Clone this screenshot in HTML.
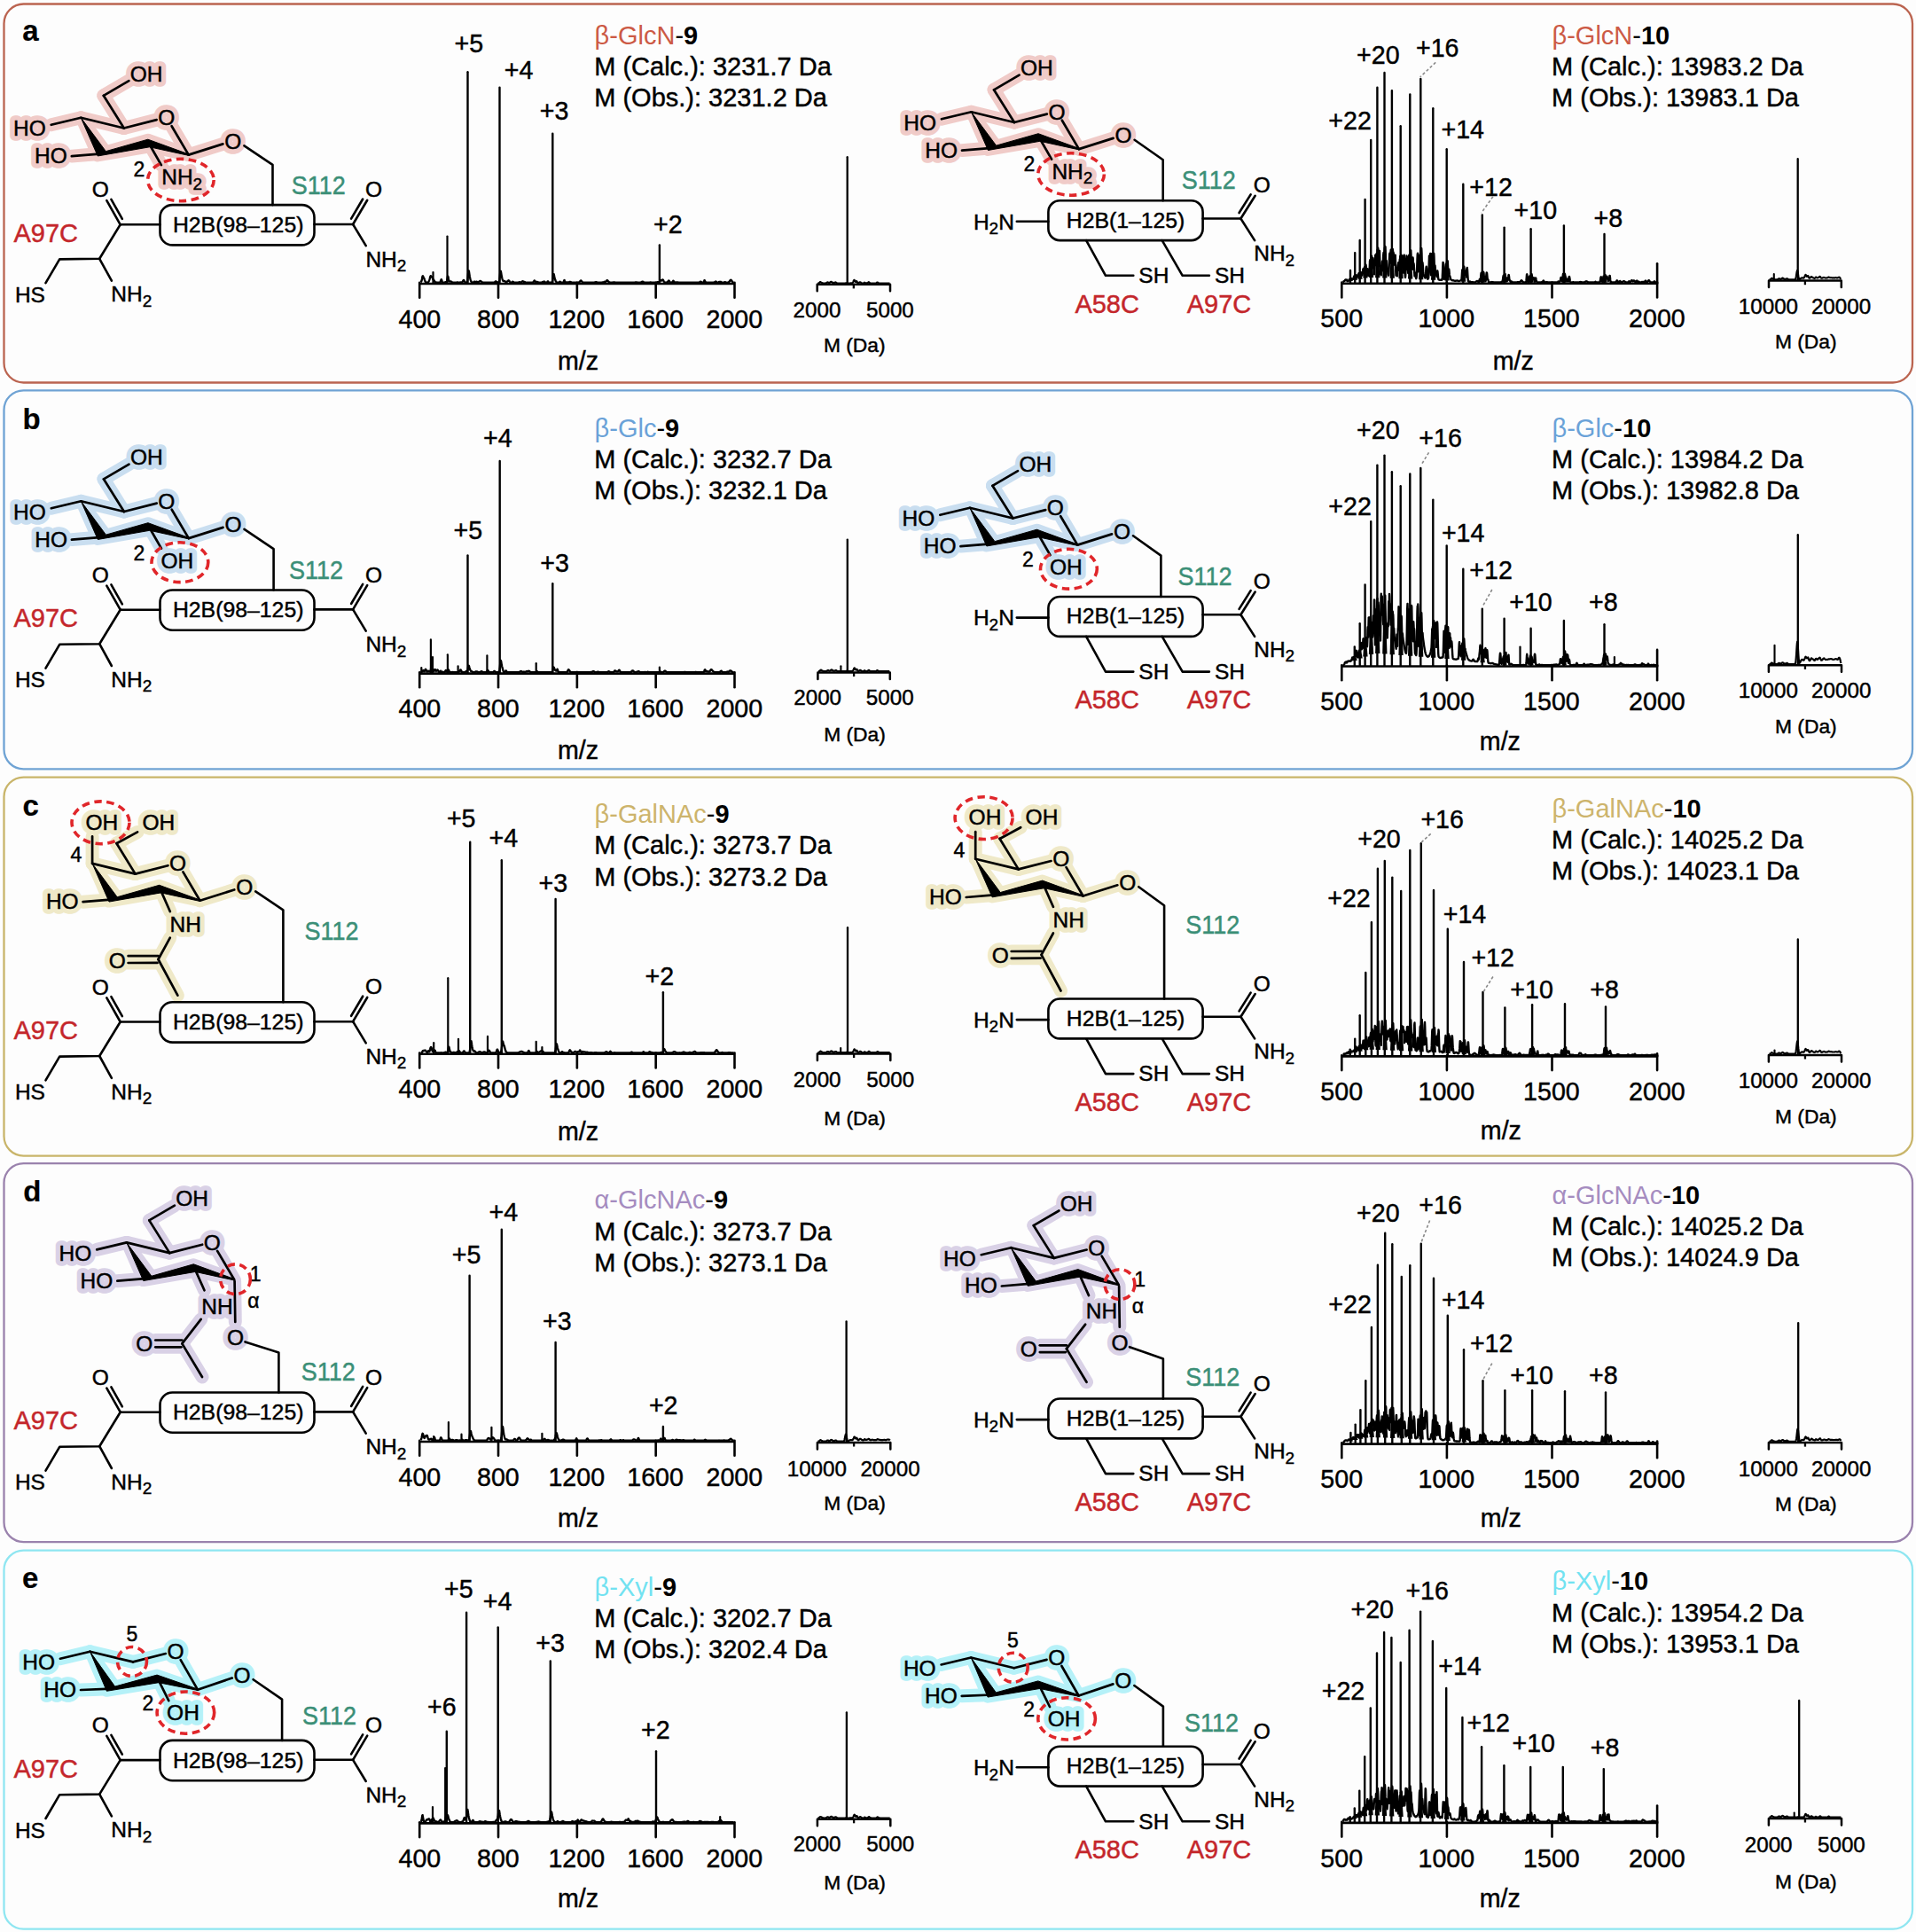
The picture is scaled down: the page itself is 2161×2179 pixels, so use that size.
<!DOCTYPE html>
<html><head><meta charset="utf-8"><title>Figure</title><style>html,body{margin:0;padding:0;background:#fdfdfd;}svg{display:block;}</style></head><body>
<svg xmlns="http://www.w3.org/2000/svg" width="2161" height="2179" viewBox="0 0 2161 2179" font-family="Liberation Sans, Arial, sans-serif">
<rect width="2161" height="2179" fill="#fdfdfd"/>
<rect x="4.5" y="4.5" width="2152.5" height="427" rx="22" ry="22" fill="none" stroke="#bb6450" stroke-width="2.3"/>
<rect x="4.5" y="440.3" width="2152.5" height="427" rx="22" ry="22" fill="none" stroke="#6fa3d4" stroke-width="2.3"/>
<rect x="4.5" y="876.6" width="2152.5" height="427" rx="22" ry="22" fill="none" stroke="#c9b56a" stroke-width="2.3"/>
<rect x="4.5" y="1312.1" width="2152.5" height="427" rx="22" ry="22" fill="none" stroke="#9a82ad" stroke-width="2.3"/>
<rect x="4.5" y="1748.7" width="2152.5" height="427" rx="22" ry="22" fill="none" stroke="#8fe6f1" stroke-width="2.3"/>
<text x="25.3" y="45.5" font-size="33" font-weight="bold" stroke="#000" stroke-width="0.2">a</text>
<g stroke="#f0cbc8" fill="#f0cbc8" stroke-linecap="round" stroke-linejoin="round">
<line x1="91.3" y1="132.8" x2="139.8" y2="144.5" stroke-width="15"/>
<line x1="139.8" y1="144.5" x2="176.65" y2="135.13" stroke-width="15"/>
<line x1="193.63" y1="142.21" x2="212.7" y2="174.6" stroke-width="15"/>
<path d="M91.3 132.8 L110.22 175.96 L168.76 165.79 L212.87 175.38 L212.53 173.82 L166.84 157.21 L119.38 170.64Z" stroke-width="13"/>
<line x1="139.8" y1="144.5" x2="116.8" y2="107.8" stroke-width="15"/>
<line x1="57.7" y1="140.8" x2="91.3" y2="132.8" stroke-width="15"/>
<text x="15" y="153.3" font-size="24.5" stroke-width="11.5">HO</text>
<line x1="116.8" y1="107.8" x2="145.4" y2="91.1" stroke-width="15"/>
<text x="146.8" y="91.8" font-size="24.5" stroke-width="11.5">OH</text>
<line x1="80.8" y1="176.1" x2="114.8" y2="173.3" stroke-width="15"/>
<text x="39.1" y="184" font-size="24.5" stroke-width="11.5">HO</text>
<text x="187.8" y="141.1" font-size="24.5" text-anchor="middle" stroke-width="11.5">O</text>
<line x1="212.7" y1="174.6" x2="251.45" y2="162.4" stroke-width="15"/>
<text x="262.9" y="167.6" font-size="24.5" text-anchor="middle" stroke-width="11.5">O</text>
<line x1="167.8" y1="161.5" x2="181.9" y2="186.1" stroke-width="15"/>
<text x="182.2" y="208" font-size="24.5" stroke-width="11.5">NH<tspan font-size="19" dy="5.5">2</tspan></text>
</g>
<line x1="91.3" y1="132.8" x2="139.8" y2="144.5" stroke="#000" stroke-width="2.7" stroke-linecap="round"/>
<line x1="139.8" y1="144.5" x2="176.65" y2="135.13" stroke="#000" stroke-width="2.7" stroke-linecap="round"/>
<line x1="193.63" y1="142.21" x2="212.7" y2="174.6" stroke="#000" stroke-width="2.7" stroke-linecap="round"/>
<path d="M91.3 132.8 L110.22 175.96 L168.76 165.79 L212.87 175.38 L212.53 173.82 L166.84 157.21 L119.38 170.64Z" fill="#000" stroke="#000" stroke-width="1" stroke-linejoin="round"/>
<line x1="139.8" y1="144.5" x2="116.8" y2="107.8" stroke="#000" stroke-width="2.7" stroke-linecap="round"/>
<line x1="57.7" y1="140.8" x2="91.3" y2="132.8" stroke="#000" stroke-width="2.7" stroke-linecap="round"/>
<text x="15" y="153.3" font-size="24.5" stroke="#000" stroke-width="0.45">HO</text>
<line x1="116.8" y1="107.8" x2="145.4" y2="91.1" stroke="#000" stroke-width="2.7" stroke-linecap="round"/>
<text x="146.8" y="91.8" font-size="24.5" stroke="#000" stroke-width="0.45">OH</text>
<line x1="80.8" y1="176.1" x2="114.8" y2="173.3" stroke="#000" stroke-width="2.7" stroke-linecap="round"/>
<text x="39.1" y="184" font-size="24.5" stroke="#000" stroke-width="0.45">HO</text>
<text x="187.8" y="141.1" font-size="24.5" text-anchor="middle" stroke="#000" stroke-width="0.45">O</text>
<line x1="212.7" y1="174.6" x2="251.45" y2="162.4" stroke="#000" stroke-width="2.7" stroke-linecap="round"/>
<text x="262.9" y="167.6" font-size="24.5" text-anchor="middle" stroke="#000" stroke-width="0.45">O</text>
<line x1="167.8" y1="161.5" x2="181.9" y2="186.1" stroke="#000" stroke-width="2.7" stroke-linecap="round"/>
<text x="182.2" y="208" font-size="24.5" stroke="#000" stroke-width="0.45">NH<tspan font-size="19" dy="5.5">2</tspan></text>
<text x="150.4" y="199.3" font-size="23" stroke="#000" stroke-width="0.45">2</text>
<ellipse cx="203.9" cy="203" rx="37.3" ry="23.7" fill="none" stroke="#e0262a" stroke-width="3.6" stroke-dasharray="8.5 5.5"/>
<rect x="180.5" y="231.1" width="174" height="45.3" rx="14" ry="14" fill="none" stroke="#000" stroke-width="2.6"/>
<text x="268.7" y="261.9" font-size="24.7" text-anchor="middle" textLength="147.6" lengthAdjust="spacingAndGlyphs" stroke="#000" stroke-width="0.45">H2B(98–125)</text>
<line x1="135.7" y1="253.3" x2="180.5" y2="253.3" stroke="#000" stroke-width="2.6" stroke-linecap="round"/>
<line x1="135.7" y1="253.3" x2="120.34" y2="226.12" stroke="#000" stroke-width="2.6" stroke-linecap="round"/>
<line x1="137.84" y1="246.92" x2="125.43" y2="224.97" stroke="#000" stroke-width="2.6" stroke-linecap="round"/>
<text x="113.2" y="222.3" font-size="24.5" text-anchor="middle" stroke="#000" stroke-width="0.45">O</text>
<path d="M135.7 253.3 L112.2 291.8 L67.2 292.4 L51.5 319.2" stroke="#000" stroke-width="2.6" fill="none" stroke-linejoin="round" stroke-linecap="round"/>
<line x1="112.2" y1="291.8" x2="125.9" y2="316.6" stroke="#000" stroke-width="2.6" stroke-linecap="round"/>
<text x="16.9" y="340.7" font-size="24.5" stroke="#000" stroke-width="0.45">HS</text>
<text x="125.3" y="340.4" font-size="24.5" stroke="#000" stroke-width="0.45">NH<tspan font-size="19" dy="5.5">2</tspan></text>
<text x="15.5" y="272.9" font-size="28.6" textLength="72.5" lengthAdjust="spacingAndGlyphs" fill="#c4262b" stroke="#c4262b" stroke-width="0.45">A97C</text>
<line x1="354.5" y1="253" x2="398.1" y2="253" stroke="#000" stroke-width="2.6" stroke-linecap="round"/>
<line x1="398.1" y1="253" x2="414.21" y2="225.78" stroke="#000" stroke-width="2.6" stroke-linecap="round"/>
<line x1="396.09" y1="246.58" x2="409.15" y2="224.52" stroke="#000" stroke-width="2.6" stroke-linecap="round"/>
<text x="421.6" y="222.1" font-size="24.5" text-anchor="middle" stroke="#000" stroke-width="0.45">O</text>
<line x1="398.1" y1="253" x2="412.7" y2="277.2" stroke="#000" stroke-width="2.6" stroke-linecap="round"/>
<text x="412.4" y="300.7" font-size="24.5" stroke="#000" stroke-width="0.45">NH<tspan font-size="19" dy="5.5">2</tspan></text>
<path d="M275.4 164.3 L307.5 185.8 L307.5 231.1" stroke="#000" stroke-width="2.6" fill="none" stroke-linejoin="round" stroke-linecap="round"/>
<text x="328.7" y="219.4" font-size="28.6" textLength="61" lengthAdjust="spacingAndGlyphs" fill="#3b8f77" stroke="#3b8f77" stroke-width="0.45">S112</text>
<g stroke="#f0cbc8" fill="#f0cbc8" stroke-linecap="round" stroke-linejoin="round">
<line x1="1095.5" y1="126.3" x2="1144" y2="138" stroke-width="15"/>
<line x1="1144" y1="138" x2="1180.85" y2="128.63" stroke-width="15"/>
<line x1="1197.83" y1="135.71" x2="1216.9" y2="168.1" stroke-width="15"/>
<path d="M1095.5 126.3 L1114.42 169.46 L1172.96 159.29 L1217.07 168.88 L1216.73 167.32 L1171.04 150.71 L1123.58 164.14Z" stroke-width="13"/>
<line x1="1144" y1="138" x2="1121" y2="101.3" stroke-width="15"/>
<line x1="1061.9" y1="134.3" x2="1095.5" y2="126.3" stroke-width="15"/>
<text x="1019.2" y="146.8" font-size="24.5" stroke-width="11.5">HO</text>
<line x1="1121" y1="101.3" x2="1149.6" y2="84.6" stroke-width="15"/>
<text x="1151" y="85.3" font-size="24.5" stroke-width="11.5">OH</text>
<line x1="1085" y1="169.6" x2="1119" y2="166.8" stroke-width="15"/>
<text x="1043.3" y="177.5" font-size="24.5" stroke-width="11.5">HO</text>
<text x="1192" y="134.6" font-size="24.5" text-anchor="middle" stroke-width="11.5">O</text>
<line x1="1216.9" y1="168.1" x2="1255.65" y2="155.9" stroke-width="15"/>
<text x="1267.1" y="161.1" font-size="24.5" text-anchor="middle" stroke-width="11.5">O</text>
<line x1="1172" y1="155" x2="1186.1" y2="179.6" stroke-width="15"/>
<text x="1186.4" y="201.5" font-size="24.5" stroke-width="11.5">NH<tspan font-size="19" dy="5.5">2</tspan></text>
</g>
<line x1="1095.5" y1="126.3" x2="1144" y2="138" stroke="#000" stroke-width="2.7" stroke-linecap="round"/>
<line x1="1144" y1="138" x2="1180.85" y2="128.63" stroke="#000" stroke-width="2.7" stroke-linecap="round"/>
<line x1="1197.83" y1="135.71" x2="1216.9" y2="168.1" stroke="#000" stroke-width="2.7" stroke-linecap="round"/>
<path d="M1095.5 126.3 L1114.42 169.46 L1172.96 159.29 L1217.07 168.88 L1216.73 167.32 L1171.04 150.71 L1123.58 164.14Z" fill="#000" stroke="#000" stroke-width="1" stroke-linejoin="round"/>
<line x1="1144" y1="138" x2="1121" y2="101.3" stroke="#000" stroke-width="2.7" stroke-linecap="round"/>
<line x1="1061.9" y1="134.3" x2="1095.5" y2="126.3" stroke="#000" stroke-width="2.7" stroke-linecap="round"/>
<text x="1019.2" y="146.8" font-size="24.5" stroke="#000" stroke-width="0.45">HO</text>
<line x1="1121" y1="101.3" x2="1149.6" y2="84.6" stroke="#000" stroke-width="2.7" stroke-linecap="round"/>
<text x="1151" y="85.3" font-size="24.5" stroke="#000" stroke-width="0.45">OH</text>
<line x1="1085" y1="169.6" x2="1119" y2="166.8" stroke="#000" stroke-width="2.7" stroke-linecap="round"/>
<text x="1043.3" y="177.5" font-size="24.5" stroke="#000" stroke-width="0.45">HO</text>
<text x="1192" y="134.6" font-size="24.5" text-anchor="middle" stroke="#000" stroke-width="0.45">O</text>
<line x1="1216.9" y1="168.1" x2="1255.65" y2="155.9" stroke="#000" stroke-width="2.7" stroke-linecap="round"/>
<text x="1267.1" y="161.1" font-size="24.5" text-anchor="middle" stroke="#000" stroke-width="0.45">O</text>
<line x1="1172" y1="155" x2="1186.1" y2="179.6" stroke="#000" stroke-width="2.7" stroke-linecap="round"/>
<text x="1186.4" y="201.5" font-size="24.5" stroke="#000" stroke-width="0.45">NH<tspan font-size="19" dy="5.5">2</tspan></text>
<text x="1154.6" y="192.8" font-size="23" stroke="#000" stroke-width="0.45">2</text>
<ellipse cx="1208.1" cy="196.5" rx="37.3" ry="23.7" fill="none" stroke="#e0262a" stroke-width="3.6" stroke-dasharray="8.5 5.5"/>
<rect x="1182.4" y="226.2" width="174.2" height="44.9" rx="13" ry="13" fill="none" stroke="#000" stroke-width="2.6"/>
<text x="1269.5" y="256.5" font-size="24.7" text-anchor="middle" textLength="133.5" lengthAdjust="spacingAndGlyphs" stroke="#000" stroke-width="0.45">H2B(1–125)</text>
<line x1="1146.8" y1="249.8" x2="1182.4" y2="249.8" stroke="#000" stroke-width="2.6" stroke-linecap="round"/>
<text x="1097.9" y="258.6" font-size="24.5" stroke="#000" stroke-width="0.45">H<tspan font-size="19" dy="5.5">2</tspan><tspan dy="-5.5">N</tspan></text>
<line x1="1356.6" y1="246.5" x2="1399.4" y2="246.5" stroke="#000" stroke-width="2.6" stroke-linecap="round"/>
<line x1="1399.4" y1="246.5" x2="1415.66" y2="220.76" stroke="#000" stroke-width="2.6" stroke-linecap="round"/>
<line x1="1397.58" y1="240.03" x2="1410.63" y2="219.36" stroke="#000" stroke-width="2.6" stroke-linecap="round"/>
<text x="1423.4" y="217.3" font-size="24.5" text-anchor="middle" stroke="#000" stroke-width="0.45">O</text>
<line x1="1399.4" y1="246.5" x2="1415.1" y2="271.1" stroke="#000" stroke-width="2.6" stroke-linecap="round"/>
<text x="1414.2" y="294" font-size="24.5" stroke="#000" stroke-width="0.45">NH<tspan font-size="19" dy="5.5">2</tspan></text>
<path d="M1225.1 271.1 L1247 310.8 L1278.3 310.8" stroke="#000" stroke-width="2.6" fill="none" stroke-linejoin="round" stroke-linecap="round"/>
<path d="M1310.7 271.1 L1333.7 310.8 L1363.9 310.8" stroke="#000" stroke-width="2.6" fill="none" stroke-linejoin="round" stroke-linecap="round"/>
<text x="1284.3" y="319.1" font-size="24.5" stroke="#000" stroke-width="0.45">SH</text>
<text x="1369.9" y="319.1" font-size="24.5" stroke="#000" stroke-width="0.45">SH</text>
<text x="1212.4" y="352.5" font-size="28.6" textLength="72.5" lengthAdjust="spacingAndGlyphs" fill="#c4262b" stroke="#c4262b" stroke-width="0.45">A58C</text>
<text x="1338.7" y="352.5" font-size="28.6" textLength="72.5" lengthAdjust="spacingAndGlyphs" fill="#c4262b" stroke="#c4262b" stroke-width="0.45">A97C</text>
<path d="M1279.6 157.8 L1311.7 180.3 L1311.7 226.2" stroke="#000" stroke-width="2.6" fill="none" stroke-linejoin="round" stroke-linecap="round"/>
<text x="1332.7" y="212.6" font-size="28.6" textLength="61" lengthAdjust="spacingAndGlyphs" fill="#3b8f77" stroke="#3b8f77" stroke-width="0.45">S112</text>
<path d="M474.5 318.28 474.85 317.96 475.2 317.43 475.55 316.54 475.9 315.03 476.25 313.03 476.6 311.5 476.95 311.29 477.3 312.01 477.65 312.78 478 313.32 478.35 313.96 478.7 314.92 479.05 316.05 479.4 317.03 479.75 317.74 480.1 318.19 480.45 318.45 480.8 318.59 481.15 318.65 481.5 318.68 481.85 318.68 482.2 318.64 482.55 318.55 482.9 318.33 483.25 317.92 483.6 317.3 483.95 316.49 484.3 315.58 484.65 314.55 485 313.27 485.35 311.91 485.7 311.14 486.05 311.3 486.4 311.82 486.75 312.2 487.1 312.45 487.45 312.77 487.8 313.35 488.15 314.18 488.5 315 488.85 315.56 489.2 315.89 489.55 316.31 489.9 316.93 490.25 317.55 490.6 317.97 490.95 318.19 491.3 318.31 491.65 318.41 492 318.49 492.35 318.57 492.7 318.62 493.05 318.66 493.4 318.68 493.75 318.69 494.1 318.7 494.45 318.7 494.8 318.7 495.15 318.69 495.5 318.68 495.85 318.63 496.2 318.49 496.55 318.13 496.9 317.37 497.25 316.24 497.6 315.31 497.95 315.31 498.3 316.25 498.65 317.39 499 318.15 499.35 318.49 499.7 318.63 500.05 318.67 500.4 318.68 500.75 318.68 501.1 318.65 501.45 318.56 501.8 318.41 502.15 318.24 502.5 318.14 502.85 318.18 503.2 318.32 503.55 318.37 503.9 317.9 504.25 316.27 504.6 313.67 504.95 311.77 505.3 311.69 505.65 313.1 506 315.07 506.35 316.66 506.7 317.43 507.05 317.64 507.4 317.62 507.75 317.52 508.1 317.43 508.45 317.43 508.8 317.54 509.15 317.74 509.5 317.98 509.85 318.2 510.2 318.39 510.55 318.52 510.9 318.6 511.25 318.65 511.6 318.68 511.95 318.69 512.3 318.7 512.65 318.7 513 318.7 513.35 318.7 513.7 318.7 514.05 318.7 514.4 318.69 514.75 318.67 515.1 318.61 515.45 318.51 515.8 318.43 516.15 318.46 516.5 318.55 516.85 318.62 517.2 318.66 517.55 318.68 517.9 318.67 518.25 318.64 518.6 318.6 518.95 318.53 519.3 318.46 519.65 318.39 520 318.36 520.35 318.36 520.7 318.37 521.05 318.34 521.4 318.18 521.75 317.79 522.1 317.17 522.45 316.44 522.8 315.92 523.15 315.88 523.5 316.38 523.85 317.17 524.2 317.89 524.55 318.36 524.9 318.59 525.25 318.67 525.6 318.69 525.95 318.67 526.3 318.57 526.65 318.21 527 317.28 527.35 315.36 527.7 312.24 528.05 308.56 528.4 305.85 528.75 305.39 529.1 307.05 529.45 309.56 529.8 311.8 530.15 313.51 530.5 314.89 530.85 316.08 531.2 317.07 531.55 317.8 531.9 318.26 532.25 318.51 532.6 318.62 532.95 318.66 533.3 318.65 533.65 318.57 534 318.38 534.35 318.08 534.7 317.76 535.05 317.59 535.4 317.63 535.75 317.8 536.1 317.94 536.45 317.96 536.8 317.89 537.15 317.8 537.5 317.76 537.85 317.79 538.2 317.89 538.55 318.02 538.9 318.15 539.25 318.22 539.6 318.19 539.95 318.06 540.3 317.82 540.65 317.53 541 317.24 541.35 317.04 541.7 316.99 542.05 317.1 542.4 317.31 542.75 317.58 543.1 317.84 543.45 318.07 543.8 318.26 544.15 318.41 544.5 318.52 544.85 318.6 545.2 318.65 545.55 318.68 545.9 318.69 546.25 318.7 546.6 318.7 546.95 318.7 547.3 318.7 547.65 318.69 548 318.68 548.35 318.67 548.7 318.64 549.05 318.62 549.4 318.61 549.75 318.61 550.1 318.63 550.45 318.66 550.8 318.68 551.15 318.69 551.5 318.7 551.85 318.7 552.2 318.7 552.55 318.7 552.9 318.7 553.25 318.7 553.6 318.7 553.95 318.7 554.3 318.7 554.65 318.7 555 318.7 555.35 318.7 555.7 318.7 556.05 318.7 556.4 318.7 556.75 318.68 557.1 318.65 557.45 318.55 557.8 318.37 558.15 318.09 558.5 317.75 558.85 317.48 559.2 317.39 559.55 317.51 559.9 317.77 560.25 318.05 560.6 318.26 560.95 318.39 561.3 318.46 561.65 318.51 562 318.54 562.35 318.49 562.7 318.21 563.05 317.33 563.4 315.38 563.75 312.22 564.1 308.65 564.45 306.16 564.8 305.85 565.15 307.4 565.5 309.62 565.85 311.61 566.2 313.2 566.55 314.54 566.9 315.66 567.25 316.48 567.6 316.94 567.95 317.09 568.3 317.07 568.65 317.03 569 317.06 569.35 317.21 569.7 317.46 570.05 317.73 570.4 317.96 570.75 318.09 571.1 318.1 571.45 317.99 571.8 317.8 572.15 317.55 572.5 317.24 572.85 316.89 573.2 316.55 573.55 316.32 573.9 316.34 574.25 316.63 574.6 317.12 574.95 317.65 575.3 318.1 575.65 318.41 576 318.58 576.35 318.65 576.7 318.65 577.05 318.58 577.4 318.38 577.75 318.08 578.1 317.81 578.45 317.76 578.8 317.97 579.15 318.28 579.5 318.52 579.85 318.64 580.2 318.68 580.55 318.7 580.9 318.7 581.25 318.7 581.6 318.7 581.95 318.7 582.3 318.7 582.65 318.7 583 318.7 583.35 318.7 583.7 318.7 584.05 318.7 584.4 318.68 584.75 318.62 585.1 318.47 585.45 318.3 585.8 318.24 586.15 318.35 586.5 318.51 586.85 318.58 587.2 318.55 587.55 318.44 587.9 318.24 588.25 317.98 588.6 317.71 588.95 317.47 589.3 317.27 589.65 317.24 590 317.42 590.35 317.68 590.7 317.85 591.05 317.87 591.4 317.86 591.75 318.01 592.1 318.32 592.45 318.56 592.8 318.67 593.15 318.69 593.5 318.7 593.85 318.7 594.2 318.7 594.55 318.7 594.9 318.7 595.25 318.68 595.6 318.65 595.95 318.63 596.3 318.65 596.65 318.68 597 318.69 597.35 318.69 597.7 318.68 598.05 318.67 598.4 318.65 598.75 318.63 599.1 318.61 599.45 318.59 599.8 318.58 600.15 318.58 600.5 318.59 600.85 318.58 601.2 318.52 601.55 318.29 601.9 317.79 602.25 317.08 602.6 316.52 602.95 316.47 603.3 316.91 603.65 317.47 604 317.86 604.35 318.03 604.7 318.06 605.05 318.02 605.4 317.98 605.75 317.97 606.1 318.04 606.45 318.16 606.8 318.3 607.15 318.44 607.5 318.54 607.85 318.59 608.2 318.62 608.55 318.63 608.9 318.63 609.25 318.64 609.6 318.65 609.95 318.67 610.3 318.68 610.65 318.69 611 318.66 611.35 318.54 611.7 318.27 612.05 318.01 612.4 318.01 612.75 318.16 613.1 318.06 613.45 317.7 613.8 317.5 614.15 317.74 614.5 318.19 614.85 318.5 615.2 318.64 615.55 318.68 615.9 318.69 616.25 318.66 616.6 318.58 616.95 318.37 617.3 317.93 617.65 317.38 618 317.29 618.35 317.82 618.7 318.36 619.05 318.61 619.4 318.68 619.75 318.7 620.1 318.7 620.45 318.7 620.8 318.7 621.15 318.7 621.5 318.7 621.85 318.68 622.2 318.6 622.55 318.31 622.9 317.53 623.25 315.91 623.6 313.42 623.95 310.79 624.3 309.18 624.65 309.27 625 310.68 625.35 312.43 625.7 313.91 626.05 315.07 626.4 316.06 626.75 316.93 627.1 317.63 627.45 318.13 627.8 318.43 628.15 318.59 628.5 318.66 628.85 318.69 629.2 318.7 629.55 318.7 629.9 318.7 630.25 318.67 630.6 318.55 630.95 318.24 631.3 317.83 631.65 317.68 632 317.95 632.35 318.35 632.7 318.6 633.05 318.68 633.4 318.7 633.75 318.7 634.1 318.7 634.45 318.7 634.8 318.7 635.15 318.68 635.5 318.49 635.85 317.7 636.2 316.35 636.55 315.94 636.9 317.06 637.25 318.13 637.6 318.48 637.95 318.51 638.3 318.49 638.65 318.48 639 318.45 639.35 318.39 639.7 318.33 640.05 318.34 640.4 318.41 640.75 318.47 641.1 318.45 641.45 318.36 641.8 318.25 642.15 318.13 642.5 318.01 642.85 317.91 643.2 317.9 643.55 318.02 643.9 318.25 644.25 318.48 644.6 318.61 644.95 318.67 645.3 318.69 645.65 318.69 646 318.69 646.35 318.69 646.7 318.69 647.05 318.69 647.4 318.7 647.75 318.7 648.1 318.7 648.45 318.7 648.8 318.7 649.15 318.7 649.5 318.7 649.85 318.7 650.2 318.7 650.55 318.7 650.9 318.7 651.25 318.7 651.6 318.7 651.95 318.69 652.3 318.67 652.65 318.61 653 318.51 653.35 318.32 653.7 318.01 654.05 317.58 654.4 317.09 654.75 316.65 655.1 316.44 655.45 316.52 655.8 316.88 656.15 317.37 656.5 317.84 656.85 318.2 657.2 318.42 657.55 318.54 657.9 318.6 658.25 318.63 658.6 318.66 658.95 318.68 659.3 318.69 659.65 318.7 660 318.7 660.35 318.7 660.7 318.7 661.05 318.7 661.4 318.7 661.75 318.7 662.1 318.7 662.45 318.7 662.8 318.7 663.15 318.7 663.5 318.7 663.85 318.7 664.2 318.7 664.55 318.7 664.9 318.7 665.25 318.7 665.6 318.69 665.95 318.67 666.3 318.66 666.65 318.66 667 318.66 667.35 318.67 667.7 318.67 668.05 318.67 668.4 318.66 668.75 318.66 669.1 318.65 669.45 318.65 669.8 318.63 670.15 318.6 670.5 318.54 670.85 318.46 671.2 318.38 671.55 318.3 671.9 318.25 672.25 318.23 672.6 318.26 672.95 318.32 673.3 318.41 673.65 318.49 674 318.57 674.35 318.62 674.7 318.66 675.05 318.68 675.4 318.69 675.75 318.7 676.1 318.7 676.45 318.7 676.8 318.7 677.15 318.7 677.5 318.69 677.85 318.68 678.2 318.65 678.55 318.61 678.9 318.57 679.25 318.54 679.6 318.53 679.95 318.51 680.3 318.46 680.65 318.35 681 318.17 681.35 317.98 681.7 317.81 682.05 317.72 682.4 317.72 682.75 317.77 683.1 317.79 683.45 317.66 683.8 317.32 684.15 316.81 684.5 316.33 684.85 316.11 685.2 316.26 685.55 316.7 685.9 317.23 686.25 317.68 686.6 317.99 686.95 318.2 687.3 318.34 687.65 318.46 688 318.55 688.35 318.62 688.7 318.66 689.05 318.68 689.4 318.69 689.75 318.68 690.1 318.67 690.45 318.64 690.8 318.61 691.15 318.56 691.5 318.5 691.85 318.46 692.2 318.43 692.55 318.42 692.9 318.45 693.25 318.49 693.6 318.54 693.95 318.59 694.3 318.63 694.65 318.66 695 318.68 695.35 318.69 695.7 318.7 696.05 318.7 696.4 318.7 696.75 318.7 697.1 318.7 697.45 318.7 697.8 318.7 698.15 318.69 698.5 318.68 698.85 318.67 699.2 318.66 699.55 318.64 699.9 318.64 700.25 318.64 700.6 318.65 700.95 318.67 701.3 318.68 701.65 318.69 702 318.7 702.35 318.7 702.7 318.7 703.05 318.7 703.4 318.7 703.75 318.7 704.1 318.7 704.45 318.7 704.8 318.7 705.15 318.7 705.5 318.7 705.85 318.7 706.2 318.7 706.55 318.7 706.9 318.7 707.25 318.7 707.6 318.7 707.95 318.7 708.3 318.7 708.65 318.7 709 318.7 709.35 318.7 709.7 318.7 710.05 318.7 710.4 318.7 710.75 318.7 711.1 318.7 711.45 318.7 711.8 318.7 712.15 318.7 712.5 318.7 712.85 318.7 713.2 318.7 713.55 318.7 713.9 318.7 714.25 318.7 714.6 318.7 714.95 318.69 715.3 318.67 715.65 318.64 716 318.59 716.35 318.51 716.7 318.43 717.05 318.37 717.4 318.35 717.75 318.38 718.1 318.45 718.45 318.53 718.8 318.61 719.15 318.65 719.5 318.68 719.85 318.69 720.2 318.69 720.55 318.7 720.9 318.7 721.25 318.69 721.6 318.68 721.95 318.65 722.3 318.59 722.65 318.5 723 318.39 723.35 318.24 723.7 318.06 724.05 317.88 724.4 317.76 724.75 317.72 725.1 317.79 725.45 317.95 725.8 318.15 726.15 318.33 726.5 318.49 726.85 318.59 727.2 318.65 727.55 318.68 727.9 318.69 728.25 318.7 728.6 318.7 728.95 318.7 729.3 318.7 729.65 318.7 730 318.7 730.35 318.69 730.7 318.67 731.05 318.63 731.4 318.6 731.75 318.61 732.1 318.65 732.45 318.67 732.8 318.65 733.15 318.53 733.5 318.35 733.85 318.35 734.2 318.53 734.55 318.66 734.9 318.7 735.25 318.7 735.6 318.7 735.95 318.7 736.3 318.7 736.65 318.7 737 318.7 737.35 318.7 737.7 318.7 738.05 318.7 738.4 318.7 738.75 318.69 739.1 318.68 739.45 318.65 739.8 318.62 740.15 318.56 740.5 318.48 740.85 318.38 741.2 318.29 741.55 318.22 741.9 318.18 742.25 318.19 742.6 318.24 742.95 318.28 743.3 318.26 743.65 318.06 744 317.6 744.35 316.94 744.7 316.34 745.05 316.08 745.4 316.18 745.75 316.39 746.1 316.45 746.45 316.23 746.8 315.86 747.15 315.53 747.5 315.45 747.85 315.71 748.2 316.27 748.55 316.97 748.9 317.62 749.25 318.12 749.6 318.42 749.95 318.59 750.3 318.66 750.65 318.69 751 318.69 751.35 318.67 751.7 318.62 752.05 318.52 752.4 318.44 752.75 318.31 753.1 318 753.45 317.45 753.8 316.83 754.15 316.45 754.5 316.54 754.85 317.05 755.2 317.7 755.55 318.22 755.9 318.51 756.25 318.64 756.6 318.69 756.95 318.7 757.3 318.7 757.65 318.68 758 318.58 758.35 318.31 758.7 317.75 759.05 317.06 759.4 316.69 759.75 316.95 760.1 317.6 760.45 318.17 760.8 318.44 761.15 318.5 761.5 318.49 761.85 318.49 762.2 318.5 762.55 318.5 762.9 318.46 763.25 318.4 763.6 318.35 763.95 318.33 764.3 318.35 764.65 318.42 765 318.5 765.35 318.57 765.7 318.63 766.05 318.67 766.4 318.69 766.75 318.7 767.1 318.7 767.45 318.7 767.8 318.7 768.15 318.7 768.5 318.7 768.85 318.7 769.2 318.7 769.55 318.7 769.9 318.7 770.25 318.7 770.6 318.7 770.95 318.7 771.3 318.7 771.65 318.7 772 318.7 772.35 318.7 772.7 318.7 773.05 318.7 773.4 318.7 773.75 318.7 774.1 318.7 774.45 318.7 774.8 318.7 775.15 318.7 775.5 318.7 775.85 318.7 776.2 318.7 776.55 318.7 776.9 318.7 777.25 318.7 777.6 318.7 777.95 318.7 778.3 318.7 778.65 318.7 779 318.7 779.35 318.7 779.7 318.7 780.05 318.7 780.4 318.7 780.75 318.7 781.1 318.7 781.45 318.7 781.8 318.7 782.15 318.7 782.5 318.7 782.85 318.7 783.2 318.7 783.55 318.7 783.9 318.7 784.25 318.7 784.6 318.7 784.95 318.7 785.3 318.7 785.65 318.7 786 318.7 786.35 318.7 786.7 318.7 787.05 318.7 787.4 318.7 787.75 318.69 788.1 318.66 788.45 318.58 788.8 318.45 789.15 318.23 789.5 317.98 789.85 317.78 790.2 317.71 790.55 317.81 790.9 318.03 791.25 318.28 791.6 318.48 791.95 318.6 792.3 318.66 792.65 318.68 793 318.67 793.35 318.62 793.7 318.36 794.05 317.48 794.4 316.3 794.75 316.25 795.1 317.19 795.45 317.83 795.8 318.07 796.15 318.25 796.5 318.41 796.85 318.55 797.2 318.63 797.55 318.67 797.9 318.69 798.25 318.7 798.6 318.7 798.95 318.7 799.3 318.7 799.65 318.7 800 318.7 800.35 318.7 800.7 318.7 801.05 318.7 801.4 318.7 801.75 318.7 802.1 318.7 802.45 318.7 802.8 318.7 803.15 318.7 803.5 318.7 803.85 318.69 804.2 318.68 804.55 318.65 804.9 318.61 805.25 318.54 805.6 318.47 805.95 318.39 806.3 318.26 806.65 318.01 807 317.68 807.35 317.55 807.7 317.79 808.05 318.21 808.4 318.52 808.75 318.64 809.1 318.66 809.45 318.64 809.8 318.6 810.15 318.51 810.5 318.3 810.85 318.02 811.2 317.9 811.55 317.95 811.9 317.96 812.25 317.88 812.6 317.82 812.95 317.9 813.3 318.1 813.65 318.33 814 318.52 814.35 318.63 814.7 318.67 815.05 318.69 815.4 318.7 815.75 318.69 816.1 318.67 816.45 318.6 816.8 318.48 817.15 318.33 817.5 318.2 817.85 318.18 818.2 318.29 818.55 318.45 818.9 318.58 819.25 318.66 819.6 318.69 819.95 318.7 820.3 318.7 820.65 318.69 821 318.67 821.35 318.61 821.7 318.5 822.05 318.3 822.4 317.97 822.75 317.51 823.1 316.94 823.45 316.37 823.8 315.93 824.15 315.73 824.5 315.82 824.85 316.12 825.2 316.53 825.55 317.05 825.9 317.67 826.25 318.17 826.6 318.45 826.95 318.59 827.3 318.65 827.65 318.68" fill="none" stroke="#000" stroke-width="2.4" stroke-linejoin="round"/>
<line x1="527.5" y1="319" x2="527.5" y2="81.3" stroke="#000" stroke-width="2.4" stroke-linecap="round"/>
<line x1="563.5" y1="319" x2="563.5" y2="98.8" stroke="#000" stroke-width="2.4" stroke-linecap="round"/>
<line x1="623.3" y1="319" x2="623.3" y2="150.8" stroke="#000" stroke-width="2.4" stroke-linecap="round"/>
<line x1="743.9" y1="319" x2="743.9" y2="276.4" stroke="#000" stroke-width="2.4" stroke-linecap="round"/>
<line x1="488.5" y1="319" x2="488.5" y2="307" stroke="#000" stroke-width="2.2" stroke-linecap="round"/>
<line x1="504.5" y1="319" x2="504.5" y2="266.5" stroke="#000" stroke-width="2.2" stroke-linecap="round"/>
<line x1="473.2" y1="320" x2="828.5" y2="320" stroke="#000" stroke-width="2.6" stroke-linecap="butt"/>
<line x1="473.2" y1="318.8" x2="473.2" y2="335.7" stroke="#000" stroke-width="2.6" stroke-linecap="round"/>
<text x="449.51" y="369.6" font-size="28.6" stroke="#000" stroke-width="0.45">400</text>
<line x1="562.02" y1="318.8" x2="562.02" y2="335.7" stroke="#000" stroke-width="2.6" stroke-linecap="round"/>
<text x="538.02" y="369.6" font-size="28.6" stroke="#000" stroke-width="0.45">800</text>
<line x1="650.85" y1="318.8" x2="650.85" y2="335.7" stroke="#000" stroke-width="2.6" stroke-linecap="round"/>
<text x="618.48" y="369.6" font-size="28.6" stroke="#000" stroke-width="0.45">1200</text>
<line x1="739.67" y1="318.8" x2="739.67" y2="335.7" stroke="#000" stroke-width="2.6" stroke-linecap="round"/>
<text x="707.3" y="369.6" font-size="28.6" stroke="#000" stroke-width="0.45">1600</text>
<line x1="828.5" y1="318.8" x2="828.5" y2="335.7" stroke="#000" stroke-width="2.6" stroke-linecap="round"/>
<text x="796.5" y="369.6" font-size="28.6" stroke="#000" stroke-width="0.45">2000</text>
<text x="629.05" y="416.8" font-size="28.6" stroke="#000" stroke-width="0.45">m/z</text>
<text x="512.52" y="58.9" font-size="28.6" stroke="#000" stroke-width="0.45">+5</text>
<text x="568.73" y="88.5" font-size="28.6" stroke="#000" stroke-width="0.45">+4</text>
<text x="608.83" y="135" font-size="28.6" stroke="#000" stroke-width="0.45">+3</text>
<text x="737.02" y="263.3" font-size="28.6" stroke="#000" stroke-width="0.45">+2</text>
<text x="670.6" y="49.6" font-size="29"><tspan fill="#cc5a45">β-GlcN</tspan>-<tspan font-weight="bold">9</tspan></text>
<text x="670.23" y="84.8" font-size="29" stroke="#000" stroke-width="0.45">M (Calc.): 3231.7 Da</text>
<text x="670.23" y="120" font-size="29" stroke="#000" stroke-width="0.45">M (Obs.): 3231.2 Da</text>
<path d="M922.2 319.6 922.5 319.59 922.8 319.57 923.1 319.53 923.4 319.44 923.7 319.28 924 319.02 924.3 318.7 924.6 318.38 924.9 318.15 925.2 318.08 925.5 318.15 925.8 318.33 926.1 318.52 926.4 318.7 926.7 318.85 927 318.98 927.3 319.11 927.6 319.23 927.9 319.34 928.2 319.42 928.5 319.49 928.8 319.53 929.1 319.56 929.4 319.58 929.7 319.59 930 319.58 930.3 319.57 930.6 319.55 930.9 319.51 931.2 319.44 931.5 319.34 931.8 319.2 932.1 319.02 932.4 318.83 932.7 318.65 933 318.5 933.3 318.43 933.6 318.45 933.9 318.54 934.2 318.7 934.5 318.86 934.8 319 935.1 319.06 935.4 319.03 935.7 318.9 936 318.69 936.3 318.44 936.6 318.19 936.9 317.99 937.2 317.86 937.5 317.84 937.8 317.93 938.1 318.12 938.4 318.36 938.7 318.63 939 318.85 939.3 319 939.6 319.02 939.9 318.97 940.2 318.95 940.5 319.01 940.8 319.04 941.1 318.97 941.4 318.81 941.7 318.62 942 318.47 942.3 318.42 942.6 318.49 942.9 318.65 943.2 318.86 943.5 319.07 943.8 319.25 944.1 319.39 944.4 319.49 944.7 319.55 945 319.58 945.3 319.59 945.6 319.6 945.9 319.6 946.2 319.6 946.5 319.6 946.8 319.6 947.1 319.6 947.4 319.6 947.7 319.6 948 319.6 948.3 319.6 948.6 319.6 948.9 319.6 949.2 319.6 949.5 319.6 949.8 319.6 950.1 319.6 950.4 319.6 950.7 319.6 951 319.6 951.3 319.6 951.6 319.6 951.9 319.6 952.2 319.6 952.5 319.6 952.8 319.6 953.1 319.59 953.4 319.56 953.7 319.46 954 319.31 954.3 319.24 954.6 319.33 954.9 319.48 955.2 319.57 955.5 319.59 955.8 319.6 956.1 319.6 956.4 319.6 956.7 319.6 957 319.6 957.3 319.6 957.6 319.59 957.9 319.58 958.2 319.57 958.5 319.55 958.8 319.51 959.1 319.45 959.4 319.38 959.7 319.36 960 319.41 960.3 319.45 960.6 319.46 960.9 319.4 961.2 319.27 961.5 319.06 961.8 318.74 962.1 318.3 962.4 317.72 962.7 317 963 316.26 963.3 315.79 963.6 315.82 963.9 316.23 964.2 316.82 964.5 317.41 964.8 317.85 965.1 317.98 965.4 317.76 965.7 317.35 966 317.1 966.3 317.25 966.6 317.78 966.9 318.42 967.2 318.93 967.5 319.22 967.8 319.32 968.1 319.27 968.4 319.14 968.7 318.96 969 318.75 969.3 318.55 969.6 318.38 969.9 318.26 970.2 318.26 970.5 318.39 970.8 318.63 971.1 318.9 971.4 319.13 971.7 319.31 972 319.43 972.3 319.51 972.6 319.55 972.9 319.58 973.2 319.59 973.5 319.59 973.8 319.56 974.1 319.46 974.4 319.2 974.7 318.86 975 318.66 975.3 318.79 975.6 319.1 975.9 319.34 976.2 319.41 976.5 319.4 976.8 319.39 977.1 319.4 977.4 319.43 977.7 319.46 978 319.46 978.3 319.39 978.6 319.23 978.9 318.95 979.2 318.63 979.5 318.35 979.8 318.22 980.1 318.31 980.4 318.57 980.7 318.89 981 319.17 981.3 319.36 981.6 319.48 981.9 319.53 982.2 319.56 982.5 319.58 982.8 319.59 983.1 319.59 983.4 319.6 983.7 319.6 984 319.6 984.3 319.6 984.6 319.6 984.9 319.6 985.2 319.6 985.5 319.6 985.8 319.6 986.1 319.6 986.4 319.6 986.7 319.6 987 319.6 987.3 319.59 987.6 319.57 987.9 319.51 988.2 319.39 988.5 319.19 988.8 318.93 989.1 318.68 989.4 318.54 989.7 318.57 990 318.73 990.3 318.94 990.6 319.13 990.9 319.29 991.2 319.4 991.5 319.49 991.8 319.54 992.1 319.57 992.4 319.59 992.7 319.59 993 319.6 993.3 319.6 993.6 319.6 993.9 319.6 994.2 319.6 994.5 319.6 994.8 319.6 995.1 319.6 995.4 319.6 995.7 319.6 996 319.6 996.3 319.6 996.6 319.6 996.9 319.6 997.2 319.6 997.5 319.6 997.8 319.6 998.1 319.6 998.4 319.6 998.7 319.6 999 319.6 999.3 319.6 999.6 319.6 999.9 319.6 1000.2 319.6 1000.5 319.6 1000.8 319.6 1001.1 319.6 1001.4 319.6 1001.7 319.6 1002 319.6 1002.3 319.6 1002.6 319.6 1002.9 319.6 1003.2 319.6 1003.5 319.6" fill="none" stroke="#000" stroke-width="2.2" stroke-linejoin="round"/>
<line x1="955.7" y1="319.8" x2="955.7" y2="177.2" stroke="#000" stroke-width="2.3" stroke-linecap="round"/>
<path d="M921.7 328.3 L921.7 320.8 L1004 320.8 L1004 328.3" stroke="#000" stroke-width="2.5" fill="none" stroke-linejoin="round" stroke-linecap="round"/>
<line x1="962.85" y1="320.8" x2="962.85" y2="325.4" stroke="#000" stroke-width="2.3" stroke-linecap="butt"/>
<text x="894.58" y="358" font-size="24.2" stroke="#000" stroke-width="0.45">2000</text>
<text x="977" y="358" font-size="24.2" stroke="#000" stroke-width="0.45">5000</text>
<text x="928.91" y="396.8" font-size="22.8" stroke="#000" stroke-width="0.45">M (Da)</text>
<path d="M1514.5 318.18 1514.75 318.05 1515 317.9 1515.25 317.68 1515.5 317.45 1515.75 317.24 1516 317.06 1516.25 316.92 1516.5 316.84 1516.75 316.5 1517 316.02 1517.25 315.65 1517.5 315.47 1517.75 315.51 1518 315.41 1518.25 315.68 1518.5 316.36 1518.75 315.56 1519 315.4 1519.25 315.98 1519.5 316.72 1519.75 317.15 1520 317.11 1520.25 317.01 1520.5 316.93 1520.75 316.75 1521 316.53 1521.25 316.28 1521.5 316.02 1521.75 315.43 1522 315 1522.25 314.99 1522.5 315.36 1522.75 315.25 1523 314.96 1523.25 314.87 1523.5 314.48 1523.75 314.2 1524 314.09 1524.25 314.5 1524.5 315.15 1524.75 315.15 1525 314.91 1525.25 314.88 1525.5 314.52 1525.75 314.39 1526 314.75 1526.25 314.24 1526.5 314.04 1526.75 313.49 1527 312.2 1527.25 311.46 1527.5 311.71 1527.75 312.76 1528 313.5 1528.25 312.17 1528.5 311.09 1528.75 310.78 1529 310.1 1529.25 310.18 1529.5 311.36 1529.75 312.9 1530 312.55 1530.25 312.16 1530.5 312.26 1530.75 312.68 1531 311.93 1531.25 311.35 1531.5 310.04 1531.75 309.82 1532 310.39 1532.25 308.85 1532.5 308.16 1532.75 308.63 1533 309.01 1533.25 310.5 1533.5 312.19 1533.75 312.23 1534 310.7 1534.25 308.44 1534.5 306.91 1534.75 307.04 1535 308.71 1535.25 310.89 1535.5 310.42 1535.75 309.9 1536 309.93 1536.25 309.99 1536.5 310.47 1536.75 309.14 1537 306.99 1537.25 304.32 1537.5 303.16 1537.75 304.15 1538 306.69 1538.25 305.86 1538.5 302.86 1538.75 301.99 1539 303.74 1539.25 301.08 1539.5 303.86 1539.75 304.71 1540 303.19 1540.25 300.47 1540.5 298.74 1540.75 300.38 1541 304.31 1541.25 307.02 1541.5 305.46 1541.75 305.02 1542 304.74 1542.25 303.21 1542.5 305.15 1542.75 308.67 1543 310.74 1543.25 310.91 1543.5 309.73 1543.75 306.62 1544 303.87 1544.25 303.64 1544.5 306.09 1544.75 301.87 1545 294.72 1545.25 293.12 1545.5 294.53 1545.75 299.55 1546 305.25 1546.25 306.84 1546.5 300.72 1546.75 293.5 1547 288.68 1547.25 289.28 1547.5 294.91 1547.75 302.16 1548 298.43 1548.25 292.82 1548.5 291.09 1548.75 294.38 1549 300.11 1549.25 301.36 1549.5 304.5 1549.75 307.95 1550 309.41 1550.25 305.25 1550.5 300.87 1550.75 299.49 1551 294.81 1551.25 287.59 1551.5 289.08 1551.75 297.83 1552 296.65 1552.25 289.3 1552.5 286.18 1552.75 289.32 1553 296.68 1553.25 301.77 1553.5 302.16 1553.75 294.68 1554 285.06 1554.25 279.75 1554.5 282.16 1554.75 290.7 1555 299.97 1555.25 296.13 1555.5 294.62 1555.75 284.8 1556 282.94 1556.25 291.55 1556.5 302.75 1556.75 308.37 1557 308.89 1557.25 309.39 1557.5 309.88 1557.75 310.33 1558 307.16 1558.25 302.48 1558.5 300.15 1558.75 301.24 1559 295.4 1559.25 294.41 1559.5 299.13 1559.75 305.19 1560 295.29 1560.25 287.25 1560.5 285.03 1560.75 285.74 1561 292.33 1561.25 297.84 1561.5 290.22 1561.75 284.96 1562 284.7 1562.25 278.94 1562.5 278.09 1562.75 285.17 1563 295.78 1563.25 296.61 1563.5 293.81 1563.75 294.15 1564 297.48 1564.25 302.31 1564.5 306.48 1564.75 303.29 1565 303.97 1565.25 307.78 1565.5 309.74 1565.75 310.24 1566 310.71 1566.25 310.2 1566.5 306.14 1566.75 299.78 1567 292.36 1567.25 286.71 1567.5 285.59 1567.75 289.62 1568 296.71 1568.25 293.05 1568.5 283.68 1568.75 281.77 1569 287.2 1569.25 290.3 1569.5 292.95 1569.75 286.27 1570 286.25 1570.25 292.9 1570.5 286.11 1570.75 280.87 1571 283.24 1571.25 291.58 1571.5 284.56 1571.75 285.48 1572 293.62 1572.25 297.03 1572.5 291.59 1572.75 287.83 1573 291.23 1573.25 299.21 1573.5 291.16 1573.75 287.79 1574 295.51 1574.25 305.89 1574.5 310.81 1574.75 307.63 1575 304.55 1575.25 303.86 1575.5 306.15 1575.75 309.58 1576 311.3 1576.25 308.04 1576.5 302.21 1576.75 299.02 1577 298.39 1577.25 296.12 1577.5 296.91 1577.75 300.36 1578 304.9 1578.25 302.11 1578.5 295.92 1578.75 292.51 1579 292.41 1579.25 288.97 1579.5 292.49 1579.75 300.29 1580 300.84 1580.25 292.93 1580.5 287.64 1580.75 288.3 1581 294.47 1581.25 301.83 1581.5 294.4 1581.75 288.98 1582 288.71 1582.25 293.76 1582.5 301.18 1582.75 307.58 1583 304.5 1583.25 296.96 1583.5 290.04 1583.75 287.62 1584 291.26 1584.25 298.66 1584.5 305.92 1584.75 310.7 1585 312.99 1585.25 310.57 1585.5 304.99 1585.75 298.32 1586 295.79 1586.25 298.07 1586.5 288.47 1586.75 289.36 1587 299.7 1587.25 303.87 1587.5 299.37 1587.75 298.87 1588 302.79 1588.25 308.1 1588.5 305.17 1588.75 298.8 1589 292.16 1589.25 287.74 1589.5 287.55 1589.75 291.68 1590 298.26 1590.25 296.69 1590.5 287.57 1590.75 283.32 1591 284.66 1591.25 282.36 1591.5 287.51 1591.75 296.82 1592 300.22 1592.25 297.25 1592.5 296.97 1592.75 299.5 1593 303.7 1593.25 297.38 1593.5 290.55 1593.75 292.15 1594 300.6 1594.25 298.58 1594.5 297.27 1594.75 299.23 1595 303.43 1595.25 307.93 1595.5 311.32 1595.75 309.32 1596 307.45 1596.25 307.44 1596.5 309.32 1596.75 311.73 1597 313.45 1597.25 314.22 1597.5 313.47 1597.75 311.39 1598 307.14 1598.25 300.43 1598.5 292.61 1598.75 286.69 1599 285.63 1599.25 290.01 1599.5 297.54 1599.75 304.95 1600 306.28 1600.25 300.04 1600.5 294.39 1600.75 292.31 1601 294.57 1601.25 288.19 1601.5 287.53 1601.75 293.03 1602 287.09 1602.25 280.08 1602.5 286.71 1602.75 291.66 1603 282.76 1603.25 280.27 1603.5 285.84 1603.75 295.91 1604 298.71 1604.25 296.38 1604.5 296.07 1604.75 298.81 1605 303.35 1605.25 307.95 1605.5 309.84 1605.75 310.38 1606 310.92 1606.25 311.44 1606.5 311.93 1606.75 312.39 1607 312.82 1607.25 313.19 1607.5 313.53 1607.75 312.32 1608 309.4 1608.25 305.53 1608.5 302.05 1608.75 300.64 1609 302.1 1609.25 305.61 1609.5 309.49 1609.75 312.43 1610 314.11 1610.25 314.7 1610.5 314.5 1610.75 314.28 1611 314.06 1611.25 312.24 1611.5 305.91 1611.75 295.85 1612 288.36 1612.25 290.37 1612.5 299.91 1612.75 300.78 1613 289.58 1613.25 285.93 1613.5 293.68 1613.75 305.07 1614 310.39 1614.25 306.04 1614.5 298.34 1614.75 290.47 1615 286.23 1615.25 288.06 1615.5 292.09 1615.75 296.81 1616 303.87 1616.25 309.21 1616.5 304.31 1616.75 295.64 1617 288.02 1617.25 285.9 1617.5 290.66 1617.75 299.29 1618 300.51 1618.25 299.42 1618.5 299.43 1618.75 301.78 1619 305.68 1619.25 309.58 1619.5 307.78 1619.75 307.29 1620 308.37 1620.25 310.48 1620.5 312.15 1620.75 309.35 1621 306.67 1621.25 305.52 1621.5 306.62 1621.75 309.29 1622 312.14 1622.25 314.16 1622.5 315.22 1622.75 315.38 1623 315.49 1623.25 315.58 1623.5 315.65 1623.75 315.71 1624 315.76 1624.25 315.8 1624.5 315.83 1624.75 315.82 1625 315.75 1625.25 315.66 1625.5 315.58 1625.75 315.57 1626 315.63 1626.25 315.75 1626.5 315.1 1626.75 312.9 1627 308.1 1627.25 301.29 1627.5 295.97 1627.75 296.07 1628 301.53 1628.25 308.35 1628.5 313.09 1628.75 314.89 1629 314.66 1629.25 314.4 1629.5 314.12 1629.75 313.82 1630 311.09 1630.25 306.2 1630.5 300.92 1630.75 298.01 1631 299.34 1631.25 300.62 1631.5 297.37 1631.75 297.52 1632 301 1632.25 298.4 1632.5 293.89 1632.75 294.46 1633 299.73 1633.25 304.48 1633.5 305.27 1633.75 303.85 1634 304.27 1634.25 303.59 1634.5 305.72 1634.75 309.38 1635 311.52 1635.25 311.38 1635.5 312.1 1635.75 313.35 1636 314.61 1636.25 314.91 1636.5 315.18 1636.75 315.42 1637 315.64 1637.25 315.83 1637.5 316 1637.75 316.14 1638 316.25 1638.25 316.33 1638.5 316.23 1638.75 316.16 1639 316.16 1639.25 316.23 1639.5 316.35 1639.75 316.49 1640 316.61 1640.25 316.67 1640.5 316.69 1640.75 316.72 1641 316.75 1641.25 316.78 1641.5 316.79 1641.75 316.77 1642 316.73 1642.25 316.68 1642.5 316.62 1642.75 316.56 1643 316.52 1643.25 316.49 1643.5 316.5 1643.75 316.53 1644 316.6 1644.25 316.69 1644.5 316.78 1644.75 316.87 1645 316.95 1645.25 316.96 1645.5 316.94 1645.75 316.91 1646 316.86 1646.25 316.8 1646.5 316.72 1646.75 316.63 1647 316.52 1647.25 316.38 1647.5 316.23 1647.75 316.06 1648 315.86 1648.25 315.65 1648.5 314.63 1648.75 311.51 1649 307.5 1649.25 304.4 1649.5 304.09 1649.75 306.79 1650 305.94 1650.25 307.55 1650.5 311.1 1650.75 306.18 1651 301.85 1651.25 300.65 1651.5 303.38 1651.75 305.36 1652 309.96 1652.25 308.56 1652.5 308.43 1652.75 309.78 1653 307.49 1653.25 306.24 1653.5 309.92 1653.75 312.46 1654 307.35 1654.25 303.2 1654.5 303.49 1654.75 302.02 1655 304.12 1655.25 308.5 1655.5 312.86 1655.75 315.79 1656 317.23 1656.25 317.57 1656.5 317.68 1656.75 317.77 1657 317.85 1657.25 317.92 1657.5 317.77 1657.75 317.55 1658 317.44 1658.25 317.57 1658.5 317.85 1658.75 318.1 1659 318.24 1659.25 318.29 1659.5 318.28 1659.75 318.24 1660 318.2 1660.25 318.1 1660.5 318.07 1660.75 318.12 1661 318.15 1661.25 318.22 1661.5 318.32 1661.75 318.4 1662 318.45 1662.25 318.48 1662.5 318.49 1662.75 318.48 1663 318.46 1663.25 318.42 1663.5 318.36 1663.75 318.27 1664 318.15 1664.25 317.99 1664.5 317.81 1664.75 317.61 1665 317.42 1665.25 317.26 1665.5 317.15 1665.75 317.09 1666 317 1666.25 317.03 1666.5 317.15 1666.75 317.36 1667 317.6 1667.25 317.85 1667.5 318.06 1667.75 318.22 1668 318.14 1668.25 317.47 1668.5 316.33 1668.75 315.18 1669 314.77 1669.25 315.44 1669.5 316.66 1669.75 316.77 1670 314.42 1670.25 311.12 1670.5 308.29 1670.75 307.71 1671 309.28 1671.25 311.14 1671.5 311.9 1671.75 312.11 1672 314.09 1672.25 310.66 1672.5 307.64 1672.75 306.8 1673 308.68 1673.25 307.04 1673.5 307.77 1673.75 311.45 1674 312.12 1674.25 313.04 1674.5 314.58 1674.75 316.13 1675 316.76 1675.25 316.94 1675.5 317.12 1675.75 316.29 1676 314.2 1676.25 311.48 1676.5 308.87 1676.75 307.39 1677 307.74 1677.25 309.75 1677.5 312.52 1677.75 315.06 1678 315.26 1678.25 315.23 1678.5 315.9 1678.75 316.86 1679 317.69 1679.25 318.18 1679.5 318.4 1679.75 318.44 1680 318.47 1680.25 318.48 1680.5 318.46 1680.75 318.44 1681 318.4 1681.25 318.34 1681.5 318.28 1681.75 318.21 1682 318.14 1682.25 318.09 1682.5 318.07 1682.75 318.08 1683 318.11 1683.25 318.16 1683.5 318.11 1683.75 318.12 1684 318.2 1684.25 318.29 1684.5 318.38 1684.75 318.44 1685 318.48 1685.25 318.49 1685.5 318.5 1685.75 318.5 1686 318.5 1686.25 318.5 1686.5 318.5 1686.75 318.5 1687 318.5 1687.25 318.5 1687.5 318.5 1687.75 318.5 1688 318.5 1688.25 318.5 1688.5 318.5 1688.75 318.5 1689 318.5 1689.25 318.5 1689.5 318.5 1689.75 318.49 1690 318.49 1690.25 318.48 1690.5 318.46 1690.75 318.43 1691 318.4 1691.25 318.38 1691.5 318.37 1691.75 318.38 1692 318.38 1692.25 318.35 1692.5 318.31 1692.75 318.26 1693 318.2 1693.25 318.12 1693.5 318.04 1693.75 317.77 1694 317.53 1694.25 317.57 1694.5 317.59 1694.75 316.73 1695 315.52 1695.25 313.36 1695.5 311.39 1695.75 310.83 1696 312.07 1696.25 311.24 1696.5 312.2 1696.75 314.31 1697 312.66 1697.25 310 1697.5 308.87 1697.75 310 1698 312.66 1698.25 314.5 1698.5 313.49 1698.75 313.22 1699 313.83 1699.25 315.02 1699.5 316.32 1699.75 317.05 1700 316.17 1700.25 314.81 1700.5 314.03 1700.75 314.35 1701 313.16 1701.25 312.03 1701.5 310.2 1701.75 310.05 1702 311.67 1702.25 314.13 1702.5 316.24 1702.75 315.92 1703 316.12 1703.25 316.75 1703.5 317.47 1703.75 317.95 1704 317.76 1704.25 317.6 1704.5 317.51 1704.75 317.52 1705 317.62 1705.25 317.78 1705.5 317.97 1705.75 318.15 1706 318.29 1706.25 318.39 1706.5 318.44 1706.75 318.48 1707 318.49 1707.25 318.49 1707.5 318.49 1707.75 318.49 1708 318.48 1708.25 318.48 1708.5 318.47 1708.75 318.47 1709 318.47 1709.25 318.47 1709.5 318.47 1709.75 318.48 1710 318.47 1710.25 318.45 1710.5 318.42 1710.75 318.39 1711 318.34 1711.25 318.29 1711.5 318.24 1711.75 318.19 1712 318.15 1712.25 318.12 1712.5 318.11 1712.75 318.12 1713 318.14 1713.25 318.18 1713.5 318.23 1713.75 318.28 1714 318.31 1714.25 318.17 1714.5 317.95 1714.75 317.66 1715 317.3 1715.25 316.93 1715.5 316.59 1715.75 316.34 1716 316.25 1716.25 316.32 1716.5 316.54 1716.75 316.88 1717 317.25 1717.25 317.61 1717.5 317.91 1717.75 318.14 1718 318.3 1718.25 318.39 1718.5 318.45 1718.75 318.45 1719 318.42 1719.25 318.4 1719.5 318.38 1719.75 318.38 1720 318.39 1720.25 318.42 1720.5 318.39 1720.75 318.32 1721 318.23 1721.25 317.81 1721.5 316.13 1721.75 313 1722 309.88 1722.25 309.37 1722.5 311.98 1722.75 315.36 1723 317.14 1723.25 317.86 1723.5 317.97 1723.75 317.96 1724 317.86 1724.25 316.83 1724.5 315.08 1724.75 313.02 1725 311.61 1725.25 311.71 1725.5 311.57 1725.75 311.03 1726 312.23 1726.25 314.4 1726.5 316.4 1726.75 315.45 1727 312.8 1727.25 310.21 1727.5 309.11 1727.75 310.21 1728 312.8 1728.25 314.6 1728.5 313.61 1728.75 313.35 1729 313.94 1729.25 313.92 1729.5 313.11 1729.75 313.18 1730 314.08 1730.25 315.42 1730.5 316.7 1730.75 317.62 1731 317.77 1731.25 317.45 1731.5 316.1 1731.75 314.43 1732 313.38 1732.25 313.74 1732.5 315.23 1732.75 316.48 1733 316.97 1733.25 317.56 1733.5 318.02 1733.75 318.3 1734 318.43 1734.25 318.47 1734.5 318.48 1734.75 318.48 1735 318.49 1735.25 318.49 1735.5 318.49 1735.75 318.5 1736 318.5 1736.25 318.5 1736.5 318.5 1736.75 318.5 1737 318.5 1737.25 318.49 1737.5 318.48 1737.75 318.45 1738 318.42 1738.25 318.36 1738.5 318.3 1738.75 318.22 1739 318.14 1739.25 318.08 1739.5 318.05 1739.75 318.05 1740 317.89 1740.25 317.34 1740.5 316.76 1740.75 316.44 1741 316.57 1741.25 317.07 1741.5 317.67 1741.75 318.12 1742 318.36 1742.25 318.46 1742.5 318.47 1742.75 318.45 1743 318.42 1743.25 318.37 1743.5 318.32 1743.75 318.26 1744 318.21 1744.25 318.17 1744.5 318.17 1744.75 318.18 1745 318.23 1745.25 318.28 1745.5 318.34 1745.75 318.39 1746 318.43 1746.25 318.46 1746.5 318.48 1746.75 318.49 1747 318.5 1747.25 318.5 1747.5 318.5 1747.75 318.5 1748 318.5 1748.25 318.5 1748.5 318.5 1748.75 318.5 1749 318.5 1749.25 318.5 1749.5 318.5 1749.75 318.5 1750 318.5 1750.25 318.5 1750.5 318.5 1750.75 318.5 1751 318.5 1751.25 318.5 1751.5 318.5 1751.75 318.5 1752 318.5 1752.25 318.5 1752.5 318.5 1752.75 318.5 1753 318.5 1753.25 318.5 1753.5 318.5 1753.75 318.5 1754 318.5 1754.25 318.5 1754.5 318.5 1754.75 318.5 1755 318.5 1755.25 318.5 1755.5 318.49 1755.75 318.48 1756 318.46 1756.25 318.41 1756.5 318.32 1756.75 318.17 1757 317.97 1757.25 317.75 1757.5 317.56 1757.75 317.47 1758 317.51 1758.25 317.66 1758.5 317.88 1758.75 317.86 1759 317.71 1759.25 317.58 1759.5 317.49 1759.75 317.04 1760 315.59 1760.25 314 1760.5 313.09 1760.75 313.45 1761 312.98 1761.25 313.7 1761.5 315.25 1761.75 316.79 1762 317.27 1762.25 315.92 1762.5 313.67 1762.75 311.11 1763 308.9 1763.25 309.56 1763.5 312.52 1763.75 315.63 1764 315.73 1764.25 313.07 1764.5 310.19 1764.75 308.6 1765 309.32 1765.25 310.72 1765.5 311.19 1765.75 313.49 1766 313.03 1766.25 313.49 1766.5 314.63 1766.75 316 1767 316.97 1767.25 317 1767.5 315.97 1767.75 315.17 1768 315.07 1768.25 315.74 1768.5 316.76 1768.75 317.57 1769 316.52 1769.25 314.99 1769.5 313.31 1769.75 312.12 1770 311.97 1770.25 312.93 1770.5 314.55 1770.75 316.17 1771 317.35 1771.25 318.03 1771.5 318.34 1771.75 318.45 1772 318.47 1772.25 318.46 1772.5 318.44 1772.75 318.42 1773 318.4 1773.25 318.39 1773.5 318.38 1773.75 318.36 1774 318.25 1774.25 318.18 1774.5 318.23 1774.75 318.33 1775 318.43 1775.25 318.48 1775.5 318.49 1775.75 318.49 1776 318.5 1776.25 318.5 1776.5 318.5 1776.75 318.5 1777 318.5 1777.25 318.5 1777.5 318.49 1777.75 318.49 1778 318.47 1778.25 318.45 1778.5 318.43 1778.75 318.41 1779 318.4 1779.25 318.41 1779.5 318.43 1779.75 318.45 1780 318.47 1780.25 318.45 1780.5 318.42 1780.75 318.39 1781 318.34 1781.25 318.29 1781.5 318.23 1781.75 318.18 1782 318.13 1782.25 318.09 1782.5 318.07 1782.75 318.07 1783 318.09 1783.25 318.12 1783.5 318.17 1783.75 318.23 1784 318.29 1784.25 318.34 1784.5 318.38 1784.75 318.42 1785 318.45 1785.25 318.47 1785.5 318.48 1785.75 318.48 1786 318.46 1786.25 318.44 1786.5 318.4 1786.75 318.34 1787 318.27 1787.25 318.16 1787.5 318.04 1787.75 317.9 1788 317.75 1788.25 317.6 1788.5 317.47 1788.75 317.37 1789 317.32 1789.25 317.32 1789.5 317.37 1789.75 317.47 1790 317.6 1790.25 317.75 1790.5 317.9 1790.75 318.04 1791 318.16 1791.25 318.27 1791.5 318.34 1791.75 318.4 1792 318.44 1792.25 318.45 1792.5 318.41 1792.75 318.37 1793 318.36 1793.25 318.38 1793.5 318.42 1793.75 318.46 1794 318.49 1794.25 318.5 1794.5 318.5 1794.75 318.5 1795 318.5 1795.25 318.5 1795.5 318.5 1795.75 318.5 1796 318.5 1796.25 318.5 1796.5 318.5 1796.75 318.5 1797 318.5 1797.25 318.5 1797.5 318.5 1797.75 318.5 1798 318.5 1798.25 318.48 1798.5 318.43 1798.75 318.29 1799 318.03 1799.25 317.8 1799.5 317.78 1799.75 317.98 1800 318.24 1800.25 318.41 1800.5 318.48 1800.75 318.48 1801 318.47 1801.25 318.44 1801.5 318.41 1801.75 318.38 1802 318.35 1802.25 318.34 1802.5 318.34 1802.75 318.37 1803 318.4 1803.25 318.43 1803.5 318.46 1803.75 318.47 1804 318.46 1804.25 318.34 1804.5 317.99 1804.75 317.2 1805 315.86 1805.25 314.17 1805.5 312.76 1805.75 312.37 1806 313.21 1806.25 314.81 1806.5 316.43 1806.75 317.56 1807 317.87 1807.25 317.77 1807.5 317.65 1807.75 316.89 1808 315.18 1808.25 313.16 1808.5 311.81 1808.75 311.97 1809 313.54 1809.25 315.57 1809.5 316.69 1809.75 314.83 1810 312.3 1810.25 310.34 1810.5 310.13 1810.75 311.82 1811 314.35 1811.25 314.54 1811.5 313.87 1811.75 313.95 1812 313.9 1812.25 312.35 1812.5 311.87 1812.75 312.73 1813 314.28 1813.25 314.55 1813.5 315.74 1813.75 317.05 1814 316.69 1814.25 315.58 1814.5 315.06 1814.75 315.53 1815 315.52 1815.25 312.86 1815.5 310.87 1815.75 311.1 1816 313.37 1816.25 315.96 1816.5 317.6 1816.75 318.22 1817 318.21 1817.25 318.22 1817.5 318.24 1817.75 318.27 1818 318.31 1818.25 318.35 1818.5 318.39 1818.75 318.42 1819 318.44 1819.25 318.46 1819.5 318.48 1819.75 318.49 1820 318.49 1820.25 318.5 1820.5 318.5 1820.75 318.5 1821 318.5 1821.25 318.5 1821.5 318.49 1821.75 318.48 1822 318.44 1822.25 318.35 1822.5 318.16 1822.75 317.86 1823 317.42 1823.25 316.93 1823.5 316.51 1823.75 316.29 1824 316.36 1824.25 316.7 1824.5 317.18 1824.75 317.65 1825 318.03 1825.25 318.27 1825.5 318.4 1825.75 318.41 1826 318.27 1826.25 318.02 1826.5 317.67 1826.75 317.29 1827 317.02 1827.25 316.99 1827.5 317.2 1827.75 317.57 1828 317.94 1828.25 318.21 1828.5 318.38 1828.75 318.42 1829 318.37 1829.25 318.3 1829.5 318.2 1829.75 318.07 1830 317.91 1830.25 317.74 1830.5 317.56 1830.75 317.39 1831 317.25 1831.25 317.16 1831.5 317.13 1831.75 317.17 1832 317.27 1832.25 317.41 1832.5 317.58 1832.75 317.77 1833 317.94 1833.25 318.09 1833.5 318.22 1833.75 318.31 1834 318.38 1834.25 318.43 1834.5 318.46 1834.75 318.48 1835 318.49 1835.25 318.49 1835.5 318.5 1835.75 318.49 1836 318.47 1836.25 318.41 1836.5 318.24 1836.75 317.95 1837 317.58 1837.25 317.29 1837.5 317.25 1837.75 317.49 1838 317.86 1838.25 318.18 1838.5 318.28 1838.75 318.11 1839 317.86 1839.25 317.53 1839.5 317.15 1839.75 316.76 1840 316.42 1840.25 316.21 1840.5 316.16 1840.75 316.3 1841 316.59 1841.25 316.86 1841.5 317.06 1841.75 317.37 1842 317.17 1842.25 316.82 1842.5 316.56 1842.75 316.42 1843 316.45 1843.25 316.64 1843.5 316.94 1843.75 317.3 1844 317.64 1844.25 317.94 1844.5 318.16 1844.75 318.31 1845 318.11 1845.25 317.77 1845.5 317.33 1845.75 316.87 1846 316.56 1846.25 316.52 1846.5 316.77 1846.75 317.2 1847 317.66 1847.25 318.04 1847.5 318.23 1847.75 318.02 1848 317.81 1848.25 317.7 1848.5 317.76 1848.75 317.96 1849 318.18 1849.25 318.35 1849.5 318.44 1849.75 318.48 1850 318.48 1850.25 318.45 1850.5 318.41 1850.75 318.35 1851 318.26 1851.25 318.17 1851.5 318.07 1851.75 318.01 1852 317.99 1852.25 318.01 1852.5 318.08 1852.75 318.18 1853 318.11 1853.25 318 1853.5 317.93 1853.75 317.93 1854 317.98 1854.25 318.08 1854.5 318.2 1854.75 318.21 1855 317.92 1855.25 317.51 1855.5 317.06 1855.75 316.71 1856 316.6 1856.25 316.77 1856.5 317.16 1856.75 317.61 1857 317.99 1857.25 318.19 1857.5 318.2 1857.75 318.22 1858 318.11 1858.25 317.87 1858.5 317.55 1858.75 317.17 1859 316.79 1859.25 316.46 1859.5 316.25 1859.75 316.2 1860 316.32 1860.25 316.59 1860.5 316.95 1860.75 317.33 1861 317.69 1861.25 317.98 1861.5 318.19 1861.75 318.33 1862 318.41 1862.25 318.46 1862.5 318.48 1862.75 318.49 1863 318.5 1863.25 318.5 1863.5 318.5 1863.75 318.5 1864 318.5 1864.25 318.5 1864.5 318.49 1864.75 318.47 1865 318.38 1865.25 318.15 1865.5 317.77 1865.75 317.39 1866 317.28 1866.25 317.53 1866.5 317.94 1866.75 318.27 1867 318.39 1867.25 318.45 1867.5 318.49 1867.75 318.5 1868 318.5 1868.25 318.5 1868.5 318.5" fill="none" stroke="#000" stroke-width="2.4" stroke-linejoin="round"/>
<path d="M1520.7 316.94 L1521.4 315.63 L1522.1 314.68 L1523.2 314.56 L1524.3 314.92 L1525.2 315.87 L1526 316.94 Z" fill="#000"/>
<path d="M1525.9 315.82 L1526.6 312.87 L1527.3 310.73 L1528.4 310.46 L1529.5 311.27 L1530.4 313.41 L1531.2 315.82 Z" fill="#000"/>
<path d="M1531.4 314.7 L1532.1 310.59 L1532.8 307.59 L1533.9 307.22 L1535 308.34 L1535.9 311.33 L1536.7 314.7 Z" fill="#000"/>
<path d="M1537.3 313.59 L1538 305.67 L1538.7 299.92 L1539.8 299.2 L1540.9 301.36 L1541.8 307.11 L1542.6 313.59 Z" fill="#000"/>
<path d="M1543.9 312.89 L1544.6 299.46 L1545.3 289.69 L1546.4 288.47 L1547.5 292.14 L1548.4 301.9 L1549.2 312.89 Z" fill="#000"/>
<path d="M1551.1 313.16 L1551.8 294.84 L1552.5 281.52 L1553.6 279.86 L1554.7 284.85 L1555.6 298.17 L1556.4 313.16 Z" fill="#000"/>
<path d="M1559.2 313.46 L1559.9 293.76 L1560.6 279.43 L1561.7 277.64 L1562.8 283.01 L1563.7 297.34 L1564.5 313.46 Z" fill="#000"/>
<path d="M1567.6 313.78 L1568.3 295.74 L1569 282.62 L1570.1 280.98 L1571.2 285.9 L1572.1 299.02 L1572.9 313.78 Z" fill="#000"/>
<path d="M1577.4 314.17 L1578.1 299.44 L1578.8 288.72 L1579.9 287.38 L1581 291.4 L1581.9 302.12 L1582.7 314.17 Z" fill="#000"/>
<path d="M1588 314.61 L1588.7 296.93 L1589.4 284.07 L1590.5 282.46 L1591.6 287.28 L1592.5 300.14 L1593.3 314.61 Z" fill="#000"/>
<path d="M1600 315.13 L1600.7 296 L1601.4 282.1 L1602.5 280.36 L1603.6 285.57 L1604.5 299.48 L1605.3 315.13 Z" fill="#000"/>
<path d="M1614 315.78 L1614.7 299.4 L1615.4 287.49 L1616.5 286 L1617.6 290.47 L1618.5 302.38 L1619.3 315.78 Z" fill="#000"/>
<path d="M1629.4 316.57 L1630.1 303.99 L1630.8 294.84 L1631.9 293.69 L1633 297.13 L1633.9 306.28 L1634.7 316.57 Z" fill="#000"/>
<path d="M1648 317.75 L1648.7 308.42 L1649.4 301.64 L1650.5 300.8 L1651.6 303.34 L1652.5 310.12 L1653.3 317.75 Z" fill="#000"/>
<path d="M1669.5 318.8 L1670.2 312.33 L1670.9 307.63 L1672 307.04 L1673.1 308.8 L1674 313.51 L1674.8 318.8 Z" fill="#000"/>
<path d="M1694.3 318.8 L1695 313.5 L1695.7 309.65 L1696.8 309.17 L1697.9 310.61 L1698.8 314.47 L1699.6 318.8 Z" fill="#000"/>
<path d="M1724.3 318.8 L1725 313.64 L1725.7 309.88 L1726.8 309.41 L1727.9 310.82 L1728.8 314.57 L1729.6 318.8 Z" fill="#000"/>
<path d="M1761.6 318.8 L1762.3 313.33 L1763 309.35 L1764.1 308.86 L1765.2 310.35 L1766.1 314.32 L1766.9 318.8 Z" fill="#000"/>
<path d="M1807.2 318.8 L1807.9 314.11 L1808.6 310.69 L1809.7 310.26 L1810.8 311.55 L1811.7 314.96 L1812.5 318.8 Z" fill="#000"/>
<line x1="1523" y1="318.8" x2="1523" y2="304.9" stroke="#000" stroke-width="2.4" stroke-linecap="round"/>
<line x1="1528.2" y1="318.8" x2="1528.2" y2="285.1" stroke="#000" stroke-width="2.4" stroke-linecap="round"/>
<line x1="1533.7" y1="318.8" x2="1533.7" y2="270.9" stroke="#000" stroke-width="2.4" stroke-linecap="round"/>
<line x1="1539.6" y1="318.8" x2="1539.6" y2="224.9" stroke="#000" stroke-width="2.4" stroke-linecap="round"/>
<line x1="1546.2" y1="318.8" x2="1546.2" y2="158" stroke="#000" stroke-width="2.4" stroke-linecap="round"/>
<line x1="1553.4" y1="318.8" x2="1553.4" y2="98.8" stroke="#000" stroke-width="2.4" stroke-linecap="round"/>
<line x1="1561.5" y1="318.8" x2="1561.5" y2="82" stroke="#000" stroke-width="2.4" stroke-linecap="round"/>
<line x1="1569.9" y1="318.8" x2="1569.9" y2="102.1" stroke="#000" stroke-width="2.4" stroke-linecap="round"/>
<line x1="1579.7" y1="318.8" x2="1579.7" y2="142.2" stroke="#000" stroke-width="2.4" stroke-linecap="round"/>
<line x1="1590.3" y1="318.8" x2="1590.3" y2="106.5" stroke="#000" stroke-width="2.4" stroke-linecap="round"/>
<line x1="1602.3" y1="318.8" x2="1602.3" y2="89" stroke="#000" stroke-width="2.4" stroke-linecap="round"/>
<line x1="1616.3" y1="318.8" x2="1616.3" y2="122.3" stroke="#000" stroke-width="2.4" stroke-linecap="round"/>
<line x1="1631.7" y1="318.8" x2="1631.7" y2="168.3" stroke="#000" stroke-width="2.4" stroke-linecap="round"/>
<line x1="1650.3" y1="318.8" x2="1650.3" y2="207.8" stroke="#000" stroke-width="2.4" stroke-linecap="round"/>
<line x1="1671.8" y1="318.8" x2="1671.8" y2="242.4" stroke="#000" stroke-width="2.4" stroke-linecap="round"/>
<line x1="1696.6" y1="318.8" x2="1696.6" y2="256.6" stroke="#000" stroke-width="2.4" stroke-linecap="round"/>
<line x1="1726.6" y1="318.8" x2="1726.6" y2="258.2" stroke="#000" stroke-width="2.4" stroke-linecap="round"/>
<line x1="1763.9" y1="318.8" x2="1763.9" y2="254.5" stroke="#000" stroke-width="2.4" stroke-linecap="round"/>
<line x1="1809.5" y1="318.8" x2="1809.5" y2="263.9" stroke="#000" stroke-width="2.4" stroke-linecap="round"/>
<line x1="1513.3" y1="319.8" x2="1869.1" y2="319.8" stroke="#000" stroke-width="2.6" stroke-linecap="butt"/>
<line x1="1513.3" y1="318.6" x2="1513.3" y2="335.5" stroke="#000" stroke-width="2.6" stroke-linecap="round"/>
<text x="1489.36" y="369.4" font-size="28.6" stroke="#000" stroke-width="0.45">500</text>
<line x1="1631.9" y1="318.6" x2="1631.9" y2="335.5" stroke="#000" stroke-width="2.6" stroke-linecap="round"/>
<text x="1599.52" y="369.4" font-size="28.6" stroke="#000" stroke-width="0.45">1000</text>
<line x1="1750.5" y1="318.6" x2="1750.5" y2="335.5" stroke="#000" stroke-width="2.6" stroke-linecap="round"/>
<text x="1718.12" y="369.4" font-size="28.6" stroke="#000" stroke-width="0.45">1500</text>
<line x1="1869.1" y1="318.6" x2="1869.1" y2="335.5" stroke="#000" stroke-width="2.6" stroke-linecap="round"/>
<text x="1837.1" y="369.4" font-size="28.6" stroke="#000" stroke-width="0.45">2000</text>
<line x1="1869.1" y1="297.3" x2="1869.1" y2="319.8" stroke="#000" stroke-width="2.6" stroke-linecap="round"/>
<text x="1683.65" y="416.6" font-size="28.6" stroke="#000" stroke-width="0.45">m/z</text>
<text x="1498.33" y="146" font-size="28.6" stroke="#000" stroke-width="0.45">+22</text>
<text x="1530.12" y="71.5" font-size="28.6" stroke="#000" stroke-width="0.45">+20</text>
<text x="1597.03" y="63.8" font-size="28.6" stroke="#000" stroke-width="0.45">+16</text>
<text x="1625.53" y="155.9" font-size="28.6" stroke="#000" stroke-width="0.45">+14</text>
<text x="1657.33" y="220.6" font-size="28.6" stroke="#000" stroke-width="0.45">+12</text>
<text x="1707.62" y="246.9" font-size="28.6" stroke="#000" stroke-width="0.45">+10</text>
<text x="1797.62" y="255.6" font-size="28.6" stroke="#000" stroke-width="0.45">+8</text>
<line x1="1619.2" y1="70.4" x2="1601.7" y2="86.9" stroke="#8a8a8a" stroke-width="1.6" stroke-dasharray="3.2 2.4"/>
<line x1="1683.9" y1="221.7" x2="1670.7" y2="240.3" stroke="#8a8a8a" stroke-width="1.6" stroke-dasharray="3.2 2.4"/>
<text x="1750.5" y="49.5" font-size="29"><tspan fill="#cc5a45">β-GlcN</tspan>-<tspan font-weight="bold">10</tspan></text>
<text x="1750.12" y="84.7" font-size="29" stroke="#000" stroke-width="0.45">M (Calc.): 13983.2 Da</text>
<text x="1750.12" y="119.9" font-size="29" stroke="#000" stroke-width="0.45">M (Obs.): 13983.1 Da</text>
<path d="M1995.5 315.4 1995.8 315.39 1996.1 315.37 1996.4 315.33 1996.7 315.23 1997 315.06 1997.3 314.8 1997.6 314.48 1997.9 314.16 1998.2 313.94 1998.5 313.87 1998.8 313.96 1999.1 314.14 1999.4 314.33 1999.7 314.51 2000 314.66 2000.3 314.79 2000.6 314.92 2000.9 315.04 2001.2 315.14 2001.5 315.23 2001.8 315.29 2002.1 315.34 2002.4 315.36 2002.7 315.38 2003 315.39 2003.3 315.38 2003.6 315.37 2003.9 315.34 2004.2 315.3 2004.5 315.22 2004.8 315.11 2005.1 314.96 2005.4 314.78 2005.7 314.59 2006 314.41 2006.3 314.28 2006.6 314.22 2006.9 314.26 2007.2 314.37 2007.5 314.53 2007.8 314.69 2008.1 314.81 2008.4 314.85 2008.7 314.79 2009 314.64 2009.3 314.42 2009.6 314.16 2009.9 313.92 2010.2 313.74 2010.5 313.64 2010.8 313.66 2011.1 313.78 2011.4 313.99 2011.7 314.24 2012 314.5 2012.3 314.71 2012.6 314.81 2012.9 314.8 2013.2 314.74 2013.5 314.76 2013.8 314.82 2014.1 314.82 2014.4 314.71 2014.7 314.53 2015 314.35 2015.3 314.23 2015.6 314.23 2015.9 314.35 2016.2 314.53 2016.5 314.75 2016.8 314.95 2017.1 315.11 2017.4 315.24 2017.7 315.32 2018 315.36 2018.3 315.39 2018.6 315.4 2018.9 315.4 2019.2 315.4 2019.5 315.4 2019.8 315.4 2020.1 315.4 2020.4 315.4 2020.7 315.4 2021 315.4 2021.3 315.4 2021.6 315.4 2021.9 315.4 2022.2 315.4 2022.5 315.4 2022.8 315.4 2023.1 315.4 2023.4 315.4 2023.7 315.39 2024 315.37 2024.3 315.32 2024.6 315.19 2024.9 314.9 2025.2 314.32 2025.5 313.34 2025.8 311.88 2026.1 310 2026.4 307.99 2026.7 306.24 2027 305.22 2027.3 305.29 2027.6 306.51 2027.9 308.49 2028.2 310.6 2028.5 312.4 2028.8 313.7 2029.1 314.49 2029.4 314.87 2029.7 314.93 2030 314.8 2030.3 314.57 2030.6 314.33 2030.9 314.1 2031.2 313.9 2031.5 313.72 2031.8 313.56 2032.1 313.44 2032.4 313.35 2032.7 313.32 2033 313.39 2033.3 313.5 2033.6 313.6 2033.9 313.64 2034.2 313.57 2034.5 313.4 2034.8 313.08 2035.1 312.62 2035.4 312.02 2035.7 311.29 2036 310.53 2036.3 309.98 2036.6 309.91 2036.9 310.26 2037.2 310.79 2037.5 311.34 2037.8 311.75 2038.1 311.89 2038.4 311.68 2038.7 311.26 2039 311 2039.3 311.18 2039.6 311.8 2039.9 312.57 2040.2 313.22 2040.5 313.61 2040.8 313.75 2041.1 313.71 2041.4 313.53 2041.7 313.25 2042 312.9 2042.3 312.55 2042.6 312.25 2042.9 312.09 2043.2 312.1 2043.5 312.28 2043.8 312.54 2044.1 312.81 2044.4 313.02 2044.7 313.15 2045 313.26 2045.3 313.4 2045.6 313.57 2045.9 313.73 2046.2 313.83 2046.5 313.85 2046.8 313.78 2047.1 313.57 2047.4 313.19 2047.7 312.75 2048 312.51 2048.3 312.6 2048.6 312.89 2048.9 313.14 2049.2 313.27 2049.5 313.33 2049.8 313.34 2050.1 313.3 2050.4 313.21 2050.7 313.09 2051 312.94 2051.3 312.77 2051.6 312.56 2051.9 312.29 2052.2 312.02 2052.5 311.89 2052.8 312 2053.1 312.32 2053.4 312.75 2053.7 313.18 2054 313.49 2054.3 313.67 2054.6 313.73 2054.9 313.7 2055.2 313.6 2055.5 313.47 2055.8 313.33 2056.1 313.21 2056.4 313.1 2056.7 313 2057 312.95 2057.3 312.98 2057.6 313.08 2057.9 313.21 2058.2 313.32 2058.5 313.41 2058.8 313.48 2059.1 313.52 2059.4 313.53 2059.7 313.52 2060 313.49 2060.3 313.44 2060.6 313.39 2060.9 313.35 2061.2 313.27 2061.5 313.12 2061.8 312.9 2062.1 312.7 2062.4 312.61 2062.7 312.64 2063 312.76 2063.3 312.91 2063.6 313.03 2063.9 313.09 2064.2 313.13 2064.5 313.15 2064.8 313.17 2065.1 313.18 2065.4 313.19 2065.7 313.23 2066 313.29 2066.3 313.35 2066.6 313.4 2066.9 313.43 2067.2 313.45 2067.5 313.45 2067.8 313.45 2068.1 313.44 2068.4 313.45 2068.7 313.43 2069 313.4 2069.3 313.36 2069.6 313.3 2069.9 313.24 2070.2 313.19 2070.5 313.18 2070.8 313.21 2071.1 313.25 2071.4 313.3 2071.7 313.37 2072 313.44 2072.3 313.47 2072.6 313.44 2072.9 313.33 2073.2 313.15 2073.5 312.94 2073.8 312.77 2074.1 312.7 2074.4 312.74 2074.7 312.87 2075 313.1 2075.3 313.46 2075.6 313.95 2075.9 314.46 2076.2 314.89" fill="none" stroke="#000" stroke-width="2.2" stroke-linejoin="round"/>
<line x1="2027.7" y1="315.6" x2="2027.7" y2="179.1" stroke="#000" stroke-width="2.3" stroke-linecap="round"/>
<line x1="2000.8" y1="315.6" x2="2000.8" y2="309.1" stroke="#000" stroke-width="2.1" stroke-linecap="round"/>
<path d="M1995 324.1 L1995 316.6 L2076.8 316.6 L2076.8 324.1" stroke="#000" stroke-width="2.5" fill="none" stroke-linejoin="round" stroke-linecap="round"/>
<line x1="2035.9" y1="316.6" x2="2035.9" y2="321.2" stroke="#000" stroke-width="2.3" stroke-linecap="butt"/>
<text x="1960.81" y="353.8" font-size="24.2" stroke="#000" stroke-width="0.45">10000</text>
<text x="2042.93" y="353.8" font-size="24.2" stroke="#000" stroke-width="0.45">20000</text>
<text x="2001.96" y="392.6" font-size="22.8" stroke="#000" stroke-width="0.45">M (Da)</text>
<text x="25.57" y="483.8" font-size="33" font-weight="bold" stroke="#000" stroke-width="0.2">b</text>
<g stroke="#c9def0" fill="#c9def0" stroke-linecap="round" stroke-linejoin="round">
<line x1="91.4" y1="565.3" x2="139.9" y2="577" stroke-width="15"/>
<line x1="139.9" y1="577" x2="176.75" y2="567.63" stroke-width="15"/>
<line x1="193.73" y1="574.71" x2="212.8" y2="607.1" stroke-width="15"/>
<path d="M91.4 565.3 L110.32 608.46 L168.86 598.29 L212.97 607.88 L212.63 606.32 L166.94 589.71 L119.48 603.14Z" stroke-width="13"/>
<line x1="139.9" y1="577" x2="116.9" y2="540.3" stroke-width="15"/>
<line x1="57.8" y1="573.3" x2="91.4" y2="565.3" stroke-width="15"/>
<text x="15.1" y="585.8" font-size="24.5" stroke-width="11.5">HO</text>
<line x1="116.9" y1="540.3" x2="145.5" y2="523.6" stroke-width="15"/>
<text x="146.9" y="524.3" font-size="24.5" stroke-width="11.5">OH</text>
<line x1="80.9" y1="608.6" x2="114.9" y2="605.8" stroke-width="15"/>
<text x="39.2" y="616.5" font-size="24.5" stroke-width="11.5">HO</text>
<text x="187.9" y="573.6" font-size="24.5" text-anchor="middle" stroke-width="11.5">O</text>
<line x1="212.8" y1="607.1" x2="251.55" y2="594.9" stroke-width="15"/>
<text x="263" y="600.1" font-size="24.5" text-anchor="middle" stroke-width="11.5">O</text>
<line x1="167.9" y1="594" x2="182" y2="618.6" stroke-width="15"/>
<text x="181.5" y="640.5" font-size="24.5" stroke-width="11.5">OH</text>
</g>
<line x1="91.4" y1="565.3" x2="139.9" y2="577" stroke="#000" stroke-width="2.7" stroke-linecap="round"/>
<line x1="139.9" y1="577" x2="176.75" y2="567.63" stroke="#000" stroke-width="2.7" stroke-linecap="round"/>
<line x1="193.73" y1="574.71" x2="212.8" y2="607.1" stroke="#000" stroke-width="2.7" stroke-linecap="round"/>
<path d="M91.4 565.3 L110.32 608.46 L168.86 598.29 L212.97 607.88 L212.63 606.32 L166.94 589.71 L119.48 603.14Z" fill="#000" stroke="#000" stroke-width="1" stroke-linejoin="round"/>
<line x1="139.9" y1="577" x2="116.9" y2="540.3" stroke="#000" stroke-width="2.7" stroke-linecap="round"/>
<line x1="57.8" y1="573.3" x2="91.4" y2="565.3" stroke="#000" stroke-width="2.7" stroke-linecap="round"/>
<text x="15.1" y="585.8" font-size="24.5" stroke="#000" stroke-width="0.45">HO</text>
<line x1="116.9" y1="540.3" x2="145.5" y2="523.6" stroke="#000" stroke-width="2.7" stroke-linecap="round"/>
<text x="146.9" y="524.3" font-size="24.5" stroke="#000" stroke-width="0.45">OH</text>
<line x1="80.9" y1="608.6" x2="114.9" y2="605.8" stroke="#000" stroke-width="2.7" stroke-linecap="round"/>
<text x="39.2" y="616.5" font-size="24.5" stroke="#000" stroke-width="0.45">HO</text>
<text x="187.9" y="573.6" font-size="24.5" text-anchor="middle" stroke="#000" stroke-width="0.45">O</text>
<line x1="212.8" y1="607.1" x2="251.55" y2="594.9" stroke="#000" stroke-width="2.7" stroke-linecap="round"/>
<text x="263" y="600.1" font-size="24.5" text-anchor="middle" stroke="#000" stroke-width="0.45">O</text>
<line x1="167.9" y1="594" x2="182" y2="618.6" stroke="#000" stroke-width="2.7" stroke-linecap="round"/>
<text x="181.5" y="640.5" font-size="24.5" stroke="#000" stroke-width="0.45">OH</text>
<text x="150.5" y="631.8" font-size="23" stroke="#000" stroke-width="0.45">2</text>
<ellipse cx="202.9" cy="634.2" rx="31.9" ry="22.4" fill="none" stroke="#e0262a" stroke-width="3.6" stroke-dasharray="8.5 5.5"/>
<rect x="180.5" y="665.5" width="174" height="45.3" rx="14" ry="14" fill="none" stroke="#000" stroke-width="2.6"/>
<text x="268.7" y="696.3" font-size="24.7" text-anchor="middle" textLength="147.6" lengthAdjust="spacingAndGlyphs" stroke="#000" stroke-width="0.45">H2B(98–125)</text>
<line x1="135.7" y1="687.7" x2="180.5" y2="687.7" stroke="#000" stroke-width="2.6" stroke-linecap="round"/>
<line x1="135.7" y1="687.7" x2="120.34" y2="660.52" stroke="#000" stroke-width="2.6" stroke-linecap="round"/>
<line x1="137.84" y1="681.32" x2="125.43" y2="659.37" stroke="#000" stroke-width="2.6" stroke-linecap="round"/>
<text x="113.2" y="656.7" font-size="24.5" text-anchor="middle" stroke="#000" stroke-width="0.45">O</text>
<path d="M135.7 687.7 L112.2 726.2 L67.2 726.8 L51.5 753.6" stroke="#000" stroke-width="2.6" fill="none" stroke-linejoin="round" stroke-linecap="round"/>
<line x1="112.2" y1="726.2" x2="125.9" y2="751" stroke="#000" stroke-width="2.6" stroke-linecap="round"/>
<text x="16.9" y="775.1" font-size="24.5" stroke="#000" stroke-width="0.45">HS</text>
<text x="125.3" y="774.8" font-size="24.5" stroke="#000" stroke-width="0.45">NH<tspan font-size="19" dy="5.5">2</tspan></text>
<text x="15.5" y="707.3" font-size="28.6" textLength="72.5" lengthAdjust="spacingAndGlyphs" fill="#c4262b" stroke="#c4262b" stroke-width="0.45">A97C</text>
<line x1="354.5" y1="687.4" x2="398.1" y2="687.4" stroke="#000" stroke-width="2.6" stroke-linecap="round"/>
<line x1="398.1" y1="687.4" x2="414.21" y2="660.18" stroke="#000" stroke-width="2.6" stroke-linecap="round"/>
<line x1="396.09" y1="680.98" x2="409.15" y2="658.92" stroke="#000" stroke-width="2.6" stroke-linecap="round"/>
<text x="421.6" y="656.5" font-size="24.5" text-anchor="middle" stroke="#000" stroke-width="0.45">O</text>
<line x1="398.1" y1="687.4" x2="412.7" y2="711.6" stroke="#000" stroke-width="2.6" stroke-linecap="round"/>
<text x="412.4" y="735.1" font-size="24.5" stroke="#000" stroke-width="0.45">NH<tspan font-size="19" dy="5.5">2</tspan></text>
<path d="M275.5 596.8 L308.6 619.1 L308.6 665.5" stroke="#000" stroke-width="2.6" fill="none" stroke-linejoin="round" stroke-linecap="round"/>
<text x="325.9" y="652.9" font-size="28.6" textLength="61" lengthAdjust="spacingAndGlyphs" fill="#3b8f77" stroke="#3b8f77" stroke-width="0.45">S112</text>
<g stroke="#c9def0" fill="#c9def0" stroke-linecap="round" stroke-linejoin="round">
<line x1="1093.9" y1="572.8" x2="1142.4" y2="584.5" stroke-width="15"/>
<line x1="1142.4" y1="584.5" x2="1179.25" y2="575.13" stroke-width="15"/>
<line x1="1196.23" y1="582.21" x2="1215.3" y2="614.6" stroke-width="15"/>
<path d="M1093.9 572.8 L1112.82 615.96 L1171.36 605.79 L1215.47 615.38 L1215.13 613.82 L1169.44 597.21 L1121.98 610.64Z" stroke-width="13"/>
<line x1="1142.4" y1="584.5" x2="1119.4" y2="547.8" stroke-width="15"/>
<line x1="1060.3" y1="580.8" x2="1093.9" y2="572.8" stroke-width="15"/>
<text x="1017.6" y="593.3" font-size="24.5" stroke-width="11.5">HO</text>
<line x1="1119.4" y1="547.8" x2="1148" y2="531.1" stroke-width="15"/>
<text x="1149.4" y="531.8" font-size="24.5" stroke-width="11.5">OH</text>
<line x1="1083.4" y1="616.1" x2="1117.4" y2="613.3" stroke-width="15"/>
<text x="1041.7" y="624" font-size="24.5" stroke-width="11.5">HO</text>
<text x="1190.4" y="581.1" font-size="24.5" text-anchor="middle" stroke-width="11.5">O</text>
<line x1="1215.3" y1="614.6" x2="1254.05" y2="602.4" stroke-width="15"/>
<text x="1265.5" y="607.6" font-size="24.5" text-anchor="middle" stroke-width="11.5">O</text>
<line x1="1170.4" y1="601.5" x2="1184.5" y2="626.1" stroke-width="15"/>
<text x="1184" y="648" font-size="24.5" stroke-width="11.5">OH</text>
</g>
<line x1="1093.9" y1="572.8" x2="1142.4" y2="584.5" stroke="#000" stroke-width="2.7" stroke-linecap="round"/>
<line x1="1142.4" y1="584.5" x2="1179.25" y2="575.13" stroke="#000" stroke-width="2.7" stroke-linecap="round"/>
<line x1="1196.23" y1="582.21" x2="1215.3" y2="614.6" stroke="#000" stroke-width="2.7" stroke-linecap="round"/>
<path d="M1093.9 572.8 L1112.82 615.96 L1171.36 605.79 L1215.47 615.38 L1215.13 613.82 L1169.44 597.21 L1121.98 610.64Z" fill="#000" stroke="#000" stroke-width="1" stroke-linejoin="round"/>
<line x1="1142.4" y1="584.5" x2="1119.4" y2="547.8" stroke="#000" stroke-width="2.7" stroke-linecap="round"/>
<line x1="1060.3" y1="580.8" x2="1093.9" y2="572.8" stroke="#000" stroke-width="2.7" stroke-linecap="round"/>
<text x="1017.6" y="593.3" font-size="24.5" stroke="#000" stroke-width="0.45">HO</text>
<line x1="1119.4" y1="547.8" x2="1148" y2="531.1" stroke="#000" stroke-width="2.7" stroke-linecap="round"/>
<text x="1149.4" y="531.8" font-size="24.5" stroke="#000" stroke-width="0.45">OH</text>
<line x1="1083.4" y1="616.1" x2="1117.4" y2="613.3" stroke="#000" stroke-width="2.7" stroke-linecap="round"/>
<text x="1041.7" y="624" font-size="24.5" stroke="#000" stroke-width="0.45">HO</text>
<text x="1190.4" y="581.1" font-size="24.5" text-anchor="middle" stroke="#000" stroke-width="0.45">O</text>
<line x1="1215.3" y1="614.6" x2="1254.05" y2="602.4" stroke="#000" stroke-width="2.7" stroke-linecap="round"/>
<text x="1265.5" y="607.6" font-size="24.5" text-anchor="middle" stroke="#000" stroke-width="0.45">O</text>
<line x1="1170.4" y1="601.5" x2="1184.5" y2="626.1" stroke="#000" stroke-width="2.7" stroke-linecap="round"/>
<text x="1184" y="648" font-size="24.5" stroke="#000" stroke-width="0.45">OH</text>
<text x="1153" y="639.3" font-size="23" stroke="#000" stroke-width="0.45">2</text>
<ellipse cx="1205.4" cy="641.7" rx="31.9" ry="22.4" fill="none" stroke="#e0262a" stroke-width="3.6" stroke-dasharray="8.5 5.5"/>
<rect x="1182.4" y="673" width="174.2" height="44.9" rx="13" ry="13" fill="none" stroke="#000" stroke-width="2.6"/>
<text x="1269.5" y="703.3" font-size="24.7" text-anchor="middle" textLength="133.5" lengthAdjust="spacingAndGlyphs" stroke="#000" stroke-width="0.45">H2B(1–125)</text>
<line x1="1146.8" y1="696.6" x2="1182.4" y2="696.6" stroke="#000" stroke-width="2.6" stroke-linecap="round"/>
<text x="1097.9" y="705.4" font-size="24.5" stroke="#000" stroke-width="0.45">H<tspan font-size="19" dy="5.5">2</tspan><tspan dy="-5.5">N</tspan></text>
<line x1="1356.6" y1="693.3" x2="1399.4" y2="693.3" stroke="#000" stroke-width="2.6" stroke-linecap="round"/>
<line x1="1399.4" y1="693.3" x2="1415.66" y2="667.56" stroke="#000" stroke-width="2.6" stroke-linecap="round"/>
<line x1="1397.58" y1="686.83" x2="1410.63" y2="666.16" stroke="#000" stroke-width="2.6" stroke-linecap="round"/>
<text x="1423.4" y="664.1" font-size="24.5" text-anchor="middle" stroke="#000" stroke-width="0.45">O</text>
<line x1="1399.4" y1="693.3" x2="1415.1" y2="717.9" stroke="#000" stroke-width="2.6" stroke-linecap="round"/>
<text x="1414.2" y="740.8" font-size="24.5" stroke="#000" stroke-width="0.45">NH<tspan font-size="19" dy="5.5">2</tspan></text>
<path d="M1225.1 717.9 L1247 757.6 L1278.3 757.6" stroke="#000" stroke-width="2.6" fill="none" stroke-linejoin="round" stroke-linecap="round"/>
<path d="M1310.7 717.9 L1333.7 757.6 L1363.9 757.6" stroke="#000" stroke-width="2.6" fill="none" stroke-linejoin="round" stroke-linecap="round"/>
<text x="1284.3" y="765.9" font-size="24.5" stroke="#000" stroke-width="0.45">SH</text>
<text x="1369.9" y="765.9" font-size="24.5" stroke="#000" stroke-width="0.45">SH</text>
<text x="1212.4" y="799.3" font-size="28.6" textLength="72.5" lengthAdjust="spacingAndGlyphs" fill="#c4262b" stroke="#c4262b" stroke-width="0.45">A58C</text>
<text x="1338.7" y="799.3" font-size="28.6" textLength="72.5" lengthAdjust="spacingAndGlyphs" fill="#c4262b" stroke="#c4262b" stroke-width="0.45">A97C</text>
<path d="M1278 604.3 L1309.4 626.6 L1309.4 673" stroke="#000" stroke-width="2.6" fill="none" stroke-linejoin="round" stroke-linecap="round"/>
<text x="1328.4" y="660.4" font-size="28.6" textLength="61" lengthAdjust="spacingAndGlyphs" fill="#3b8f77" stroke="#3b8f77" stroke-width="0.45">S112</text>
<path d="M474.5 758.27 474.85 758.21 475.2 758.06 475.55 757.78 475.9 757.43 476.25 757.08 476.6 756.67 476.95 756.21 477.3 756.01 477.65 756.37 478 756.96 478.35 757.27 478.7 757.1 479.05 756.53 479.4 755.75 479.75 755.08 480.1 754.86 480.45 755.22 480.8 755.98 481.15 756.77 481.5 757.28 481.85 757.43 482.2 757.29 482.55 757.02 482.9 756.8 483.25 756.75 483.6 756.88 483.95 757.13 484.3 757.34 484.65 757.41 485 757.27 485.35 756.8 485.7 755.84 486.05 754.22 486.4 752.18 486.75 750.73 487.1 750.99 487.45 752.6 487.8 754.12 488.15 754.84 488.5 755 488.85 755.18 489.2 755.75 489.55 756.49 489.9 756.81 490.25 756.37 490.6 755.53 490.95 755.12 491.3 755.51 491.65 756.3 492 756.8 492.35 756.71 492.7 756.21 493.05 755.67 493.4 755.44 493.75 755.67 494.1 756.25 494.45 756.93 494.8 757.48 495.15 757.85 495.5 758.05 495.85 758.14 496.2 758.04 496.55 757.48 496.9 756.66 497.25 756.67 497.6 757.51 497.95 758.11 498.3 758.22 498.65 758.11 499 757.91 499.35 757.78 499.7 757.84 500.05 758.03 500.4 758.2 500.75 758.27 501.1 758.26 501.45 758.15 501.8 757.83 502.15 757.2 502.5 756.4 502.85 755.88 503.2 756.02 503.55 756.7 503.9 757.46 504.25 757.89 504.6 757.84 504.95 757.24 505.3 756.25 505.65 755.45 506 755.49 506.35 756.34 506.7 757.34 507.05 757.97 507.4 758.22 507.75 758.29 508.1 758.3 508.45 758.3 508.8 758.3 509.15 758.29 509.5 758.25 509.85 758.17 510.2 758.08 510.55 758.04 510.9 758.09 511.25 758.18 511.6 758.26 511.95 758.29 512.3 758.3 512.65 758.3 513 758.29 513.35 758.29 513.7 758.28 514.05 758.27 514.4 758.25 514.75 758.24 515.1 758.23 515.45 758.23 515.8 758.22 516.15 758.17 516.5 758.02 516.85 757.74 517.2 757.42 517.55 757.25 517.9 757.27 518.25 757.2 518.6 756.76 518.95 756.02 519.3 755.43 519.65 755.4 520 756 520.35 756.87 520.7 757.6 521.05 758.03 521.4 758.22 521.75 758.28 522.1 758.3 522.45 758.3 522.8 758.3 523.15 758.29 523.5 758.28 523.85 758.23 524.2 758.14 524.55 757.96 524.9 757.72 525.25 757.45 525.6 757.24 525.95 757.15 526.3 757.19 526.65 757.22 527 756.98 527.35 756.13 527.7 754.52 528.05 752.5 528.4 750.98 528.75 750.7 529.1 751.59 529.45 752.97 529.8 754.21 530.15 755.15 530.5 755.89 530.85 756.47 531.2 756.87 531.55 757.09 531.9 757.22 532.25 757.35 532.6 757.55 532.95 757.79 533.3 758 533.65 758.15 534 758.23 534.35 758.25 534.7 758.23 535.05 758.17 535.4 758.05 535.75 757.88 536.1 757.69 536.45 757.53 536.8 757.45 537.15 757.43 537.5 757.44 537.85 757.48 538.2 757.55 538.55 757.67 538.9 757.81 539.25 757.95 539.6 758.08 539.95 758.17 540.3 758.22 540.65 758.22 541 758.18 541.35 758.08 541.7 757.9 542.05 757.67 542.4 757.43 542.75 757.26 543.1 757.24 543.45 757.37 543.8 757.58 544.15 757.8 544.5 757.97 544.85 758.07 545.2 758.12 545.55 758.14 545.9 758.15 546.25 758.17 546.6 758.2 546.95 758.23 547.3 758.25 547.65 758.27 548 758.27 548.35 758.23 548.7 758.08 549.05 757.76 549.4 757.2 549.75 756.5 550.1 756 550.45 756.09 550.8 756.72 551.15 757.48 551.5 757.97 551.85 758.18 552.2 758.25 552.55 758.27 552.9 758.28 553.25 758.28 553.6 758.29 553.95 758.29 554.3 758.3 554.65 758.3 555 758.3 555.35 758.29 555.7 758.27 556.05 758.2 556.4 758 556.75 757.65 557.1 757.23 557.45 756.96 557.8 756.97 558.15 757.29 558.5 757.73 558.85 758.07 559.2 758.24 559.55 758.29 559.9 758.3 560.25 758.3 560.6 758.3 560.95 758.3 561.3 758.3 561.65 758.3 562 758.29 562.35 758.25 562.7 758.09 563.05 757.54 563.4 756.15 563.75 753.49 564.1 749.81 564.45 746.39 564.8 744.84 565.15 745.68 565.5 747.91 565.85 750.13 566.2 751.73 566.55 752.91 566.9 754.1 567.25 755.4 567.6 756.59 567.95 757.45 568.3 757.94 568.65 758.15 569 758.18 569.35 758 569.7 757.53 570.05 756.86 570.4 756.39 570.75 756.48 571.1 757.02 571.45 757.59 571.8 757.95 572.15 758.14 572.5 758.23 572.85 758.27 573.2 758.29 573.55 758.3 573.9 758.3 574.25 758.3 574.6 758.3 574.95 758.3 575.3 758.3 575.65 758.3 576 758.3 576.35 758.3 576.7 758.3 577.05 758.3 577.4 758.3 577.75 758.3 578.1 758.3 578.45 758.3 578.8 758.3 579.15 758.3 579.5 758.3 579.85 758.3 580.2 758.3 580.55 758.3 580.9 758.3 581.25 758.3 581.6 758.3 581.95 758.29 582.3 758.26 582.65 758.22 583 758.16 583.35 758.11 583.7 758.09 584.05 758.1 584.4 758.14 584.75 758.17 585.1 758.15 585.45 758.07 585.8 757.93 586.15 757.72 586.5 757.48 586.85 757.25 587.2 757.1 587.55 757.06 587.9 757.14 588.25 757.32 588.6 757.54 588.95 757.73 589.3 757.84 589.65 757.86 590 757.8 590.35 757.71 590.7 757.64 591.05 757.65 591.4 757.75 591.75 757.89 592.1 757.97 592.45 757.94 592.8 757.79 593.15 757.58 593.5 757.38 593.85 757.26 594.2 757.22 594.55 757.23 594.9 757.22 595.25 757.13 595.6 756.99 595.95 756.86 596.3 756.8 596.65 756.85 597 757.02 597.35 757.27 597.7 757.54 598.05 757.78 598.4 757.98 598.75 758.11 599.1 758.19 599.45 758.22 599.8 758.2 600.15 758.15 600.5 758.09 600.85 758.08 601.2 758.11 601.55 758.17 601.9 758.23 602.25 758.27 602.6 758.29 602.95 758.3 603.3 758.3 603.65 758.29 604 758.26 604.35 758.16 604.7 757.9 605.05 757.49 605.4 757.13 605.75 757.1 606.1 757.42 606.45 757.85 606.8 758.13 607.15 758.26 607.5 758.29 607.85 758.3 608.2 758.3 608.55 758.3 608.9 758.3 609.25 758.3 609.6 758.3 609.95 758.3 610.3 758.3 610.65 758.3 611 758.3 611.35 758.3 611.7 758.3 612.05 758.3 612.4 758.3 612.75 758.29 613.1 758.29 613.45 758.28 613.8 758.26 614.15 758.25 614.5 758.25 614.85 758.25 615.2 758.26 615.55 758.27 615.9 758.28 616.25 758.28 616.6 758.29 616.95 758.29 617.3 758.29 617.65 758.29 618 758.3 618.35 758.3 618.7 758.3 619.05 758.3 619.4 758.3 619.75 758.3 620.1 758.3 620.45 758.3 620.8 758.3 621.15 758.3 621.5 758.3 621.85 758.29 622.2 758.24 622.55 758.07 622.9 757.6 623.25 756.62 623.6 755.13 623.95 753.54 624.3 752.56 624.65 752.6 625 753.41 625.35 754.39 625.7 755.16 626.05 755.68 626.4 756.04 626.75 756.31 627.1 756.49 627.45 756.6 627.8 756.48 628.15 755.76 628.5 754.72 628.85 754.92 629.2 756.42 629.55 757.6 629.9 758.05 630.25 758.19 630.6 758.25 630.95 758.28 631.3 758.29 631.65 758.3 632 758.3 632.35 758.3 632.7 758.3 633.05 758.3 633.4 758.3 633.75 758.3 634.1 758.3 634.45 758.3 634.8 758.3 635.15 758.3 635.5 758.3 635.85 758.3 636.2 758.3 636.55 758.3 636.9 758.3 637.25 758.3 637.6 758.3 637.95 758.29 638.3 758.28 638.65 758.25 639 758.17 639.35 758.03 639.7 757.76 640.05 757.31 640.4 756.56 640.75 755.64 641.1 755.12 641.45 755.29 641.8 755.76 642.15 756.26 642.5 756.78 642.85 757.29 643.2 757.7 643.55 757.98 643.9 758.15 644.25 758.24 644.6 758.28 644.95 758.29 645.3 758.29 645.65 758.28 646 758.26 646.35 758.23 646.7 758.2 647.05 758.16 647.4 758.13 647.75 758.12 648.1 758.13 648.45 758.15 648.8 758.17 649.15 758.17 649.5 758.14 649.85 758.08 650.2 758.02 650.55 757.97 650.9 757.97 651.25 758.02 651.6 758.1 651.95 758.18 652.3 758.23 652.65 758.27 653 758.29 653.35 758.3 653.7 758.3 654.05 758.3 654.4 758.29 654.75 758.28 655.1 758.26 655.45 758.23 655.8 758.2 656.15 758.17 656.5 758.14 656.85 758.11 657.2 758.1 657.55 758.11 657.9 758.14 658.25 758.18 658.6 758.22 658.95 758.26 659.3 758.28 659.65 758.29 660 758.29 660.35 758.29 660.7 758.29 661.05 758.29 661.4 758.29 661.75 758.29 662.1 758.29 662.45 758.29 662.8 758.3 663.15 758.3 663.5 758.3 663.85 758.29 664.2 758.28 664.55 758.26 664.9 758.23 665.25 758.18 665.6 758.13 665.95 758.08 666.3 758.05 666.65 758.04 667 758.01 667.35 757.95 667.7 757.82 668.05 757.62 668.4 757.4 668.75 757.21 669.1 757.13 669.45 757.18 669.8 757.36 670.15 757.6 670.5 757.83 670.85 758.03 671.2 758.16 671.55 758.23 671.9 758.26 672.25 758.26 672.6 758.23 672.95 758.15 673.3 758.04 673.65 757.9 674 757.78 674.35 757.72 674.7 757.74 675.05 757.84 675.4 757.98 675.75 758.11 676.1 758.2 676.45 758.26 676.8 758.28 677.15 758.29 677.5 758.3 677.85 758.3 678.2 758.29 678.55 758.28 678.9 758.26 679.25 758.23 679.6 758.21 679.95 758.2 680.3 758.2 680.65 758.21 681 758.24 681.35 758.26 681.7 758.28 682.05 758.29 682.4 758.3 682.75 758.3 683.1 758.3 683.45 758.3 683.8 758.29 684.15 758.26 684.5 758.21 684.85 758.11 685.2 757.95 685.55 757.73 685.9 757.51 686.25 757.33 686.6 757.26 686.95 757.32 687.3 757.5 687.65 757.73 688 757.95 688.35 758.11 688.7 758.21 689.05 758.26 689.4 758.29 689.75 758.3 690.1 758.3 690.45 758.3 690.8 758.3 691.15 758.28 691.5 758.24 691.85 758.12 692.2 757.87 692.55 757.48 692.9 756.98 693.25 756.56 693.6 756.36 693.95 756.43 694.3 756.66 694.65 756.9 695 757.1 695.35 757.24 695.7 757.34 696.05 757.37 696.4 757.31 696.75 757.16 697.1 756.92 697.45 756.57 697.8 756.11 698.15 755.73 698.5 755.69 698.85 756.1 699.2 756.8 699.55 757.48 699.9 757.93 700.25 758.17 700.6 758.25 700.95 758.28 701.3 758.27 701.65 758.26 702 758.24 702.35 758.21 702.7 758.19 703.05 758.17 703.4 758.15 703.75 758.14 704.1 758.14 704.45 758.15 704.8 758.17 705.15 758.2 705.5 758.23 705.85 758.25 706.2 758.27 706.55 758.28 706.9 758.29 707.25 758.29 707.6 758.29 707.95 758.28 708.3 758.28 708.65 758.27 709 758.27 709.35 758.27 709.7 758.27 710.05 758.27 710.4 758.25 710.75 758.22 711.1 758.14 711.45 758 711.8 757.77 712.15 757.47 712.5 757.11 712.85 756.76 713.2 756.5 713.55 756.4 713.9 756.48 714.25 756.73 714.6 757.07 714.95 757.43 715.3 757.74 715.65 757.97 716 758.13 716.35 758.21 716.7 758.24 717.05 758.23 717.4 758.16 717.75 758.03 718.1 757.87 718.45 757.72 718.8 757.6 719.15 757.5 719.5 757.39 719.85 757.29 720.2 757.24 720.55 757.3 720.9 757.45 721.25 757.66 721.6 757.86 721.95 758.04 722.3 758.16 722.65 758.23 723 758.27 723.35 758.29 723.7 758.29 724.05 758.3 724.4 758.3 724.75 758.3 725.1 758.3 725.45 758.3 725.8 758.3 726.15 758.28 726.5 758.23 726.85 758.15 727.2 758.07 727.55 758.04 727.9 758.1 728.25 758.18 728.6 758.25 728.95 758.27 729.3 758.23 729.65 758.14 730 758 730.35 757.86 730.7 757.8 731.05 757.87 731.4 758.02 731.75 758.16 732.1 758.24 732.45 758.28 732.8 758.3 733.15 758.3 733.5 758.3 733.85 758.3 734.2 758.3 734.55 758.3 734.9 758.3 735.25 758.3 735.6 758.3 735.95 758.3 736.3 758.3 736.65 758.3 737 758.28 737.35 758.25 737.7 758.22 738.05 758.23 738.4 758.27 738.75 758.29 739.1 758.3 739.45 758.3 739.8 758.3 740.15 758.3 740.5 758.3 740.85 758.3 741.2 758.3 741.55 758.3 741.9 758.3 742.25 758.3 742.6 758.3 742.95 758.29 743.3 758.26 743.65 758.17 744 757.97 744.35 757.69 744.7 757.5 745.05 757.56 745.4 757.81 745.75 758.07 746.1 758.22 746.45 758.28 746.8 758.28 747.15 758.26 747.5 758.19 747.85 758.07 748.2 757.87 748.55 757.6 748.9 757.28 749.25 756.98 749.6 756.77 749.95 756.7 750.3 756.78 750.65 757 751 757.29 751.35 757.61 751.7 757.88 752.05 758.08 752.4 758.2 752.75 758.26 753.1 758.29 753.45 758.3 753.8 758.3 754.15 758.3 754.5 758.3 754.85 758.3 755.2 758.3 755.55 758.3 755.9 758.3 756.25 758.3 756.6 758.3 756.95 758.3 757.3 758.3 757.65 758.3 758 758.3 758.35 758.3 758.7 758.3 759.05 758.3 759.4 758.3 759.75 758.3 760.1 758.3 760.45 758.3 760.8 758.3 761.15 758.3 761.5 758.3 761.85 758.3 762.2 758.3 762.55 758.3 762.9 758.3 763.25 758.3 763.6 758.3 763.95 758.3 764.3 758.3 764.65 758.3 765 758.3 765.35 758.3 765.7 758.3 766.05 758.3 766.4 758.3 766.75 758.3 767.1 758.3 767.45 758.3 767.8 758.3 768.15 758.3 768.5 758.3 768.85 758.3 769.2 758.3 769.55 758.3 769.9 758.29 770.25 758.28 770.6 758.25 770.95 758.2 771.3 758.13 771.65 758.04 772 757.97 772.35 757.94 772.7 757.96 773.05 758.03 773.4 758.12 773.75 758.19 774.1 758.25 774.45 758.28 774.8 758.29 775.15 758.3 775.5 758.3 775.85 758.3 776.2 758.3 776.55 758.3 776.9 758.3 777.25 758.3 777.6 758.3 777.95 758.3 778.3 758.29 778.65 758.27 779 758.26 779.35 758.26 779.7 758.27 780.05 758.28 780.4 758.29 780.75 758.3 781.1 758.3 781.45 758.3 781.8 758.3 782.15 758.3 782.5 758.3 782.85 758.29 783.2 758.25 783.55 758.17 783.9 758.04 784.25 757.92 784.6 757.88 784.95 757.96 785.3 758.09 785.65 758.2 786 758.27 786.35 758.29 786.7 758.3 787.05 758.3 787.4 758.3 787.75 758.3 788.1 758.3 788.45 758.3 788.8 758.3 789.15 758.3 789.5 758.3 789.85 758.3 790.2 758.3 790.55 758.3 790.9 758.3 791.25 758.29 791.6 758.28 791.95 758.27 792.3 758.24 792.65 758.19 793 758.12 793.35 758.03 793.7 757.87 794.05 757.48 794.4 756.65 794.75 755.58 795.1 755.15 795.45 755.72 795.8 756.55 796.15 756.97 796.5 757.01 796.85 756.96 797.2 756.97 797.55 757.08 797.9 757.25 798.25 757.44 798.6 757.54 798.95 757.46 799.3 757.34 799.65 757.44 800 757.57 800.35 757.41 800.7 756.94 801.05 756.34 801.4 755.77 801.75 755.37 802.1 755.2 802.45 755.26 802.8 755.52 803.15 755.91 803.5 756.34 803.85 756.74 804.2 757.07 804.55 757.33 804.9 757.54 805.25 757.73 805.6 757.89 805.95 758.02 806.3 758.13 806.65 758.2 807 758.25 807.35 758.27 807.7 758.29 808.05 758.3 808.4 758.3 808.75 758.3 809.1 758.3 809.45 758.3 809.8 758.3 810.15 758.3 810.5 758.3 810.85 758.28 811.2 758.25 811.55 758.18 811.9 758.02 812.25 757.73 812.6 757.31 812.95 756.88 813.3 756.64 813.65 756.71 814 757.06 814.35 757.5 814.7 757.88 815.05 758.12 815.4 758.24 815.75 758.28 816.1 758.3 816.45 758.3 816.8 758.3 817.15 758.3 817.5 758.3 817.85 758.3 818.2 758.29 818.55 758.26 818.9 758.2 819.25 758.09 819.6 757.91 819.95 757.72 820.3 757.58 820.65 757.55 821 757.63 821.35 757.73 821.7 757.74 822.05 757.58 822.4 757.27 822.75 756.9 823.1 756.59 823.45 756.4 823.8 756.37 824.15 756.46 824.5 756.66 824.85 756.93 825.2 757.24 825.55 757.55 825.9 757.82 826.25 758.03 826.6 758.17 826.95 758.24 827.3 758.27 827.65 758.29" fill="none" stroke="#000" stroke-width="2.4" stroke-linejoin="round"/>
<line x1="527.5" y1="758.6" x2="527.5" y2="626.5" stroke="#000" stroke-width="2.4" stroke-linecap="round"/>
<line x1="563.7" y1="758.6" x2="563.7" y2="520" stroke="#000" stroke-width="2.4" stroke-linecap="round"/>
<line x1="623.3" y1="758.6" x2="623.3" y2="658.3" stroke="#000" stroke-width="2.4" stroke-linecap="round"/>
<line x1="475.3" y1="758.6" x2="475.3" y2="753" stroke="#000" stroke-width="2.2" stroke-linecap="round"/>
<line x1="485.9" y1="758.6" x2="485.9" y2="721.4" stroke="#000" stroke-width="2.2" stroke-linecap="round"/>
<line x1="488" y1="758.6" x2="488" y2="741" stroke="#000" stroke-width="2.2" stroke-linecap="round"/>
<line x1="504.9" y1="758.6" x2="504.9" y2="738.3" stroke="#000" stroke-width="2.2" stroke-linecap="round"/>
<line x1="516.6" y1="758.6" x2="516.6" y2="751.4" stroke="#000" stroke-width="2.2" stroke-linecap="round"/>
<line x1="549.4" y1="758.6" x2="549.4" y2="739.4" stroke="#000" stroke-width="2.2" stroke-linecap="round"/>
<line x1="604.7" y1="758.6" x2="604.7" y2="748.2" stroke="#000" stroke-width="2.2" stroke-linecap="round"/>
<line x1="743.9" y1="758.6" x2="743.9" y2="752.5" stroke="#000" stroke-width="2.2" stroke-linecap="round"/>
<line x1="473.2" y1="759.6" x2="828.5" y2="759.6" stroke="#000" stroke-width="2.6" stroke-linecap="butt"/>
<line x1="473.2" y1="758.4" x2="473.2" y2="775.3" stroke="#000" stroke-width="2.6" stroke-linecap="round"/>
<text x="449.51" y="809.2" font-size="28.6" stroke="#000" stroke-width="0.45">400</text>
<line x1="562.02" y1="758.4" x2="562.02" y2="775.3" stroke="#000" stroke-width="2.6" stroke-linecap="round"/>
<text x="538.02" y="809.2" font-size="28.6" stroke="#000" stroke-width="0.45">800</text>
<line x1="650.85" y1="758.4" x2="650.85" y2="775.3" stroke="#000" stroke-width="2.6" stroke-linecap="round"/>
<text x="618.48" y="809.2" font-size="28.6" stroke="#000" stroke-width="0.45">1200</text>
<line x1="739.67" y1="758.4" x2="739.67" y2="775.3" stroke="#000" stroke-width="2.6" stroke-linecap="round"/>
<text x="707.3" y="809.2" font-size="28.6" stroke="#000" stroke-width="0.45">1600</text>
<line x1="828.5" y1="758.4" x2="828.5" y2="775.3" stroke="#000" stroke-width="2.6" stroke-linecap="round"/>
<text x="796.5" y="809.2" font-size="28.6" stroke="#000" stroke-width="0.45">2000</text>
<text x="629.05" y="856.4" font-size="28.6" stroke="#000" stroke-width="0.45">m/z</text>
<text x="511.62" y="608.3" font-size="28.6" stroke="#000" stroke-width="0.45">+5</text>
<text x="545.02" y="504.4" font-size="28.6" stroke="#000" stroke-width="0.45">+4</text>
<text x="609.23" y="645" font-size="28.6" stroke="#000" stroke-width="0.45">+3</text>
<text x="670.6" y="492.6" font-size="29"><tspan fill="#6aa2d8">β-Glc</tspan>-<tspan font-weight="bold">9</tspan></text>
<text x="670.23" y="527.8" font-size="29" stroke="#000" stroke-width="0.45">M (Calc.): 3232.7 Da</text>
<text x="670.23" y="563" font-size="29" stroke="#000" stroke-width="0.45">M (Obs.): 3232.1 Da</text>
<path d="M922.9 757.2 923.2 757.19 923.5 757.17 923.8 757.12 924.1 757.03 924.4 756.86 924.7 756.59 925 756.26 925.3 755.95 925.6 755.73 925.9 755.67 926.2 755.76 926.5 755.94 926.8 756.14 927.1 756.31 927.4 756.47 927.7 756.6 928 756.73 928.3 756.85 928.6 756.95 928.9 757.03 929.2 757.09 929.5 757.14 929.8 757.17 930.1 757.18 930.4 757.19 930.7 757.18 931 757.17 931.3 757.14 931.6 757.09 931.9 757 932.2 756.89 932.5 756.73 932.8 756.55 933.1 756.35 933.4 756.18 933.7 756.06 934 756.02 934.3 756.07 934.6 756.2 934.9 756.36 935.2 756.51 935.5 756.62 935.8 756.64 936.1 756.56 936.4 756.39 936.7 756.16 937 755.9 937.3 755.67 937.6 755.5 937.9 755.43 938.2 755.48 938.5 755.62 938.8 755.85 939.1 756.11 939.4 756.36 939.7 756.54 940 756.61 940.3 756.57 940.6 756.54 940.9 756.58 941.2 756.63 941.5 756.59 941.8 756.45 942.1 756.26 942.4 756.1 942.7 756.02 943 756.06 943.3 756.2 943.6 756.4 943.9 756.62 944.2 756.81 944.5 756.96 944.8 757.07 945.1 757.14 945.4 757.17 945.7 757.19 946 757.2 946.3 757.2 946.6 757.2 946.9 757.2 947.2 757.2 947.5 757.2 947.8 757.2 948.1 757.2 948.4 757.2 948.7 757.2 949 757.2 949.3 757.2 949.6 757.2 949.9 757.2 950.2 757.2 950.5 757.2 950.8 757.2 951.1 757.2 951.4 757.2 951.7 757.2 952 757.2 952.3 757.2 952.6 757.2 952.9 757.2 953.2 757.2 953.5 757.19 953.8 757.15 954.1 757.03 954.4 756.89 954.7 756.85 955 756.96 955.3 757.1 955.6 757.17 955.9 757.2 956.2 757.2 956.5 757.2 956.8 757.2 957.1 757.2 957.4 757.2 957.7 757.2 958 757.19 958.3 757.18 958.6 757.16 958.9 757.14 959.2 757.09 959.5 757.02 959.8 756.96 960.1 756.97 960.4 757.03 960.7 757.06 961 757.03 961.3 756.94 961.6 756.78 961.9 756.51 962.2 756.13 962.5 755.62 962.8 754.96 963.1 754.19 963.4 753.55 963.7 753.33 964 753.59 964.3 754.12 964.6 754.72 964.9 755.25 965.2 755.53 965.5 755.45 965.8 755.09 966.1 754.74 966.4 754.73 966.7 755.14 967 755.78 967.3 756.36 967.6 756.73 967.9 756.89 968.2 756.88 968.5 756.77 968.8 756.6 969.1 756.4 969.4 756.2 969.7 756.02 970 755.88 970.3 755.84 970.6 755.94 970.9 756.17 971.2 756.44 971.5 756.69 971.8 756.87 972.1 757.01 972.4 757.09 972.7 757.14 973 757.17 973.3 757.19 973.6 757.19 973.9 757.17 974.2 757.07 974.5 756.82 974.8 756.47 975.1 756.26 975.4 756.38 975.7 756.69 976 756.93 976.3 757.01 976.6 757 976.9 756.99 977.2 757 977.5 757.03 977.8 757.06 978.1 757.05 978.4 756.97 978.7 756.79 979 756.51 979.3 756.18 979.6 755.92 979.9 755.82 980.2 755.94 980.5 756.21 980.8 756.53 981.1 756.8 981.4 756.98 981.7 757.09 982 757.14 982.3 757.16 982.6 757.18 982.9 757.19 983.2 757.19 983.5 757.2 983.8 757.2 984.1 757.2 984.4 757.2 984.7 757.2 985 757.2 985.3 757.2 985.6 757.2 985.9 757.2 986.2 757.2 986.5 757.2 986.8 757.2 987.1 757.19 987.4 757.18 987.7 757.14 988 757.06 988.3 756.9 988.6 756.66 988.9 756.39 989.2 756.19 989.5 756.14 989.8 756.24 990.1 756.43 990.4 756.64 990.7 756.82 991 756.95 991.3 757.05 991.6 757.12 991.9 757.16 992.2 757.18 992.5 757.19 992.8 757.2 993.1 757.2 993.4 757.2 993.7 757.2 994 757.2 994.3 757.2 994.6 757.2 994.9 757.2 995.2 757.2 995.5 757.2 995.8 757.2 996.1 757.2 996.4 757.2 996.7 757.2 997 757.2 997.3 757.2 997.6 757.2 997.9 757.2 998.2 757.2 998.5 757.2 998.8 757.2 999.1 757.2 999.4 757.2 999.7 757.2 1000 757.2 1000.3 757.2 1000.6 757.2 1000.9 757.2 1001.2 757.2 1001.5 757.2 1001.8 757.2 1002.1 757.2 1002.4 757.2 1002.7 757.2 1003 757.2 1003.3 757.2" fill="none" stroke="#000" stroke-width="2.2" stroke-linejoin="round"/>
<line x1="955.8" y1="757.4" x2="955.8" y2="608.6" stroke="#000" stroke-width="2.3" stroke-linecap="round"/>
<line x1="948.4" y1="757.4" x2="948.4" y2="751.3" stroke="#000" stroke-width="2.1" stroke-linecap="round"/>
<path d="M922.4 765.9 L922.4 758.4 L1003.8 758.4 L1003.8 765.9" stroke="#000" stroke-width="2.5" fill="none" stroke-linejoin="round" stroke-linecap="round"/>
<line x1="963.1" y1="758.4" x2="963.1" y2="763" stroke="#000" stroke-width="2.3" stroke-linecap="butt"/>
<text x="895.27" y="794.7" font-size="24.2" stroke="#000" stroke-width="0.45">2000</text>
<text x="976.8" y="794.7" font-size="24.2" stroke="#000" stroke-width="0.45">5000</text>
<text x="929.16" y="835.8" font-size="22.8" stroke="#000" stroke-width="0.45">M (Da)</text>
<path d="M1514.5 750.11 1514.75 750.08 1515 750.04 1515.25 749.88 1515.5 749.73 1515.75 749.58 1516 749.41 1516.25 748.95 1516.5 748.33 1516.75 747.66 1517 747.13 1517.25 746.92 1517.5 747.08 1517.75 746.82 1518 746.52 1518.25 746.55 1518.5 747.1 1518.75 747.48 1519 747.59 1519.25 747.08 1519.5 746.54 1519.75 746.07 1520 745.74 1520.25 745.64 1520.5 745.74 1520.75 746 1521 745.84 1521.25 745.59 1521.5 745.43 1521.75 745.35 1522 745.36 1522.25 745.44 1522.5 745.57 1522.75 745.71 1523 745.85 1523.25 745.79 1523.5 745.52 1523.75 745.28 1524 745.09 1524.25 744.2 1524.5 743.69 1524.75 744.09 1525 742.46 1525.25 741.5 1525.5 742 1525.75 743.39 1526 744.08 1526.25 743.55 1526.5 742.25 1526.75 741.21 1527 741.01 1527.25 741.71 1527.5 742.42 1527.75 742.19 1528 741.97 1528.25 741.09 1528.5 739.69 1528.75 739.23 1529 738.9 1529.25 736.08 1529.5 734.01 1529.75 733.66 1530 735.17 1530.25 737.72 1530.5 739.81 1530.75 740.51 1531 741.37 1531.25 740.51 1531.5 738.65 1531.75 738.05 1532 739.18 1532.25 738.13 1532.5 735.52 1532.75 734.04 1533 734.56 1533.25 736.69 1533.5 737.22 1533.75 736.85 1534 736.54 1534.25 733.6 1534.5 731.36 1534.75 727.95 1535 725.24 1535.25 725.06 1535.5 726.9 1535.75 732.22 1536 730.37 1536.25 729.32 1536.5 730.37 1536.75 731.24 1537 730.17 1537.25 724.5 1537.5 720.33 1537.75 720.27 1538 724.31 1538.25 729.65 1538.5 725.36 1538.75 724.09 1539 726.62 1539.25 730.81 1539.5 728.66 1539.75 724.18 1540 722.43 1540.25 721.77 1540.5 719.28 1540.75 721.59 1541 727.16 1541.25 728.76 1541.5 728.74 1541.75 728.09 1542 729.28 1542.25 723.97 1542.5 710.91 1542.75 707.11 1543 716.86 1543.25 718.67 1543.5 705.7 1543.75 696.36 1544 696.31 1544.25 705.51 1544.5 703.09 1544.75 698.8 1545 708.37 1545.25 709.3 1545.5 711.3 1545.75 718.62 1546 720.62 1546.25 717.57 1546.5 710.07 1546.75 709.27 1547 702.05 1547.25 702.84 1547.5 711.07 1547.75 718.08 1548 718.6 1548.25 717.26 1548.5 710.68 1548.75 700.12 1549 694.39 1549.25 696.36 1549.5 704.95 1549.75 693.86 1550 676.52 1550.25 676.61 1550.5 693.97 1550.75 715.04 1551 727.41 1551.25 717.14 1551.5 703.63 1551.75 702.53 1552 703.27 1552.25 701.27 1552.5 692.72 1552.75 686.78 1553 690.53 1553.25 678.77 1553.5 675.04 1553.75 681.55 1554 694.91 1554.25 686.36 1554.5 679.34 1554.75 682.3 1555 693.79 1555.25 708.56 1555.5 709.32 1555.75 711.63 1556 715.46 1556.25 717.15 1556.5 718.94 1556.75 720.75 1557 722.56 1557.25 701.17 1557.5 673.75 1557.75 669.63 1558 693.7 1558.25 685.51 1558.5 673.28 1558.75 672.47 1559 683.5 1559.25 685.33 1559.5 681.45 1559.75 683.74 1560 699.88 1560.25 704.31 1560.5 696.03 1560.75 697.06 1561 706.74 1561.25 712.56 1561.5 708.83 1561.75 689.03 1562 673.49 1562.25 671.57 1562.5 684.54 1562.75 696.26 1563 709.42 1563.25 710.25 1563.5 708.94 1563.75 709.45 1564 714.31 1564.25 716.04 1564.5 717.88 1564.75 719.52 1565 710.59 1565.25 703.78 1565.5 702.15 1565.75 706.5 1566 693.8 1566.25 678.25 1566.5 681.16 1566.75 686.36 1567 669.86 1567.25 672.97 1567.5 680.01 1567.75 680.68 1568 691.06 1568.25 693.76 1568.5 704.66 1568.75 703.61 1569 699.07 1569.25 703.64 1569.5 694.75 1569.75 692.66 1570 699.62 1570.25 711.47 1570.5 697.47 1570.75 689.74 1571 693.25 1571.25 693.04 1571.5 698.76 1571.75 711.67 1572 710.22 1572.25 708.68 1572.5 714.55 1572.75 718.98 1573 720.7 1573.25 722.46 1573.5 724.21 1573.75 725.92 1574 727.54 1574.25 729.07 1574.5 730.47 1574.75 731.74 1575 726.67 1575.25 719.83 1575.5 715.45 1575.75 716.3 1576 721.83 1576.25 728.72 1576.5 718.68 1576.75 708.92 1577 707.84 1577.25 696.45 1577.5 684.26 1577.75 684.65 1578 684.69 1578.25 690.62 1578.5 688.52 1578.75 702.77 1579 705.37 1579.25 714.6 1579.5 717.21 1579.75 716.11 1580 715.23 1580.25 703.48 1580.5 694.62 1580.75 695.73 1581 706.08 1581.25 714.91 1581.5 715.67 1581.75 714.13 1582 715.4 1582.25 719.27 1582.5 720.78 1582.75 722.36 1583 723.99 1583.25 725.62 1583.5 727.21 1583.75 728.74 1584 730.18 1584.25 731.5 1584.5 732.71 1584.75 733.79 1585 734.74 1585.25 735.56 1585.5 736.27 1585.75 736.87 1586 736.78 1586.25 734.12 1586.5 726.81 1586.75 714.37 1587 698.65 1587.25 685.28 1587.5 680.88 1587.75 687.89 1588 702.5 1588.25 717.87 1588.5 726.8 1588.75 722.8 1589 711.44 1589.25 699.65 1589.5 687.41 1589.75 687.95 1590 700.9 1590.25 715.82 1590.5 714.79 1590.75 707.44 1591 695.17 1591.25 691.74 1591.5 699.42 1591.75 696.33 1592 682.99 1592.25 684.2 1592.5 699.08 1592.75 717.33 1593 719.7 1593.25 721.36 1593.5 723.09 1593.75 723.19 1594 709.47 1594.25 701.26 1594.5 705.78 1594.75 716.63 1595 708.84 1595.25 711.33 1595.5 721.78 1595.75 731.97 1596 736.6 1596.25 737.28 1596.5 737.85 1596.75 738.32 1597 738.71 1597.25 739.02 1597.5 737.64 1597.75 732.56 1598 721.78 1598.25 705.55 1598.5 689.78 1598.75 683.62 1599 689.1 1599.25 681.48 1599.5 686.25 1599.75 700.57 1600 716.93 1600.25 728.99 1600.5 727.35 1600.75 723.23 1601 711.53 1601.25 702.46 1601.5 701.53 1601.75 702.75 1602 698.64 1602.25 692.59 1602.5 704.66 1602.75 701.79 1603 694.78 1603.25 691.24 1603.5 699.16 1603.75 713.47 1604 714.74 1604.25 714.15 1604.5 713.71 1604.75 717.6 1605 720.04 1605.25 721.75 1605.5 723.53 1605.75 725.33 1606 727.1 1606.25 728.81 1606.5 730.43 1606.75 731.94 1607 733.32 1607.25 734.56 1607.5 735.66 1607.75 736.62 1608 737.45 1608.25 738.15 1608.5 738.74 1608.75 739.22 1609 739.62 1609.25 739.94 1609.5 740.2 1609.75 740.4 1610 740.56 1610.25 740.69 1610.5 740.7 1610.75 740.57 1611 740.32 1611.25 740.18 1611.5 740.13 1611.75 739.86 1612 739.52 1612.25 739.1 1612.5 738.58 1612.75 737.97 1613 737.25 1613.25 736.4 1613.5 735.44 1613.75 734.37 1614 733.18 1614.25 731.89 1614.5 730.51 1614.75 725.11 1615 717.22 1615.25 709.6 1615.5 708.81 1615.75 714.88 1616 706.56 1616.25 713.91 1616.5 713.7 1616.75 706.69 1617 703.16 1617.25 700.19 1617.5 706.85 1617.75 718.89 1618 719.97 1618.25 719.47 1618.5 719.11 1618.75 715.82 1619 707.33 1619.25 705.76 1619.5 702.35 1619.75 714.51 1620 729.88 1620.25 727.27 1620.5 716.96 1620.75 706.88 1621 701.44 1621.25 703.45 1621.5 711.86 1621.75 722.62 1622 731.74 1622.25 737.53 1622.5 740.23 1622.75 740.64 1623 740.98 1623.25 741.25 1623.5 741.47 1623.75 741.65 1624 741.79 1624.25 741.9 1624.5 741.99 1624.75 742.01 1625 741.95 1625.25 741.87 1625.5 741.78 1625.75 741.68 1626 741.58 1626.25 741.5 1626.5 741.44 1626.75 741.42 1627 741.45 1627.25 741.4 1627.5 741.11 1627.75 737.67 1628 730.05 1628.25 719.36 1628.5 711.67 1628.75 713.09 1629 722.44 1629.25 732.74 1629.5 735.9 1629.75 728.1 1630 717.65 1630.25 708.49 1630.5 705.59 1630.75 710.73 1631 720.47 1631.25 726.67 1631.5 728.42 1631.75 727.7 1632 727.12 1632.25 719.25 1632.5 713.32 1632.75 713.68 1633 706.84 1633.25 707.63 1633.5 715.58 1633.75 726.15 1634 727.31 1634.25 729.92 1634.5 730.94 1634.75 723.67 1635 714.2 1635.25 714.42 1635.5 724.13 1635.75 719.95 1636 719.19 1636.25 722.8 1636.5 728.95 1636.75 729.41 1637 724.99 1637.25 723.37 1637.5 725.42 1637.75 730.08 1638 734.49 1638.25 738.88 1638.5 741.71 1638.75 742.85 1639 743.06 1639.25 743.19 1639.5 743.29 1639.75 743.34 1640 743.37 1640.25 743.4 1640.5 743.44 1640.75 743.48 1641 743.53 1641.25 743.57 1641.5 743.62 1641.75 743.66 1642 743.7 1642.25 743.69 1642.5 743.66 1642.75 743.59 1643 743.48 1643.25 743.34 1643.5 743.19 1643.75 743.06 1644 742.99 1644.25 742.99 1644.5 743.08 1644.75 742.96 1645 740.99 1645.25 737.1 1645.5 731.52 1645.75 726.27 1646 724.21 1646.25 726.66 1646.5 727.69 1646.75 728.13 1647 731.08 1647.25 735.24 1647.5 739.09 1647.75 740.25 1648 737.67 1648.25 732.02 1648.5 728.72 1648.75 730.77 1649 730.26 1649.25 725.81 1649.5 725.36 1649.75 729.23 1650 733.18 1650.25 732.56 1650.5 730.18 1650.75 723.71 1651 720.53 1651.25 720.4 1651.5 724.31 1651.75 728.7 1652 732.02 1652.25 731.75 1652.5 731.55 1652.75 733.48 1653 734.7 1653.25 735.56 1653.5 736.45 1653.75 737.35 1654 738.24 1654.25 739.1 1654.5 739.92 1654.75 740.68 1655 741.37 1655.25 742 1655.5 742.56 1655.75 743.05 1656 743.47 1656.25 743.83 1656.5 744.14 1656.75 744.39 1657 744.61 1657.25 744.78 1657.5 744.92 1657.75 745.04 1658 745.14 1658.25 745.22 1658.5 745.28 1658.75 745.34 1659 745.39 1659.25 745.43 1659.5 745.47 1659.75 745.5 1660 745.51 1660.25 745.45 1660.5 745.29 1660.75 744.96 1661 744.48 1661.25 743.96 1661.5 743.62 1661.75 743.64 1662 744.02 1662.25 744.59 1662.5 745.13 1662.75 745.52 1663 745.7 1663.25 745.82 1663.5 745.9 1663.75 745.95 1664 745.98 1664.25 746.01 1664.5 746.03 1664.75 746.06 1665 746.08 1665.25 746.09 1665.5 746.11 1665.75 746.12 1666 746.12 1666.25 746.03 1666.5 745.67 1666.75 744.92 1667 743.82 1667.25 742.73 1667.5 742.22 1667.75 742.61 1668 743.68 1668.25 742.13 1668.5 738.92 1668.75 736.35 1669 734.32 1669.25 729.98 1669.5 727.76 1669.75 728.73 1670 732.43 1670.25 737.23 1670.5 736.02 1670.75 732.51 1671 730.95 1671.25 732.09 1671.5 735.39 1671.75 739.43 1672 739.52 1672.25 737.34 1672.5 733.66 1672.75 732.66 1673 735 1673.25 739.21 1673.5 739.61 1673.75 739.46 1674 739.36 1674.25 740.53 1674.5 741.27 1674.75 738.94 1675 734.76 1675.25 731.66 1675.5 731.1 1675.75 733.37 1676 737.39 1676.25 741.5 1676.5 741.66 1676.75 737.76 1677 734.36 1677.25 733.19 1677.5 734.93 1677.75 738.62 1678 742.5 1678.25 745.34 1678.5 746.9 1678.75 747.58 1679 747.69 1679.25 747.78 1679.5 747.85 1679.75 747.92 1680 747.98 1680.25 748.04 1680.5 748.09 1680.75 748.14 1681 748.18 1681.25 748.21 1681.5 748.21 1681.75 748.18 1682 748.14 1682.25 748.12 1682.5 748.08 1682.75 747.99 1683 747.92 1683.25 747.91 1683.5 747.96 1683.75 748.08 1684 748.24 1684.25 748.42 1684.5 748.58 1684.75 748.71 1685 748.81 1685.25 748.89 1685.5 748.96 1685.75 749.01 1686 749.06 1686.25 749.11 1686.5 749.17 1686.75 749.22 1687 749.27 1687.25 749.33 1687.5 749.38 1687.75 749.44 1688 749.5 1688.25 749.56 1688.5 749.63 1688.75 749.69 1689 749.76 1689.25 749.84 1689.5 749.91 1689.75 750 1690 750.14 1690.25 750.09 1690.5 749.94 1690.75 749.39 1691 748.11 1691.25 745.75 1691.5 742.39 1691.75 738.88 1692 736.65 1692.25 736.82 1692.5 739.29 1692.75 742.86 1693 746.12 1693.25 748.33 1693.5 748.67 1693.75 748.22 1694 746.59 1694.25 744.78 1694.5 743.49 1694.75 743.35 1695 744.44 1695.25 743.77 1695.5 741.3 1695.75 740.6 1696 742.14 1696.25 744.66 1696.5 744.33 1696.75 744.06 1697 741.99 1697.25 738.81 1697.5 738.14 1697.75 739.56 1698 742.67 1698.25 736.88 1698.5 735.85 1698.75 740.77 1699 744.35 1699.25 745.12 1699.5 745.53 1699.75 745.95 1700 746.38 1700.25 746.61 1700.5 745.27 1700.75 743.84 1701 740.74 1701.25 739.34 1701.5 738.61 1701.75 742.55 1702 747.08 1702.25 749.31 1702.5 749.52 1702.75 749.66 1703 749.62 1703.25 749.41 1703.5 749.19 1703.75 748.99 1704 748.84 1704.25 748.77 1704.5 748.78 1704.75 748.87 1705 749.04 1705.25 749.24 1705.5 749.46 1705.75 749.66 1706 749.83 1706.25 749.96 1706.5 750.06 1706.75 750.12 1707 750.16 1707.25 750.18 1707.5 750.19 1707.75 750.2 1708 750.2 1708.25 750.2 1708.5 750.2 1708.75 750.2 1709 750.2 1709.25 750.2 1709.5 750.2 1709.75 750.2 1710 750.2 1710.25 750.2 1710.5 750.2 1710.75 750.2 1711 750.2 1711.25 750.2 1711.5 750.2 1711.75 750.2 1712 750.2 1712.25 750.2 1712.5 750.2 1712.75 750.2 1713 750.2 1713.25 750.2 1713.5 750.2 1713.75 750.2 1714 750.2 1714.25 750.2 1714.5 750.2 1714.75 750.2 1715 750.2 1715.25 750.2 1715.5 750.2 1715.75 750.2 1716 750.2 1716.25 750.19 1716.5 750.18 1716.75 750.16 1717 750.13 1717.25 750.08 1717.5 750.03 1717.75 749.97 1718 749.93 1718.25 749.91 1718.5 749.93 1718.75 749.97 1719 750.03 1719.25 750.08 1719.5 750.13 1719.75 750.16 1720 750.18 1720.25 750.17 1720.5 750.16 1720.75 750.14 1721 750.01 1721.25 749.57 1721.5 747.78 1721.75 743.98 1722 739.47 1722.25 737.83 1722.5 740.65 1722.75 742.7 1723 742.86 1723.25 744.19 1723.5 746.1 1723.75 747.86 1724 748.66 1724.25 748.38 1724.5 748.08 1724.75 747.76 1725 747.31 1725.25 745.06 1725.5 741.98 1725.75 740.65 1726 739.67 1726.25 739.39 1726.5 741.17 1726.75 744.06 1727 744.36 1727.25 741.7 1727.5 740.56 1727.75 741.7 1728 744.36 1728.25 745.15 1728.5 745.19 1728.75 744.92 1729 745.52 1729.25 746.14 1729.5 746.46 1729.75 746.8 1730 747.15 1730.25 747.13 1730.5 743.03 1730.75 738.77 1731 737.76 1731.25 737.91 1731.5 740.86 1731.75 744.75 1732 747.76 1732.25 749.36 1732.5 749.66 1732.75 749.77 1733 749.87 1733.25 749.94 1733.5 750 1733.75 750.05 1734 750.07 1734.25 750.11 1734.5 750.14 1734.75 750.16 1735 750.15 1735.25 750.04 1735.5 749.82 1735.75 749.53 1736 749.34 1736.25 749.37 1736.5 749.6 1736.75 749.88 1737 750.07 1737.25 750.16 1737.5 750.19 1737.75 750.19 1738 750.16 1738.25 750.1 1738.5 750.01 1738.75 749.91 1739 749.88 1739.25 749.93 1739.5 750.04 1739.75 750.13 1740 750.18 1740.25 750.19 1740.5 750.2 1740.75 750.2 1741 750.2 1741.25 750.2 1741.5 750.2 1741.75 750.2 1742 750.19 1742.25 750.19 1742.5 750.18 1742.75 750.18 1743 750.18 1743.25 750.19 1743.5 750.19 1743.75 750.19 1744 750.2 1744.25 750.2 1744.5 750.2 1744.75 750.2 1745 750.2 1745.25 750.2 1745.5 750.2 1745.75 750.19 1746 750.19 1746.25 750.18 1746.5 750.17 1746.75 750.16 1747 750.15 1747.25 750.15 1747.5 750.15 1747.75 750.15 1748 750.15 1748.25 750.16 1748.5 750.17 1748.75 750.15 1749 750.13 1749.25 750.1 1749.5 750.07 1749.75 750.05 1750 750.03 1750.25 750.03 1750.5 750.03 1750.75 750.04 1751 750.07 1751.25 750.09 1751.5 750.11 1751.75 750.03 1752 749.92 1752.25 749.8 1752.5 749.68 1752.75 749.62 1753 749.63 1753.25 749.7 1753.5 749.81 1753.75 749.94 1754 749.84 1754.25 749.72 1754.5 749.61 1754.75 749.51 1755 749.45 1755.25 749.44 1755.5 749.48 1755.75 749.57 1756 749.68 1756.25 749.8 1756.5 749.91 1756.75 750.01 1757 750.08 1757.25 749.98 1757.5 749.84 1757.75 749.65 1758 749.46 1758.25 749.3 1758.5 749.22 1758.75 749.24 1759 749.35 1759.25 748.71 1759.5 746.68 1759.75 744.3 1760 743.16 1760.25 744.21 1760.5 746.39 1760.75 744.1 1761 743.63 1761.25 745.44 1761.5 747.87 1761.75 747.73 1762 747.35 1762.25 746.95 1762.5 744.58 1762.75 742.03 1763 740.94 1763.25 742.03 1763.5 742.48 1763.75 742.32 1764 743.64 1764.25 743.88 1764.5 740.2 1764.75 736.49 1765 734.51 1765.25 735.22 1765.5 738.26 1765.75 742.26 1766 743.84 1766.25 744.36 1766.5 745.24 1766.75 745.63 1767 742.95 1767.25 738.29 1767.5 738 1767.75 742.42 1768 739.74 1768.25 738.84 1768.5 741.09 1768.75 744.81 1769 747.84 1769.25 746.23 1769.5 744.54 1769.75 743.65 1770 744.04 1770.25 745.49 1770.5 747.27 1770.75 748.72 1771 749.59 1771.25 750 1771.5 750.1 1771.75 750.13 1772 750.15 1772.25 750.16 1772.5 750.17 1772.75 750.18 1773 750.19 1773.25 750.17 1773.5 750.15 1773.75 750.12 1774 750.07 1774.25 750.02 1774.5 749.96 1774.75 749.91 1775 749.88 1775.25 749.88 1775.5 749.9 1775.75 749.94 1776 750 1776.25 750.05 1776.5 750.1 1776.75 750.14 1777 750.16 1777.25 750.06 1777.5 749.78 1777.75 749.24 1778 748.5 1778.25 747.91 1778.5 747.82 1778.75 748.3 1779 749.04 1779.25 749.66 1779.5 750.01 1779.75 750.03 1780 750.03 1780.25 750.05 1780.5 750.08 1780.75 750.12 1781 750.15 1781.25 750.17 1781.5 750.19 1781.75 750.19 1782 750.2 1782.25 750.2 1782.5 750.2 1782.75 750.2 1783 750.2 1783.25 750.2 1783.5 750.2 1783.75 750.2 1784 750.2 1784.25 750.2 1784.5 750.2 1784.75 750.19 1785 750.17 1785.25 750.14 1785.5 750.07 1785.75 749.99 1786 749.61 1786.25 749.04 1786.5 748.59 1786.75 748.62 1787 749.1 1787.25 749.66 1787.5 750.01 1787.75 750.15 1788 750.17 1788.25 750.15 1788.5 750.11 1788.75 750.06 1789 749.99 1789.25 749.93 1789.5 749.88 1789.75 749.86 1790 749.79 1790.25 749.66 1790.5 749.59 1790.75 749.63 1791 749.75 1791.25 749.89 1791.5 749.8 1791.75 749.72 1792 749.67 1792.25 749.66 1792.5 749.69 1792.75 749.59 1793 749.42 1793.25 749.26 1793.5 749.14 1793.75 749.08 1794 749.09 1794.25 749.18 1794.5 749.32 1794.75 749.41 1795 749.32 1795.25 749.28 1795.5 749.27 1795.75 749.31 1796 749.38 1796.25 749.49 1796.5 749.61 1796.75 749.73 1797 749.84 1797.25 749.94 1797.5 750 1797.75 750.06 1798 750.11 1798.25 750.15 1798.5 750.17 1798.75 750.19 1799 750.19 1799.25 750.2 1799.5 750.2 1799.75 750.2 1800 750.2 1800.25 750.2 1800.5 750.2 1800.75 750.19 1801 750.19 1801.25 750.18 1801.5 750.15 1801.75 750.13 1802 750.12 1802.25 750.09 1802.5 750.06 1802.75 750.04 1803 750.01 1803.25 749.98 1803.5 749.96 1803.75 749.95 1804 749.96 1804.25 749.97 1804.5 750 1804.75 749.95 1805 749.87 1805.25 749.77 1805.5 749.66 1805.75 749.51 1806 749.35 1806.25 749.15 1806.5 748.93 1806.75 748.67 1807 748.38 1807.25 748.07 1807.5 747.73 1807.75 747.37 1808 746.07 1808.25 743.56 1808.5 741.88 1808.75 742.09 1809 739.2 1809.25 738.17 1809.5 740.69 1809.75 744.72 1810 742.5 1810.25 740.06 1810.5 739.81 1810.75 737.37 1811 737.87 1811.25 741.66 1811.5 744.02 1811.75 744.07 1812 743.39 1812.25 742.24 1812.5 740.56 1812.75 740.42 1813 741.87 1813.25 744.25 1813.5 746.64 1813.75 748.07 1814 748.38 1814.25 748.67 1814.5 748.93 1814.75 749.15 1815 749.35 1815.25 749.51 1815.5 749.66 1815.75 749.77 1816 749.87 1816.25 749.95 1816.5 750.01 1816.75 750.06 1817 750.09 1817.25 750.12 1817.5 750.08 1817.75 750.02 1818 749.95 1818.25 749.88 1818.5 749.84 1818.75 749.82 1819 749.83 1819.25 749.77 1819.5 749.61 1819.75 749.46 1820 749.35 1820.25 749.31 1820.5 749.35 1820.75 749.45 1821 749.6 1821.25 749.76 1821.5 749.9 1821.75 750.02 1822 750.1 1822.25 750.15 1822.5 750.18 1822.75 750.19 1823 750.2 1823.25 750.19 1823.5 750.19 1823.75 750.18 1824 750.16 1824.25 750.13 1824.5 750.09 1824.75 750.03 1825 749.96 1825.25 749.86 1825.5 749.76 1825.75 749.65 1826 749.55 1826.25 749.47 1826.5 749.42 1826.75 749.4 1827 749.2 1827.25 748.77 1827.5 748.34 1827.75 748 1828 747.82 1828.25 747.85 1828.5 748.09 1828.75 748.47 1829 748.91 1829.25 749.32 1829.5 749.56 1829.75 749.31 1830 749.28 1830.25 749.49 1830.5 749.79 1830.75 749.86 1831 749.82 1831.25 749.79 1831.5 749.79 1831.75 749.8 1832 749.84 1832.25 749.88 1832.5 749.94 1832.75 750 1833 750.05 1833.25 750.09 1833.5 750.11 1833.75 750.09 1834 750.07 1834.25 750.06 1834.5 750.06 1834.75 750.06 1835 750.07 1835.25 750.09 1835.5 750.11 1835.75 750.02 1836 749.93 1836.25 749.86 1836.5 749.86 1836.75 749.93 1837 750.03 1837.25 750.11 1837.5 750.16 1837.75 750.19 1838 750.2 1838.25 750.2 1838.5 750.2 1838.75 750.2 1839 750.2 1839.25 750.2 1839.5 750.2 1839.75 750.2 1840 750.2 1840.25 750.19 1840.5 750.19 1840.75 750.19 1841 750.18 1841.25 750.18 1841.5 750.18 1841.75 750.17 1842 750.16 1842.25 750.11 1842.5 750.05 1842.75 749.95 1843 749.82 1843.25 749.67 1843.5 749.53 1843.75 749.42 1844 749.37 1844.25 749.38 1844.5 749.46 1844.75 749.59 1845 749.73 1845.25 749.87 1845.5 749.99 1845.75 750.08 1846 750.13 1846.25 750.17 1846.5 750.18 1846.75 750.19 1847 750.19 1847.25 750.19 1847.5 750.18 1847.75 750.17 1848 750.15 1848.25 750.13 1848.5 750.1 1848.75 750.07 1849 750.04 1849.25 750.01 1849.5 749.99 1849.75 749.97 1850 749.96 1850.25 749.96 1850.5 749.97 1850.75 750 1851 750.02 1851.25 749.84 1851.5 749.31 1851.75 748.61 1852 748.16 1852.25 748.31 1852.5 748.94 1852.75 749.42 1853 749.23 1853.25 749.09 1853.5 749.03 1853.75 749.05 1854 749.15 1854.25 749.31 1854.5 749.5 1854.75 749.69 1855 749.85 1855.25 749.98 1855.5 750.07 1855.75 750.13 1856 750.15 1856.25 750.13 1856.5 750.11 1856.75 750.08 1857 750.05 1857.25 750.02 1857.5 749.99 1857.75 749.97 1858 749.96 1858.25 749.95 1858.5 749.54 1858.75 748.98 1859 748.6 1859.25 748.73 1859.5 749.25 1859.75 749.77 1860 750.06 1860.25 750.15 1860.5 750.15 1860.75 750.15 1861 750.16 1861.25 750.17 1861.5 750.18 1861.75 750.16 1862 750.11 1862.25 750.05 1862.5 750.02 1862.75 750.04 1863 750.09 1863.25 750.15 1863.5 750.14 1863.75 750.07 1864 749.99 1864.25 749.95 1864.5 749.98 1864.75 750.04 1865 749.87 1865.25 749.74 1865.5 749.76 1865.75 749.92 1866 750.07 1866.25 750.16 1866.5 750.19 1866.75 750.2 1867 750.2 1867.25 750.2 1867.5 750.2 1867.75 750.2 1868 750.2 1868.25 750.2 1868.5 750.2" fill="none" stroke="#000" stroke-width="2.4" stroke-linejoin="round"/>
<path d="M1525.5 744.95 L1526.2 742.17 L1526.9 740.14 L1528 739.89 L1529.1 740.65 L1530 742.67 L1530.8 744.95 Z" fill="#000"/>
<path d="M1531.4 742.6 L1532.1 736.64 L1532.8 732.3 L1533.9 731.76 L1535 733.38 L1535.9 737.72 L1536.7 742.6 Z" fill="#000"/>
<path d="M1537.3 740.39 L1538 729.12 L1538.7 720.93 L1539.8 719.9 L1540.9 722.98 L1541.8 731.17 L1542.6 740.39 Z" fill="#000"/>
<path d="M1543.9 738.07 L1544.6 718.18 L1545.3 703.71 L1546.4 701.9 L1547.5 707.33 L1548.4 721.79 L1549.2 738.07 Z" fill="#000"/>
<path d="M1551.1 737.05 L1551.8 709.47 L1552.5 689.42 L1553.6 686.91 L1554.7 694.43 L1555.6 714.49 L1556.4 737.05 Z" fill="#000"/>
<path d="M1559.2 737.61 L1559.9 708.7 L1560.6 687.68 L1561.7 685.05 L1562.8 692.94 L1563.7 713.96 L1564.5 737.61 Z" fill="#000"/>
<path d="M1567.6 738.21 L1568.3 711.55 L1569 692.16 L1570.1 689.74 L1571.2 697.01 L1572.1 716.4 L1572.9 738.21 Z" fill="#000"/>
<path d="M1577.4 738.92 L1578.1 714.2 L1578.8 696.22 L1579.9 693.97 L1581 700.71 L1581.9 718.69 L1582.7 738.92 Z" fill="#000"/>
<path d="M1588 739.71 L1588.7 713.32 L1589.4 694.13 L1590.5 691.73 L1591.6 698.92 L1592.5 718.12 L1593.3 739.71 Z" fill="#000"/>
<path d="M1600 740.64 L1600.7 713.46 L1601.4 693.69 L1602.5 691.22 L1603.6 698.63 L1604.5 718.4 L1605.3 740.64 Z" fill="#000"/>
<path d="M1614 741.77 L1614.7 718.91 L1615.4 702.29 L1616.5 700.21 L1617.6 706.44 L1618.5 723.06 L1619.3 741.77 Z" fill="#000"/>
<path d="M1629.4 743.09 L1630.1 726.51 L1630.8 714.45 L1631.9 712.95 L1633 717.47 L1633.9 729.52 L1634.7 743.09 Z" fill="#000"/>
<path d="M1648 744.84 L1648.7 731.44 L1649.4 721.7 L1650.5 720.48 L1651.6 724.13 L1652.5 733.88 L1653.3 744.84 Z" fill="#000"/>
<path d="M1669.5 747.22 L1670.2 739.27 L1670.9 733.49 L1672 732.76 L1673.1 734.93 L1674 740.71 L1674.8 747.22 Z" fill="#000"/>
<path d="M1694.3 750.5 L1695 743.87 L1695.7 739.05 L1696.8 738.44 L1697.9 740.25 L1698.8 745.07 L1699.6 750.5 Z" fill="#000"/>
<path d="M1724.3 750.5 L1725 745.2 L1725.7 741.35 L1726.8 740.86 L1727.9 742.31 L1728.8 746.16 L1729.6 750.5 Z" fill="#000"/>
<path d="M1761.6 750.5 L1762.3 744.14 L1763 739.51 L1764.1 738.93 L1765.2 740.66 L1766.1 745.29 L1766.9 750.5 Z" fill="#000"/>
<path d="M1807.2 750.5 L1807.9 744.67 L1808.6 740.43 L1809.7 739.9 L1810.8 741.49 L1811.7 745.73 L1812.5 750.5 Z" fill="#000"/>
<line x1="1527.8" y1="750.5" x2="1527.8" y2="729.5" stroke="#000" stroke-width="2.4" stroke-linecap="round"/>
<line x1="1533.7" y1="750.5" x2="1533.7" y2="703.2" stroke="#000" stroke-width="2.4" stroke-linecap="round"/>
<line x1="1539.6" y1="750.5" x2="1539.6" y2="659.4" stroke="#000" stroke-width="2.4" stroke-linecap="round"/>
<line x1="1546.2" y1="750.5" x2="1546.2" y2="588.1" stroke="#000" stroke-width="2.4" stroke-linecap="round"/>
<line x1="1553.4" y1="750.5" x2="1553.4" y2="524.6" stroke="#000" stroke-width="2.4" stroke-linecap="round"/>
<line x1="1561.5" y1="750.5" x2="1561.5" y2="513.6" stroke="#000" stroke-width="2.4" stroke-linecap="round"/>
<line x1="1569.9" y1="750.5" x2="1569.9" y2="532.2" stroke="#000" stroke-width="2.4" stroke-linecap="round"/>
<line x1="1579.7" y1="750.5" x2="1579.7" y2="548.2" stroke="#000" stroke-width="2.4" stroke-linecap="round"/>
<line x1="1590.3" y1="750.5" x2="1590.3" y2="534.4" stroke="#000" stroke-width="2.4" stroke-linecap="round"/>
<line x1="1602.3" y1="750.5" x2="1602.3" y2="527.9" stroke="#000" stroke-width="2.4" stroke-linecap="round"/>
<line x1="1616.3" y1="750.5" x2="1616.3" y2="563.6" stroke="#000" stroke-width="2.4" stroke-linecap="round"/>
<line x1="1631.7" y1="750.5" x2="1631.7" y2="615.5" stroke="#000" stroke-width="2.4" stroke-linecap="round"/>
<line x1="1650.3" y1="750.5" x2="1650.3" y2="641.8" stroke="#000" stroke-width="2.4" stroke-linecap="round"/>
<line x1="1671.8" y1="750.5" x2="1671.8" y2="686.8" stroke="#000" stroke-width="2.4" stroke-linecap="round"/>
<line x1="1696.6" y1="750.5" x2="1696.6" y2="697.7" stroke="#000" stroke-width="2.4" stroke-linecap="round"/>
<line x1="1726.6" y1="750.5" x2="1726.6" y2="708.7" stroke="#000" stroke-width="2.4" stroke-linecap="round"/>
<line x1="1763.9" y1="750.5" x2="1763.9" y2="699.9" stroke="#000" stroke-width="2.4" stroke-linecap="round"/>
<line x1="1809.5" y1="750.5" x2="1809.5" y2="704.3" stroke="#000" stroke-width="2.4" stroke-linecap="round"/>
<line x1="1714.5" y1="750.5" x2="1714.5" y2="729.5" stroke="#000" stroke-width="2.2" stroke-linecap="round"/>
<line x1="1820.9" y1="750.5" x2="1820.9" y2="741" stroke="#000" stroke-width="2.2" stroke-linecap="round"/>
<line x1="1513.3" y1="751.5" x2="1869.1" y2="751.5" stroke="#000" stroke-width="2.6" stroke-linecap="butt"/>
<line x1="1513.3" y1="750.3" x2="1513.3" y2="767.2" stroke="#000" stroke-width="2.6" stroke-linecap="round"/>
<text x="1489.36" y="801.1" font-size="28.6" stroke="#000" stroke-width="0.45">500</text>
<line x1="1631.9" y1="750.3" x2="1631.9" y2="767.2" stroke="#000" stroke-width="2.6" stroke-linecap="round"/>
<text x="1599.52" y="801.1" font-size="28.6" stroke="#000" stroke-width="0.45">1000</text>
<line x1="1750.5" y1="750.3" x2="1750.5" y2="767.2" stroke="#000" stroke-width="2.6" stroke-linecap="round"/>
<text x="1718.12" y="801.1" font-size="28.6" stroke="#000" stroke-width="0.45">1500</text>
<line x1="1869.1" y1="750.3" x2="1869.1" y2="767.2" stroke="#000" stroke-width="2.6" stroke-linecap="round"/>
<text x="1837.1" y="801.1" font-size="28.6" stroke="#000" stroke-width="0.45">2000</text>
<line x1="1869.1" y1="732.9" x2="1869.1" y2="751.5" stroke="#000" stroke-width="2.6" stroke-linecap="round"/>
<text x="1668.85" y="845.8" font-size="28.6" stroke="#000" stroke-width="0.45">m/z</text>
<text x="1498.33" y="580.6" font-size="28.6" stroke="#000" stroke-width="0.45">+22</text>
<text x="1530.12" y="495.1" font-size="28.6" stroke="#000" stroke-width="0.45">+20</text>
<text x="1600.33" y="503.8" font-size="28.6" stroke="#000" stroke-width="0.45">+16</text>
<text x="1625.92" y="611.3" font-size="28.6" stroke="#000" stroke-width="0.45">+14</text>
<text x="1657.33" y="652.9" font-size="28.6" stroke="#000" stroke-width="0.45">+12</text>
<text x="1702.22" y="689.1" font-size="28.6" stroke="#000" stroke-width="0.45">+10</text>
<text x="1792.12" y="689.1" font-size="28.6" stroke="#000" stroke-width="0.45">+8</text>
<line x1="1611.5" y1="510.4" x2="1602.8" y2="524.7" stroke="#8a8a8a" stroke-width="1.6" stroke-dasharray="3.2 2.4"/>
<line x1="1682.8" y1="665" x2="1671.8" y2="684.7" stroke="#8a8a8a" stroke-width="1.6" stroke-dasharray="3.2 2.4"/>
<text x="1750.5" y="492.6" font-size="29"><tspan fill="#6aa2d8">β-Glc</tspan>-<tspan font-weight="bold">10</tspan></text>
<text x="1750.12" y="527.8" font-size="29" stroke="#000" stroke-width="0.45">M (Calc.): 13984.2 Da</text>
<text x="1750.12" y="563" font-size="29" stroke="#000" stroke-width="0.45">M (Obs.): 13982.8 Da</text>
<path d="M1995.4 749.1 1995.7 749.09 1996 749.07 1996.3 749.03 1996.6 748.94 1996.9 748.77 1997.2 748.51 1997.5 748.19 1997.8 747.87 1998.1 747.64 1998.4 747.57 1998.7 747.66 1999 747.83 1999.3 748.03 1999.6 748.2 1999.9 748.35 2000.2 748.49 2000.5 748.62 2000.8 748.73 2001.1 748.84 2001.4 748.92 2001.7 748.99 2002 749.03 2002.3 749.06 2002.6 749.08 2002.9 749.09 2003.2 749.08 2003.5 749.07 2003.8 749.05 2004.1 749 2004.4 748.93 2004.7 748.83 2005 748.68 2005.3 748.51 2005.6 748.31 2005.9 748.13 2006.2 747.99 2006.5 747.93 2006.8 747.95 2007.1 748.05 2007.4 748.21 2007.7 748.38 2008 748.5 2008.3 748.56 2008.6 748.51 2008.9 748.38 2009.2 748.16 2009.5 747.91 2009.8 747.66 2010.1 747.46 2010.4 747.35 2010.7 747.35 2011 747.45 2011.3 747.65 2011.6 747.9 2011.9 748.16 2012.2 748.38 2012.5 748.51 2012.8 748.51 2013.1 748.46 2013.4 748.45 2013.7 748.52 2014 748.53 2014.3 748.45 2014.6 748.28 2014.9 748.09 2015.2 747.95 2015.5 747.92 2015.8 748.01 2016.1 748.18 2016.4 748.4 2016.7 748.6 2017 748.78 2017.3 748.91 2017.6 749 2017.9 749.05 2018.2 749.08 2018.5 749.09 2018.8 749.1 2019.1 749.1 2019.4 749.1 2019.7 749.1 2020 749.1 2020.3 749.1 2020.6 749.1 2020.9 749.1 2021.2 749.1 2021.5 749.1 2021.8 749.1 2022.1 749.1 2022.4 749.1 2022.7 749.1 2023 749.1 2023.3 749.1 2023.6 749.09 2023.9 749.07 2024.2 749 2024.5 748.82 2024.8 748.39 2025.1 747.46 2025.4 745.72 2025.7 742.87 2026 738.82 2026.3 733.92 2026.6 729.02 2026.9 725.27 2027.2 723.78 2027.5 725.1 2027.8 728.85 2028.1 733.84 2028.4 738.79 2028.7 742.84 2029 745.63 2029.3 747.22 2029.6 747.85 2029.9 747.78 2030.2 747.29 2030.5 746.62 2030.8 745.97 2031.1 745.4 2031.4 744.9 2031.7 744.46 2032 744.12 2032.3 743.92 2032.6 743.84 2032.9 743.88 2033.2 744.04 2033.5 744.28 2033.8 744.5 2034.1 744.62 2034.4 744.58 2034.7 744.36 2035 743.93 2035.3 743.33 2035.6 742.6 2035.9 741.8 2036.2 741.09 2036.5 740.74 2036.8 740.87 2037.1 741.28 2037.4 741.77 2037.7 742.18 2038 742.39 2038.3 742.3 2038.6 741.91 2038.9 741.49 2039.2 741.45 2039.5 742.01 2039.8 742.96 2040.1 743.92 2040.4 744.63 2040.7 745.02 2041 745.13 2041.3 744.99 2041.6 744.65 2041.9 744.14 2042.2 743.52 2042.5 742.91 2042.8 742.49 2043.1 742.37 2043.4 742.51 2043.7 742.81 2044 743.12 2044.3 743.34 2044.6 743.46 2044.9 743.51 2045.2 743.65 2045.5 743.95 2045.8 744.35 2046.1 744.7 2046.4 744.89 2046.7 744.87 2047 744.65 2047.3 744.2 2047.6 743.61 2047.9 743.05 2048.2 742.8 2048.5 742.89 2048.8 743.17 2049.1 743.46 2049.4 743.7 2049.7 743.83 2050 743.81 2050.3 743.64 2050.6 743.31 2050.9 742.9 2051.2 742.54 2051.5 742.26 2051.8 742.01 2052.1 741.78 2052.4 741.68 2052.7 741.88 2053 742.4 2053.3 743.08 2053.6 743.77 2053.9 744.31 2054.2 744.65 2054.5 744.76 2054.8 744.68 2055.1 744.47 2055.4 744.14 2055.7 743.75 2056 743.36 2056.3 743.03 2056.6 742.73 2056.9 742.5 2057.2 742.43 2057.5 742.59 2057.8 742.9 2058.1 743.22 2058.4 743.51 2058.7 743.75 2059 743.92 2059.3 744.01 2059.6 744.01 2059.9 743.96 2060.2 743.87 2060.5 743.76 2060.8 743.72 2061.1 743.76 2061.4 743.82 2061.7 743.77 2062 743.61 2062.3 743.43 2062.6 743.3 2062.9 743.24 2063.2 743.25 2063.5 743.29 2063.8 743.28 2064.1 743.22 2064.4 743.15 2064.7 743.12 2065 743.1 2065.3 743.08 2065.6 743.11 2065.9 743.23 2066.2 743.41 2066.5 743.56 2066.8 743.67 2067.1 743.75 2067.4 743.8 2067.7 743.79 2068 743.77 2068.3 743.77 2068.6 743.77 2068.9 743.71 2069.2 743.61 2069.5 743.48 2069.8 743.32 2070.1 743.15 2070.4 743.05 2070.7 743.07 2071 743.17 2071.3 743.29 2071.6 743.44 2071.9 743.63 2072.2 743.79 2072.5 743.84 2072.8 743.69 2073.1 743.32 2073.4 742.78 2073.7 742.21 2074 741.83 2074.3 741.75 2074.6 741.95 2074.9 742.37 2075.2 743.11 2075.5 744.23 2075.8 745.62 2076.1 746.97 2076.4 748" fill="none" stroke="#000" stroke-width="2.2" stroke-linejoin="round"/>
<line x1="2027.8" y1="749.3" x2="2027.8" y2="603.2" stroke="#000" stroke-width="2.3" stroke-linecap="round"/>
<line x1="2001.5" y1="749.3" x2="2001.5" y2="727.7" stroke="#000" stroke-width="2.1" stroke-linecap="round"/>
<path d="M1994.9 757.8 L1994.9 750.3 L2077 750.3 L2077 757.8" stroke="#000" stroke-width="2.5" fill="none" stroke-linejoin="round" stroke-linecap="round"/>
<line x1="2035.95" y1="750.3" x2="2035.95" y2="754.9" stroke="#000" stroke-width="2.3" stroke-linecap="butt"/>
<text x="1960.71" y="787.3" font-size="24.2" stroke="#000" stroke-width="0.45">10000</text>
<text x="2043.12" y="787.3" font-size="24.2" stroke="#000" stroke-width="0.45">20000</text>
<text x="2002.01" y="827" font-size="22.8" stroke="#000" stroke-width="0.45">M (Da)</text>
<text x="25.45" y="920.3" font-size="33" font-weight="bold" stroke="#000" stroke-width="0.2">c</text>
<g stroke="#efe9c8" fill="#efe9c8" stroke-linecap="round" stroke-linejoin="round">
<line x1="104.1" y1="973.9" x2="152.6" y2="985.6" stroke-width="15"/>
<line x1="152.6" y1="985.6" x2="189.45" y2="976.23" stroke-width="15"/>
<line x1="206.43" y1="983.31" x2="225.5" y2="1015.7" stroke-width="15"/>
<path d="M104.1 973.9 L123.02 1017.06 L181.56 1006.89 L225.67 1016.48 L225.33 1014.92 L179.64 998.31 L132.18 1011.74Z" stroke-width="13"/>
<line x1="152.6" y1="985.6" x2="131.5" y2="951.2" stroke-width="15"/>
<line x1="104.1" y1="973.9" x2="104.1" y2="943.4" stroke-width="15"/>
<text x="96.5" y="935.6" font-size="24.5" stroke-width="11.5">OH</text>
<line x1="131.5" y1="951.2" x2="155.1" y2="938.4" stroke-width="15"/>
<text x="160.5" y="935.6" font-size="24.5" stroke-width="11.5">OH</text>
<line x1="93.6" y1="1017.2" x2="127.6" y2="1014.4" stroke-width="15"/>
<text x="51.9" y="1025.1" font-size="24.5" stroke-width="11.5">HO</text>
<text x="200.6" y="982.2" font-size="24.5" text-anchor="middle" stroke-width="11.5">O</text>
<line x1="225.5" y1="1015.7" x2="264.25" y2="1003.5" stroke-width="15"/>
<text x="275.7" y="1008.7" font-size="24.5" text-anchor="middle" stroke-width="11.5">O</text>
<line x1="180.6" y1="1002.6" x2="191.8" y2="1028" stroke-width="15"/>
<text x="191.5" y="1051.4" font-size="24.5" stroke-width="11.5">NH</text>
<line x1="191.8" y1="1057.7" x2="178.5" y2="1082" stroke-width="15"/>
<line x1="144.6" y1="1078.2" x2="178.5" y2="1078.1" stroke-width="15"/>
<line x1="144.6" y1="1086" x2="177.5" y2="1085.9" stroke-width="15"/>
<text x="132.3" y="1091.6" font-size="24.5" text-anchor="middle" stroke-width="11.5">O</text>
<line x1="178.5" y1="1082" x2="200.4" y2="1122.7" stroke-width="15"/>
</g>
<line x1="104.1" y1="973.9" x2="152.6" y2="985.6" stroke="#000" stroke-width="2.7" stroke-linecap="round"/>
<line x1="152.6" y1="985.6" x2="189.45" y2="976.23" stroke="#000" stroke-width="2.7" stroke-linecap="round"/>
<line x1="206.43" y1="983.31" x2="225.5" y2="1015.7" stroke="#000" stroke-width="2.7" stroke-linecap="round"/>
<path d="M104.1 973.9 L123.02 1017.06 L181.56 1006.89 L225.67 1016.48 L225.33 1014.92 L179.64 998.31 L132.18 1011.74Z" fill="#000" stroke="#000" stroke-width="1" stroke-linejoin="round"/>
<line x1="152.6" y1="985.6" x2="131.5" y2="951.2" stroke="#000" stroke-width="2.7" stroke-linecap="round"/>
<line x1="104.1" y1="973.9" x2="104.1" y2="943.4" stroke="#000" stroke-width="2.7" stroke-linecap="round"/>
<text x="96.5" y="935.6" font-size="24.5" stroke="#000" stroke-width="0.45">OH</text>
<line x1="131.5" y1="951.2" x2="155.1" y2="938.4" stroke="#000" stroke-width="2.7" stroke-linecap="round"/>
<text x="160.5" y="935.6" font-size="24.5" stroke="#000" stroke-width="0.45">OH</text>
<line x1="93.6" y1="1017.2" x2="127.6" y2="1014.4" stroke="#000" stroke-width="2.7" stroke-linecap="round"/>
<text x="51.9" y="1025.1" font-size="24.5" stroke="#000" stroke-width="0.45">HO</text>
<text x="200.6" y="982.2" font-size="24.5" text-anchor="middle" stroke="#000" stroke-width="0.45">O</text>
<line x1="225.5" y1="1015.7" x2="264.25" y2="1003.5" stroke="#000" stroke-width="2.7" stroke-linecap="round"/>
<text x="275.7" y="1008.7" font-size="24.5" text-anchor="middle" stroke="#000" stroke-width="0.45">O</text>
<line x1="180.6" y1="1002.6" x2="191.8" y2="1028" stroke="#000" stroke-width="2.7" stroke-linecap="round"/>
<text x="191.5" y="1051.4" font-size="24.5" stroke="#000" stroke-width="0.45">NH</text>
<line x1="191.8" y1="1057.7" x2="178.5" y2="1082" stroke="#000" stroke-width="2.7" stroke-linecap="round"/>
<line x1="144.6" y1="1078.2" x2="178.5" y2="1078.1" stroke="#000" stroke-width="2.7" stroke-linecap="round"/>
<line x1="144.6" y1="1086" x2="177.5" y2="1085.9" stroke="#000" stroke-width="2.7" stroke-linecap="round"/>
<text x="132.3" y="1091.6" font-size="24.5" text-anchor="middle" stroke="#000" stroke-width="0.45">O</text>
<line x1="178.5" y1="1082" x2="200.4" y2="1122.7" stroke="#000" stroke-width="2.7" stroke-linecap="round"/>
<text x="79.4" y="972.4" font-size="23" stroke="#000" stroke-width="0.45">4</text>
<ellipse cx="113.5" cy="927.8" rx="32.5" ry="23.9" fill="none" stroke="#e0262a" stroke-width="3.6" stroke-dasharray="8.5 5.5"/>
<rect x="180.5" y="1130.3" width="174" height="45.3" rx="14" ry="14" fill="none" stroke="#000" stroke-width="2.6"/>
<text x="268.7" y="1161.1" font-size="24.7" text-anchor="middle" textLength="147.6" lengthAdjust="spacingAndGlyphs" stroke="#000" stroke-width="0.45">H2B(98–125)</text>
<line x1="135.7" y1="1152.5" x2="180.5" y2="1152.5" stroke="#000" stroke-width="2.6" stroke-linecap="round"/>
<line x1="135.7" y1="1152.5" x2="120.34" y2="1125.32" stroke="#000" stroke-width="2.6" stroke-linecap="round"/>
<line x1="137.84" y1="1146.12" x2="125.43" y2="1124.17" stroke="#000" stroke-width="2.6" stroke-linecap="round"/>
<text x="113.2" y="1121.5" font-size="24.5" text-anchor="middle" stroke="#000" stroke-width="0.45">O</text>
<path d="M135.7 1152.5 L112.2 1191 L67.2 1191.6 L51.5 1218.4" stroke="#000" stroke-width="2.6" fill="none" stroke-linejoin="round" stroke-linecap="round"/>
<line x1="112.2" y1="1191" x2="125.9" y2="1215.8" stroke="#000" stroke-width="2.6" stroke-linecap="round"/>
<text x="16.9" y="1239.9" font-size="24.5" stroke="#000" stroke-width="0.45">HS</text>
<text x="125.3" y="1239.6" font-size="24.5" stroke="#000" stroke-width="0.45">NH<tspan font-size="19" dy="5.5">2</tspan></text>
<text x="15.5" y="1172.1" font-size="28.6" textLength="72.5" lengthAdjust="spacingAndGlyphs" fill="#c4262b" stroke="#c4262b" stroke-width="0.45">A97C</text>
<line x1="354.5" y1="1152.2" x2="398.1" y2="1152.2" stroke="#000" stroke-width="2.6" stroke-linecap="round"/>
<line x1="398.1" y1="1152.2" x2="414.21" y2="1124.98" stroke="#000" stroke-width="2.6" stroke-linecap="round"/>
<line x1="396.09" y1="1145.78" x2="409.15" y2="1123.72" stroke="#000" stroke-width="2.6" stroke-linecap="round"/>
<text x="421.6" y="1121.3" font-size="24.5" text-anchor="middle" stroke="#000" stroke-width="0.45">O</text>
<line x1="398.1" y1="1152.2" x2="412.7" y2="1176.4" stroke="#000" stroke-width="2.6" stroke-linecap="round"/>
<text x="412.4" y="1199.9" font-size="24.5" stroke="#000" stroke-width="0.45">NH<tspan font-size="19" dy="5.5">2</tspan></text>
<path d="M288.2 1005.4 L319.4 1026.3 L319.4 1130.3" stroke="#000" stroke-width="2.6" fill="none" stroke-linejoin="round" stroke-linecap="round"/>
<text x="343.4" y="1060.1" font-size="28.6" textLength="61" lengthAdjust="spacingAndGlyphs" fill="#3b8f77" stroke="#3b8f77" stroke-width="0.45">S112</text>
<g stroke="#efe9c8" fill="#efe9c8" stroke-linecap="round" stroke-linejoin="round">
<line x1="1100.2" y1="968.7" x2="1148.7" y2="980.4" stroke-width="15"/>
<line x1="1148.7" y1="980.4" x2="1185.55" y2="971.03" stroke-width="15"/>
<line x1="1202.53" y1="978.11" x2="1221.6" y2="1010.5" stroke-width="15"/>
<path d="M1100.2 968.7 L1119.12 1011.86 L1177.66 1001.69 L1221.77 1011.28 L1221.43 1009.72 L1175.74 993.11 L1128.28 1006.54Z" stroke-width="13"/>
<line x1="1148.7" y1="980.4" x2="1127.6" y2="946" stroke-width="15"/>
<line x1="1100.2" y1="968.7" x2="1100.2" y2="938.2" stroke-width="15"/>
<text x="1092.6" y="930.4" font-size="24.5" stroke-width="11.5">OH</text>
<line x1="1127.6" y1="946" x2="1151.2" y2="933.2" stroke-width="15"/>
<text x="1156.6" y="930.4" font-size="24.5" stroke-width="11.5">OH</text>
<line x1="1089.7" y1="1012" x2="1123.7" y2="1009.2" stroke-width="15"/>
<text x="1048" y="1019.9" font-size="24.5" stroke-width="11.5">HO</text>
<text x="1196.7" y="977" font-size="24.5" text-anchor="middle" stroke-width="11.5">O</text>
<line x1="1221.6" y1="1010.5" x2="1260.35" y2="998.3" stroke-width="15"/>
<text x="1271.8" y="1003.5" font-size="24.5" text-anchor="middle" stroke-width="11.5">O</text>
<line x1="1176.7" y1="997.4" x2="1187.9" y2="1022.8" stroke-width="15"/>
<text x="1187.6" y="1046.2" font-size="24.5" stroke-width="11.5">NH</text>
<line x1="1187.9" y1="1052.5" x2="1174.6" y2="1076.8" stroke-width="15"/>
<line x1="1140.7" y1="1073" x2="1174.6" y2="1072.9" stroke-width="15"/>
<line x1="1140.7" y1="1080.8" x2="1173.6" y2="1080.7" stroke-width="15"/>
<text x="1128.4" y="1086.4" font-size="24.5" text-anchor="middle" stroke-width="11.5">O</text>
<line x1="1174.6" y1="1076.8" x2="1196.5" y2="1117.5" stroke-width="15"/>
</g>
<line x1="1100.2" y1="968.7" x2="1148.7" y2="980.4" stroke="#000" stroke-width="2.7" stroke-linecap="round"/>
<line x1="1148.7" y1="980.4" x2="1185.55" y2="971.03" stroke="#000" stroke-width="2.7" stroke-linecap="round"/>
<line x1="1202.53" y1="978.11" x2="1221.6" y2="1010.5" stroke="#000" stroke-width="2.7" stroke-linecap="round"/>
<path d="M1100.2 968.7 L1119.12 1011.86 L1177.66 1001.69 L1221.77 1011.28 L1221.43 1009.72 L1175.74 993.11 L1128.28 1006.54Z" fill="#000" stroke="#000" stroke-width="1" stroke-linejoin="round"/>
<line x1="1148.7" y1="980.4" x2="1127.6" y2="946" stroke="#000" stroke-width="2.7" stroke-linecap="round"/>
<line x1="1100.2" y1="968.7" x2="1100.2" y2="938.2" stroke="#000" stroke-width="2.7" stroke-linecap="round"/>
<text x="1092.6" y="930.4" font-size="24.5" stroke="#000" stroke-width="0.45">OH</text>
<line x1="1127.6" y1="946" x2="1151.2" y2="933.2" stroke="#000" stroke-width="2.7" stroke-linecap="round"/>
<text x="1156.6" y="930.4" font-size="24.5" stroke="#000" stroke-width="0.45">OH</text>
<line x1="1089.7" y1="1012" x2="1123.7" y2="1009.2" stroke="#000" stroke-width="2.7" stroke-linecap="round"/>
<text x="1048" y="1019.9" font-size="24.5" stroke="#000" stroke-width="0.45">HO</text>
<text x="1196.7" y="977" font-size="24.5" text-anchor="middle" stroke="#000" stroke-width="0.45">O</text>
<line x1="1221.6" y1="1010.5" x2="1260.35" y2="998.3" stroke="#000" stroke-width="2.7" stroke-linecap="round"/>
<text x="1271.8" y="1003.5" font-size="24.5" text-anchor="middle" stroke="#000" stroke-width="0.45">O</text>
<line x1="1176.7" y1="997.4" x2="1187.9" y2="1022.8" stroke="#000" stroke-width="2.7" stroke-linecap="round"/>
<text x="1187.6" y="1046.2" font-size="24.5" stroke="#000" stroke-width="0.45">NH</text>
<line x1="1187.9" y1="1052.5" x2="1174.6" y2="1076.8" stroke="#000" stroke-width="2.7" stroke-linecap="round"/>
<line x1="1140.7" y1="1073" x2="1174.6" y2="1072.9" stroke="#000" stroke-width="2.7" stroke-linecap="round"/>
<line x1="1140.7" y1="1080.8" x2="1173.6" y2="1080.7" stroke="#000" stroke-width="2.7" stroke-linecap="round"/>
<text x="1128.4" y="1086.4" font-size="24.5" text-anchor="middle" stroke="#000" stroke-width="0.45">O</text>
<line x1="1174.6" y1="1076.8" x2="1196.5" y2="1117.5" stroke="#000" stroke-width="2.7" stroke-linecap="round"/>
<text x="1075.5" y="967.2" font-size="23" stroke="#000" stroke-width="0.45">4</text>
<ellipse cx="1109.6" cy="922.6" rx="32.5" ry="23.9" fill="none" stroke="#e0262a" stroke-width="3.6" stroke-dasharray="8.5 5.5"/>
<rect x="1182.4" y="1126.5" width="174.2" height="44.9" rx="13" ry="13" fill="none" stroke="#000" stroke-width="2.6"/>
<text x="1269.5" y="1156.8" font-size="24.7" text-anchor="middle" textLength="133.5" lengthAdjust="spacingAndGlyphs" stroke="#000" stroke-width="0.45">H2B(1–125)</text>
<line x1="1146.8" y1="1150.1" x2="1182.4" y2="1150.1" stroke="#000" stroke-width="2.6" stroke-linecap="round"/>
<text x="1097.9" y="1158.9" font-size="24.5" stroke="#000" stroke-width="0.45">H<tspan font-size="19" dy="5.5">2</tspan><tspan dy="-5.5">N</tspan></text>
<line x1="1356.6" y1="1146.8" x2="1399.4" y2="1146.8" stroke="#000" stroke-width="2.6" stroke-linecap="round"/>
<line x1="1399.4" y1="1146.8" x2="1415.66" y2="1121.06" stroke="#000" stroke-width="2.6" stroke-linecap="round"/>
<line x1="1397.58" y1="1140.33" x2="1410.63" y2="1119.66" stroke="#000" stroke-width="2.6" stroke-linecap="round"/>
<text x="1423.4" y="1117.6" font-size="24.5" text-anchor="middle" stroke="#000" stroke-width="0.45">O</text>
<line x1="1399.4" y1="1146.8" x2="1415.1" y2="1171.4" stroke="#000" stroke-width="2.6" stroke-linecap="round"/>
<text x="1414.2" y="1194.3" font-size="24.5" stroke="#000" stroke-width="0.45">NH<tspan font-size="19" dy="5.5">2</tspan></text>
<path d="M1225.1 1171.4 L1247 1211.1 L1278.3 1211.1" stroke="#000" stroke-width="2.6" fill="none" stroke-linejoin="round" stroke-linecap="round"/>
<path d="M1310.7 1171.4 L1333.7 1211.1 L1363.9 1211.1" stroke="#000" stroke-width="2.6" fill="none" stroke-linejoin="round" stroke-linecap="round"/>
<text x="1284.3" y="1219.4" font-size="24.5" stroke="#000" stroke-width="0.45">SH</text>
<text x="1369.9" y="1219.4" font-size="24.5" stroke="#000" stroke-width="0.45">SH</text>
<text x="1212.4" y="1252.8" font-size="28.6" textLength="72.5" lengthAdjust="spacingAndGlyphs" fill="#c4262b" stroke="#c4262b" stroke-width="0.45">A58C</text>
<text x="1338.7" y="1252.8" font-size="28.6" textLength="72.5" lengthAdjust="spacingAndGlyphs" fill="#c4262b" stroke="#c4262b" stroke-width="0.45">A97C</text>
<path d="M1284.3 1000.2 L1313.1 1021.3 L1313.1 1126.5" stroke="#000" stroke-width="2.6" fill="none" stroke-linejoin="round" stroke-linecap="round"/>
<text x="1337.2" y="1052.6" font-size="28.6" textLength="61" lengthAdjust="spacingAndGlyphs" fill="#3b8f77" stroke="#3b8f77" stroke-width="0.45">S112</text>
<path d="M474.5 1187.39 474.85 1187.37 475.2 1187.33 475.55 1187.22 475.9 1186.95 476.25 1186.44 476.6 1185.74 476.95 1185.19 477.3 1185.01 477.65 1185.08 478 1185.1 478.35 1184.98 478.7 1184.8 479.05 1184.63 479.4 1184.56 479.75 1184.64 480.1 1184.92 480.45 1185.35 480.8 1185.87 481.15 1186.36 481.5 1186.76 481.85 1187.01 482.2 1186.98 482.55 1186.47 482.9 1185.57 483.25 1185.03 483.6 1185.35 483.95 1185.92 484.3 1185.94 484.65 1185.26 485 1184.08 485.35 1182.65 485.7 1181.45 486.05 1180.94 486.4 1181.27 486.75 1182.25 487.1 1183.53 487.45 1184.77 487.8 1185.63 488.15 1185.94 488.5 1185.96 488.85 1186.05 489.2 1186.16 489.55 1185.9 489.9 1185.19 490.25 1184.57 490.6 1184.74 490.95 1185.69 491.3 1186.67 491.65 1187.19 492 1187.36 492.35 1187.4 492.7 1187.4 493.05 1187.4 493.4 1187.4 493.75 1187.4 494.1 1187.4 494.45 1187.4 494.8 1187.4 495.15 1187.4 495.5 1187.4 495.85 1187.4 496.2 1187.4 496.55 1187.38 496.9 1187.34 497.25 1187.3 497.6 1187.32 497.95 1187.37 498.3 1187.39 498.65 1187.4 499 1187.4 499.35 1187.4 499.7 1187.39 500.05 1187.38 500.4 1187.35 500.75 1187.28 501.1 1187.19 501.45 1187.06 501.8 1186.92 502.15 1186.81 502.5 1186.75 502.85 1186.77 503.2 1186.85 503.55 1186.98 503.9 1187.1 504.25 1187.16 504.6 1187.04 504.95 1186.48 505.3 1185.1 505.65 1182.95 506 1181.03 506.35 1180.7 506.7 1182.14 507.05 1184.09 507.4 1185.44 507.75 1186.08 508.1 1186.37 508.45 1186.6 508.8 1186.84 509.15 1187.04 509.5 1187.18 509.85 1187.23 510.2 1187.21 510.55 1187.16 510.9 1187.09 511.25 1187.03 511.6 1187 511.95 1187 512.3 1187.04 512.65 1187.1 513 1187.17 513.35 1187.23 513.7 1187.27 514.05 1187.27 514.4 1187.21 514.75 1187.07 515.1 1186.85 515.45 1186.57 515.8 1186.29 516.15 1186.06 516.5 1185.89 516.85 1185.74 517.2 1185.5 517.55 1185.26 517.9 1185.27 518.25 1185.73 518.6 1186.42 518.95 1186.98 519.3 1187.27 519.65 1187.37 520 1187.39 520.35 1187.39 520.7 1187.39 521.05 1187.38 521.4 1187.35 521.75 1187.25 522.1 1187.01 522.45 1186.56 522.8 1185.97 523.15 1185.5 523.5 1185.42 523.85 1185.78 524.2 1186.37 524.55 1186.88 524.9 1187.2 525.25 1187.34 525.6 1187.39 525.95 1187.4 526.3 1187.4 526.65 1187.4 527 1187.4 527.35 1187.4 527.7 1187.4 528.05 1187.39 528.4 1187.38 528.75 1187.34 529.1 1187.22 529.45 1186.8 529.8 1185.71 530.15 1183.45 530.5 1180 530.85 1176.35 531.2 1174.16 531.55 1174.38 531.9 1176.44 532.25 1178.95 532.6 1181.02 532.95 1182.58 533.3 1183.81 533.65 1184.77 534 1185.33 534.35 1185.48 534.7 1185.39 535.05 1185.34 535.4 1185.46 535.75 1185.78 536.1 1186.24 536.45 1186.69 536.8 1187.03 537.15 1187.23 537.5 1187.33 537.85 1187.35 538.2 1187.33 538.55 1187.28 538.9 1187.18 539.25 1187.04 539.6 1186.85 539.95 1186.64 540.3 1186.45 540.65 1186.3 541 1186.23 541.35 1186.26 541.7 1186.39 542.05 1186.57 542.4 1186.78 542.75 1186.96 543.1 1187.1 543.45 1187.17 543.8 1187.18 544.15 1187.12 544.5 1187.02 544.85 1186.88 545.2 1186.74 545.55 1186.61 545.9 1186.52 546.25 1186.48 546.6 1186.52 546.95 1186.64 547.3 1186.82 547.65 1187.01 548 1187.15 548.35 1187.24 548.7 1187.3 549.05 1187.34 549.4 1187.29 549.75 1187.06 550.1 1186.52 550.45 1185.73 550.8 1185.01 551.15 1184.67 551.5 1184.7 551.85 1184.96 552.2 1185.49 552.55 1186.19 552.9 1186.82 553.25 1187.19 553.6 1187.35 553.95 1187.39 554.3 1187.4 554.65 1187.4 555 1187.4 555.35 1187.4 555.7 1187.4 556.05 1187.4 556.4 1187.4 556.75 1187.4 557.1 1187.4 557.45 1187.4 557.8 1187.4 558.15 1187.4 558.5 1187.38 558.85 1187.32 559.2 1187.13 559.55 1186.7 559.9 1185.93 560.25 1184.89 560.6 1183.97 560.95 1183.64 561.3 1184.08 561.65 1185.04 562 1186.03 562.35 1186.72 562.7 1187.07 563.05 1187.21 563.4 1187.23 563.75 1187.18 564.1 1187.06 564.45 1186.87 564.8 1186.6 565.15 1186.08 565.5 1184.89 565.85 1182.57 566.2 1179.27 566.55 1176.1 566.9 1174.52 567.25 1175.03 567.6 1176.72 567.95 1178.25 568.3 1178.99 568.65 1179.47 569 1180.51 569.35 1182.04 569.7 1183.46 570.05 1184.56 570.4 1185.43 570.75 1186.13 571.1 1186.64 571.45 1186.99 571.8 1187.2 572.15 1187.31 572.5 1187.36 572.85 1187.39 573.2 1187.4 573.55 1187.4 573.9 1187.4 574.25 1187.4 574.6 1187.4 574.95 1187.4 575.3 1187.4 575.65 1187.4 576 1187.4 576.35 1187.4 576.7 1187.4 577.05 1187.4 577.4 1187.4 577.75 1187.4 578.1 1187.4 578.45 1187.4 578.8 1187.4 579.15 1187.4 579.5 1187.4 579.85 1187.4 580.2 1187.4 580.55 1187.4 580.9 1187.4 581.25 1187.4 581.6 1187.4 581.95 1187.4 582.3 1187.4 582.65 1187.4 583 1187.4 583.35 1187.39 583.7 1187.38 584.05 1187.35 584.4 1187.29 584.75 1187.2 585.1 1187.07 585.45 1186.89 585.8 1186.67 586.15 1186.46 586.5 1186.28 586.85 1186.15 587.2 1186.08 587.55 1186.05 587.9 1186.04 588.25 1186.02 588.6 1186.03 588.95 1186.08 589.3 1186.2 589.65 1186.4 590 1186.63 590.35 1186.86 590.7 1187.05 591.05 1187.17 591.4 1187.24 591.75 1187.29 592.1 1187.33 592.45 1187.36 592.8 1187.38 593.15 1187.39 593.5 1187.4 593.85 1187.4 594.2 1187.39 594.55 1187.37 594.9 1187.24 595.25 1186.89 595.6 1186.21 595.95 1185.4 596.3 1185 596.65 1185.33 597 1186.12 597.35 1186.83 597.7 1187.22 598.05 1187.36 598.4 1187.39 598.75 1187.39 599.1 1187.38 599.45 1187.37 599.8 1187.37 600.15 1187.37 600.5 1187.38 600.85 1187.39 601.2 1187.4 601.55 1187.4 601.9 1187.4 602.25 1187.4 602.6 1187.4 602.95 1187.4 603.3 1187.4 603.65 1187.39 604 1187.36 604.35 1187.23 604.7 1186.92 605.05 1186.42 605.4 1185.99 605.75 1185.95 606.1 1186.33 606.45 1186.81 606.8 1187.1 607.15 1187.14 607.5 1187.01 607.85 1186.85 608.2 1186.73 608.55 1186.58 608.9 1186.36 609.25 1186.06 609.6 1185.75 609.95 1185.47 610.3 1185.29 610.65 1185.25 611 1185.35 611.35 1185.51 611.7 1185.61 612.05 1185.7 612.4 1185.94 612.75 1186.36 613.1 1186.81 613.45 1187.12 613.8 1187.27 614.15 1187.34 614.5 1187.36 614.85 1187.38 615.2 1187.39 615.55 1187.39 615.9 1187.4 616.25 1187.4 616.6 1187.4 616.95 1187.4 617.3 1187.4 617.65 1187.4 618 1187.4 618.35 1187.4 618.7 1187.4 619.05 1187.4 619.4 1187.4 619.75 1187.4 620.1 1187.4 620.45 1187.4 620.8 1187.4 621.15 1187.4 621.5 1187.4 621.85 1187.4 622.2 1187.4 622.55 1187.4 622.9 1187.4 623.25 1187.4 623.6 1187.4 623.95 1187.4 624.3 1187.4 624.65 1187.4 625 1187.39 625.35 1187.34 625.7 1187.17 626.05 1186.63 626.4 1185.36 626.75 1183.13 627.1 1180.33 627.45 1178.05 627.8 1177.36 628.15 1178.34 628.5 1180.13 628.85 1181.83 629.2 1183.17 629.55 1184.25 629.9 1185.21 630.25 1186.01 630.6 1186.62 630.95 1187.01 631.3 1187.23 631.65 1187.33 632 1187.37 632.35 1187.37 632.7 1187.34 633.05 1187.24 633.4 1186.9 633.75 1186.33 634.1 1186.13 634.45 1186.5 634.8 1186.85 635.15 1186.98 635.5 1187.05 635.85 1187.13 636.2 1187.21 636.55 1187.29 636.9 1187.34 637.25 1187.37 637.6 1187.39 637.95 1187.4 638.3 1187.4 638.65 1187.4 639 1187.4 639.35 1187.4 639.7 1187.4 640.05 1187.4 640.4 1187.38 640.75 1187.32 641.1 1187.13 641.45 1186.7 641.8 1185.98 642.15 1185.14 642.5 1184.52 642.85 1184.34 643.2 1184.66 643.55 1185.29 643.9 1185.9 644.25 1186.25 644.6 1186.48 644.95 1186.78 645.3 1187.1 645.65 1187.28 646 1187.3 646.35 1187.24 646.7 1187.12 647.05 1186.94 647.4 1186.71 647.75 1186.45 648.1 1186.21 648.45 1186.03 648.8 1185.95 649.15 1185.99 649.5 1186.13 649.85 1186.31 650.2 1186.48 650.55 1186.58 650.9 1186.58 651.25 1186.49 651.6 1186.36 651.95 1186.25 652.3 1186.2 652.65 1186.22 653 1186.25 653.35 1185.98 653.7 1185.14 654.05 1184.38 654.4 1184.67 654.75 1185.51 655.1 1186.15 655.45 1186.6 655.8 1186.89 656.15 1186.88 656.5 1186.5 656.85 1186.02 657.2 1185.9 657.55 1186.22 657.9 1186.52 658.25 1186.57 658.6 1186.45 658.95 1186.35 659.3 1186.33 659.65 1186.4 660 1186.55 660.35 1186.72 660.7 1186.85 661.05 1186.88 661.4 1186.82 661.75 1186.72 662.1 1186.67 662.45 1186.75 662.8 1186.92 663.15 1187.11 663.5 1187.25 663.85 1187.32 664.2 1187.33 664.55 1187.31 664.9 1187.27 665.25 1187.22 665.6 1187.17 665.95 1187.14 666.3 1187.13 666.65 1187.14 667 1187.18 667.35 1187.23 667.7 1187.28 668.05 1187.32 668.4 1187.35 668.75 1187.37 669.1 1187.38 669.45 1187.38 669.8 1187.37 670.15 1187.35 670.5 1187.31 670.85 1187.27 671.2 1187.24 671.55 1187.21 671.9 1187.21 672.25 1187.22 672.6 1187.26 672.95 1187.3 673.3 1187.34 673.65 1187.36 674 1187.38 674.35 1187.39 674.7 1187.4 675.05 1187.4 675.4 1187.4 675.75 1187.4 676.1 1187.4 676.45 1187.4 676.8 1187.4 677.15 1187.4 677.5 1187.4 677.85 1187.4 678.2 1187.4 678.55 1187.4 678.9 1187.4 679.25 1187.4 679.6 1187.4 679.95 1187.4 680.3 1187.4 680.65 1187.39 681 1187.37 681.35 1187.33 681.7 1187.25 682.05 1187.12 682.4 1186.93 682.75 1186.7 683.1 1186.48 683.45 1186.32 683.8 1186.28 684.15 1186.36 684.5 1186.54 684.85 1186.77 685.2 1186.99 685.55 1187.16 685.9 1187.28 686.25 1187.34 686.6 1187.37 686.95 1187.34 687.3 1187.19 687.65 1186.79 688 1186.2 688.35 1185.81 688.7 1185.99 689.05 1186.56 689.4 1187.07 689.75 1187.31 690.1 1187.38 690.45 1187.4 690.8 1187.4 691.15 1187.4 691.5 1187.4 691.85 1187.4 692.2 1187.4 692.55 1187.38 692.9 1187.33 693.25 1187.26 693.6 1187.25 693.95 1187.32 694.3 1187.38 694.65 1187.4 695 1187.4 695.35 1187.4 695.7 1187.4 696.05 1187.4 696.4 1187.4 696.75 1187.4 697.1 1187.4 697.45 1187.4 697.8 1187.4 698.15 1187.4 698.5 1187.4 698.85 1187.4 699.2 1187.4 699.55 1187.4 699.9 1187.4 700.25 1187.4 700.6 1187.4 700.95 1187.4 701.3 1187.4 701.65 1187.39 702 1187.38 702.35 1187.38 702.7 1187.38 703.05 1187.39 703.4 1187.4 703.75 1187.4 704.1 1187.4 704.45 1187.4 704.8 1187.4 705.15 1187.4 705.5 1187.4 705.85 1187.4 706.2 1187.4 706.55 1187.4 706.9 1187.4 707.25 1187.4 707.6 1187.4 707.95 1187.4 708.3 1187.4 708.65 1187.4 709 1187.4 709.35 1187.4 709.7 1187.4 710.05 1187.4 710.4 1187.38 710.75 1187.35 711.1 1187.25 711.45 1187.09 711.8 1186.88 712.15 1186.72 712.5 1186.71 712.85 1186.86 713.2 1187.06 713.55 1187.24 713.9 1187.34 714.25 1187.38 714.6 1187.4 714.95 1187.4 715.3 1187.4 715.65 1187.4 716 1187.4 716.35 1187.4 716.7 1187.4 717.05 1187.4 717.4 1187.4 717.75 1187.4 718.1 1187.4 718.45 1187.4 718.8 1187.4 719.15 1187.4 719.5 1187.4 719.85 1187.4 720.2 1187.4 720.55 1187.4 720.9 1187.4 721.25 1187.4 721.6 1187.39 721.95 1187.39 722.3 1187.39 722.65 1187.4 723 1187.4 723.35 1187.4 723.7 1187.4 724.05 1187.39 724.4 1187.34 724.75 1187.18 725.1 1186.84 725.45 1186.43 725.8 1186.25 726.15 1186.47 726.5 1186.88 726.85 1187.2 727.2 1187.34 727.55 1187.38 727.9 1187.38 728.25 1187.37 728.6 1187.36 728.95 1187.36 729.3 1187.35 729.65 1187.36 730 1187.37 730.35 1187.37 730.7 1187.38 731.05 1187.37 731.4 1187.3 731.75 1187.07 732.1 1186.66 732.45 1186.22 732.8 1186.1 733.15 1186.36 733.5 1186.73 733.85 1186.95 734.2 1187 734.55 1187 734.9 1187.04 735.25 1187.12 735.6 1187.21 735.95 1187.3 736.3 1187.35 736.65 1187.38 737 1187.39 737.35 1187.4 737.7 1187.4 738.05 1187.4 738.4 1187.4 738.75 1187.4 739.1 1187.39 739.45 1187.39 739.8 1187.39 740.15 1187.4 740.5 1187.4 740.85 1187.4 741.2 1187.4 741.55 1187.4 741.9 1187.4 742.25 1187.4 742.6 1187.4 742.95 1187.4 743.3 1187.4 743.65 1187.4 744 1187.39 744.35 1187.37 744.7 1187.29 745.05 1187.16 745.4 1187.03 745.75 1186.99 746.1 1187.08 746.45 1187.22 746.8 1187.29 747.15 1187.21 747.5 1186.86 747.85 1186.13 748.2 1185.01 748.55 1183.81 748.9 1183.06 749.25 1183.09 749.6 1183.74 749.95 1184.57 750.3 1185.28 750.65 1185.84 751 1186.28 751.35 1186.66 751.7 1186.96 752.05 1187.16 752.4 1187.29 752.75 1187.35 753.1 1187.38 753.45 1187.39 753.8 1187.4 754.15 1187.4 754.5 1187.4 754.85 1187.4 755.2 1187.4 755.55 1187.4 755.9 1187.4 756.25 1187.4 756.6 1187.4 756.95 1187.39 757.3 1187.37 757.65 1187.34 758 1187.28 758.35 1187.18 758.7 1187.03 759.05 1186.84 759.4 1186.62 759.75 1186.41 760.1 1186.23 760.45 1186.14 760.8 1186.16 761.15 1186.27 761.5 1186.46 761.85 1186.68 762.2 1186.9 762.55 1187.08 762.9 1187.21 763.25 1187.3 763.6 1187.35 763.95 1187.38 764.3 1187.39 764.65 1187.39 765 1187.38 765.35 1187.36 765.7 1187.34 766.05 1187.33 766.4 1187.32 766.75 1187.33 767.1 1187.35 767.45 1187.36 767.8 1187.37 768.15 1187.36 768.5 1187.32 768.85 1187.26 769.2 1187.17 769.55 1187.04 769.9 1186.9 770.25 1186.75 770.6 1186.63 770.95 1186.56 771.3 1186.58 771.65 1186.66 772 1186.79 772.35 1186.94 772.7 1187.08 773.05 1187.2 773.4 1187.29 773.75 1187.34 774.1 1187.37 774.45 1187.39 774.8 1187.39 775.15 1187.4 775.5 1187.39 775.85 1187.38 776.2 1187.35 776.55 1187.3 776.9 1187.2 777.25 1187.08 777.6 1186.98 777.95 1186.94 778.3 1186.98 778.65 1187.08 779 1187.19 779.35 1187.29 779.7 1187.35 780.05 1187.35 780.4 1187.29 780.75 1187.13 781.1 1186.94 781.45 1186.83 781.8 1186.82 782.15 1186.78 782.5 1186.59 782.85 1186.3 783.2 1186.05 783.55 1185.97 783.9 1186.12 784.25 1186.43 784.6 1186.77 784.95 1187.06 785.3 1187.24 785.65 1187.34 786 1187.38 786.35 1187.39 786.7 1187.4 787.05 1187.4 787.4 1187.4 787.75 1187.4 788.1 1187.4 788.45 1187.39 788.8 1187.38 789.15 1187.36 789.5 1187.33 789.85 1187.27 790.2 1187.21 790.55 1187.15 790.9 1187.11 791.25 1187.09 791.6 1187.11 791.95 1187.14 792.3 1187.18 792.65 1187.2 793 1187.21 793.35 1187.21 793.7 1187.22 794.05 1187.24 794.4 1187.27 794.75 1187.3 795.1 1187.34 795.45 1187.36 795.8 1187.38 796.15 1187.39 796.5 1187.4 796.85 1187.4 797.2 1187.4 797.55 1187.4 797.9 1187.4 798.25 1187.4 798.6 1187.4 798.95 1187.4 799.3 1187.39 799.65 1187.39 800 1187.38 800.35 1187.37 800.7 1187.37 801.05 1187.37 801.4 1187.37 801.75 1187.37 802.1 1187.38 802.45 1187.38 802.8 1187.39 803.15 1187.39 803.5 1187.4 803.85 1187.4 804.2 1187.4 804.55 1187.39 804.9 1187.38 805.25 1187.34 805.6 1187.25 805.95 1187.08 806.3 1186.77 806.65 1186.32 807 1185.73 807.35 1185.09 807.7 1184.56 808.05 1184.26 808.4 1184.3 808.75 1184.65 809.1 1185.2 809.45 1185.81 809.8 1186.35 810.15 1186.76 810.5 1187.04 810.85 1187.21 811.2 1187.3 811.55 1187.35 811.9 1187.38 812.25 1187.39 812.6 1187.4 812.95 1187.4 813.3 1187.4 813.65 1187.37 814 1187.27 814.35 1187.1 814.7 1187.05 815.05 1187.2 815.4 1187.35 815.75 1187.39 816.1 1187.4 816.45 1187.4 816.8 1187.4 817.15 1187.4 817.5 1187.39 817.85 1187.38 818.2 1187.37 818.55 1187.36 818.9 1187.35 819.25 1187.34 819.6 1187.34 819.95 1187.35 820.3 1187.36 820.65 1187.35 821 1187.28 821.35 1187.2 821.7 1187.19 822.05 1187.27 822.4 1187.31 822.75 1187.23 823.1 1187.1 823.45 1187.09 823.8 1187.23 824.15 1187.35 824.5 1187.39 824.85 1187.4 825.2 1187.4 825.55 1187.4 825.9 1187.4 826.25 1187.4 826.6 1187.4 826.95 1187.4 827.3 1187.4 827.65 1187.4" fill="none" stroke="#000" stroke-width="2.4" stroke-linejoin="round"/>
<line x1="530.2" y1="1187.7" x2="530.2" y2="949.7" stroke="#000" stroke-width="2.4" stroke-linecap="round"/>
<line x1="565.8" y1="1187.7" x2="565.8" y2="970.2" stroke="#000" stroke-width="2.4" stroke-linecap="round"/>
<line x1="626.6" y1="1187.7" x2="626.6" y2="1014" stroke="#000" stroke-width="2.4" stroke-linecap="round"/>
<line x1="747.9" y1="1187.7" x2="747.9" y2="1119.2" stroke="#000" stroke-width="2.4" stroke-linecap="round"/>
<line x1="489.2" y1="1187.7" x2="489.2" y2="1176.2" stroke="#000" stroke-width="2.2" stroke-linecap="round"/>
<line x1="505.3" y1="1187.7" x2="505.3" y2="1103.2" stroke="#000" stroke-width="2.2" stroke-linecap="round"/>
<line x1="517" y1="1187.7" x2="517" y2="1171.8" stroke="#000" stroke-width="2.2" stroke-linecap="round"/>
<line x1="550" y1="1187.7" x2="550" y2="1168.9" stroke="#000" stroke-width="2.2" stroke-linecap="round"/>
<line x1="604.7" y1="1187.7" x2="604.7" y2="1174.8" stroke="#000" stroke-width="2.2" stroke-linecap="round"/>
<line x1="611.4" y1="1187.7" x2="611.4" y2="1181" stroke="#000" stroke-width="2.2" stroke-linecap="round"/>
<line x1="473.2" y1="1188.7" x2="828.5" y2="1188.7" stroke="#000" stroke-width="2.6" stroke-linecap="butt"/>
<line x1="473.2" y1="1187.5" x2="473.2" y2="1204.4" stroke="#000" stroke-width="2.6" stroke-linecap="round"/>
<text x="449.51" y="1238.3" font-size="28.6" stroke="#000" stroke-width="0.45">400</text>
<line x1="562.02" y1="1187.5" x2="562.02" y2="1204.4" stroke="#000" stroke-width="2.6" stroke-linecap="round"/>
<text x="538.02" y="1238.3" font-size="28.6" stroke="#000" stroke-width="0.45">800</text>
<line x1="650.85" y1="1187.5" x2="650.85" y2="1204.4" stroke="#000" stroke-width="2.6" stroke-linecap="round"/>
<text x="618.48" y="1238.3" font-size="28.6" stroke="#000" stroke-width="0.45">1200</text>
<line x1="739.67" y1="1187.5" x2="739.67" y2="1204.4" stroke="#000" stroke-width="2.6" stroke-linecap="round"/>
<text x="707.3" y="1238.3" font-size="28.6" stroke="#000" stroke-width="0.45">1600</text>
<line x1="828.5" y1="1187.5" x2="828.5" y2="1204.4" stroke="#000" stroke-width="2.6" stroke-linecap="round"/>
<text x="796.5" y="1238.3" font-size="28.6" stroke="#000" stroke-width="0.45">2000</text>
<text x="629.05" y="1286.3" font-size="28.6" stroke="#000" stroke-width="0.45">m/z</text>
<text x="503.93" y="932.6" font-size="28.6" stroke="#000" stroke-width="0.45">+5</text>
<text x="551.62" y="954.5" font-size="28.6" stroke="#000" stroke-width="0.45">+4</text>
<text x="607.62" y="1005.7" font-size="28.6" stroke="#000" stroke-width="0.45">+3</text>
<text x="727.62" y="1110.9" font-size="28.6" stroke="#000" stroke-width="0.45">+2</text>
<text x="670.6" y="928.1" font-size="29"><tspan fill="#cdb46c">β-GalNAc</tspan>-<tspan font-weight="bold">9</tspan></text>
<text x="670.23" y="963.3" font-size="29" stroke="#000" stroke-width="0.45">M (Calc.): 3273.7 Da</text>
<text x="670.23" y="998.5" font-size="29" stroke="#000" stroke-width="0.45">M (Obs.): 3273.2 Da</text>
<path d="M922.4 1187.2 922.7 1187.19 923 1187.17 923.3 1187.13 923.6 1187.04 923.9 1186.88 924.2 1186.62 924.5 1186.3 924.8 1185.98 925.1 1185.75 925.4 1185.68 925.7 1185.75 926 1185.93 926.3 1186.12 926.6 1186.3 926.9 1186.45 927.2 1186.58 927.5 1186.71 927.8 1186.83 928.1 1186.93 928.4 1187.02 928.7 1187.09 929 1187.13 929.3 1187.16 929.6 1187.18 929.9 1187.19 930.2 1187.19 930.5 1187.18 930.8 1187.15 931.1 1187.11 931.4 1187.04 931.7 1186.94 932 1186.8 932.3 1186.63 932.6 1186.44 932.9 1186.25 933.2 1186.11 933.5 1186.03 933.8 1186.04 934.1 1186.14 934.4 1186.29 934.7 1186.46 935 1186.59 935.3 1186.66 935.6 1186.63 935.9 1186.51 936.2 1186.31 936.5 1186.06 936.8 1185.81 937.1 1185.6 937.4 1185.47 937.7 1185.44 938 1185.53 938.3 1185.71 938.6 1185.95 938.9 1186.21 939.2 1186.44 939.5 1186.59 939.8 1186.62 940.1 1186.57 940.4 1186.55 940.7 1186.61 941 1186.64 941.3 1186.58 941.6 1186.42 941.9 1186.23 942.2 1186.08 942.5 1186.02 942.8 1186.08 943.1 1186.24 943.4 1186.44 943.7 1186.65 944 1186.84 944.3 1186.98 944.6 1187.08 944.9 1187.14 945.2 1187.18 945.5 1187.19 945.8 1187.2 946.1 1187.2 946.4 1187.2 946.7 1187.2 947 1187.2 947.3 1187.2 947.6 1187.2 947.9 1187.2 948.2 1187.2 948.5 1187.2 948.8 1187.2 949.1 1187.2 949.4 1187.2 949.7 1187.2 950 1187.2 950.3 1187.2 950.6 1187.2 950.9 1187.2 951.2 1187.2 951.5 1187.2 951.8 1187.2 952.1 1187.2 952.4 1187.2 952.7 1187.2 953 1187.2 953.3 1187.19 953.6 1187.17 953.9 1187.08 954.2 1186.93 954.5 1186.84 954.8 1186.91 955.1 1187.06 955.4 1187.16 955.7 1187.19 956 1187.2 956.3 1187.2 956.6 1187.2 956.9 1187.2 957.2 1187.2 957.5 1187.2 957.8 1187.19 958.1 1187.19 958.4 1187.17 958.7 1187.15 959 1187.12 959.3 1187.06 959.6 1186.99 959.9 1186.96 960.2 1187 960.5 1187.05 960.8 1187.06 961.1 1187.01 961.4 1186.9 961.7 1186.7 962 1186.4 962.3 1185.99 962.6 1185.43 962.9 1184.73 963.2 1183.97 963.5 1183.44 963.8 1183.38 964.1 1183.75 964.4 1184.31 964.7 1184.91 965 1185.4 965.3 1185.59 965.6 1185.43 965.9 1185.03 966.2 1184.72 966.5 1184.79 966.8 1185.26 967.1 1185.91 967.4 1186.46 967.7 1186.79 968 1186.91 968.3 1186.89 968.6 1186.77 968.9 1186.59 969.2 1186.39 969.5 1186.19 969.8 1186.01 970.1 1185.88 970.4 1185.85 970.7 1185.95 971 1186.18 971.3 1186.45 971.6 1186.69 971.9 1186.88 972.2 1187.01 972.5 1187.09 972.8 1187.14 973.1 1187.17 973.4 1187.19 973.7 1187.19 974 1187.17 974.3 1187.09 974.6 1186.87 974.9 1186.53 975.2 1186.27 975.5 1186.34 975.8 1186.63 976.1 1186.9 976.4 1187.01 976.7 1187.01 977 1186.99 977.3 1186.99 977.6 1187.02 977.9 1187.06 978.2 1187.07 978.5 1187.02 978.8 1186.88 979.1 1186.63 979.4 1186.3 979.7 1186 980 1185.83 980.3 1185.87 980.6 1186.1 980.9 1186.41 981.2 1186.71 981.5 1186.92 981.8 1187.05 982.1 1187.12 982.4 1187.16 982.7 1187.17 983 1187.18 983.3 1187.19 983.6 1187.19 983.9 1187.2 984.2 1187.2 984.5 1187.2 984.8 1187.2 985.1 1187.2 985.4 1187.2 985.7 1187.2 986 1187.2 986.3 1187.2 986.6 1187.2 986.9 1187.2 987.2 1187.2 987.5 1187.19 987.8 1187.18 988.1 1187.13 988.4 1187.03 988.7 1186.85 989 1186.6 989.3 1186.34 989.6 1186.16 989.9 1186.15 990.2 1186.28 990.5 1186.48 990.8 1186.68 991.1 1186.85 991.4 1186.98 991.7 1187.07 992 1187.13 992.3 1187.16 992.6 1187.18 992.9 1187.19 993.2 1187.2 993.5 1187.2 993.8 1187.2 994.1 1187.2 994.4 1187.2 994.7 1187.2 995 1187.2 995.3 1187.2 995.6 1187.2 995.9 1187.2 996.2 1187.2 996.5 1187.2 996.8 1187.2 997.1 1187.2 997.4 1187.2 997.7 1187.2 998 1187.2 998.3 1187.2 998.6 1187.2 998.9 1187.2 999.2 1187.2 999.5 1187.2 999.8 1187.2 1000.1 1187.2 1000.4 1187.2 1000.7 1187.2 1001 1187.2 1001.3 1187.2 1001.6 1187.2 1001.9 1187.2 1002.2 1187.2 1002.5 1187.2 1002.8 1187.2 1003.1 1187.2 1003.4 1187.2 1003.7 1187.2" fill="none" stroke="#000" stroke-width="2.2" stroke-linejoin="round"/>
<line x1="956" y1="1187.4" x2="956" y2="1046.2" stroke="#000" stroke-width="2.3" stroke-linecap="round"/>
<line x1="948.2" y1="1187.4" x2="948.2" y2="1182" stroke="#000" stroke-width="2.1" stroke-linecap="round"/>
<path d="M921.9 1195.9 L921.9 1188.4 L1004.3 1188.4 L1004.3 1195.9" stroke="#000" stroke-width="2.5" fill="none" stroke-linejoin="round" stroke-linecap="round"/>
<line x1="963.1" y1="1188.4" x2="963.1" y2="1193" stroke="#000" stroke-width="2.3" stroke-linecap="butt"/>
<text x="894.77" y="1226.4" font-size="24.2" stroke="#000" stroke-width="0.45">2000</text>
<text x="977.3" y="1226.4" font-size="24.2" stroke="#000" stroke-width="0.45">5000</text>
<text x="929.16" y="1268.8" font-size="22.8" stroke="#000" stroke-width="0.45">M (Da)</text>
<path d="M1514.5 1189.93 1514.75 1189.86 1515 1189.78 1515.25 1189.64 1515.5 1189.29 1515.75 1188.82 1516 1188.48 1516.25 1188.42 1516.5 1188.65 1516.75 1188.86 1517 1188.55 1517.25 1188.33 1517.5 1188.27 1517.75 1188.36 1518 1188.54 1518.25 1188.59 1518.5 1188.03 1518.75 1187.83 1519 1187.39 1519.25 1187.17 1519.5 1187.42 1519.75 1187.92 1520 1188.25 1520.25 1187.78 1520.5 1187.23 1520.75 1186.59 1521 1186.24 1521.25 1186.36 1521.5 1186.82 1521.75 1187.25 1522 1187.26 1522.25 1187.42 1522.5 1187.28 1522.75 1187.18 1523 1187.05 1523.25 1186.67 1523.5 1186.39 1523.75 1186.29 1524 1186.37 1524.25 1186 1524.5 1185.71 1524.75 1185.55 1525 1185.54 1525.25 1185.68 1525.5 1185.91 1525.75 1186.18 1526 1186.12 1526.25 1185.71 1526.5 1185.37 1526.75 1185.17 1527 1184.9 1527.25 1184.44 1527.5 1184.56 1527.75 1184.58 1528 1184.58 1528.25 1184.89 1528.5 1185.1 1528.75 1184.1 1529 1182.45 1529.25 1181.03 1529.5 1180.49 1529.75 1181.11 1530 1182.51 1530.25 1184.01 1530.5 1184.53 1530.75 1183.93 1531 1183.05 1531.25 1181.96 1531.5 1182.47 1531.75 1183.97 1532 1184.23 1532.25 1182.66 1532.5 1180.97 1532.75 1180.01 1533 1180.36 1533.25 1181.75 1533.5 1182.02 1533.75 1182.4 1534 1181.91 1534.25 1179.76 1534.5 1178.31 1534.75 1178.43 1535 1180 1535.25 1182.04 1535.5 1181.59 1535.75 1181.09 1536 1181.23 1536.25 1181.92 1536.5 1182.45 1536.75 1182.41 1537 1180.97 1537.25 1176.89 1537.5 1173.79 1537.75 1174.49 1538 1178.23 1538.25 1181.83 1538.5 1182.04 1538.75 1179.4 1539 1175.95 1539.25 1173.27 1539.5 1172.94 1539.75 1175.15 1540 1178.49 1540.25 1179.71 1540.5 1178.59 1540.75 1174.36 1541 1170.64 1541.25 1169.56 1541.5 1171.4 1541.75 1173.91 1542 1177.04 1542.25 1175.97 1542.5 1175.79 1542.75 1176.86 1543 1177.3 1543.25 1178.8 1543.5 1180.34 1543.75 1178.95 1544 1173.76 1544.25 1170.07 1544.5 1171.6 1544.75 1176.69 1545 1179.86 1545.25 1177.38 1545.5 1172.23 1545.75 1167.2 1546 1165.06 1546.25 1167.22 1546.5 1167.41 1546.75 1165.48 1547 1169.34 1547.25 1170.92 1547.5 1164.32 1547.75 1160.68 1548 1162.33 1548.25 1168.2 1548.5 1174.56 1548.75 1171.93 1549 1170.9 1549.25 1171.96 1549.5 1169.12 1549.75 1163.83 1550 1162.65 1550.25 1166.37 1550.5 1165.15 1550.75 1157.01 1551 1159.18 1551.25 1169.31 1551.5 1178.26 1551.75 1179.42 1552 1178.79 1552.25 1175.32 1552.5 1168.14 1552.75 1161.11 1553 1158.12 1553.25 1161.13 1553.5 1168.18 1553.75 1174.28 1554 1173.83 1554.25 1166.27 1554.5 1157.06 1554.75 1151.98 1555 1154.28 1555.25 1162.46 1555.5 1171.34 1555.75 1167.67 1556 1166.22 1556.25 1167.69 1556.5 1171.39 1556.75 1174.07 1557 1172.3 1557.25 1174.34 1557.5 1178.21 1557.75 1178.9 1558 1173.75 1558.25 1165.78 1558.5 1157.23 1558.75 1151.61 1559 1151.75 1559.25 1157.57 1559.5 1166.17 1559.75 1166.33 1560 1162.35 1560.25 1161.7 1560.5 1164.66 1560.75 1158.57 1561 1157.93 1561.25 1163.19 1561.5 1171.07 1561.75 1174.03 1562 1171.55 1562.25 1161.88 1562.5 1153.38 1562.75 1151.01 1563 1156.32 1563.25 1165.94 1563.5 1169.46 1563.75 1166.39 1564 1166.09 1564.25 1168.71 1564.5 1172.45 1564.75 1165.73 1565 1162.66 1565.25 1167.26 1565.5 1166.46 1565.75 1162.33 1566 1163.51 1566.25 1169.17 1566.5 1164.97 1566.75 1162.98 1567 1167.36 1567.25 1168.44 1567.5 1161.68 1567.75 1160.39 1568 1165.58 1568.25 1173.44 1568.5 1174.26 1568.75 1167.89 1569 1166.05 1569.25 1161.07 1569.5 1160.49 1569.75 1165.31 1570 1172.53 1570.25 1175.25 1570.5 1172.98 1570.75 1164.11 1571 1156.33 1571.25 1154.16 1571.5 1159.03 1571.75 1167.84 1572 1171.06 1572.25 1166.4 1572.5 1164.25 1572.75 1169.34 1573 1174.36 1573.25 1177.44 1573.5 1175.96 1573.75 1170.08 1574 1164.78 1574.25 1162.65 1574.5 1164.89 1574.75 1170.26 1575 1163.54 1575.25 1161.39 1575.5 1165.6 1575.75 1168.28 1576 1172.98 1576.25 1177.75 1576.5 1181.28 1576.75 1183.23 1577 1180.42 1577.25 1177.04 1577.5 1176.42 1577.75 1179.32 1578 1181.17 1578.25 1180.63 1578.5 1178.5 1578.75 1172.49 1579 1165.99 1579.25 1162.41 1579.5 1164.04 1579.75 1169.81 1580 1169.58 1580.25 1171.53 1580.5 1171.16 1580.75 1162.86 1581 1157.32 1581.25 1158.01 1581.5 1161.37 1581.75 1157.43 1582 1158.05 1582.25 1160.27 1582.5 1157.95 1582.75 1164.32 1583 1162.63 1583.25 1161.56 1583.5 1164.97 1583.75 1171.05 1584 1176.25 1584.25 1169.9 1584.5 1164.71 1584.75 1163.79 1585 1167.74 1585.25 1174.09 1585.5 1173.03 1585.75 1169.82 1586 1170.71 1586.25 1175.03 1586.5 1170.47 1586.75 1163.26 1587 1158.27 1587.25 1157.99 1587.5 1162.39 1587.75 1167.15 1588 1173.48 1588.25 1177.63 1588.5 1174.14 1588.75 1173.2 1589 1164.91 1589.25 1158.48 1589.5 1157.82 1589.75 1163.36 1590 1171.66 1590.25 1174.79 1590.5 1172.18 1590.75 1161.98 1591 1153.02 1591.25 1150.52 1591.5 1156.12 1591.75 1164.75 1592 1164.56 1592.25 1166.74 1592.5 1166.43 1592.75 1169.18 1593 1170.04 1593.25 1168.33 1593.5 1171.28 1593.75 1176.73 1594 1179.63 1594.25 1180.37 1594.5 1181.08 1594.75 1176.21 1595 1165.57 1595.25 1155.43 1595.5 1153.56 1595.75 1161.63 1596 1172.97 1596.25 1180.92 1596.5 1184.39 1596.75 1184.47 1597 1184.54 1597.25 1184.77 1597.5 1185.07 1597.75 1185.29 1598 1184.93 1598.25 1182.56 1598.5 1177.38 1598.75 1171.62 1599 1170.51 1599.25 1175.27 1599.5 1181.16 1599.75 1183.22 1600 1182.71 1600.25 1182.14 1600.5 1181.5 1600.75 1180.82 1601 1180.09 1601.25 1173.42 1601.5 1164.85 1601.75 1158.22 1602 1157.53 1602.25 1163.26 1602.5 1171.83 1602.75 1169.81 1603 1161.72 1603.25 1156.08 1603.5 1152.58 1603.75 1149.99 1604 1155.78 1604.25 1166.25 1604.5 1167.4 1604.75 1164.81 1605 1166.42 1605.25 1169.28 1605.5 1174 1605.75 1177.66 1606 1178.46 1606.25 1175.24 1606.5 1165.25 1606.75 1155.81 1607 1152.83 1607.25 1158.46 1607.5 1168.76 1607.75 1177.91 1608 1177.75 1608.25 1172.68 1608.5 1170.49 1608.75 1172.96 1609 1178.12 1609.25 1182.65 1609.5 1185.11 1609.75 1185.87 1610 1185.98 1610.25 1186.08 1610.5 1186.16 1610.75 1186.22 1611 1186.26 1611.25 1186.24 1611.5 1186.2 1611.75 1186.02 1612 1185.77 1612.25 1185.49 1612.5 1185.3 1612.75 1185.28 1613 1185.45 1613.25 1185.36 1613.5 1185.1 1613.75 1184.8 1614 1184.44 1614.25 1184.04 1614.5 1183.58 1614.75 1179.15 1615 1171.01 1615.25 1163.11 1615.5 1161.13 1615.75 1166.76 1616 1164.46 1616.25 1165.02 1616.5 1166.11 1616.75 1164.5 1617 1170.78 1617.25 1174.55 1617.5 1166.18 1617.75 1159.69 1618 1159.02 1618.25 1164.62 1618.5 1173 1618.75 1173.66 1619 1171.46 1619.25 1171.74 1619.5 1174.37 1619.75 1177.98 1620 1172.89 1620.25 1169.18 1620.5 1168.88 1620.75 1172.17 1621 1177.23 1621.25 1179.39 1621.5 1174.27 1621.75 1169.15 1622 1166.05 1622.25 1166.43 1622.5 1161.43 1622.75 1163.18 1623 1171.1 1623.25 1179.41 1623.5 1184.43 1623.75 1186.34 1624 1186.12 1624.25 1185.89 1624.5 1185.72 1624.75 1185.62 1625 1185.62 1625.25 1185.73 1625.5 1185.93 1625.75 1186.17 1626 1186.43 1626.25 1186.67 1626.5 1186.87 1626.75 1187.03 1627 1187.13 1627.25 1187.15 1627.5 1187.07 1627.75 1186.17 1628 1183.72 1628.25 1180.28 1628.5 1178.83 1628.75 1181.01 1629 1184.45 1629.25 1186.38 1629.5 1184.8 1629.75 1181.38 1630 1176.27 1630.25 1170.93 1630.5 1167.93 1630.75 1168.99 1631 1173.5 1631.25 1179.04 1631.5 1174.93 1631.75 1170.95 1632 1170.55 1632.25 1173.99 1632.5 1179.15 1632.75 1178.18 1633 1171.88 1633.25 1171.81 1633.5 1167.63 1633.75 1166.08 1634 1169.57 1634.25 1175.86 1634.5 1176.05 1634.75 1169.32 1635 1168.43 1635.25 1174.29 1635.5 1174.62 1635.75 1174.22 1636 1176.83 1636.25 1180.86 1636.5 1184.23 1636.75 1184.7 1637 1182.21 1637.25 1177.2 1637.5 1171.74 1637.75 1168.3 1638 1168.84 1638.25 1173.03 1638.5 1178.62 1638.75 1181.91 1639 1183.9 1639.25 1185.84 1639.5 1187.13 1639.75 1187.77 1640 1187.91 1640.25 1187.94 1640.5 1187.86 1640.75 1187.73 1641 1187.57 1641.25 1187.38 1641.5 1187.19 1641.75 1187.02 1642 1186.91 1642.25 1186.87 1642.5 1186.91 1642.75 1187.04 1643 1187.22 1643.25 1187.44 1643.5 1187.67 1643.75 1187.88 1644 1188.06 1644.25 1188.2 1644.5 1188.3 1644.75 1188.34 1645 1188.31 1645.25 1188.01 1645.5 1187.29 1645.75 1186.01 1646 1184.31 1646.25 1182.38 1646.5 1177.62 1646.75 1174.12 1647 1174.37 1647.25 1176.57 1647.5 1174.82 1647.75 1177.89 1648 1182.98 1648.25 1186.16 1648.5 1185.53 1648.75 1185.41 1649 1185.86 1649.25 1184.67 1649.5 1182.55 1649.75 1178.76 1650 1176.24 1650.25 1176.57 1650.5 1179.55 1650.75 1183.4 1651 1182.49 1651.25 1180.4 1651.5 1177.3 1651.75 1173.62 1652 1173.26 1652.25 1176.46 1652.5 1181.25 1652.75 1181.64 1653 1180.4 1653.25 1180.58 1653.5 1182.09 1653.75 1184.29 1654 1185.56 1654.25 1185.94 1654.5 1186.32 1654.75 1186.69 1655 1186.3 1655.25 1182.83 1655.5 1178.53 1655.75 1175.41 1656 1175.46 1656.25 1178.66 1656.5 1183.02 1656.75 1186.53 1657 1188.49 1657.25 1189.2 1657.5 1189.33 1657.75 1189.43 1658 1189.52 1658.25 1189.6 1658.5 1189.67 1658.75 1189.74 1659 1189.8 1659.25 1189.86 1659.5 1189.92 1659.75 1189.97 1660 1190.04 1660.25 1189.99 1660.5 1189.88 1660.75 1189.58 1661 1189.21 1661.25 1189.01 1661.5 1189.14 1661.75 1188.99 1662 1188.7 1662.25 1188.41 1662.5 1188.16 1662.75 1187.95 1663 1187.83 1663.25 1187.81 1663.5 1187.88 1663.75 1188.05 1664 1188.28 1664.25 1188.56 1664.5 1188.85 1664.75 1189.13 1665 1189.27 1665.25 1189.36 1665.5 1189.46 1665.75 1189.58 1666 1189.69 1666.25 1189.79 1666.5 1189.88 1666.75 1189.95 1667 1189.93 1667.25 1189.92 1667.5 1189.93 1667.75 1189.58 1668 1188.71 1668.25 1187.09 1668.5 1184.77 1668.75 1182.43 1669 1181.1 1669.25 1181.5 1669.5 1183.4 1669.75 1185.85 1670 1187.9 1670.25 1188.75 1670.5 1188.53 1670.75 1188.02 1671 1185.81 1671.25 1183.21 1671.5 1181.47 1671.75 1181.68 1672 1183.7 1672.25 1186.32 1672.5 1186.76 1672.75 1185.37 1673 1182.11 1673.25 1179.57 1673.5 1179.31 1673.75 1181.48 1674 1184.03 1674.25 1184.99 1674.5 1184.13 1674.75 1184.23 1675 1185.25 1675.25 1185.08 1675.5 1184.43 1675.75 1185.9 1676 1188.06 1676.25 1188.3 1676.5 1188.53 1676.75 1188.42 1677 1187.19 1677.25 1186.17 1677.5 1185.98 1677.75 1186.73 1678 1187.96 1678.25 1189.04 1678.5 1189.69 1678.75 1189.83 1679 1189.89 1679.25 1189.94 1679.5 1189.98 1679.75 1190.01 1680 1190.03 1680.25 1190.05 1680.5 1190.06 1680.75 1190.07 1681 1190.08 1681.25 1190.09 1681.5 1190.09 1681.75 1190.09 1682 1190.08 1682.25 1190.07 1682.5 1190.04 1682.75 1190.01 1683 1189.96 1683.25 1189.89 1683.5 1189.82 1683.75 1189.73 1684 1189.66 1684.25 1189.6 1684.5 1189.56 1684.75 1189.55 1685 1189.58 1685.25 1189.64 1685.5 1189.71 1685.75 1189.79 1686 1189.87 1686.25 1189.94 1686.5 1189.99 1686.75 1190.03 1687 1190.06 1687.25 1190.07 1687.5 1190.08 1687.75 1190.09 1688 1190.1 1688.25 1190.1 1688.5 1190.1 1688.75 1190.09 1689 1190.09 1689.25 1190.09 1689.5 1190.1 1689.75 1190.1 1690 1190.1 1690.25 1190.09 1690.5 1190.09 1690.75 1190.09 1691 1190.08 1691.25 1190.08 1691.5 1190.07 1691.75 1190.06 1692 1190.04 1692.25 1190.02 1692.5 1190 1692.75 1189.96 1693 1189.92 1693.25 1189.87 1693.5 1189.81 1693.75 1189.74 1694 1189.44 1694.25 1188.17 1694.5 1186 1694.75 1183.73 1695 1182.87 1695.25 1184.11 1695.5 1186.48 1695.75 1187.92 1696 1186.03 1696.25 1184.18 1696.5 1183.39 1696.75 1183.5 1697 1183.41 1697.25 1184.41 1697.5 1186.05 1697.75 1184.85 1698 1182.97 1698.25 1181.76 1698.5 1182.36 1698.75 1184.51 1699 1186.71 1699.25 1185.87 1699.5 1185.49 1699.75 1185.87 1700 1186.84 1700.25 1187.99 1700.5 1188.26 1700.75 1188.44 1701 1187.08 1701.25 1186.04 1701.5 1186.56 1701.75 1188.1 1702 1189.28 1702.25 1189.41 1702.5 1189.53 1702.75 1189.63 1703 1189.72 1703.25 1189.35 1703.5 1188.24 1703.75 1187.31 1704 1187.57 1704.25 1188.71 1704.5 1189.64 1704.75 1190.01 1705 1190.05 1705.25 1190.07 1705.5 1189.99 1705.75 1189.85 1706 1189.66 1706.25 1189.55 1706.5 1189.59 1706.75 1189.76 1707 1189.93 1707.25 1189.92 1707.5 1189.83 1707.75 1189.72 1708 1189.59 1708.25 1189.47 1708.5 1189.35 1708.75 1189.28 1709 1189.24 1709.25 1189.26 1709.5 1189.33 1709.75 1189.44 1710 1189.57 1710.25 1189.69 1710.5 1189.81 1710.75 1189.67 1711 1189.59 1711.25 1189.61 1711.5 1189.73 1711.75 1189.88 1712 1189.86 1712.25 1189.67 1712.5 1189.39 1712.75 1189.04 1713 1188.64 1713.25 1188.25 1713.5 1187.94 1713.75 1187.78 1714 1187.81 1714.25 1188.02 1714.5 1188.37 1714.75 1188.77 1715 1189.16 1715.25 1189.49 1715.5 1189.74 1715.75 1189.81 1716 1189.82 1716.25 1189.85 1716.5 1189.88 1716.75 1189.89 1717 1189.91 1717.25 1189.94 1717.5 1189.97 1717.75 1190 1718 1189.94 1718.25 1189.77 1718.5 1189.63 1718.75 1189.62 1719 1189.74 1719.25 1189.91 1719.5 1190.01 1719.75 1189.98 1720 1189.94 1720.25 1189.91 1720.5 1189.88 1720.75 1189.86 1721 1189.85 1721.25 1189.85 1721.5 1189.87 1721.75 1189.9 1722 1189.93 1722.25 1189.96 1722.5 1190 1722.75 1190.03 1723 1190.01 1723.25 1189.98 1723.5 1189.95 1723.75 1189.9 1724 1189.85 1724.25 1189.78 1724.5 1189.7 1724.75 1189.61 1725 1189.16 1725.25 1188.08 1725.5 1186.47 1725.75 1184.67 1726 1183.33 1726.25 1183.06 1726.5 1184 1726.75 1185 1727 1183.54 1727.25 1183.03 1727.5 1184.17 1727.75 1184.9 1728 1185.49 1728.25 1186.74 1728.5 1184.71 1728.75 1182.26 1729 1181.22 1729.25 1182.26 1729.5 1182.85 1729.75 1182.59 1730 1183.49 1730.25 1185.23 1730.5 1185.79 1730.75 1186.89 1731 1188 1731.25 1188.19 1731.5 1188.38 1731.75 1188.58 1732 1188.76 1732.25 1188.94 1732.5 1189.11 1732.75 1189.26 1733 1189.4 1733.25 1189.52 1733.5 1189.14 1733.75 1187.54 1734 1185.76 1734.25 1185.46 1734.5 1186.96 1734.75 1188.76 1735 1189.74 1735.25 1190.02 1735.5 1190.04 1735.75 1190.05 1736 1190.07 1736.25 1190.08 1736.5 1190.08 1736.75 1190.09 1737 1190.09 1737.25 1190.09 1737.5 1190.09 1737.75 1190.08 1738 1190.06 1738.25 1190.04 1738.5 1190.01 1738.75 1189.98 1739 1189.97 1739.25 1189.97 1739.5 1189.98 1739.75 1189.87 1740 1189.78 1740.25 1189.73 1740.5 1189.76 1740.75 1189.86 1741 1189.96 1741.25 1190.04 1741.5 1190.08 1741.75 1190.09 1742 1190.09 1742.25 1190.07 1742.5 1190.03 1742.75 1189.95 1743 1189.84 1743.25 1189.76 1743.5 1189.73 1743.75 1189.78 1744 1189.88 1744.25 1189.93 1744.5 1189.8 1744.75 1189.63 1745 1189.4 1745.25 1189.15 1745.5 1188.9 1745.75 1188.71 1746 1188.61 1746.25 1188.63 1746.5 1188.76 1746.75 1188.97 1747 1189.22 1747.25 1189.47 1747.5 1189.69 1747.75 1189.85 1748 1189.96 1748.25 1190.03 1748.5 1190.06 1748.75 1190.08 1749 1190.09 1749.25 1190.1 1749.5 1190.1 1749.75 1190.1 1750 1190.1 1750.25 1190.1 1750.5 1190.1 1750.75 1190.1 1751 1190.1 1751.25 1190.1 1751.5 1190.1 1751.75 1190.09 1752 1190.08 1752.25 1190.05 1752.5 1190.01 1752.75 1189.93 1753 1189.82 1753.25 1189.67 1753.5 1189.51 1753.75 1189.34 1754 1189.22 1754.25 1189.16 1754.5 1189.18 1754.75 1189.28 1755 1189.43 1755.25 1189.6 1755.5 1189.58 1755.75 1189.49 1756 1189.42 1756.25 1189.38 1756.5 1189.35 1756.75 1189.35 1757 1189.39 1757.25 1189.46 1757.5 1189.55 1757.75 1189.65 1758 1189.75 1758.25 1189.84 1758.5 1189.91 1758.75 1189.97 1759 1190.02 1759.25 1190.05 1759.5 1190.04 1759.75 1190.02 1760 1190 1760.25 1189.67 1760.5 1188.7 1760.75 1186.91 1761 1185.05 1761.25 1184.55 1761.5 1185.86 1761.75 1187.85 1762 1189.27 1762.25 1188.48 1762.5 1186.9 1762.75 1185.49 1763 1185.22 1763.25 1186.32 1763.5 1186.58 1763.75 1184.44 1764 1183.01 1764.25 1183.18 1764.5 1183.94 1764.75 1182.46 1765 1182.4 1765.25 1183.81 1765.5 1183.53 1765.75 1181.45 1766 1181.23 1766.25 1183.02 1766.5 1183.86 1766.75 1184.54 1767 1185.19 1767.25 1185.28 1767.5 1186.12 1767.75 1187.33 1768 1186.57 1768.25 1186.51 1768.5 1187.59 1768.75 1186.76 1769 1185.77 1769.25 1185.4 1769.5 1185.82 1769.75 1186.84 1770 1188.02 1770.25 1188.98 1770.5 1189.6 1770.75 1189.74 1771 1189.76 1771.25 1189.71 1771.5 1189.67 1771.75 1189.65 1772 1189.65 1772.25 1189.67 1772.5 1189.7 1772.75 1189.75 1773 1189.8 1773.25 1189.78 1773.5 1189.69 1773.75 1189.64 1774 1189.66 1774.25 1189.73 1774.5 1189.82 1774.75 1189.92 1775 1190 1775.25 1190.05 1775.5 1190.08 1775.75 1190.09 1776 1190.1 1776.25 1190.1 1776.5 1190.1 1776.75 1190.1 1777 1190.1 1777.25 1190.1 1777.5 1190.1 1777.75 1190.1 1778 1190.1 1778.25 1190.1 1778.5 1190.1 1778.75 1190.1 1779 1190.1 1779.25 1190.09 1779.5 1190.07 1779.75 1190.03 1780 1189.93 1780.25 1189.75 1780.5 1189.44 1780.75 1189 1781 1188.49 1781.25 1188 1781.5 1187.68 1781.75 1187.62 1782 1187.85 1782.25 1188.2 1782.5 1187.85 1782.75 1187.76 1783 1187.95 1783.25 1188.37 1783.5 1188.88 1783.75 1189.34 1784 1189.68 1784.25 1189.86 1784.5 1189.9 1784.75 1189.94 1785 1189.98 1785.25 1189.97 1785.5 1189.95 1785.75 1189.92 1786 1189.91 1786.25 1189.9 1786.5 1189.9 1786.75 1189.91 1787 1189.92 1787.25 1189.94 1787.5 1189.91 1787.75 1189.64 1788 1189.33 1788.25 1189.23 1788.5 1189.44 1788.75 1189.76 1789 1189.98 1789.25 1190.07 1789.5 1190.09 1789.75 1190.1 1790 1190.1 1790.25 1190.1 1790.5 1190.1 1790.75 1190.1 1791 1190.09 1791.25 1190.09 1791.5 1190.09 1791.75 1190.09 1792 1190.08 1792.25 1190.08 1792.5 1190.08 1792.75 1190.08 1793 1190.08 1793.25 1190.08 1793.5 1190.08 1793.75 1190.08 1794 1190.08 1794.25 1190.09 1794.5 1190.09 1794.75 1190.09 1795 1190.09 1795.25 1190.1 1795.5 1190.1 1795.75 1190.1 1796 1190.1 1796.25 1190.1 1796.5 1190.1 1796.75 1190.1 1797 1190.09 1797.25 1190.08 1797.5 1190.05 1797.75 1190.01 1798 1189.94 1798.25 1189.86 1798.5 1189.77 1798.75 1189.67 1799 1189.6 1799.25 1189.57 1799.5 1189.58 1799.75 1189.64 1800 1189.73 1800.25 1189.82 1800.5 1189.91 1800.75 1189.98 1801 1190.03 1801.25 1190.07 1801.5 1190.08 1801.75 1190.09 1802 1190.1 1802.25 1190.1 1802.5 1190.1 1802.75 1190.1 1803 1190.1 1803.25 1190.1 1803.5 1190.1 1803.75 1190.1 1804 1190.09 1804.25 1190.09 1804.5 1190.08 1804.75 1190.06 1805 1190.04 1805.25 1190.01 1805.5 1189.97 1805.75 1189.93 1806 1189.87 1806.25 1189.82 1806.5 1189.77 1806.75 1189.74 1807 1189.72 1807.25 1189.72 1807.5 1189.68 1807.75 1189.58 1808 1189.47 1808.25 1189.35 1808.5 1189.2 1808.75 1188.43 1809 1186.63 1809.25 1184.35 1809.5 1182.47 1809.75 1182.02 1810 1183.25 1810.25 1183.56 1810.5 1185.13 1810.75 1187.16 1811 1187.51 1811.25 1186.43 1811.5 1183.89 1811.75 1181.93 1812 1181.72 1812.25 1183.41 1812.5 1185.62 1812.75 1185.42 1813 1185.46 1813.25 1185.54 1813.5 1186.33 1813.75 1187.48 1814 1188.15 1814.25 1188.33 1814.5 1188.52 1814.75 1188.54 1815 1187.04 1815.25 1186.26 1815.5 1186.02 1815.75 1185.94 1816 1185.03 1816.25 1185.58 1816.5 1187.16 1816.75 1187.8 1817 1188.63 1817.25 1189.37 1817.5 1189.81 1817.75 1189.97 1818 1189.87 1818.25 1189.8 1818.5 1189.82 1818.75 1189.91 1819 1190 1819.25 1190.07 1819.5 1190.09 1819.75 1190.09 1820 1190.09 1820.25 1190.1 1820.5 1190.1 1820.75 1190.1 1821 1190.1 1821.25 1190.1 1821.5 1190.09 1821.75 1190.09 1822 1190.08 1822.25 1190.07 1822.5 1190.04 1822.75 1190 1823 1189.96 1823.25 1189.93 1823.5 1189.79 1823.75 1189.51 1824 1189.27 1824.25 1189.21 1824.5 1189.31 1824.75 1189.22 1825 1189.18 1825.25 1189.2 1825.5 1189.28 1825.75 1189.39 1826 1189.53 1826.25 1189.67 1826.5 1189.8 1826.75 1189.9 1827 1189.98 1827.25 1190.03 1827.5 1190.06 1827.75 1190.08 1828 1190.09 1828.25 1190.1 1828.5 1190.09 1828.75 1190.09 1829 1190.09 1829.25 1190.09 1829.5 1190.09 1829.75 1190.09 1830 1190.1 1830.25 1190.1 1830.5 1190.1 1830.75 1190.1 1831 1190.1 1831.25 1190.1 1831.5 1190.1 1831.75 1190.1 1832 1190.1 1832.25 1190.1 1832.5 1190.1 1832.75 1190.1 1833 1190.1 1833.25 1190.1 1833.5 1190.1 1833.75 1190.1 1834 1190.1 1834.25 1190.1 1834.5 1190.09 1834.75 1190.06 1835 1190.01 1835.25 1189.92 1835.5 1189.78 1835.75 1189.6 1836 1189.44 1836.25 1189.35 1836.5 1189.37 1836.75 1189.49 1837 1189.66 1837.25 1189.83 1837.5 1189.96 1837.75 1190.04 1838 1190.07 1838.25 1190.09 1838.5 1190.1 1838.75 1190.1 1839 1190.1 1839.25 1190.1 1839.5 1190.09 1839.75 1190.08 1840 1190.03 1840.25 1189.93 1840.5 1189.76 1840.75 1189.56 1841 1189.41 1841.25 1189.39 1841.5 1189.52 1841.75 1189.71 1842 1189.9 1842.25 1190.01 1842.5 1189.99 1842.75 1189.83 1843 1189.57 1843.25 1189.21 1843.5 1188.86 1843.75 1188.66 1844 1188.69 1844.25 1188.94 1844.5 1189.3 1844.75 1189.64 1845 1189.88 1845.25 1190.01 1845.5 1190.07 1845.75 1190.09 1846 1190.1 1846.25 1190.1 1846.5 1190.1 1846.75 1190.1 1847 1190.1 1847.25 1190.1 1847.5 1190.1 1847.75 1190.1 1848 1190.1 1848.25 1190.1 1848.5 1190.1 1848.75 1190.1 1849 1190.1 1849.25 1190.1 1849.5 1190.1 1849.75 1190.1 1850 1190.1 1850.25 1190.1 1850.5 1190.1 1850.75 1190.1 1851 1190.09 1851.25 1190.07 1851.5 1190.03 1851.75 1190 1852 1189.99 1852.25 1190 1852.5 1190.04 1852.75 1190.07 1853 1190.09 1853.25 1190.1 1853.5 1190.1 1853.75 1190.1 1854 1190.1 1854.25 1190.1 1854.5 1190.1 1854.75 1190.1 1855 1190.1 1855.25 1190.1 1855.5 1190.09 1855.75 1190.09 1856 1190.07 1856.25 1190.06 1856.5 1190.04 1856.75 1190.01 1857 1189.99 1857.25 1189.97 1857.5 1189.96 1857.75 1189.96 1858 1189.97 1858.25 1190 1858.5 1190.02 1858.75 1190.05 1859 1190.07 1859.25 1190.08 1859.5 1190.09 1859.75 1190.1 1860 1190.1 1860.25 1190.1 1860.5 1190.1 1860.75 1190.1 1861 1190.09 1861.25 1190.08 1861.5 1190.06 1861.75 1190.03 1862 1189.98 1862.25 1189.92 1862.5 1189.84 1862.75 1189.77 1863 1189.72 1863.25 1189.69 1863.5 1189.7 1863.75 1189.74 1864 1189.8 1864.25 1189.88 1864.5 1189.86 1864.75 1189.78 1865 1189.71 1865.25 1189.68 1865.5 1189.69 1865.75 1189.61 1866 1189.53 1866.25 1189.46 1866.5 1189.42 1866.75 1189.4 1867 1189.42 1867.25 1189.46 1867.5 1189.53 1867.75 1189.61 1868 1189.7 1868.25 1189.79 1868.5 1189.87" fill="none" stroke="#000" stroke-width="2.4" stroke-linejoin="round"/>
<path d="M1520.4 1188.36 L1521.1 1187.63 L1521.8 1187.1 L1522.9 1187.04 L1524 1187.23 L1524.9 1187.76 L1525.7 1188.36 Z" fill="#000"/>
<path d="M1525.9 1186.99 L1526.6 1185.28 L1527.3 1184.03 L1528.4 1183.87 L1529.5 1184.34 L1530.4 1185.59 L1531.2 1186.99 Z" fill="#000"/>
<path d="M1531.4 1185.72 L1532.1 1181.83 L1532.8 1179 L1533.9 1178.65 L1535 1179.71 L1535.9 1182.54 L1536.7 1185.72 Z" fill="#000"/>
<path d="M1538 1184.3 L1538.7 1176.43 L1539.4 1170.7 L1540.5 1169.99 L1541.6 1172.13 L1542.5 1177.86 L1543.3 1184.3 Z" fill="#000"/>
<path d="M1544.6 1183.68 L1545.3 1171.11 L1546 1161.97 L1547.1 1160.83 L1548.2 1164.26 L1549.1 1173.4 L1549.9 1183.68 Z" fill="#000"/>
<path d="M1551.6 1183.97 L1552.3 1166.43 L1553 1153.68 L1554.1 1152.08 L1555.2 1156.86 L1556.1 1169.62 L1556.9 1183.97 Z" fill="#000"/>
<path d="M1559.5 1184.31 L1560.2 1166.04 L1560.9 1152.76 L1562 1151.1 L1563.1 1156.08 L1564 1169.37 L1564.8 1184.31 Z" fill="#000"/>
<path d="M1568 1184.68 L1568.7 1167.95 L1569.4 1155.79 L1570.5 1154.26 L1571.6 1158.83 L1572.5 1171 L1573.3 1184.68 Z" fill="#000"/>
<path d="M1577.9 1185.13 L1578.6 1169.67 L1579.3 1158.43 L1580.4 1157.02 L1581.5 1161.24 L1582.4 1172.48 L1583.2 1185.13 Z" fill="#000"/>
<path d="M1588 1185.61 L1588.7 1166.35 L1589.4 1152.35 L1590.5 1150.6 L1591.6 1155.85 L1592.5 1169.85 L1593.3 1185.61 Z" fill="#000"/>
<path d="M1600.5 1186.23 L1601.2 1166.34 L1601.9 1151.87 L1603 1150.06 L1604.1 1155.49 L1605 1169.95 L1605.8 1186.23 Z" fill="#000"/>
<path d="M1614.7 1186.98 L1615.4 1171.43 L1616.1 1160.12 L1617.2 1158.71 L1618.3 1162.95 L1619.2 1174.26 L1620 1186.98 Z" fill="#000"/>
<path d="M1630.5 1187.92 L1631.2 1175.98 L1631.9 1167.3 L1633 1166.22 L1634.1 1169.47 L1635 1178.15 L1635.8 1187.92 Z" fill="#000"/>
<path d="M1648.7 1189.26 L1649.4 1180.4 L1650.1 1173.95 L1651.2 1173.15 L1652.3 1175.56 L1653.2 1182.01 L1654 1189.26 Z" fill="#000"/>
<path d="M1670.2 1190.4 L1670.9 1184.34 L1671.6 1179.94 L1672.7 1179.39 L1673.8 1181.04 L1674.7 1185.45 L1675.5 1190.4 Z" fill="#000"/>
<path d="M1695.1 1190.4 L1695.8 1185.79 L1696.5 1182.43 L1697.6 1182.02 L1698.7 1183.27 L1699.6 1186.63 L1700.4 1190.4 Z" fill="#000"/>
<path d="M1725.8 1190.4 L1726.5 1185.52 L1727.2 1181.96 L1728.3 1181.52 L1729.4 1182.85 L1730.3 1186.4 L1731.1 1190.4 Z" fill="#000"/>
<path d="M1762.7 1190.4 L1763.4 1185.43 L1764.1 1181.81 L1765.2 1181.36 L1766.3 1182.71 L1767.2 1186.33 L1768 1190.4 Z" fill="#000"/>
<path d="M1808.7 1190.4 L1809.4 1185.7 L1810.1 1182.28 L1811.2 1181.85 L1812.3 1183.13 L1813.2 1186.55 L1814 1190.4 Z" fill="#000"/>
<line x1="1522.7" y1="1190.4" x2="1522.7" y2="1183.6" stroke="#000" stroke-width="2.4" stroke-linecap="round"/>
<line x1="1528.2" y1="1190.4" x2="1528.2" y2="1171.6" stroke="#000" stroke-width="2.4" stroke-linecap="round"/>
<line x1="1533.7" y1="1190.4" x2="1533.7" y2="1145.3" stroke="#000" stroke-width="2.4" stroke-linecap="round"/>
<line x1="1540.3" y1="1190.4" x2="1540.3" y2="1097" stroke="#000" stroke-width="2.4" stroke-linecap="round"/>
<line x1="1546.9" y1="1190.4" x2="1546.9" y2="1040.1" stroke="#000" stroke-width="2.4" stroke-linecap="round"/>
<line x1="1553.9" y1="1190.4" x2="1553.9" y2="979.8" stroke="#000" stroke-width="2.4" stroke-linecap="round"/>
<line x1="1561.8" y1="1190.4" x2="1561.8" y2="971" stroke="#000" stroke-width="2.4" stroke-linecap="round"/>
<line x1="1570.3" y1="1190.4" x2="1570.3" y2="989.6" stroke="#000" stroke-width="2.4" stroke-linecap="round"/>
<line x1="1580.2" y1="1190.4" x2="1580.2" y2="1005" stroke="#000" stroke-width="2.4" stroke-linecap="round"/>
<line x1="1590.3" y1="1190.4" x2="1590.3" y2="959" stroke="#000" stroke-width="2.4" stroke-linecap="round"/>
<line x1="1602.8" y1="1190.4" x2="1602.8" y2="951.3" stroke="#000" stroke-width="2.4" stroke-linecap="round"/>
<line x1="1617" y1="1190.4" x2="1617" y2="1003.9" stroke="#000" stroke-width="2.4" stroke-linecap="round"/>
<line x1="1632.8" y1="1190.4" x2="1632.8" y2="1047.7" stroke="#000" stroke-width="2.4" stroke-linecap="round"/>
<line x1="1651" y1="1190.4" x2="1651" y2="1085" stroke="#000" stroke-width="2.4" stroke-linecap="round"/>
<line x1="1672.5" y1="1190.4" x2="1672.5" y2="1119" stroke="#000" stroke-width="2.4" stroke-linecap="round"/>
<line x1="1697.4" y1="1190.4" x2="1697.4" y2="1136.5" stroke="#000" stroke-width="2.4" stroke-linecap="round"/>
<line x1="1728.1" y1="1190.4" x2="1728.1" y2="1133.2" stroke="#000" stroke-width="2.4" stroke-linecap="round"/>
<line x1="1765" y1="1190.4" x2="1765" y2="1132.1" stroke="#000" stroke-width="2.4" stroke-linecap="round"/>
<line x1="1811" y1="1190.4" x2="1811" y2="1135.4" stroke="#000" stroke-width="2.4" stroke-linecap="round"/>
<line x1="1513.3" y1="1191.4" x2="1869.1" y2="1191.4" stroke="#000" stroke-width="2.6" stroke-linecap="butt"/>
<line x1="1513.3" y1="1190.2" x2="1513.3" y2="1207.1" stroke="#000" stroke-width="2.6" stroke-linecap="round"/>
<text x="1489.36" y="1241" font-size="28.6" stroke="#000" stroke-width="0.45">500</text>
<line x1="1631.9" y1="1190.2" x2="1631.9" y2="1207.1" stroke="#000" stroke-width="2.6" stroke-linecap="round"/>
<text x="1599.52" y="1241" font-size="28.6" stroke="#000" stroke-width="0.45">1000</text>
<line x1="1750.5" y1="1190.2" x2="1750.5" y2="1207.1" stroke="#000" stroke-width="2.6" stroke-linecap="round"/>
<text x="1718.12" y="1241" font-size="28.6" stroke="#000" stroke-width="0.45">1500</text>
<line x1="1869.1" y1="1190.2" x2="1869.1" y2="1207.1" stroke="#000" stroke-width="2.6" stroke-linecap="round"/>
<text x="1837.1" y="1241" font-size="28.6" stroke="#000" stroke-width="0.45">2000</text>
<line x1="1869.1" y1="1188.4" x2="1869.1" y2="1191.4" stroke="#000" stroke-width="2.6" stroke-linecap="round"/>
<text x="1669.85" y="1284.6" font-size="28.6" stroke="#000" stroke-width="0.45">m/z</text>
<text x="1497.22" y="1022.6" font-size="28.6" stroke="#000" stroke-width="0.45">+22</text>
<text x="1531.22" y="955.8" font-size="28.6" stroke="#000" stroke-width="0.45">+20</text>
<text x="1602.42" y="933.8" font-size="28.6" stroke="#000" stroke-width="0.45">+16</text>
<text x="1627.72" y="1041.3" font-size="28.6" stroke="#000" stroke-width="0.45">+14</text>
<text x="1659.42" y="1089.5" font-size="28.6" stroke="#000" stroke-width="0.45">+12</text>
<text x="1703.33" y="1125.6" font-size="28.6" stroke="#000" stroke-width="0.45">+10</text>
<text x="1793.22" y="1125.6" font-size="28.6" stroke="#000" stroke-width="0.45">+8</text>
<line x1="1613.7" y1="940.4" x2="1602.8" y2="950.3" stroke="#8a8a8a" stroke-width="1.6" stroke-dasharray="3.2 2.4"/>
<line x1="1683.9" y1="1101.5" x2="1672.9" y2="1119" stroke="#8a8a8a" stroke-width="1.6" stroke-dasharray="3.2 2.4"/>
<text x="1750.5" y="921.8" font-size="29"><tspan fill="#cdb46c">β-GalNAc</tspan>-<tspan font-weight="bold">10</tspan></text>
<text x="1750.12" y="957" font-size="29" stroke="#000" stroke-width="0.45">M (Calc.): 14025.2 Da</text>
<text x="1750.12" y="992.2" font-size="29" stroke="#000" stroke-width="0.45">M (Obs.): 14023.1 Da</text>
<path d="M1995.4 1188.7 1995.7 1188.69 1996 1188.67 1996.3 1188.63 1996.6 1188.54 1996.9 1188.37 1997.2 1188.11 1997.5 1187.79 1997.8 1187.47 1998.1 1187.24 1998.4 1187.17 1998.7 1187.26 1999 1187.43 1999.3 1187.63 1999.6 1187.8 1999.9 1187.95 2000.2 1188.09 2000.5 1188.22 2000.8 1188.33 2001.1 1188.44 2001.4 1188.52 2001.7 1188.59 2002 1188.63 2002.3 1188.66 2002.6 1188.68 2002.9 1188.69 2003.2 1188.68 2003.5 1188.67 2003.8 1188.65 2004.1 1188.6 2004.4 1188.53 2004.7 1188.43 2005 1188.28 2005.3 1188.11 2005.6 1187.91 2005.9 1187.73 2006.2 1187.59 2006.5 1187.53 2006.8 1187.55 2007.1 1187.65 2007.4 1187.81 2007.7 1187.98 2008 1188.1 2008.3 1188.16 2008.6 1188.11 2008.9 1187.98 2009.2 1187.76 2009.5 1187.51 2009.8 1187.26 2010.1 1187.06 2010.4 1186.95 2010.7 1186.95 2011 1187.05 2011.3 1187.25 2011.6 1187.5 2011.9 1187.76 2012.2 1187.98 2012.5 1188.11 2012.8 1188.11 2013.1 1188.06 2013.4 1188.05 2013.7 1188.12 2014 1188.13 2014.3 1188.05 2014.6 1187.88 2014.9 1187.69 2015.2 1187.55 2015.5 1187.52 2015.8 1187.61 2016.1 1187.78 2016.4 1188 2016.7 1188.2 2017 1188.38 2017.3 1188.51 2017.6 1188.6 2017.9 1188.65 2018.2 1188.68 2018.5 1188.69 2018.8 1188.7 2019.1 1188.7 2019.4 1188.7 2019.7 1188.7 2020 1188.7 2020.3 1188.7 2020.6 1188.7 2020.9 1188.7 2021.2 1188.7 2021.5 1188.7 2021.8 1188.7 2022.1 1188.7 2022.4 1188.7 2022.7 1188.7 2023 1188.7 2023.3 1188.7 2023.6 1188.7 2023.9 1188.68 2024.2 1188.65 2024.5 1188.54 2024.8 1188.3 2025.1 1187.78 2025.4 1186.81 2025.7 1185.21 2026 1182.94 2026.3 1180.2 2026.6 1177.43 2026.9 1175.28 2027.2 1174.38 2027.5 1175.11 2027.8 1177.26 2028.1 1180.12 2028.4 1182.92 2028.7 1185.2 2029 1186.77 2029.3 1187.68 2029.6 1188.08 2029.9 1188.11 2030.2 1187.93 2030.5 1187.66 2030.8 1187.39 2031.1 1187.15 2031.4 1186.93 2031.7 1186.73 2032 1186.56 2032.3 1186.44 2032.6 1186.37 2032.9 1186.39 2033.2 1186.49 2033.5 1186.61 2033.8 1186.69 2034.1 1186.7 2034.4 1186.59 2034.7 1186.35 2035 1185.97 2035.3 1185.43 2035.6 1184.76 2035.9 1183.99 2036.2 1183.29 2036.5 1182.97 2036.8 1183.13 2037.1 1183.59 2037.4 1184.14 2037.7 1184.64 2038 1184.93 2038.3 1184.89 2038.6 1184.55 2038.9 1184.14 2039.2 1184.05 2039.5 1184.46 2039.8 1185.21 2040.1 1185.98 2040.4 1186.52 2040.7 1186.81 2041 1186.87 2041.3 1186.77 2041.6 1186.54 2041.9 1186.21 2042.2 1185.83 2042.5 1185.47 2042.8 1185.2 2043.1 1185.1 2043.4 1185.19 2043.7 1185.42 2044 1185.7 2044.3 1185.95 2044.6 1186.12 2044.9 1186.23 2045.2 1186.35 2045.5 1186.51 2045.8 1186.7 2046.1 1186.85 2046.4 1186.94 2046.7 1186.93 2047 1186.8 2047.3 1186.52 2047.6 1186.09 2047.9 1185.68 2048.2 1185.53 2048.5 1185.72 2048.8 1186.01 2049.1 1186.23 2049.4 1186.34 2049.7 1186.38 2050 1186.37 2050.3 1186.31 2050.6 1186.2 2050.9 1186.04 2051.2 1185.87 2051.5 1185.69 2051.8 1185.46 2052.1 1185.18 2052.4 1184.96 2052.7 1184.91 2053 1185.11 2053.3 1185.5 2053.6 1185.96 2053.9 1186.37 2054.2 1186.65 2054.5 1186.79 2054.8 1186.81 2055.1 1186.74 2055.4 1186.62 2055.7 1186.46 2056 1186.3 2056.3 1186.17 2056.6 1186.05 2056.9 1185.95 2057.2 1185.92 2057.5 1185.99 2057.8 1186.12 2058.1 1186.25 2058.4 1186.37 2058.7 1186.47 2059 1186.54 2059.3 1186.58 2059.6 1186.58 2059.9 1186.56 2060.2 1186.52 2060.5 1186.46 2060.8 1186.42 2061.1 1186.39 2061.4 1186.32 2061.7 1186.16 2062 1185.93 2062.3 1185.74 2062.6 1185.66 2062.9 1185.7 2063.2 1185.82 2063.5 1185.96 2063.8 1186.06 2064.1 1186.11 2064.4 1186.13 2064.7 1186.16 2065 1186.17 2065.3 1186.18 2065.6 1186.2 2065.9 1186.25 2066.2 1186.33 2066.5 1186.39 2066.8 1186.44 2067.1 1186.47 2067.4 1186.49 2067.7 1186.49 2068 1186.48 2068.3 1186.48 2068.6 1186.48 2068.9 1186.45 2069.2 1186.41 2069.5 1186.36 2069.8 1186.29 2070.1 1186.22 2070.4 1186.18 2070.7 1186.19 2071 1186.23 2071.3 1186.28 2071.6 1186.34 2071.9 1186.42 2072.2 1186.49 2072.5 1186.51 2072.8 1186.44 2073.1 1186.29 2073.4 1186.07 2073.7 1185.83 2074 1185.67 2074.3 1185.64 2074.6 1185.72 2074.9 1185.9 2075.2 1186.2 2075.5 1186.67 2075.8 1187.25 2076.1 1187.81 2076.4 1188.24" fill="none" stroke="#000" stroke-width="2.2" stroke-linejoin="round"/>
<line x1="2027.8" y1="1188.9" x2="2027.8" y2="1059.4" stroke="#000" stroke-width="2.3" stroke-linecap="round"/>
<line x1="2001.5" y1="1188.9" x2="2001.5" y2="1184.5" stroke="#000" stroke-width="2.1" stroke-linecap="round"/>
<path d="M1994.9 1197.4 L1994.9 1189.9 L2077 1189.9 L2077 1197.4" stroke="#000" stroke-width="2.5" fill="none" stroke-linejoin="round" stroke-linecap="round"/>
<line x1="2035.95" y1="1189.9" x2="2035.95" y2="1194.5" stroke="#000" stroke-width="2.3" stroke-linecap="butt"/>
<text x="1960.71" y="1227.3" font-size="24.2" stroke="#000" stroke-width="0.45">10000</text>
<text x="2043.12" y="1227.3" font-size="24.2" stroke="#000" stroke-width="0.45">20000</text>
<text x="2002.01" y="1266.9" font-size="22.8" stroke="#000" stroke-width="0.45">M (Da)</text>
<text x="26.23" y="1355.1" font-size="33" font-weight="bold" stroke="#000" stroke-width="0.2">d</text>
<g stroke="#d9d1e6" fill="#d9d1e6" stroke-linecap="round" stroke-linejoin="round">
<line x1="142.8" y1="1401.4" x2="191.3" y2="1413.1" stroke-width="15"/>
<line x1="191.3" y1="1413.1" x2="228.15" y2="1403.73" stroke-width="15"/>
<line x1="245.13" y1="1410.81" x2="264.2" y2="1443.2" stroke-width="15"/>
<path d="M142.8 1401.4 L161.72 1444.56 L220.26 1434.39 L264.37 1443.98 L264.03 1442.42 L218.34 1425.81 L170.88 1439.24Z" stroke-width="13"/>
<line x1="191.3" y1="1413.1" x2="168.3" y2="1376.4" stroke-width="15"/>
<line x1="109.2" y1="1409.4" x2="142.8" y2="1401.4" stroke-width="15"/>
<text x="66.5" y="1421.9" font-size="24.5" stroke-width="11.5">HO</text>
<line x1="168.3" y1="1376.4" x2="196.9" y2="1359.7" stroke-width="15"/>
<text x="198.3" y="1360.4" font-size="24.5" stroke-width="11.5">OH</text>
<line x1="132.3" y1="1444.7" x2="166.3" y2="1441.9" stroke-width="15"/>
<text x="90.6" y="1452.6" font-size="24.5" stroke-width="11.5">HO</text>
<text x="239.3" y="1409.7" font-size="24.5" text-anchor="middle" stroke-width="11.5">O</text>
<line x1="219.3" y1="1430.1" x2="230.5" y2="1455.3" stroke-width="15"/>
<text x="227.3" y="1481.6" font-size="24.5" stroke-width="11.5">NH</text>
<line x1="264.6" y1="1444.9" x2="265.3" y2="1490.9" stroke-width="15"/>
<text x="265.5" y="1516.7" font-size="24.5" text-anchor="middle" stroke-width="11.5">O</text>
<line x1="226.7" y1="1487.9" x2="205.4" y2="1515.4" stroke-width="15"/>
<line x1="175.3" y1="1511.5" x2="205.4" y2="1511.5" stroke-width="15"/>
<line x1="175.3" y1="1519.3" x2="204.4" y2="1519.3" stroke-width="15"/>
<text x="162.8" y="1524.2" font-size="24.5" text-anchor="middle" stroke-width="11.5">O</text>
<line x1="205.4" y1="1515.4" x2="228" y2="1553" stroke-width="15"/>
</g>
<line x1="142.8" y1="1401.4" x2="191.3" y2="1413.1" stroke="#000" stroke-width="2.7" stroke-linecap="round"/>
<line x1="191.3" y1="1413.1" x2="228.15" y2="1403.73" stroke="#000" stroke-width="2.7" stroke-linecap="round"/>
<line x1="245.13" y1="1410.81" x2="264.2" y2="1443.2" stroke="#000" stroke-width="2.7" stroke-linecap="round"/>
<path d="M142.8 1401.4 L161.72 1444.56 L220.26 1434.39 L264.37 1443.98 L264.03 1442.42 L218.34 1425.81 L170.88 1439.24Z" fill="#000" stroke="#000" stroke-width="1" stroke-linejoin="round"/>
<line x1="191.3" y1="1413.1" x2="168.3" y2="1376.4" stroke="#000" stroke-width="2.7" stroke-linecap="round"/>
<line x1="109.2" y1="1409.4" x2="142.8" y2="1401.4" stroke="#000" stroke-width="2.7" stroke-linecap="round"/>
<text x="66.5" y="1421.9" font-size="24.5" stroke="#000" stroke-width="0.45">HO</text>
<line x1="168.3" y1="1376.4" x2="196.9" y2="1359.7" stroke="#000" stroke-width="2.7" stroke-linecap="round"/>
<text x="198.3" y="1360.4" font-size="24.5" stroke="#000" stroke-width="0.45">OH</text>
<line x1="132.3" y1="1444.7" x2="166.3" y2="1441.9" stroke="#000" stroke-width="2.7" stroke-linecap="round"/>
<text x="90.6" y="1452.6" font-size="24.5" stroke="#000" stroke-width="0.45">HO</text>
<text x="239.3" y="1409.7" font-size="24.5" text-anchor="middle" stroke="#000" stroke-width="0.45">O</text>
<line x1="219.3" y1="1430.1" x2="230.5" y2="1455.3" stroke="#000" stroke-width="2.7" stroke-linecap="round"/>
<text x="227.3" y="1481.6" font-size="24.5" stroke="#000" stroke-width="0.45">NH</text>
<line x1="264.6" y1="1444.9" x2="265.3" y2="1490.9" stroke="#000" stroke-width="2.7" stroke-linecap="round"/>
<text x="265.5" y="1516.7" font-size="24.5" text-anchor="middle" stroke="#000" stroke-width="0.45">O</text>
<line x1="226.7" y1="1487.9" x2="205.4" y2="1515.4" stroke="#000" stroke-width="2.7" stroke-linecap="round"/>
<line x1="175.3" y1="1511.5" x2="205.4" y2="1511.5" stroke="#000" stroke-width="2.7" stroke-linecap="round"/>
<line x1="175.3" y1="1519.3" x2="204.4" y2="1519.3" stroke="#000" stroke-width="2.7" stroke-linecap="round"/>
<text x="162.8" y="1524.2" font-size="24.5" text-anchor="middle" stroke="#000" stroke-width="0.45">O</text>
<line x1="205.4" y1="1515.4" x2="228" y2="1553" stroke="#000" stroke-width="2.7" stroke-linecap="round"/>
<text x="281.8" y="1445.3" font-size="23" stroke="#000" stroke-width="0.45">1</text>
<text x="279.3" y="1475.3" font-size="23" stroke="#000" stroke-width="0.45">α</text>
<ellipse cx="265.5" cy="1442.8" rx="16.9" ry="16.9" fill="none" stroke="#e0262a" stroke-width="3.6" stroke-dasharray="8.5 5.5"/>
<rect x="180.5" y="1570.5" width="174" height="45.3" rx="14" ry="14" fill="none" stroke="#000" stroke-width="2.6"/>
<text x="268.7" y="1601.3" font-size="24.7" text-anchor="middle" textLength="147.6" lengthAdjust="spacingAndGlyphs" stroke="#000" stroke-width="0.45">H2B(98–125)</text>
<line x1="135.7" y1="1592.7" x2="180.5" y2="1592.7" stroke="#000" stroke-width="2.6" stroke-linecap="round"/>
<line x1="135.7" y1="1592.7" x2="120.34" y2="1565.52" stroke="#000" stroke-width="2.6" stroke-linecap="round"/>
<line x1="137.84" y1="1586.32" x2="125.43" y2="1564.37" stroke="#000" stroke-width="2.6" stroke-linecap="round"/>
<text x="113.2" y="1561.7" font-size="24.5" text-anchor="middle" stroke="#000" stroke-width="0.45">O</text>
<path d="M135.7 1592.7 L112.2 1631.2 L67.2 1631.8 L51.5 1658.6" stroke="#000" stroke-width="2.6" fill="none" stroke-linejoin="round" stroke-linecap="round"/>
<line x1="112.2" y1="1631.2" x2="125.9" y2="1656" stroke="#000" stroke-width="2.6" stroke-linecap="round"/>
<text x="16.9" y="1680.1" font-size="24.5" stroke="#000" stroke-width="0.45">HS</text>
<text x="125.3" y="1679.8" font-size="24.5" stroke="#000" stroke-width="0.45">NH<tspan font-size="19" dy="5.5">2</tspan></text>
<text x="15.5" y="1612.3" font-size="28.6" textLength="72.5" lengthAdjust="spacingAndGlyphs" fill="#c4262b" stroke="#c4262b" stroke-width="0.45">A97C</text>
<line x1="354.5" y1="1592.4" x2="398.1" y2="1592.4" stroke="#000" stroke-width="2.6" stroke-linecap="round"/>
<line x1="398.1" y1="1592.4" x2="414.21" y2="1565.18" stroke="#000" stroke-width="2.6" stroke-linecap="round"/>
<line x1="396.09" y1="1585.98" x2="409.15" y2="1563.92" stroke="#000" stroke-width="2.6" stroke-linecap="round"/>
<text x="421.6" y="1561.5" font-size="24.5" text-anchor="middle" stroke="#000" stroke-width="0.45">O</text>
<line x1="398.1" y1="1592.4" x2="412.7" y2="1616.6" stroke="#000" stroke-width="2.6" stroke-linecap="round"/>
<text x="412.4" y="1640.1" font-size="24.5" stroke="#000" stroke-width="0.45">NH<tspan font-size="19" dy="5.5">2</tspan></text>
<path d="M276.5 1513.4 L314.4 1525.4 L314.4 1570.5" stroke="#000" stroke-width="2.6" fill="none" stroke-linejoin="round" stroke-linecap="round"/>
<text x="339.7" y="1556.7" font-size="28.6" textLength="61" lengthAdjust="spacingAndGlyphs" fill="#3b8f77" stroke="#3b8f77" stroke-width="0.45">S112</text>
<g stroke="#d9d1e6" fill="#d9d1e6" stroke-linecap="round" stroke-linejoin="round">
<line x1="1140.3" y1="1407.2" x2="1188.8" y2="1418.9" stroke-width="15"/>
<line x1="1188.8" y1="1418.9" x2="1225.65" y2="1409.53" stroke-width="15"/>
<line x1="1242.63" y1="1416.61" x2="1261.7" y2="1449" stroke-width="15"/>
<path d="M1140.3 1407.2 L1159.22 1450.36 L1217.76 1440.19 L1261.87 1449.78 L1261.53 1448.22 L1215.84 1431.61 L1168.38 1445.04Z" stroke-width="13"/>
<line x1="1188.8" y1="1418.9" x2="1165.8" y2="1382.2" stroke-width="15"/>
<line x1="1106.7" y1="1415.2" x2="1140.3" y2="1407.2" stroke-width="15"/>
<text x="1064" y="1427.7" font-size="24.5" stroke-width="11.5">HO</text>
<line x1="1165.8" y1="1382.2" x2="1194.4" y2="1365.5" stroke-width="15"/>
<text x="1195.8" y="1366.2" font-size="24.5" stroke-width="11.5">OH</text>
<line x1="1129.8" y1="1450.5" x2="1163.8" y2="1447.7" stroke-width="15"/>
<text x="1088.1" y="1458.4" font-size="24.5" stroke-width="11.5">HO</text>
<text x="1236.8" y="1415.5" font-size="24.5" text-anchor="middle" stroke-width="11.5">O</text>
<line x1="1216.8" y1="1435.9" x2="1228" y2="1461.1" stroke-width="15"/>
<text x="1224.8" y="1487.4" font-size="24.5" stroke-width="11.5">NH</text>
<line x1="1262.1" y1="1450.7" x2="1262.8" y2="1496.7" stroke-width="15"/>
<text x="1263" y="1522.5" font-size="24.5" text-anchor="middle" stroke-width="11.5">O</text>
<line x1="1224.2" y1="1493.7" x2="1202.9" y2="1521.2" stroke-width="15"/>
<line x1="1172.8" y1="1517.3" x2="1202.9" y2="1517.3" stroke-width="15"/>
<line x1="1172.8" y1="1525.1" x2="1201.9" y2="1525.1" stroke-width="15"/>
<text x="1160.3" y="1530" font-size="24.5" text-anchor="middle" stroke-width="11.5">O</text>
<line x1="1202.9" y1="1521.2" x2="1225.5" y2="1558.8" stroke-width="15"/>
</g>
<line x1="1140.3" y1="1407.2" x2="1188.8" y2="1418.9" stroke="#000" stroke-width="2.7" stroke-linecap="round"/>
<line x1="1188.8" y1="1418.9" x2="1225.65" y2="1409.53" stroke="#000" stroke-width="2.7" stroke-linecap="round"/>
<line x1="1242.63" y1="1416.61" x2="1261.7" y2="1449" stroke="#000" stroke-width="2.7" stroke-linecap="round"/>
<path d="M1140.3 1407.2 L1159.22 1450.36 L1217.76 1440.19 L1261.87 1449.78 L1261.53 1448.22 L1215.84 1431.61 L1168.38 1445.04Z" fill="#000" stroke="#000" stroke-width="1" stroke-linejoin="round"/>
<line x1="1188.8" y1="1418.9" x2="1165.8" y2="1382.2" stroke="#000" stroke-width="2.7" stroke-linecap="round"/>
<line x1="1106.7" y1="1415.2" x2="1140.3" y2="1407.2" stroke="#000" stroke-width="2.7" stroke-linecap="round"/>
<text x="1064" y="1427.7" font-size="24.5" stroke="#000" stroke-width="0.45">HO</text>
<line x1="1165.8" y1="1382.2" x2="1194.4" y2="1365.5" stroke="#000" stroke-width="2.7" stroke-linecap="round"/>
<text x="1195.8" y="1366.2" font-size="24.5" stroke="#000" stroke-width="0.45">OH</text>
<line x1="1129.8" y1="1450.5" x2="1163.8" y2="1447.7" stroke="#000" stroke-width="2.7" stroke-linecap="round"/>
<text x="1088.1" y="1458.4" font-size="24.5" stroke="#000" stroke-width="0.45">HO</text>
<text x="1236.8" y="1415.5" font-size="24.5" text-anchor="middle" stroke="#000" stroke-width="0.45">O</text>
<line x1="1216.8" y1="1435.9" x2="1228" y2="1461.1" stroke="#000" stroke-width="2.7" stroke-linecap="round"/>
<text x="1224.8" y="1487.4" font-size="24.5" stroke="#000" stroke-width="0.45">NH</text>
<line x1="1262.1" y1="1450.7" x2="1262.8" y2="1496.7" stroke="#000" stroke-width="2.7" stroke-linecap="round"/>
<text x="1263" y="1522.5" font-size="24.5" text-anchor="middle" stroke="#000" stroke-width="0.45">O</text>
<line x1="1224.2" y1="1493.7" x2="1202.9" y2="1521.2" stroke="#000" stroke-width="2.7" stroke-linecap="round"/>
<line x1="1172.8" y1="1517.3" x2="1202.9" y2="1517.3" stroke="#000" stroke-width="2.7" stroke-linecap="round"/>
<line x1="1172.8" y1="1525.1" x2="1201.9" y2="1525.1" stroke="#000" stroke-width="2.7" stroke-linecap="round"/>
<text x="1160.3" y="1530" font-size="24.5" text-anchor="middle" stroke="#000" stroke-width="0.45">O</text>
<line x1="1202.9" y1="1521.2" x2="1225.5" y2="1558.8" stroke="#000" stroke-width="2.7" stroke-linecap="round"/>
<text x="1279.3" y="1451.1" font-size="23" stroke="#000" stroke-width="0.45">1</text>
<text x="1276.8" y="1481.1" font-size="23" stroke="#000" stroke-width="0.45">α</text>
<ellipse cx="1263" cy="1448.6" rx="16.9" ry="16.9" fill="none" stroke="#e0262a" stroke-width="3.6" stroke-dasharray="8.5 5.5"/>
<rect x="1182.4" y="1577.5" width="174.2" height="44.9" rx="13" ry="13" fill="none" stroke="#000" stroke-width="2.6"/>
<text x="1269.5" y="1607.8" font-size="24.7" text-anchor="middle" textLength="133.5" lengthAdjust="spacingAndGlyphs" stroke="#000" stroke-width="0.45">H2B(1–125)</text>
<line x1="1146.8" y1="1601.1" x2="1182.4" y2="1601.1" stroke="#000" stroke-width="2.6" stroke-linecap="round"/>
<text x="1097.9" y="1609.9" font-size="24.5" stroke="#000" stroke-width="0.45">H<tspan font-size="19" dy="5.5">2</tspan><tspan dy="-5.5">N</tspan></text>
<line x1="1356.6" y1="1597.8" x2="1399.4" y2="1597.8" stroke="#000" stroke-width="2.6" stroke-linecap="round"/>
<line x1="1399.4" y1="1597.8" x2="1415.66" y2="1572.06" stroke="#000" stroke-width="2.6" stroke-linecap="round"/>
<line x1="1397.58" y1="1591.33" x2="1410.63" y2="1570.66" stroke="#000" stroke-width="2.6" stroke-linecap="round"/>
<text x="1423.4" y="1568.6" font-size="24.5" text-anchor="middle" stroke="#000" stroke-width="0.45">O</text>
<line x1="1399.4" y1="1597.8" x2="1415.1" y2="1622.4" stroke="#000" stroke-width="2.6" stroke-linecap="round"/>
<text x="1414.2" y="1645.3" font-size="24.5" stroke="#000" stroke-width="0.45">NH<tspan font-size="19" dy="5.5">2</tspan></text>
<path d="M1225.1 1622.4 L1247 1662.1 L1278.3 1662.1" stroke="#000" stroke-width="2.6" fill="none" stroke-linejoin="round" stroke-linecap="round"/>
<path d="M1310.7 1622.4 L1333.7 1662.1 L1363.9 1662.1" stroke="#000" stroke-width="2.6" fill="none" stroke-linejoin="round" stroke-linecap="round"/>
<text x="1284.3" y="1670.4" font-size="24.5" stroke="#000" stroke-width="0.45">SH</text>
<text x="1369.9" y="1670.4" font-size="24.5" stroke="#000" stroke-width="0.45">SH</text>
<text x="1212.4" y="1703.8" font-size="28.6" textLength="72.5" lengthAdjust="spacingAndGlyphs" fill="#c4262b" stroke="#c4262b" stroke-width="0.45">A58C</text>
<text x="1338.7" y="1703.8" font-size="28.6" textLength="72.5" lengthAdjust="spacingAndGlyphs" fill="#c4262b" stroke="#c4262b" stroke-width="0.45">A97C</text>
<path d="M1274 1519.2 L1311.9 1532.4 L1311.9 1577.5" stroke="#000" stroke-width="2.6" fill="none" stroke-linejoin="round" stroke-linecap="round"/>
<text x="1337.2" y="1562.5" font-size="28.6" textLength="61" lengthAdjust="spacingAndGlyphs" fill="#3b8f77" stroke="#3b8f77" stroke-width="0.45">S112</text>
<path d="M474.5 1624.19 474.85 1623.68 475.2 1622.8 475.55 1621.45 475.9 1619.67 476.25 1617.89 476.6 1616.83 476.95 1616.98 477.3 1618.14 477.65 1619.67 478 1621 478.35 1621.82 478.7 1622.01 479.05 1621.62 479.4 1620.85 479.75 1620.03 480.1 1619.47 480.45 1619.24 480.8 1619.17 481.15 1619.04 481.5 1618.9 481.85 1619.23 482.2 1620.3 482.55 1621.65 482.9 1622.68 483.25 1623.24 483.6 1623.52 483.95 1623.64 484.3 1623.56 484.65 1623.38 485 1623.3 485.35 1623.19 485.7 1622.88 486.05 1622.64 486.4 1622.81 486.75 1623.35 487.1 1623.9 487.45 1624.18 487.8 1624.1 488.15 1623.71 488.5 1623.13 488.85 1622.49 489.2 1621.89 489.55 1621.34 489.9 1621.13 490.25 1621.71 490.6 1622.9 490.95 1623.93 491.3 1624.46 491.65 1624.64 492 1624.69 492.35 1624.7 492.7 1624.7 493.05 1624.7 493.4 1624.7 493.75 1624.7 494.1 1624.7 494.45 1624.7 494.8 1624.69 495.15 1624.67 495.5 1624.59 495.85 1624.36 496.2 1623.83 496.55 1622.94 496.9 1621.92 497.25 1621.3 497.6 1621.47 497.95 1622.33 498.3 1623.36 498.65 1624.11 499 1624.5 499.35 1624.64 499.7 1624.67 500.05 1624.66 500.4 1624.65 500.75 1624.63 501.1 1624.61 501.45 1624.6 501.8 1624.59 502.15 1624.59 502.5 1624.6 502.85 1624.62 503.2 1624.63 503.55 1624.65 503.9 1624.66 504.25 1624.67 504.6 1624.67 504.95 1624.63 505.3 1624.54 505.65 1624.28 506 1623.73 506.35 1622.96 506.7 1622.43 507.05 1622.59 507.4 1623.3 507.75 1624.03 508.1 1624.44 508.45 1624.55 508.8 1624.49 509.15 1624.33 509.5 1624.13 509.85 1623.94 510.2 1623.84 510.55 1623.87 510.9 1624.01 511.25 1624.21 511.6 1624.4 511.95 1624.54 512.3 1624.6 512.65 1624.61 513 1624.57 513.35 1624.5 513.7 1624.39 514.05 1624.28 514.4 1624.19 514.75 1624.14 515.1 1624.16 515.45 1624.23 515.8 1624.33 516.15 1624.44 516.5 1624.54 516.85 1624.61 517.2 1624.64 517.55 1624.62 517.9 1624.56 518.25 1624.51 518.6 1624.5 518.95 1624.53 519.3 1624.57 519.65 1624.58 520 1624.55 520.35 1624.44 520.7 1624.19 521.05 1623.9 521.4 1623.76 521.75 1623.91 522.1 1624.22 522.45 1624.49 522.8 1624.62 523.15 1624.64 523.5 1624.61 523.85 1624.55 524.2 1624.46 524.55 1624.36 524.9 1624.25 525.25 1624.16 525.6 1624.1 525.95 1624.1 526.3 1624.14 526.65 1624.23 527 1624.33 527.35 1624.44 527.7 1624.53 528.05 1624.59 528.4 1624.57 528.75 1624.37 529.1 1623.72 529.45 1622.23 529.8 1619.71 530.15 1616.72 530.5 1614.47 530.85 1613.98 531.2 1615.11 531.55 1616.85 531.9 1618.32 532.25 1619.34 532.6 1620.14 532.95 1620.91 533.3 1621.72 533.65 1622.52 534 1623.23 534.35 1623.8 534.7 1624.2 535.05 1624.46 535.4 1624.59 535.75 1624.66 536.1 1624.69 536.45 1624.7 536.8 1624.7 537.15 1624.7 537.5 1624.7 537.85 1624.7 538.2 1624.7 538.55 1624.7 538.9 1624.7 539.25 1624.7 539.6 1624.7 539.95 1624.7 540.3 1624.7 540.65 1624.7 541 1624.7 541.35 1624.7 541.7 1624.7 542.05 1624.7 542.4 1624.7 542.75 1624.7 543.1 1624.7 543.45 1624.7 543.8 1624.7 544.15 1624.7 544.5 1624.7 544.85 1624.7 545.2 1624.7 545.55 1624.7 545.9 1624.7 546.25 1624.7 546.6 1624.7 546.95 1624.69 547.3 1624.68 547.65 1624.66 548 1624.62 548.35 1624.53 548.7 1624.36 549.05 1624.1 549.4 1623.71 549.75 1623.21 550.1 1622.69 550.45 1622.25 550.8 1621.99 551.15 1621.98 551.5 1622.15 551.85 1622.34 552.2 1622.48 552.55 1622.7 552.9 1623.1 553.25 1623.57 553.6 1623.85 553.95 1623.8 554.3 1623.4 554.65 1622.65 555 1621.77 555.35 1621.17 555.7 1621.12 556.05 1621.42 556.4 1621.71 556.75 1621.93 557.1 1622.35 557.45 1623.06 557.8 1623.77 558.15 1624.24 558.5 1624.48 558.85 1624.59 559.2 1624.65 559.55 1624.68 559.9 1624.69 560.25 1624.7 560.6 1624.7 560.95 1624.7 561.3 1624.7 561.65 1624.7 562 1624.7 562.35 1624.7 562.7 1624.7 563.05 1624.7 563.4 1624.69 563.75 1624.67 564.1 1624.62 564.45 1624.46 564.8 1624.07 565.15 1623.16 565.5 1621.27 565.85 1618.08 566.2 1613.97 566.55 1610.37 566.9 1608.95 567.25 1610.15 567.6 1612.86 567.95 1615.6 568.3 1617.69 568.65 1619.31 569 1620.73 569.35 1621.93 569.7 1622.79 570.05 1623.27 570.4 1623.46 570.75 1623.48 571.1 1623.45 571.45 1623.47 571.8 1623.59 572.15 1623.78 572.5 1624.01 572.85 1624.23 573.2 1624.41 573.55 1624.54 573.9 1624.62 574.25 1624.66 574.6 1624.68 574.95 1624.69 575.3 1624.69 575.65 1624.68 576 1624.67 576.35 1624.64 576.7 1624.63 577.05 1624.63 577.4 1624.64 577.75 1624.65 578.1 1624.63 578.45 1624.54 578.8 1624.36 579.15 1624.08 579.5 1623.69 579.85 1623.28 580.2 1622.97 580.55 1622.87 580.9 1623.02 581.25 1623.36 581.6 1623.78 581.95 1624.14 582.3 1624.38 582.65 1624.48 583 1624.4 583.35 1624.13 583.7 1623.67 584.05 1623.07 584.4 1622.44 584.75 1621.92 585.1 1621.59 585.45 1621.49 585.8 1621.65 586.15 1622.08 586.5 1622.69 586.85 1623.35 587.2 1623.91 587.55 1624.3 587.9 1624.52 588.25 1624.63 588.6 1624.68 588.95 1624.69 589.3 1624.7 589.65 1624.7 590 1624.7 590.35 1624.7 590.7 1624.7 591.05 1624.7 591.4 1624.69 591.75 1624.68 592.1 1624.66 592.45 1624.6 592.8 1624.49 593.15 1624.29 593.5 1623.97 593.85 1623.51 594.2 1622.97 594.55 1622.51 594.9 1622.3 595.25 1622.4 595.6 1622.69 595.95 1623.09 596.3 1623.51 596.65 1623.89 597 1624.19 597.35 1624.33 597.7 1624.24 598.05 1623.92 598.4 1623.61 598.75 1623.65 599.1 1624.02 599.45 1624.41 599.8 1624.62 600.15 1624.68 600.5 1624.7 600.85 1624.7 601.2 1624.7 601.55 1624.7 601.9 1624.7 602.25 1624.7 602.6 1624.7 602.95 1624.7 603.3 1624.7 603.65 1624.7 604 1624.7 604.35 1624.7 604.7 1624.7 605.05 1624.7 605.4 1624.7 605.75 1624.7 606.1 1624.7 606.45 1624.7 606.8 1624.7 607.15 1624.7 607.5 1624.7 607.85 1624.7 608.2 1624.7 608.55 1624.7 608.9 1624.7 609.25 1624.7 609.6 1624.7 609.95 1624.7 610.3 1624.7 610.65 1624.68 611 1624.6 611.35 1624.41 611.7 1624.08 612.05 1623.76 612.4 1623.68 612.75 1623.89 613.1 1624.1 613.45 1623.93 613.8 1623.3 614.15 1622.8 614.5 1622.93 614.85 1623.36 615.2 1623.73 615.55 1624.04 615.9 1624.3 616.25 1624.47 616.6 1624.52 616.95 1624.47 617.3 1624.31 617.65 1624.11 618 1623.97 618.35 1623.98 618.7 1624.14 619.05 1624.35 619.4 1624.52 619.75 1624.62 620.1 1624.67 620.45 1624.69 620.8 1624.7 621.15 1624.7 621.5 1624.7 621.85 1624.7 622.2 1624.7 622.55 1624.69 622.9 1624.68 623.25 1624.66 623.6 1624.63 623.95 1624.57 624.3 1624.48 624.65 1624.32 625 1624.06 625.35 1623.68 625.7 1623.1 626.05 1622.25 626.4 1620.97 626.75 1619.25 627.1 1617.42 627.45 1616.21 627.8 1616.22 628.15 1617.39 628.5 1619.02 628.85 1620.51 629.2 1621.64 629.55 1622.5 629.9 1623.21 630.25 1623.77 630.6 1624.18 630.95 1624.44 631.3 1624.58 631.65 1624.65 632 1624.66 632.35 1624.64 632.7 1624.59 633.05 1624.5 633.4 1624.36 633.75 1624.17 634.1 1623.96 634.45 1623.77 634.8 1623.64 635.15 1623.61 635.5 1623.69 635.85 1623.85 636.2 1624.05 636.55 1624.25 636.9 1624.42 637.25 1624.54 637.6 1624.62 637.95 1624.66 638.3 1624.68 638.65 1624.69 639 1624.7 639.35 1624.7 639.7 1624.7 640.05 1624.7 640.4 1624.7 640.75 1624.7 641.1 1624.7 641.45 1624.7 641.8 1624.7 642.15 1624.7 642.5 1624.7 642.85 1624.7 643.2 1624.7 643.55 1624.7 643.9 1624.7 644.25 1624.7 644.6 1624.7 644.95 1624.7 645.3 1624.7 645.65 1624.7 646 1624.69 646.35 1624.69 646.7 1624.69 647.05 1624.69 647.4 1624.69 647.75 1624.68 648.1 1624.66 648.45 1624.63 648.8 1624.54 649.15 1624.32 649.5 1623.73 649.85 1622.81 650.2 1622.33 650.55 1622.84 650.9 1623.68 651.25 1624.18 651.6 1624.38 651.95 1624.49 652.3 1624.56 652.65 1624.61 653 1624.64 653.35 1624.66 653.7 1624.67 654.05 1624.68 654.4 1624.68 654.75 1624.69 655.1 1624.69 655.45 1624.7 655.8 1624.7 656.15 1624.7 656.5 1624.69 656.85 1624.69 657.2 1624.68 657.55 1624.68 657.9 1624.69 658.25 1624.69 658.6 1624.7 658.95 1624.7 659.3 1624.7 659.65 1624.69 660 1624.66 660.35 1624.58 660.7 1624.4 661.05 1624.1 661.4 1623.69 661.75 1623.2 662.1 1622.7 662.45 1622.39 662.8 1622.55 663.15 1623.21 663.5 1623.95 663.85 1624.43 664.2 1624.62 664.55 1624.68 664.9 1624.69 665.25 1624.69 665.6 1624.68 665.95 1624.67 666.3 1624.65 666.65 1624.63 667 1624.61 667.35 1624.61 667.7 1624.6 668.05 1624.6 668.4 1624.6 668.75 1624.61 669.1 1624.62 669.45 1624.63 669.8 1624.65 670.15 1624.67 670.5 1624.68 670.85 1624.69 671.2 1624.69 671.55 1624.7 671.9 1624.7 672.25 1624.7 672.6 1624.7 672.95 1624.7 673.3 1624.69 673.65 1624.68 674 1624.67 674.35 1624.63 674.7 1624.59 675.05 1624.54 675.4 1624.48 675.75 1624.45 676.1 1624.43 676.45 1624.45 676.8 1624.49 677.15 1624.52 677.5 1624.48 677.85 1624.28 678.2 1624.08 678.55 1624.19 678.9 1624.47 679.25 1624.65 679.6 1624.69 679.95 1624.7 680.3 1624.7 680.65 1624.7 681 1624.7 681.35 1624.7 681.7 1624.7 682.05 1624.7 682.4 1624.7 682.75 1624.7 683.1 1624.7 683.45 1624.7 683.8 1624.7 684.15 1624.7 684.5 1624.7 684.85 1624.7 685.2 1624.7 685.55 1624.7 685.9 1624.7 686.25 1624.7 686.6 1624.7 686.95 1624.7 687.3 1624.67 687.65 1624.57 688 1624.3 688.35 1623.83 688.7 1623.38 689.05 1623.29 689.4 1623.63 689.75 1624.13 690.1 1624.49 690.45 1624.64 690.8 1624.69 691.15 1624.7 691.5 1624.7 691.85 1624.7 692.2 1624.7 692.55 1624.7 692.9 1624.7 693.25 1624.7 693.6 1624.7 693.95 1624.7 694.3 1624.7 694.65 1624.7 695 1624.7 695.35 1624.7 695.7 1624.7 696.05 1624.7 696.4 1624.7 696.75 1624.7 697.1 1624.69 697.45 1624.67 697.8 1624.63 698.15 1624.58 698.5 1624.53 698.85 1624.46 699.2 1624.35 699.55 1624.23 699.9 1624.22 700.25 1624.36 700.6 1624.54 700.95 1624.64 701.3 1624.68 701.65 1624.67 702 1624.62 702.35 1624.48 702.7 1624.31 703.05 1624.26 703.4 1624.37 703.75 1624.54 704.1 1624.65 704.45 1624.69 704.8 1624.7 705.15 1624.7 705.5 1624.7 705.85 1624.7 706.2 1624.7 706.55 1624.7 706.9 1624.7 707.25 1624.7 707.6 1624.7 707.95 1624.7 708.3 1624.7 708.65 1624.7 709 1624.7 709.35 1624.7 709.7 1624.7 710.05 1624.7 710.4 1624.7 710.75 1624.7 711.1 1624.7 711.45 1624.7 711.8 1624.7 712.15 1624.7 712.5 1624.69 712.85 1624.66 713.2 1624.55 713.55 1624.29 713.9 1623.88 714.25 1623.52 714.6 1623.37 714.95 1623.41 715.3 1623.49 715.65 1623.59 716 1623.71 716.35 1623.88 716.7 1624.08 717.05 1624.28 717.4 1624.45 717.75 1624.56 718.1 1624.61 718.45 1624.55 718.8 1624.23 719.15 1623.52 719.5 1622.54 719.85 1621.89 720.2 1622.08 720.55 1622.96 720.9 1623.87 721.25 1624.42 721.6 1624.63 721.95 1624.69 722.3 1624.7 722.65 1624.7 723 1624.7 723.35 1624.7 723.7 1624.7 724.05 1624.7 724.4 1624.7 724.75 1624.7 725.1 1624.7 725.45 1624.7 725.8 1624.7 726.15 1624.7 726.5 1624.7 726.85 1624.7 727.2 1624.7 727.55 1624.7 727.9 1624.7 728.25 1624.7 728.6 1624.7 728.95 1624.7 729.3 1624.7 729.65 1624.7 730 1624.69 730.35 1624.68 730.7 1624.66 731.05 1624.64 731.4 1624.62 731.75 1624.63 732.1 1624.65 732.45 1624.67 732.8 1624.69 733.15 1624.7 733.5 1624.7 733.85 1624.7 734.2 1624.7 734.55 1624.7 734.9 1624.7 735.25 1624.7 735.6 1624.7 735.95 1624.7 736.3 1624.7 736.65 1624.7 737 1624.7 737.35 1624.7 737.7 1624.7 738.05 1624.7 738.4 1624.7 738.75 1624.7 739.1 1624.7 739.45 1624.7 739.8 1624.7 740.15 1624.69 740.5 1624.68 740.85 1624.66 741.2 1624.63 741.55 1624.57 741.9 1624.5 742.25 1624.43 742.6 1624.37 742.95 1624.34 743.3 1624.35 743.65 1624.36 744 1624.31 744.35 1624.08 744.7 1623.57 745.05 1622.93 745.4 1622.54 745.75 1622.72 746.1 1623.35 746.45 1624.01 746.8 1624.43 747.15 1624.59 747.5 1624.56 747.85 1624.4 748.2 1624.11 748.55 1623.65 748.9 1622.83 749.25 1621.89 749.6 1621.94 749.95 1623.01 750.3 1623.91 750.65 1624.28 751 1624.42 751.35 1624.51 751.7 1624.59 752.05 1624.64 752.4 1624.67 752.75 1624.69 753.1 1624.7 753.45 1624.7 753.8 1624.7 754.15 1624.7 754.5 1624.7 754.85 1624.7 755.2 1624.7 755.55 1624.7 755.9 1624.7 756.25 1624.69 756.6 1624.66 756.95 1624.61 757.3 1624.51 757.65 1624.36 758 1624.19 758.35 1624.06 758.7 1624.02 759.05 1624.12 759.4 1624.29 759.75 1624.45 760.1 1624.57 760.45 1624.63 760.8 1624.63 761.15 1624.58 761.5 1624.48 761.85 1624.31 762.2 1624.09 762.55 1623.88 762.9 1623.73 763.25 1623.7 763.6 1623.79 763.95 1623.96 764.3 1624.14 764.65 1624.28 765 1624.34 765.35 1624.34 765.7 1624.29 766.05 1624.25 766.4 1624.21 766.75 1624.19 767.1 1624.22 767.45 1624.32 767.8 1624.45 768.15 1624.53 768.5 1624.56 768.85 1624.55 769.2 1624.5 769.55 1624.43 769.9 1624.35 770.25 1624.29 770.6 1624.27 770.95 1624.28 771.3 1624.34 771.65 1624.41 772 1624.49 772.35 1624.57 772.7 1624.62 773.05 1624.66 773.4 1624.68 773.75 1624.69 774.1 1624.7 774.45 1624.7 774.8 1624.7 775.15 1624.7 775.5 1624.7 775.85 1624.7 776.2 1624.7 776.55 1624.7 776.9 1624.7 777.25 1624.7 777.6 1624.7 777.95 1624.7 778.3 1624.7 778.65 1624.7 779 1624.7 779.35 1624.7 779.7 1624.7 780.05 1624.7 780.4 1624.7 780.75 1624.69 781.1 1624.68 781.45 1624.66 781.8 1624.63 782.15 1624.57 782.5 1624.39 782.85 1623.99 783.2 1623.58 783.55 1623.62 783.9 1624.08 784.25 1624.49 784.6 1624.65 784.95 1624.69 785.3 1624.7 785.65 1624.7 786 1624.7 786.35 1624.7 786.7 1624.7 787.05 1624.7 787.4 1624.7 787.75 1624.69 788.1 1624.69 788.45 1624.69 788.8 1624.69 789.15 1624.7 789.5 1624.7 789.85 1624.7 790.2 1624.7 790.55 1624.7 790.9 1624.7 791.25 1624.7 791.6 1624.7 791.95 1624.7 792.3 1624.7 792.65 1624.7 793 1624.7 793.35 1624.7 793.7 1624.68 794.05 1624.62 794.4 1624.47 794.75 1624.21 795.1 1623.93 795.45 1623.79 795.8 1623.91 796.15 1624.19 796.5 1624.46 796.85 1624.61 797.2 1624.68 797.55 1624.7 797.9 1624.7 798.25 1624.7 798.6 1624.7 798.95 1624.7 799.3 1624.7 799.65 1624.7 800 1624.7 800.35 1624.7 800.7 1624.7 801.05 1624.7 801.4 1624.7 801.75 1624.7 802.1 1624.7 802.45 1624.7 802.8 1624.7 803.15 1624.7 803.5 1624.7 803.85 1624.7 804.2 1624.7 804.55 1624.7 804.9 1624.7 805.25 1624.7 805.6 1624.7 805.95 1624.7 806.3 1624.7 806.65 1624.7 807 1624.7 807.35 1624.7 807.7 1624.7 808.05 1624.7 808.4 1624.7 808.75 1624.7 809.1 1624.7 809.45 1624.7 809.8 1624.69 810.15 1624.67 810.5 1624.62 810.85 1624.57 811.2 1624.56 811.55 1624.62 811.9 1624.67 812.25 1624.69 812.6 1624.7 812.95 1624.7 813.3 1624.7 813.65 1624.7 814 1624.7 814.35 1624.7 814.7 1624.69 815.05 1624.67 815.4 1624.64 815.75 1624.6 816.1 1624.56 816.45 1624.53 816.8 1624.53 817.15 1624.56 817.5 1624.6 817.85 1624.64 818.2 1624.67 818.55 1624.69 818.9 1624.7 819.25 1624.7 819.6 1624.7 819.95 1624.69 820.3 1624.67 820.65 1624.63 821 1624.55 821.35 1624.43 821.7 1624.26 822.05 1624.09 822.4 1623.9 822.75 1623.7 823.1 1623.46 823.45 1623.17 823.8 1622.9 824.15 1622.77 824.5 1622.87 824.85 1623.18 825.2 1623.58 825.55 1623.97 825.9 1624.27 826.25 1624.46 826.6 1624.57 826.95 1624.64 827.3 1624.67 827.65 1624.69" fill="none" stroke="#000" stroke-width="2.4" stroke-linejoin="round"/>
<line x1="529.6" y1="1625" x2="529.6" y2="1438.8" stroke="#000" stroke-width="2.4" stroke-linecap="round"/>
<line x1="565.8" y1="1625" x2="565.8" y2="1386.8" stroke="#000" stroke-width="2.4" stroke-linecap="round"/>
<line x1="626.6" y1="1625" x2="626.6" y2="1513.9" stroke="#000" stroke-width="2.4" stroke-linecap="round"/>
<line x1="747.9" y1="1625" x2="747.9" y2="1608.9" stroke="#000" stroke-width="2.4" stroke-linecap="round"/>
<line x1="489.2" y1="1625" x2="489.2" y2="1620" stroke="#000" stroke-width="2.2" stroke-linecap="round"/>
<line x1="505.9" y1="1625" x2="505.9" y2="1604" stroke="#000" stroke-width="2.2" stroke-linecap="round"/>
<line x1="520.5" y1="1625" x2="520.5" y2="1617.7" stroke="#000" stroke-width="2.2" stroke-linecap="round"/>
<line x1="554.4" y1="1625" x2="554.4" y2="1609.8" stroke="#000" stroke-width="2.2" stroke-linecap="round"/>
<line x1="611.4" y1="1625" x2="611.4" y2="1616.8" stroke="#000" stroke-width="2.2" stroke-linecap="round"/>
<line x1="473.2" y1="1626" x2="828.5" y2="1626" stroke="#000" stroke-width="2.6" stroke-linecap="butt"/>
<line x1="473.2" y1="1624.8" x2="473.2" y2="1641.7" stroke="#000" stroke-width="2.6" stroke-linecap="round"/>
<text x="449.51" y="1675.6" font-size="28.6" stroke="#000" stroke-width="0.45">400</text>
<line x1="562.02" y1="1624.8" x2="562.02" y2="1641.7" stroke="#000" stroke-width="2.6" stroke-linecap="round"/>
<text x="538.02" y="1675.6" font-size="28.6" stroke="#000" stroke-width="0.45">800</text>
<line x1="650.85" y1="1624.8" x2="650.85" y2="1641.7" stroke="#000" stroke-width="2.6" stroke-linecap="round"/>
<text x="618.48" y="1675.6" font-size="28.6" stroke="#000" stroke-width="0.45">1200</text>
<line x1="739.67" y1="1624.8" x2="739.67" y2="1641.7" stroke="#000" stroke-width="2.6" stroke-linecap="round"/>
<text x="707.3" y="1675.6" font-size="28.6" stroke="#000" stroke-width="0.45">1600</text>
<line x1="828.5" y1="1624.8" x2="828.5" y2="1641.7" stroke="#000" stroke-width="2.6" stroke-linecap="round"/>
<text x="796.5" y="1675.6" font-size="28.6" stroke="#000" stroke-width="0.45">2000</text>
<text x="629.05" y="1721.9" font-size="28.6" stroke="#000" stroke-width="0.45">m/z</text>
<text x="509.82" y="1425.2" font-size="28.6" stroke="#000" stroke-width="0.45">+5</text>
<text x="551.62" y="1377" font-size="28.6" stroke="#000" stroke-width="0.45">+4</text>
<text x="612.12" y="1499.8" font-size="28.6" stroke="#000" stroke-width="0.45">+3</text>
<text x="731.92" y="1594.8" font-size="28.6" stroke="#000" stroke-width="0.45">+2</text>
<text x="670.6" y="1363.4" font-size="29"><tspan fill="#a58cc0">α-GlcNAc</tspan>-<tspan font-weight="bold">9</tspan></text>
<text x="670.23" y="1398.6" font-size="29" stroke="#000" stroke-width="0.45">M (Calc.): 3273.7 Da</text>
<text x="670.23" y="1433.8" font-size="29" stroke="#000" stroke-width="0.45">M (Obs.): 3273.1 Da</text>
<path d="M922.4 1625.7 922.7 1625.69 923 1625.67 923.3 1625.63 923.6 1625.54 923.9 1625.38 924.2 1625.12 924.5 1624.8 924.8 1624.48 925.1 1624.25 925.4 1624.18 925.7 1624.25 926 1624.43 926.3 1624.62 926.6 1624.8 926.9 1624.95 927.2 1625.08 927.5 1625.21 927.8 1625.33 928.1 1625.43 928.4 1625.52 928.7 1625.59 929 1625.63 929.3 1625.66 929.6 1625.68 929.9 1625.69 930.2 1625.69 930.5 1625.68 930.8 1625.65 931.1 1625.61 931.4 1625.54 931.7 1625.44 932 1625.3 932.3 1625.13 932.6 1624.94 932.9 1624.75 933.2 1624.61 933.5 1624.53 933.8 1624.54 934.1 1624.64 934.4 1624.79 934.7 1624.96 935 1625.09 935.3 1625.16 935.6 1625.13 935.9 1625.01 936.2 1624.81 936.5 1624.56 936.8 1624.31 937.1 1624.1 937.4 1623.97 937.7 1623.94 938 1624.03 938.3 1624.21 938.6 1624.45 938.9 1624.71 939.2 1624.94 939.5 1625.09 939.8 1625.12 940.1 1625.07 940.4 1625.05 940.7 1625.11 941 1625.14 941.3 1625.08 941.6 1624.92 941.9 1624.73 942.2 1624.58 942.5 1624.52 942.8 1624.58 943.1 1624.74 943.4 1624.94 943.7 1625.15 944 1625.34 944.3 1625.48 944.6 1625.58 944.9 1625.64 945.2 1625.68 945.5 1625.69 945.8 1625.7 946.1 1625.7 946.4 1625.7 946.7 1625.7 947 1625.7 947.3 1625.7 947.6 1625.7 947.9 1625.7 948.2 1625.7 948.5 1625.7 948.8 1625.7 949.1 1625.7 949.4 1625.7 949.7 1625.7 950 1625.7 950.3 1625.7 950.6 1625.69 950.9 1625.68 951.2 1625.64 951.5 1625.53 951.8 1625.3 952.1 1624.84 952.4 1624.05 952.7 1622.88 953 1621.38 953.3 1619.78 953.6 1618.42 953.9 1617.62 954.2 1617.62 954.5 1618.48 954.8 1620.02 955.1 1621.77 955.4 1623.27 955.7 1624.33 956 1624.97 956.3 1625.27 956.6 1625.32 956.9 1625.21 957.2 1625.02 957.5 1624.82 957.8 1624.64 958.1 1624.48 958.4 1624.34 958.7 1624.22 959 1624.12 959.3 1624.05 959.6 1623.99 959.9 1623.98 960.2 1624.07 960.5 1624.19 960.8 1624.27 961.1 1624.27 961.4 1624.17 961.7 1623.96 962 1623.63 962.3 1623.18 962.6 1622.6 962.9 1621.9 963.2 1621.13 963.5 1620.58 963.8 1620.5 964.1 1620.84 964.4 1621.36 964.7 1621.92 965 1622.37 965.3 1622.54 965.6 1622.36 965.9 1621.97 966.2 1621.72 966.5 1621.89 966.8 1622.47 967.1 1623.21 967.4 1623.82 967.7 1624.18 968 1624.3 968.3 1624.24 968.6 1624.03 968.9 1623.74 969.2 1623.41 969.5 1623.11 969.8 1622.9 970.1 1622.79 970.4 1622.79 970.7 1622.92 971 1623.14 971.3 1623.39 971.6 1623.6 971.9 1623.78 972.2 1623.96 972.5 1624.14 972.8 1624.3 973.1 1624.4 973.4 1624.43 973.7 1624.4 974 1624.31 974.3 1624.14 974.6 1623.84 974.9 1623.44 975.2 1623.13 975.5 1623.17 975.8 1623.49 976.1 1623.82 976.4 1623.98 976.7 1624 977 1623.94 977.3 1623.85 977.6 1623.75 977.9 1623.67 978.2 1623.61 978.5 1623.54 978.8 1623.41 979.1 1623.21 979.4 1623 979.7 1622.85 980 1622.84 980.3 1623.01 980.6 1623.32 980.9 1623.67 981.2 1623.97 981.5 1624.15 981.8 1624.21 982.1 1624.19 982.4 1624.1 982.7 1624 983 1623.9 983.3 1623.82 983.6 1623.74 983.9 1623.7 984.2 1623.73 984.5 1623.81 984.8 1623.91 985.1 1624 985.4 1624.08 985.7 1624.14 986 1624.17 986.3 1624.18 986.6 1624.17 986.9 1624.15 987.2 1624.12 987.5 1624.1 987.8 1624.11 988.1 1624.12 988.4 1624.09 988.7 1623.95 989 1623.71 989.3 1623.43 989.6 1623.22 989.9 1623.14 990.2 1623.22 990.5 1623.37 990.8 1623.52 991.1 1623.63 991.4 1623.72 991.7 1623.79 992 1623.83 992.3 1623.87 992.6 1623.92 992.9 1623.97 993.2 1624.03 993.5 1624.07 993.8 1624.09 994.1 1624.11 994.4 1624.11 994.7 1624.11 995 1624.11 995.3 1624.11 995.6 1624.1 995.9 1624.07 996.2 1624.03 996.5 1623.99 996.8 1623.94 997.1 1623.9 997.4 1623.89 997.7 1623.92 998 1623.95 998.3 1623.99 998.6 1624.04 998.9 1624.1 999.2 1624.13 999.5 1624.1 999.8 1624.02 1000.1 1623.87 1000.4 1623.69 1000.7 1623.55 1001 1623.49 1001.3 1623.5 1001.6 1623.53 1001.9 1623.56 1002.2 1623.58 1002.5 1623.61 1002.8 1623.67 1003.1 1623.8 1003.4 1624.07 1003.7 1624.47" fill="none" stroke="#000" stroke-width="2.2" stroke-linejoin="round"/>
<line x1="954.6" y1="1625.9" x2="954.6" y2="1490.5" stroke="#000" stroke-width="2.3" stroke-linecap="round"/>
<path d="M921.9 1634.4 L921.9 1626.9 L1004.3 1626.9 L1004.3 1634.4" stroke="#000" stroke-width="2.5" fill="none" stroke-linejoin="round" stroke-linecap="round"/>
<line x1="963.1" y1="1626.9" x2="963.1" y2="1631.5" stroke="#000" stroke-width="2.3" stroke-linecap="butt"/>
<text x="887.71" y="1664.9" font-size="24.2" stroke="#000" stroke-width="0.45">10000</text>
<text x="970.42" y="1664.9" font-size="24.2" stroke="#000" stroke-width="0.45">20000</text>
<text x="929.16" y="1702.9" font-size="22.8" stroke="#000" stroke-width="0.45">M (Da)</text>
<path d="M1514.5 1627.19 1514.75 1627.1 1515 1626.96 1515.25 1626.7 1515.5 1626.42 1515.75 1626.15 1516 1625.89 1516.25 1625.51 1516.5 1625.15 1516.75 1624.85 1517 1624.64 1517.25 1624.55 1517.5 1624.57 1517.75 1624.65 1518 1624.45 1518.25 1624.35 1518.5 1624.35 1518.75 1624.44 1519 1624.6 1519.25 1624.8 1519.5 1624.99 1519.75 1624.83 1520 1624.75 1520.25 1624.65 1520.5 1624.24 1520.75 1623.87 1521 1623.61 1521.25 1623.48 1521.5 1623.51 1521.75 1623.53 1522 1623.76 1522.25 1623.83 1522.5 1623.67 1522.75 1623.8 1523 1624.19 1523.25 1624.48 1523.5 1624.42 1523.75 1623.88 1524 1623.22 1524.25 1622.83 1524.5 1622.92 1524.75 1622.34 1525 1622.25 1525.25 1623.1 1525.5 1622.97 1525.75 1622.2 1526 1621.37 1526.25 1621.01 1526.5 1621.29 1526.75 1622.03 1527 1622.85 1527.25 1622.62 1527.5 1621.76 1527.75 1621.26 1528 1621.39 1528.25 1622.04 1528.5 1621.9 1528.75 1622.05 1529 1622.02 1529.25 1620.94 1529.5 1620.2 1529.75 1620.23 1530 1618.97 1530.25 1618.2 1530.5 1618.37 1530.75 1619.36 1531 1620.51 1531.25 1620.11 1531.5 1618.44 1531.75 1618.11 1532 1619.36 1532.25 1620.67 1532.5 1621.2 1532.75 1621.29 1533 1619.9 1533.25 1618.53 1533.5 1617.92 1533.75 1618.42 1534 1619.67 1534.25 1620.75 1534.5 1620.61 1534.75 1619.15 1535 1617.38 1535.25 1616.38 1535.5 1616.75 1535.75 1616.87 1536 1617.65 1536.25 1618.91 1536.5 1618.74 1536.75 1618.53 1537 1619.01 1537.25 1619.95 1537.5 1618.8 1537.75 1617.94 1538 1617.8 1538.25 1618.44 1538.5 1619.47 1538.75 1617.79 1539 1615.17 1539.25 1613.12 1539.5 1612.72 1539.75 1612.23 1540 1613.52 1540.25 1615.85 1540.5 1617.09 1540.75 1613.87 1541 1611.04 1541.25 1610.21 1541.5 1611.89 1541.75 1614.98 1542 1616.08 1542.25 1613.5 1542.5 1610.58 1542.75 1610.03 1543 1612.21 1543.25 1613.72 1543.5 1612.03 1543.75 1609.23 1544 1606.02 1544.25 1608.31 1544.5 1613.75 1544.75 1616.03 1545 1616.49 1545.25 1615.34 1545.5 1610.87 1545.75 1606.49 1546 1604.63 1546.25 1606.51 1546.5 1610.91 1546.75 1614.72 1547 1614.44 1547.25 1609.73 1547.5 1603.99 1547.75 1600.82 1548 1602.26 1548.25 1607.37 1548.5 1606.78 1548.75 1601.79 1549 1601.88 1549.25 1603.98 1549.5 1604.46 1549.75 1608.4 1550 1613.45 1550.25 1612.01 1550.5 1610.8 1550.75 1605.92 1551 1603.59 1551.25 1605.35 1551.5 1604.2 1551.75 1605 1552 1608.53 1552.25 1612.9 1552.5 1606.05 1552.75 1599.35 1553 1596.5 1553.25 1599.37 1553.5 1606.09 1553.75 1606.52 1554 1599.68 1554.25 1598.48 1554.5 1595.49 1554.75 1590.64 1555 1592.84 1555.25 1600.64 1555.5 1609.05 1555.75 1605.61 1556 1604.23 1556.25 1605.63 1556.5 1609.16 1556.75 1613.33 1557 1614.32 1557.25 1615 1557.5 1612.67 1557.75 1605.69 1558 1601.89 1558.25 1604.8 1558.5 1602.33 1558.75 1597.45 1559 1599.04 1559.25 1605.87 1559.5 1610.18 1559.75 1615.71 1560 1616.59 1560.25 1615.9 1560.5 1613.18 1560.75 1605.51 1561 1597.23 1561.25 1592.66 1561.5 1594.73 1561.75 1602.09 1562 1608.89 1562.25 1610.26 1562.5 1603.8 1562.75 1593.2 1563 1586.14 1563.25 1587.02 1563.5 1595.26 1563.75 1605.9 1564 1602.33 1564.25 1600.59 1564.5 1595.83 1564.75 1596.75 1565 1602.76 1565.25 1610.34 1565.5 1610.69 1565.75 1601.77 1566 1599.38 1566.25 1606.28 1566.5 1611.94 1566.75 1607.93 1567 1609 1567.25 1612.99 1567.5 1601.6 1567.75 1590.57 1568 1589.61 1568.25 1593.99 1568.5 1596.57 1568.75 1604.15 1569 1600.58 1569.25 1591.9 1569.5 1587.82 1569.75 1590.69 1570 1598.85 1570.25 1608.13 1570.5 1608.85 1570.75 1598.95 1571 1590.27 1571.25 1587.84 1571.5 1593.27 1571.75 1603.1 1572 1606.7 1572.25 1603.57 1572.5 1603.26 1572.75 1605.94 1573 1610.38 1573.25 1613.81 1573.5 1614.56 1573.75 1615.32 1574 1616.07 1574.25 1614.05 1574.5 1605.14 1574.75 1596.86 1575 1595.86 1575.25 1603.06 1575.5 1610.23 1575.75 1604.5 1576 1602.98 1576.25 1606.93 1576.5 1613.28 1576.75 1617.43 1577 1620.44 1577.25 1619.79 1577.5 1615.61 1577.75 1608.66 1578 1602.3 1578.25 1601.47 1578.5 1606.93 1578.75 1614.16 1579 1617.46 1579.25 1612.22 1579.5 1605.48 1579.75 1600.26 1580 1599.72 1580.25 1604.23 1580.5 1610.97 1580.75 1613.52 1581 1611.4 1581.25 1603.11 1581.5 1595.84 1581.75 1593.81 1582 1598.36 1582.25 1606.6 1582.5 1609.61 1582.75 1606.99 1583 1606.74 1583.25 1608.98 1583.5 1610.68 1583.75 1609.54 1584 1605.33 1584.25 1603.54 1584.5 1605.09 1584.75 1609.19 1585 1614.02 1585.25 1617.95 1585.5 1619.68 1585.75 1620.12 1586 1619.71 1586.25 1617.65 1586.5 1615.35 1586.75 1613.65 1587 1613.36 1587.25 1614.62 1587.5 1616.82 1587.75 1619.08 1588 1618.79 1588.25 1618.02 1588.5 1613.13 1588.75 1607.07 1589 1602.63 1589.25 1599.25 1589.5 1598.68 1589.75 1602.88 1590 1598.36 1590.25 1597.54 1590.5 1595.48 1590.75 1600.05 1591 1594.53 1591.25 1592.36 1591.5 1597.22 1591.75 1601.81 1592 1601.51 1592.25 1606.07 1592.5 1606.16 1592.75 1608.55 1593 1612.52 1593.25 1615.59 1593.5 1616.01 1593.75 1608.96 1594 1604.76 1594.25 1607.82 1594.5 1601.17 1594.75 1597.37 1595 1599.2 1595.25 1601.18 1595.5 1606.12 1595.75 1613.6 1596 1619.18 1596.25 1621.79 1596.5 1622.03 1596.75 1622.21 1597 1622.37 1597.25 1622.26 1597.5 1621.93 1597.75 1621.56 1598 1621.25 1598.25 1621.1 1598.5 1621.17 1598.75 1621.43 1599 1617.09 1599.25 1608.39 1599.5 1600.61 1599.75 1601.82 1600 1610.64 1600.25 1618.55 1600.5 1618.96 1600.75 1618.32 1601 1617.63 1601.25 1611.35 1601.5 1603.29 1601.75 1597.04 1602 1596.4 1602.25 1601.79 1602.5 1609.86 1602.75 1612.9 1603 1610.36 1603.25 1600.45 1603.5 1591.75 1603.75 1589.31 1604 1594.76 1604.25 1604.62 1604.5 1608.23 1604.75 1605.09 1605 1604.78 1605.25 1607.46 1605.5 1611.91 1605.75 1606.16 1606 1600.12 1606.25 1599.09 1606.5 1603.77 1606.75 1611.14 1607 1609.94 1607.25 1601 1607.5 1593.83 1607.75 1592.45 1608 1593.64 1608.25 1591.36 1608.5 1595.04 1608.75 1602.19 1609 1593.96 1609.25 1592.73 1609.5 1599.42 1609.75 1609.35 1610 1616.37 1610.25 1620.31 1610.5 1622.37 1610.75 1623.21 1611 1623.33 1611.25 1623.42 1611.5 1623.41 1611.75 1623.36 1612 1623.3 1612.25 1623.21 1612.5 1623.1 1612.75 1622.96 1613 1622.78 1613.25 1622.56 1613.5 1622.31 1613.75 1621.23 1614 1619.6 1614.25 1618.01 1614.5 1617.13 1614.75 1617.39 1615 1618.66 1615.25 1618.47 1615.5 1612.83 1615.75 1606.17 1616 1601.73 1616.25 1602.29 1616.5 1607.48 1616.75 1614.18 1617 1611.96 1617.25 1605.27 1617.5 1602.08 1617.75 1596.98 1618 1596.31 1618.25 1601.89 1618.5 1601.68 1618.75 1597.92 1619 1599.19 1619.25 1596.52 1619.5 1598.92 1619.75 1605.46 1620 1612.91 1620.25 1618.24 1620.5 1618.88 1620.75 1614.12 1621 1608.04 1621.25 1604.5 1621.5 1605.98 1621.75 1611.42 1622 1613.91 1622.25 1615.83 1622.5 1618.46 1622.75 1614.23 1623 1610.18 1623.25 1608.24 1623.5 1609.5 1623.75 1613.27 1624 1617.64 1624.25 1621.05 1624.5 1622.48 1624.75 1622.63 1625 1622.84 1625.25 1623.09 1625.5 1623.36 1625.75 1623.43 1626 1623.55 1626.25 1623.7 1626.5 1623.88 1626.75 1624.04 1627 1624.19 1627.25 1624.3 1627.5 1624.32 1627.75 1624.28 1628 1624.22 1628.25 1624.14 1628.5 1624.04 1628.75 1623.91 1629 1623.76 1629.25 1623.57 1629.5 1623.34 1629.75 1623.08 1630 1622.78 1630.25 1622.44 1630.5 1622.07 1630.75 1621.67 1631 1621.23 1631.25 1617.21 1631.5 1612.03 1631.75 1608.03 1632 1607.62 1632.25 1611.09 1632.5 1607.78 1632.75 1606.99 1633 1610.35 1633.25 1610.26 1633.5 1604.68 1633.75 1603.12 1634 1606.63 1634.25 1612.97 1634.5 1615.2 1634.75 1613.29 1635 1613.1 1635.25 1614.83 1635.5 1617.7 1635.75 1619.74 1636 1615 1636.25 1609.46 1636.5 1605.3 1636.75 1604.63 1637 1607.83 1637.25 1613.22 1637.5 1614.83 1637.75 1618.23 1638 1621.19 1638.25 1618.83 1638.5 1616.72 1638.75 1615.77 1639 1616.47 1639.25 1618.46 1639.5 1620.89 1639.75 1622.93 1640 1624.24 1640.25 1624.92 1640.5 1625.21 1640.75 1625.28 1641 1625.32 1641.25 1625.35 1641.5 1625.38 1641.75 1625.41 1642 1625.43 1642.25 1625.45 1642.5 1625.47 1642.75 1625.49 1643 1625.51 1643.25 1625.53 1643.5 1625.55 1643.75 1625.56 1644 1625.58 1644.25 1625.59 1644.5 1625.6 1644.75 1625.61 1645 1625.61 1645.25 1625.61 1645.5 1625.6 1645.75 1625.59 1646 1625.56 1646.25 1625.53 1646.5 1625.32 1646.75 1623.65 1647 1619.41 1647.25 1613.7 1647.5 1611.22 1647.75 1614.65 1648 1620.43 1648.25 1621.62 1648.5 1617.08 1648.75 1613.53 1649 1614.06 1649.25 1617.92 1649.5 1612.74 1649.75 1610.82 1650 1612.93 1650.25 1613.77 1650.5 1616.75 1650.75 1620.6 1651 1621.27 1651.25 1619.26 1651.5 1614.5 1651.75 1610.82 1652 1610.46 1652.25 1613.66 1652.5 1618.45 1652.75 1618.84 1653 1617.6 1653.25 1617.78 1653.5 1619.29 1653.75 1621.49 1654 1622.76 1654.25 1620.73 1654.5 1616.8 1654.75 1613.2 1655 1611.65 1655.25 1613.04 1655.5 1616.59 1655.75 1620.61 1656 1623.71 1656.25 1620.23 1656.5 1615.6 1656.75 1612.56 1657 1613.35 1657.25 1617.4 1657.5 1621.95 1657.75 1624.99 1658 1626.37 1658.25 1626.53 1658.5 1626.56 1658.75 1626.61 1659 1626.69 1659.25 1626.79 1659.5 1626.9 1659.75 1627.02 1660 1627.16 1660.25 1627.09 1660.5 1627.01 1660.75 1626.91 1661 1626.81 1661.25 1626.72 1661.5 1626.64 1661.75 1626.59 1662 1626.56 1662.25 1626.58 1662.5 1626.63 1662.75 1626.71 1663 1626.8 1663.25 1626.9 1663.5 1626.99 1663.75 1627.08 1664 1627.11 1664.25 1627.06 1664.5 1627.01 1664.75 1626.97 1665 1626.96 1665.25 1626.87 1665.5 1626.71 1665.75 1626.52 1666 1626.32 1666.25 1626.12 1666.5 1625.94 1666.75 1625.8 1667 1625.72 1667.25 1625.71 1667.5 1625.77 1667.75 1625.89 1668 1626.05 1668.25 1626.25 1668.5 1626.45 1668.75 1625.61 1669 1622.56 1669.25 1618.99 1669.5 1618.19 1669.75 1621.05 1670 1624.62 1670.25 1625.97 1670.5 1625.76 1670.75 1625.25 1671 1623.08 1671.25 1620.51 1671.5 1618.8 1671.75 1619.01 1672 1621 1672.25 1622.02 1672.5 1622.75 1672.75 1622.64 1673 1619.42 1673.25 1616.93 1673.5 1616.67 1673.75 1618.81 1674 1622.02 1674.25 1622.27 1674.5 1621.42 1674.75 1620.8 1675 1620.09 1675.25 1618.82 1675.5 1620.31 1675.75 1623.02 1676 1624.7 1676.25 1625.53 1676.5 1624.94 1676.75 1624.56 1677 1624.66 1677.25 1624.62 1677.5 1624.97 1677.75 1625.76 1678 1626.52 1678.25 1626.87 1678.5 1626.96 1678.75 1627.03 1679 1627.09 1679.25 1627.14 1679.5 1627.18 1679.75 1627.21 1680 1627.22 1680.25 1627.15 1680.5 1627.04 1680.75 1626.89 1681 1626.68 1681.25 1626.42 1681.5 1626.14 1681.75 1625.86 1682 1625.62 1682.25 1625.46 1682.5 1625.42 1682.75 1625.49 1683 1625.67 1683.25 1625.92 1683.5 1626.21 1683.75 1626.49 1684 1626.74 1684.25 1626.93 1684.5 1627.07 1684.75 1627.01 1685 1626.84 1685.25 1626.66 1685.5 1626.5 1685.75 1626.42 1686 1626.44 1686.25 1626.55 1686.5 1626.52 1686.75 1626.51 1687 1626.54 1687.25 1626.6 1687.5 1626.67 1687.75 1626.48 1688 1626.37 1688.25 1626.38 1688.5 1626.5 1688.75 1626.69 1689 1626.9 1689.25 1627.07 1689.5 1627.18 1689.75 1627.16 1690 1627.09 1690.25 1627 1690.5 1626.9 1690.75 1626.78 1691 1626.66 1691.25 1626.55 1691.5 1626.47 1691.75 1626.43 1692 1626.4 1692.25 1626.13 1692.5 1625.84 1692.75 1625.57 1693 1625.35 1693.25 1625.2 1693.5 1623.75 1693.75 1621.02 1694 1619.32 1694.25 1620.09 1694.5 1621.35 1694.75 1619.92 1695 1619.75 1695.25 1620.92 1695.5 1622.86 1695.75 1624.75 1696 1622.83 1696.25 1620.8 1696.5 1619.93 1696.75 1620.8 1697 1622.83 1697.25 1624.59 1697.5 1624.46 1697.75 1622.27 1698 1619.61 1698.25 1618.14 1698.5 1618.8 1698.75 1621.16 1699 1623.72 1699.25 1622.66 1699.5 1622.23 1699.75 1622.66 1700 1623.72 1700.25 1624.98 1700.5 1625.28 1700.75 1625.48 1701 1625.41 1701.25 1623.92 1701.5 1622.43 1701.75 1621.66 1702 1622.06 1702.25 1622.26 1702.5 1623.62 1702.75 1625.56 1703 1626.77 1703.25 1626.97 1703.5 1627.04 1703.75 1627.06 1704 1626.96 1704.25 1626.84 1704.5 1626.72 1704.75 1626.6 1705 1626.51 1705.25 1626.46 1705.5 1626.46 1705.75 1626.5 1706 1626.59 1706.25 1626.7 1706.5 1626.82 1706.75 1626.94 1707 1627.05 1707.25 1627.13 1707.5 1627.01 1707.75 1626.83 1708 1626.7 1708.25 1626.68 1708.5 1626.55 1708.75 1626.51 1709 1626.6 1709.25 1626.78 1709.5 1626.98 1709.75 1627.12 1710 1626.98 1710.25 1626.76 1710.5 1626.48 1710.75 1626.12 1711 1625.73 1711.25 1625.37 1711.5 1625.08 1711.75 1624.94 1712 1624.96 1712.25 1625.14 1712.5 1625.46 1712.75 1625.83 1713 1626.22 1713.25 1626.56 1713.5 1626.83 1713.75 1626.96 1714 1626.84 1714.25 1626.71 1714.5 1626.57 1714.75 1626.46 1715 1626.37 1715.25 1626.33 1715.5 1626.34 1715.75 1626.4 1716 1626.5 1716.25 1626.62 1716.5 1626.75 1716.75 1626.88 1717 1627 1717.25 1627.09 1717.5 1627.17 1717.75 1627.22 1718 1627.2 1718.25 1627.14 1718.5 1627.06 1718.75 1626.95 1719 1626.84 1719.25 1626.74 1719.5 1626.65 1719.75 1626.6 1720 1626.6 1720.25 1626.64 1720.5 1626.72 1720.75 1626.8 1721 1626.61 1721.25 1626.42 1721.5 1626.27 1721.75 1626.19 1722 1626.19 1722.25 1626.28 1722.5 1626.44 1722.75 1626.63 1723 1626.82 1723.25 1626.98 1723.5 1627.06 1723.75 1627.07 1724 1626.74 1724.25 1626.22 1724.5 1625.68 1724.75 1625.39 1725 1625.52 1725.25 1626 1725.5 1626.4 1725.75 1626.24 1726 1625.48 1726.25 1624.09 1726.5 1622.64 1726.75 1621.72 1727 1620.5 1727.25 1619.97 1727.5 1621.15 1727.75 1621.08 1728 1621.31 1728.25 1622.73 1728.5 1621.71 1728.75 1619.17 1729 1618.09 1729.25 1619.17 1729.5 1619.82 1729.75 1619.74 1730 1621.1 1730.25 1621.5 1730.5 1620.96 1730.75 1620.06 1731 1618.6 1731.25 1619.56 1731.5 1622.2 1731.75 1624.82 1732 1625.61 1732.25 1624.27 1732.5 1622.79 1732.75 1621.73 1733 1621.59 1733.25 1622.45 1733.5 1623.87 1733.75 1625.29 1734 1626.17 1734.25 1625.69 1734.5 1625.23 1734.75 1624.92 1735 1624.83 1735.25 1624.99 1735.5 1625.36 1735.75 1625.83 1736 1626.3 1736.25 1626.69 1736.5 1626.96 1736.75 1627.13 1737 1626.9 1737.25 1626.37 1737.5 1625.66 1737.75 1625.09 1738 1625.04 1738.25 1625.55 1738.5 1625.76 1738.75 1625.44 1739 1625.26 1739.25 1625.28 1739.5 1625.48 1739.75 1625.83 1740 1626.22 1740.25 1626.58 1740.5 1626.87 1740.75 1627.06 1741 1627.18 1741.25 1627.25 1741.5 1627.28 1741.75 1627.27 1742 1627.18 1742.25 1626.91 1742.5 1626.38 1742.75 1625.73 1743 1625.32 1743.25 1625.46 1743.5 1626.05 1743.75 1626.67 1744 1627.01 1744.25 1627.04 1744.5 1627.09 1744.75 1627.14 1745 1627.15 1745.25 1627.1 1745.5 1627.05 1745.75 1627.02 1746 1627.02 1746.25 1627.05 1746.5 1627.1 1746.75 1627.16 1747 1627.21 1747.25 1627.25 1747.5 1627.27 1747.75 1627.29 1748 1627.29 1748.25 1627.3 1748.5 1627.3 1748.75 1627.3 1749 1627.29 1749.25 1627.28 1749.5 1627.27 1749.75 1627.23 1750 1627.17 1750.25 1627.08 1750.5 1626.96 1750.75 1626.83 1751 1626.69 1751.25 1626.58 1751.5 1626.53 1751.75 1626.54 1752 1626.61 1752.25 1626.74 1752.5 1626.87 1752.75 1627.01 1753 1627.12 1753.25 1627.19 1753.5 1627.24 1753.75 1627.27 1754 1627.27 1754.25 1627.24 1754.5 1627.19 1754.75 1627.1 1755 1626.98 1755.25 1626.82 1755.5 1626.65 1755.75 1626.47 1756 1626.34 1756.25 1626.27 1756.5 1626.28 1756.75 1626.28 1757 1625.96 1757.25 1625.64 1757.5 1625.37 1757.75 1625.17 1758 1625.08 1758.25 1625.12 1758.5 1625.28 1758.75 1625.53 1759 1625.84 1759.25 1626.16 1759.5 1626.46 1759.75 1626.62 1760 1626.67 1760.25 1626.73 1760.5 1626.12 1760.75 1625.53 1761 1625.39 1761.25 1625.8 1761.5 1626.45 1761.75 1626.75 1762 1626.64 1762.25 1626.5 1762.5 1626.35 1762.75 1626.19 1763 1626.01 1763.25 1625.59 1763.5 1623.78 1763.75 1621.64 1764 1620.21 1764.25 1620.38 1764.5 1621.85 1764.75 1624.18 1765 1624.56 1765.25 1623.41 1765.5 1620.73 1765.75 1618.65 1766 1618.43 1766.25 1620.22 1766.5 1622.9 1766.75 1623.1 1767 1622.39 1767.25 1622.48 1767.5 1623.32 1767.75 1624.53 1768 1625.23 1768.25 1625.43 1768.5 1625.63 1768.75 1625.82 1769 1625.28 1769.25 1623.88 1769.5 1623.06 1769.75 1623.46 1770 1624.75 1770.25 1625.99 1770.5 1623.83 1770.75 1621.09 1771 1619.79 1771.25 1621.18 1771.5 1622.1 1771.75 1623.09 1772 1624.52 1772.25 1625.81 1772.5 1626.65 1772.75 1626.95 1773 1627.06 1773.25 1627.02 1773.5 1626.91 1773.75 1626.77 1774 1626.62 1774.25 1626.47 1774.5 1626.32 1774.75 1626.19 1775 1626.1 1775.25 1626.06 1775.5 1626.08 1775.75 1626.15 1776 1626.26 1776.25 1626.4 1776.5 1626.55 1776.75 1626.71 1777 1626.76 1777.25 1626.69 1777.5 1626.75 1777.75 1626.91 1778 1627.08 1778.25 1627.2 1778.5 1627.22 1778.75 1627.15 1779 1627.05 1779.25 1626.92 1779.5 1626.78 1779.75 1626.64 1780 1626.53 1780.25 1626.49 1780.5 1626.52 1780.75 1626.62 1781 1626.55 1781.25 1626.51 1781.5 1626.52 1781.75 1626.57 1782 1626.62 1782.25 1626.43 1782.5 1626.28 1782.75 1626.22 1783 1626.25 1783.25 1626.37 1783.5 1626.56 1783.75 1626.76 1784 1626.94 1784.25 1627.08 1784.5 1627.18 1784.75 1627.24 1785 1627.27 1785.25 1627.29 1785.5 1627.28 1785.75 1627.26 1786 1627.23 1786.25 1627.18 1786.5 1627.11 1786.75 1627 1787 1626.86 1787.25 1626.68 1787.5 1626.47 1787.75 1626.25 1788 1626.04 1788.25 1625.85 1788.5 1625.72 1788.75 1625.66 1789 1625.68 1789.25 1625.78 1789.5 1625.95 1789.75 1626.15 1790 1626.37 1790.25 1626.59 1790.5 1626.58 1790.75 1626.61 1791 1626.76 1791.25 1626.97 1791.5 1627.13 1791.75 1627.23 1792 1627.27 1792.25 1627.29 1792.5 1627.29 1792.75 1627.29 1793 1627.26 1793.25 1627.2 1793.5 1627.1 1793.75 1626.96 1794 1626.84 1794.25 1626.79 1794.5 1626.84 1794.75 1626.97 1795 1627.11 1795.25 1627.21 1795.5 1627.14 1795.75 1626.89 1796 1626.56 1796.25 1626.37 1796.5 1626.47 1796.75 1626.77 1797 1627.07 1797.25 1627.23 1797.5 1627.19 1797.75 1627.07 1798 1626.95 1798.25 1626.88 1798.5 1626.91 1798.75 1627.03 1799 1627.15 1799.25 1627.21 1799.5 1627.23 1799.75 1627.24 1800 1627.25 1800.25 1627.27 1800.5 1627.28 1800.75 1627.28 1801 1627.29 1801.25 1627.29 1801.5 1627.29 1801.75 1627.28 1802 1627.26 1802.25 1627.23 1802.5 1627.21 1802.75 1627.2 1803 1627.21 1803.25 1627.23 1803.5 1627.25 1803.75 1627.28 1804 1627.28 1804.25 1627.26 1804.5 1627.2 1804.75 1627.11 1805 1626.98 1805.25 1626.82 1805.5 1626.65 1805.75 1626.53 1806 1626.5 1806.25 1625.92 1806.5 1624.05 1806.75 1621.65 1807 1620.09 1807.25 1620.54 1807.5 1622.64 1807.75 1624.93 1808 1626.42 1808.25 1626.07 1808.5 1624.8 1808.75 1623.22 1809 1621.98 1809.25 1621.74 1809.5 1622.64 1809.75 1621.74 1810 1620.34 1810.25 1620.51 1810.5 1622.14 1810.75 1624.25 1811 1624.61 1811.25 1623.49 1811.5 1620.85 1811.75 1618.81 1812 1618.6 1812.25 1620.35 1812.5 1621.89 1812.75 1619.49 1813 1618.44 1813.25 1619.15 1813.5 1618.52 1813.75 1619.42 1814 1621.42 1814.25 1623.65 1814.5 1625.42 1814.75 1625.85 1815 1626 1815.25 1625.06 1815.5 1623.48 1815.75 1621.11 1816 1621.23 1816.25 1620.22 1816.5 1619.28 1816.75 1619.67 1817 1621.2 1817.25 1623.21 1817.5 1624.99 1817.75 1626.21 1818 1626.86 1818.25 1627.15 1818.5 1627.25 1818.75 1627.26 1819 1627.27 1819.25 1627.25 1819.5 1627.24 1819.75 1627.23 1820 1627.23 1820.25 1627.24 1820.5 1627.26 1820.75 1627.28 1821 1627.29 1821.25 1627.3 1821.5 1627.3 1821.75 1627.3 1822 1627.29 1822.25 1627.28 1822.5 1627.26 1822.75 1627.24 1823 1627.21 1823.25 1627.11 1823.5 1626.94 1823.75 1626.69 1824 1626.34 1824.25 1625.94 1824.5 1625.54 1824.75 1625.25 1825 1625.13 1825.25 1625.21 1825.5 1625.48 1825.75 1625.86 1826 1626.27 1826.25 1626.63 1826.5 1626.9 1826.75 1627.09 1827 1627.2 1827.25 1627.25 1827.5 1627.28 1827.75 1627.29 1828 1627.27 1828.25 1627.23 1828.5 1627.18 1828.75 1627.09 1829 1626.97 1829.25 1626.82 1829.5 1626.67 1829.75 1626.53 1830 1626.43 1830.25 1626.4 1830.5 1626.45 1830.75 1626.56 1831 1626.71 1831.25 1626.86 1831.5 1627 1831.75 1626.94 1832 1626.95 1832.25 1627.05 1832.5 1627.17 1832.75 1627.25 1833 1627.23 1833.25 1627.16 1833.5 1627.03 1833.75 1626.84 1834 1626.57 1834.25 1626.24 1834.5 1625.89 1834.75 1625.6 1835 1625.42 1835.25 1625.39 1835.5 1625.53 1835.75 1625.8 1836 1626.14 1836.25 1626.48 1836.5 1626.77 1836.75 1626.99 1837 1627.13 1837.25 1627.22 1837.5 1627.26 1837.75 1627.28 1838 1627.27 1838.25 1627.25 1838.5 1627.22 1838.75 1627.19 1839 1627.15 1839.25 1627.11 1839.5 1627.09 1839.75 1627.08 1840 1627.09 1840.25 1627.12 1840.5 1627.16 1840.75 1627.2 1841 1627.24 1841.25 1627.26 1841.5 1627.28 1841.75 1627.29 1842 1627.29 1842.25 1627.29 1842.5 1627.28 1842.75 1627.28 1843 1627.27 1843.25 1627.26 1843.5 1627.25 1843.75 1627.24 1844 1627.23 1844.25 1627.22 1844.5 1627.18 1844.75 1627.13 1845 1627.09 1845.25 1627.07 1845.5 1627.07 1845.75 1627.09 1846 1627.14 1846.25 1627.18 1846.5 1627.23 1846.75 1627.26 1847 1627.28 1847.25 1627.29 1847.5 1627.3 1847.75 1627.3 1848 1627.3 1848.25 1627.3 1848.5 1627.3 1848.75 1627.3 1849 1627.3 1849.25 1627.3 1849.5 1627.3 1849.75 1627.29 1850 1627.28 1850.25 1627.27 1850.5 1627.24 1850.75 1627.2 1851 1627.15 1851.25 1627.08 1851.5 1626.99 1851.75 1626.88 1852 1626.78 1852.25 1626.69 1852.5 1626.62 1852.75 1626.58 1853 1626.58 1853.25 1626.62 1853.5 1626.69 1853.75 1626.79 1854 1626.89 1854.25 1626.99 1854.5 1627.08 1854.75 1627.15 1855 1627.21 1855.25 1627.24 1855.5 1627.27 1855.75 1627.28 1856 1627.29 1856.25 1627.3 1856.5 1627.3 1856.75 1627.3 1857 1627.29 1857.25 1627.28 1857.5 1627.23 1857.75 1627.15 1858 1627.04 1858.25 1626.97 1858.5 1626.66 1858.75 1626.21 1859 1625.71 1859.25 1625.33 1859.5 1625.2 1859.75 1625.4 1860 1625.83 1860.25 1626.33 1860.5 1626.75 1860.75 1627.04 1861 1627.19 1861.25 1627.21 1861.5 1627.23 1861.75 1627.25 1862 1627.27 1862.25 1627.28 1862.5 1627.28 1862.75 1627.25 1863 1627.17 1863.25 1627.01 1863.5 1626.78 1863.75 1626.49 1864 1626.24 1864.25 1626.12 1864.5 1626.19 1864.75 1626.41 1865 1626.7 1865.25 1626.95 1865.5 1627.13 1865.75 1627.23 1866 1627.28 1866.25 1627.29 1866.5 1627.3 1866.75 1627.3 1867 1627.3 1867.25 1627.3 1867.5 1627.3 1867.75 1627.3 1868 1627.3 1868.25 1627.3 1868.5 1627.3" fill="none" stroke="#000" stroke-width="2.4" stroke-linejoin="round"/>
<path d="M1521.1 1625.38 L1521.8 1624.26 L1522.5 1623.44 L1523.6 1623.34 L1524.7 1623.64 L1525.6 1624.46 L1526.4 1625.38 Z" fill="#000"/>
<path d="M1526.4 1624.07 L1527.1 1622.18 L1527.8 1620.8 L1528.9 1620.62 L1530 1621.14 L1530.9 1622.52 L1531.7 1624.07 Z" fill="#000"/>
<path d="M1532.1 1622.76 L1532.8 1619.5 L1533.5 1617.13 L1534.6 1616.84 L1535.7 1617.72 L1536.6 1620.09 L1537.4 1622.76 Z" fill="#000"/>
<path d="M1538 1621.5 L1538.7 1615.53 L1539.4 1611.19 L1540.5 1610.65 L1541.6 1612.28 L1542.5 1616.62 L1543.3 1621.5 Z" fill="#000"/>
<path d="M1544.6 1620.88 L1545.3 1609.94 L1546 1601.98 L1547.1 1600.99 L1548.2 1603.97 L1549.1 1611.93 L1549.9 1620.88 Z" fill="#000"/>
<path d="M1551.6 1621.17 L1552.3 1604.44 L1553 1592.27 L1554.1 1590.75 L1555.2 1595.31 L1556.1 1607.48 L1556.9 1621.17 Z" fill="#000"/>
<path d="M1559.9 1621.53 L1560.6 1601.82 L1561.3 1587.48 L1562.4 1585.69 L1563.5 1591.07 L1564.4 1605.4 L1565.2 1621.53 Z" fill="#000"/>
<path d="M1568 1621.88 L1568.7 1603.21 L1569.4 1589.62 L1570.5 1587.92 L1571.6 1593.02 L1572.5 1606.6 L1573.3 1621.88 Z" fill="#000"/>
<path d="M1578.5 1622.36 L1579.2 1606.72 L1579.9 1595.34 L1581 1593.92 L1582.1 1598.19 L1583 1609.56 L1583.8 1622.36 Z" fill="#000"/>
<path d="M1588 1622.81 L1588.7 1606.12 L1589.4 1593.98 L1590.5 1592.46 L1591.6 1597.02 L1592.5 1609.15 L1593.3 1622.81 Z" fill="#000"/>
<path d="M1600.5 1623.43 L1601.2 1604.71 L1601.9 1591.1 L1603 1589.39 L1604.1 1594.5 L1605 1608.11 L1605.8 1623.43 Z" fill="#000"/>
<path d="M1614.7 1624.18 L1615.4 1608.68 L1616.1 1597.41 L1617.2 1596 L1618.3 1600.23 L1619.2 1611.5 L1620 1624.18 Z" fill="#000"/>
<path d="M1630.5 1625.12 L1631.2 1613.09 L1631.9 1604.34 L1633 1603.25 L1634.1 1606.53 L1635 1615.28 L1635.8 1625.12 Z" fill="#000"/>
<path d="M1648.7 1626.46 L1649.4 1617.6 L1650.1 1611.15 L1651.2 1610.35 L1652.3 1612.76 L1653.2 1619.21 L1654 1626.46 Z" fill="#000"/>
<path d="M1670.2 1627.6 L1670.9 1621.64 L1671.6 1617.3 L1672.7 1616.75 L1673.8 1618.38 L1674.7 1622.72 L1675.5 1627.6 Z" fill="#000"/>
<path d="M1695.1 1627.6 L1695.8 1622.53 L1696.5 1618.85 L1697.6 1618.39 L1698.7 1619.77 L1699.6 1623.46 L1700.4 1627.6 Z" fill="#000"/>
<path d="M1725.8 1627.6 L1726.5 1622.53 L1727.2 1618.85 L1728.3 1618.39 L1729.4 1619.77 L1730.3 1623.46 L1731.1 1627.6 Z" fill="#000"/>
<path d="M1762.7 1627.6 L1763.4 1622.63 L1764.1 1619.01 L1765.2 1618.55 L1766.3 1619.91 L1767.2 1623.53 L1768 1627.6 Z" fill="#000"/>
<path d="M1808.7 1627.6 L1809.4 1622.72 L1810.1 1619.16 L1811.2 1618.72 L1812.3 1620.05 L1813.2 1623.6 L1814 1627.6 Z" fill="#000"/>
<line x1="1523.4" y1="1627.6" x2="1523.4" y2="1616" stroke="#000" stroke-width="2.4" stroke-linecap="round"/>
<line x1="1528.7" y1="1627.6" x2="1528.7" y2="1606.6" stroke="#000" stroke-width="2.4" stroke-linecap="round"/>
<line x1="1534.4" y1="1627.6" x2="1534.4" y2="1590.1" stroke="#000" stroke-width="2.4" stroke-linecap="round"/>
<line x1="1540.3" y1="1627.6" x2="1540.3" y2="1557.3" stroke="#000" stroke-width="2.4" stroke-linecap="round"/>
<line x1="1546.9" y1="1627.6" x2="1546.9" y2="1497" stroke="#000" stroke-width="2.4" stroke-linecap="round"/>
<line x1="1553.9" y1="1627.6" x2="1553.9" y2="1426.8" stroke="#000" stroke-width="2.4" stroke-linecap="round"/>
<line x1="1562.2" y1="1627.6" x2="1562.2" y2="1390.7" stroke="#000" stroke-width="2.4" stroke-linecap="round"/>
<line x1="1570.3" y1="1627.6" x2="1570.3" y2="1403.2" stroke="#000" stroke-width="2.4" stroke-linecap="round"/>
<line x1="1580.8" y1="1627.6" x2="1580.8" y2="1440" stroke="#000" stroke-width="2.4" stroke-linecap="round"/>
<line x1="1590.3" y1="1627.6" x2="1590.3" y2="1427.3" stroke="#000" stroke-width="2.4" stroke-linecap="round"/>
<line x1="1602.8" y1="1627.6" x2="1602.8" y2="1402.7" stroke="#000" stroke-width="2.4" stroke-linecap="round"/>
<line x1="1617" y1="1627.6" x2="1617" y2="1441.7" stroke="#000" stroke-width="2.4" stroke-linecap="round"/>
<line x1="1632.8" y1="1627.6" x2="1632.8" y2="1483.8" stroke="#000" stroke-width="2.4" stroke-linecap="round"/>
<line x1="1651" y1="1627.6" x2="1651" y2="1522.2" stroke="#000" stroke-width="2.4" stroke-linecap="round"/>
<line x1="1672.5" y1="1627.6" x2="1672.5" y2="1557.3" stroke="#000" stroke-width="2.4" stroke-linecap="round"/>
<line x1="1697.4" y1="1627.6" x2="1697.4" y2="1568.2" stroke="#000" stroke-width="2.4" stroke-linecap="round"/>
<line x1="1728.1" y1="1627.6" x2="1728.1" y2="1568.2" stroke="#000" stroke-width="2.4" stroke-linecap="round"/>
<line x1="1765" y1="1627.6" x2="1765" y2="1569.3" stroke="#000" stroke-width="2.4" stroke-linecap="round"/>
<line x1="1811" y1="1627.6" x2="1811" y2="1570.4" stroke="#000" stroke-width="2.4" stroke-linecap="round"/>
<line x1="1513.3" y1="1628.6" x2="1869.1" y2="1628.6" stroke="#000" stroke-width="2.6" stroke-linecap="butt"/>
<line x1="1513.3" y1="1627.4" x2="1513.3" y2="1644.3" stroke="#000" stroke-width="2.6" stroke-linecap="round"/>
<text x="1489.36" y="1678.2" font-size="28.6" stroke="#000" stroke-width="0.45">500</text>
<line x1="1631.9" y1="1627.4" x2="1631.9" y2="1644.3" stroke="#000" stroke-width="2.6" stroke-linecap="round"/>
<text x="1599.52" y="1678.2" font-size="28.6" stroke="#000" stroke-width="0.45">1000</text>
<line x1="1750.5" y1="1627.4" x2="1750.5" y2="1644.3" stroke="#000" stroke-width="2.6" stroke-linecap="round"/>
<text x="1718.12" y="1678.2" font-size="28.6" stroke="#000" stroke-width="0.45">1500</text>
<line x1="1869.1" y1="1627.4" x2="1869.1" y2="1644.3" stroke="#000" stroke-width="2.6" stroke-linecap="round"/>
<text x="1837.1" y="1678.2" font-size="28.6" stroke="#000" stroke-width="0.45">2000</text>
<line x1="1869.1" y1="1625.6" x2="1869.1" y2="1628.6" stroke="#000" stroke-width="2.6" stroke-linecap="round"/>
<text x="1669.75" y="1721.8" font-size="28.6" stroke="#000" stroke-width="0.45">m/z</text>
<text x="1498.33" y="1480.6" font-size="28.6" stroke="#000" stroke-width="0.45">+22</text>
<text x="1530.12" y="1377.6" font-size="28.6" stroke="#000" stroke-width="0.45">+20</text>
<text x="1600.33" y="1368.8" font-size="28.6" stroke="#000" stroke-width="0.45">+16</text>
<text x="1625.92" y="1476.3" font-size="28.6" stroke="#000" stroke-width="0.45">+14</text>
<text x="1657.92" y="1524.5" font-size="28.6" stroke="#000" stroke-width="0.45">+12</text>
<text x="1703.33" y="1560.6" font-size="28.6" stroke="#000" stroke-width="0.45">+10</text>
<text x="1792.12" y="1560.6" font-size="28.6" stroke="#000" stroke-width="0.45">+8</text>
<line x1="1612.6" y1="1376.5" x2="1602.8" y2="1401.7" stroke="#8a8a8a" stroke-width="1.6" stroke-dasharray="3.2 2.4"/>
<line x1="1682.8" y1="1537.6" x2="1672.5" y2="1556.3" stroke="#8a8a8a" stroke-width="1.6" stroke-dasharray="3.2 2.4"/>
<text x="1750.5" y="1357.6" font-size="29"><tspan fill="#a58cc0">α-GlcNAc</tspan>-<tspan font-weight="bold">10</tspan></text>
<text x="1750.12" y="1392.8" font-size="29" stroke="#000" stroke-width="0.45">M (Calc.): 14025.2 Da</text>
<text x="1750.12" y="1428" font-size="29" stroke="#000" stroke-width="0.45">M (Obs.): 14024.9 Da</text>
<path d="M1995.4 1625.8 1995.7 1625.79 1996 1625.77 1996.3 1625.73 1996.6 1625.64 1996.9 1625.47 1997.2 1625.21 1997.5 1624.89 1997.8 1624.57 1998.1 1624.34 1998.4 1624.27 1998.7 1624.36 1999 1624.53 1999.3 1624.73 1999.6 1624.9 1999.9 1625.05 2000.2 1625.19 2000.5 1625.32 2000.8 1625.43 2001.1 1625.54 2001.4 1625.62 2001.7 1625.69 2002 1625.73 2002.3 1625.76 2002.6 1625.78 2002.9 1625.79 2003.2 1625.78 2003.5 1625.77 2003.8 1625.75 2004.1 1625.7 2004.4 1625.63 2004.7 1625.53 2005 1625.38 2005.3 1625.21 2005.6 1625.01 2005.9 1624.83 2006.2 1624.69 2006.5 1624.63 2006.8 1624.65 2007.1 1624.75 2007.4 1624.91 2007.7 1625.08 2008 1625.2 2008.3 1625.26 2008.6 1625.21 2008.9 1625.08 2009.2 1624.86 2009.5 1624.61 2009.8 1624.36 2010.1 1624.16 2010.4 1624.05 2010.7 1624.05 2011 1624.15 2011.3 1624.35 2011.6 1624.6 2011.9 1624.86 2012.2 1625.08 2012.5 1625.21 2012.8 1625.21 2013.1 1625.16 2013.4 1625.15 2013.7 1625.22 2014 1625.23 2014.3 1625.15 2014.6 1624.98 2014.9 1624.79 2015.2 1624.65 2015.5 1624.62 2015.8 1624.71 2016.1 1624.88 2016.4 1625.1 2016.7 1625.3 2017 1625.48 2017.3 1625.61 2017.6 1625.7 2017.9 1625.75 2018.2 1625.78 2018.5 1625.79 2018.8 1625.8 2019.1 1625.8 2019.4 1625.8 2019.7 1625.8 2020 1625.8 2020.3 1625.8 2020.6 1625.8 2020.9 1625.8 2021.2 1625.8 2021.5 1625.8 2021.8 1625.8 2022.1 1625.8 2022.4 1625.8 2022.7 1625.8 2023 1625.8 2023.3 1625.8 2023.6 1625.8 2023.9 1625.8 2024.2 1625.79 2024.5 1625.76 2024.8 1625.69 2025.1 1625.5 2025.4 1625.09 2025.7 1624.29 2026 1622.92 2026.3 1620.86 2026.6 1618.19 2026.9 1615.27 2027.2 1612.79 2027.5 1611.54 2027.8 1611.91 2028.1 1613.71 2028.4 1616.35 2028.7 1619.16 2029 1621.62 2029.3 1623.43 2029.6 1624.56 2029.9 1625.13 2030.2 1625.3 2030.5 1625.23 2030.8 1625.03 2031.1 1624.81 2031.4 1624.6 2031.7 1624.4 2032 1624.21 2032.3 1624.03 2032.6 1623.91 2032.9 1623.9 2033.2 1623.95 2033.5 1624.02 2033.8 1624.06 2034.1 1624.06 2034.4 1623.98 2034.7 1623.78 2035 1623.44 2035.3 1622.94 2035.6 1622.27 2035.9 1621.48 2036.2 1620.77 2036.5 1620.46 2036.8 1620.63 2037.1 1621.11 2037.4 1621.68 2037.7 1622.21 2038 1622.51 2038.3 1622.47 2038.6 1622.11 2038.9 1621.69 2039.2 1621.55 2039.5 1621.87 2039.8 1622.54 2040.1 1623.27 2040.4 1623.82 2040.7 1624.13 2041 1624.24 2041.3 1624.19 2041.6 1624.04 2041.9 1623.8 2042.2 1623.5 2042.5 1623.18 2042.8 1622.88 2043.1 1622.69 2043.4 1622.69 2043.7 1622.9 2044 1623.2 2044.3 1623.49 2044.6 1623.7 2044.9 1623.82 2045.2 1623.88 2045.5 1623.94 2045.8 1624.03 2046.1 1624.17 2046.4 1624.29 2046.7 1624.37 2047 1624.33 2047.3 1624.13 2047.6 1623.73 2047.9 1623.31 2048.2 1623.17 2048.5 1623.34 2048.8 1623.59 2049.1 1623.73 2049.4 1623.78 2049.7 1623.83 2050 1623.89 2050.3 1623.92 2050.6 1623.91 2050.9 1623.83 2051.2 1623.66 2051.5 1623.42 2051.8 1623.13 2052.1 1622.8 2052.4 1622.49 2052.7 1622.33 2053 1622.42 2053.3 1622.77 2053.6 1623.25 2053.9 1623.7 2054.2 1624.04 2054.5 1624.24 2054.8 1624.33 2055.1 1624.33 2055.4 1624.27 2055.7 1624.18 2056 1624.05 2056.3 1623.92 2056.6 1623.81 2056.9 1623.7 2057.2 1623.62 2057.5 1623.57 2057.8 1623.6 2058.1 1623.69 2058.4 1623.8 2058.7 1623.9 2059 1623.99 2059.3 1624.05 2059.6 1624.09 2059.9 1624.1 2060.2 1624.08 2060.5 1624.05 2060.8 1623.97 2061.1 1623.87 2061.4 1623.74 2061.7 1623.56 2062 1623.36 2062.3 1623.21 2062.6 1623.18 2062.9 1623.28 2063.2 1623.43 2063.5 1623.57 2063.8 1623.69 2064.1 1623.76 2064.4 1623.79 2064.7 1623.79 2065 1623.79 2065.3 1623.79 2065.6 1623.79 2065.9 1623.79 2066.2 1623.82 2066.5 1623.88 2066.8 1623.93 2067.1 1623.97 2067.4 1624 2067.7 1624.02 2068 1624.03 2068.3 1624.02 2068.6 1624.02 2068.9 1624.02 2069.2 1624.01 2069.5 1623.98 2069.8 1623.94 2070.1 1623.89 2070.4 1623.83 2070.7 1623.78 2071 1623.78 2071.3 1623.8 2071.6 1623.84 2071.9 1623.89 2072.2 1623.95 2072.5 1624.01 2072.8 1624.04 2073.1 1624.01 2073.4 1623.92 2073.7 1623.75 2074 1623.56 2074.3 1623.4 2074.6 1623.34 2074.9 1623.38 2075.2 1623.49 2075.5 1623.7 2075.8 1624.03 2076.1 1624.48 2076.4 1624.95" fill="none" stroke="#000" stroke-width="2.2" stroke-linejoin="round"/>
<line x1="2028.2" y1="1626" x2="2028.2" y2="1492.1" stroke="#000" stroke-width="2.3" stroke-linecap="round"/>
<path d="M1994.9 1634.5 L1994.9 1627 L2077 1627 L2077 1634.5" stroke="#000" stroke-width="2.5" fill="none" stroke-linejoin="round" stroke-linecap="round"/>
<line x1="2035.95" y1="1627" x2="2035.95" y2="1631.6" stroke="#000" stroke-width="2.3" stroke-linecap="butt"/>
<text x="1960.71" y="1665" font-size="24.2" stroke="#000" stroke-width="0.45">10000</text>
<text x="2043.12" y="1665" font-size="24.2" stroke="#000" stroke-width="0.45">20000</text>
<text x="2002.01" y="1704" font-size="22.8" stroke="#000" stroke-width="0.45">M (Da)</text>
<text x="25.05" y="1791.3" font-size="33" font-weight="bold" stroke="#000" stroke-width="0.2">e</text>
<g stroke="#b5f1f8" fill="#b5f1f8" stroke-linecap="round" stroke-linejoin="round">
<line x1="101.5" y1="1862.7" x2="150" y2="1874.4" stroke-width="15"/>
<line x1="150" y1="1874.4" x2="186.85" y2="1865.03" stroke-width="15"/>
<line x1="203.71" y1="1872.18" x2="222.9" y2="1905.7" stroke-width="15"/>
<path d="M101.5 1862.7 L120.37 1907.29 L178.92 1897.7 L223.07 1906.48 L222.73 1904.92 L177.08 1889.1 L129.63 1902.11Z" stroke-width="13"/>
<line x1="67.9" y1="1870.7" x2="101.5" y2="1862.7" stroke-width="15"/>
<text x="25.2" y="1883.2" font-size="24.5" stroke-width="11.5">HO</text>
<line x1="91" y1="1906" x2="125" y2="1904.7" stroke-width="15"/>
<text x="49.3" y="1913.9" font-size="24.5" stroke-width="11.5">HO</text>
<text x="198" y="1871" font-size="24.5" text-anchor="middle" stroke-width="11.5">O</text>
<line x1="222.9" y1="1905.7" x2="261.73" y2="1892.55" stroke-width="15"/>
<text x="273.1" y="1897.5" font-size="24.5" text-anchor="middle" stroke-width="11.5">O</text>
<line x1="178" y1="1893.4" x2="190.3" y2="1918.2" stroke-width="15"/>
<text x="188.1" y="1940.2" font-size="24.5" stroke-width="11.5">OH</text>
</g>
<line x1="101.5" y1="1862.7" x2="150" y2="1874.4" stroke="#000" stroke-width="2.7" stroke-linecap="round"/>
<line x1="150" y1="1874.4" x2="186.85" y2="1865.03" stroke="#000" stroke-width="2.7" stroke-linecap="round"/>
<line x1="203.71" y1="1872.18" x2="222.9" y2="1905.7" stroke="#000" stroke-width="2.7" stroke-linecap="round"/>
<path d="M101.5 1862.7 L120.37 1907.29 L178.92 1897.7 L223.07 1906.48 L222.73 1904.92 L177.08 1889.1 L129.63 1902.11Z" fill="#000" stroke="#000" stroke-width="1" stroke-linejoin="round"/>
<line x1="67.9" y1="1870.7" x2="101.5" y2="1862.7" stroke="#000" stroke-width="2.7" stroke-linecap="round"/>
<text x="25.2" y="1883.2" font-size="24.5" stroke="#000" stroke-width="0.45">HO</text>
<line x1="91" y1="1906" x2="125" y2="1904.7" stroke="#000" stroke-width="2.7" stroke-linecap="round"/>
<text x="49.3" y="1913.9" font-size="24.5" stroke="#000" stroke-width="0.45">HO</text>
<text x="198" y="1871" font-size="24.5" text-anchor="middle" stroke="#000" stroke-width="0.45">O</text>
<line x1="222.9" y1="1905.7" x2="261.73" y2="1892.55" stroke="#000" stroke-width="2.7" stroke-linecap="round"/>
<text x="273.1" y="1897.5" font-size="24.5" text-anchor="middle" stroke="#000" stroke-width="0.45">O</text>
<line x1="178" y1="1893.4" x2="190.3" y2="1918.2" stroke="#000" stroke-width="2.7" stroke-linecap="round"/>
<text x="188.1" y="1940.2" font-size="24.5" stroke="#000" stroke-width="0.45">OH</text>
<text x="160.6" y="1929.2" font-size="23" stroke="#000" stroke-width="0.45">2</text>
<text x="142.4" y="1851.3" font-size="23" stroke="#000" stroke-width="0.45">5</text>
<ellipse cx="209.4" cy="1931.6" rx="32.3" ry="23.6" fill="none" stroke="#e0262a" stroke-width="3.6" stroke-dasharray="8.5 5.5"/>
<ellipse cx="149" cy="1874" rx="16.5" ry="16.5" fill="none" stroke="#e0262a" stroke-width="3.6" stroke-dasharray="8.5 5.5"/>
<rect x="180.5" y="1962.9" width="174" height="45.3" rx="14" ry="14" fill="none" stroke="#000" stroke-width="2.6"/>
<text x="268.7" y="1993.7" font-size="24.7" text-anchor="middle" textLength="147.6" lengthAdjust="spacingAndGlyphs" stroke="#000" stroke-width="0.45">H2B(98–125)</text>
<line x1="135.7" y1="1985.1" x2="180.5" y2="1985.1" stroke="#000" stroke-width="2.6" stroke-linecap="round"/>
<line x1="135.7" y1="1985.1" x2="120.34" y2="1957.92" stroke="#000" stroke-width="2.6" stroke-linecap="round"/>
<line x1="137.84" y1="1978.72" x2="125.43" y2="1956.77" stroke="#000" stroke-width="2.6" stroke-linecap="round"/>
<text x="113.2" y="1954.1" font-size="24.5" text-anchor="middle" stroke="#000" stroke-width="0.45">O</text>
<path d="M135.7 1985.1 L112.2 2023.6 L67.2 2024.2 L51.5 2051" stroke="#000" stroke-width="2.6" fill="none" stroke-linejoin="round" stroke-linecap="round"/>
<line x1="112.2" y1="2023.6" x2="125.9" y2="2048.4" stroke="#000" stroke-width="2.6" stroke-linecap="round"/>
<text x="16.9" y="2072.5" font-size="24.5" stroke="#000" stroke-width="0.45">HS</text>
<text x="125.3" y="2072.2" font-size="24.5" stroke="#000" stroke-width="0.45">NH<tspan font-size="19" dy="5.5">2</tspan></text>
<text x="15.5" y="2004.7" font-size="28.6" textLength="72.5" lengthAdjust="spacingAndGlyphs" fill="#c4262b" stroke="#c4262b" stroke-width="0.45">A97C</text>
<line x1="354.5" y1="1984.8" x2="398.1" y2="1984.8" stroke="#000" stroke-width="2.6" stroke-linecap="round"/>
<line x1="398.1" y1="1984.8" x2="414.21" y2="1957.58" stroke="#000" stroke-width="2.6" stroke-linecap="round"/>
<line x1="396.09" y1="1978.38" x2="409.15" y2="1956.32" stroke="#000" stroke-width="2.6" stroke-linecap="round"/>
<text x="421.6" y="1953.9" font-size="24.5" text-anchor="middle" stroke="#000" stroke-width="0.45">O</text>
<line x1="398.1" y1="1984.8" x2="412.7" y2="2009" stroke="#000" stroke-width="2.6" stroke-linecap="round"/>
<text x="412.4" y="2032.5" font-size="24.5" stroke="#000" stroke-width="0.45">NH<tspan font-size="19" dy="5.5">2</tspan></text>
<path d="M285.6 1894.2 L318.1 1916.6 L318.1 1962.9" stroke="#000" stroke-width="2.6" fill="none" stroke-linejoin="round" stroke-linecap="round"/>
<text x="340.9" y="1945.4" font-size="28.6" textLength="61" lengthAdjust="spacingAndGlyphs" fill="#3b8f77" stroke="#3b8f77" stroke-width="0.45">S112</text>
<g stroke="#b5f1f8" fill="#b5f1f8" stroke-linecap="round" stroke-linejoin="round">
<line x1="1095.2" y1="1869.5" x2="1143.7" y2="1881.2" stroke-width="15"/>
<line x1="1143.7" y1="1881.2" x2="1180.55" y2="1871.83" stroke-width="15"/>
<line x1="1197.41" y1="1878.98" x2="1216.6" y2="1912.5" stroke-width="15"/>
<path d="M1095.2 1869.5 L1114.07 1914.09 L1172.62 1904.5 L1216.77 1913.28 L1216.43 1911.72 L1170.78 1895.9 L1123.33 1908.91Z" stroke-width="13"/>
<line x1="1061.6" y1="1877.5" x2="1095.2" y2="1869.5" stroke-width="15"/>
<text x="1018.9" y="1890" font-size="24.5" stroke-width="11.5">HO</text>
<line x1="1084.7" y1="1912.8" x2="1118.7" y2="1911.5" stroke-width="15"/>
<text x="1043" y="1920.7" font-size="24.5" stroke-width="11.5">HO</text>
<text x="1191.7" y="1877.8" font-size="24.5" text-anchor="middle" stroke-width="11.5">O</text>
<line x1="1216.6" y1="1912.5" x2="1255.43" y2="1899.35" stroke-width="15"/>
<text x="1266.8" y="1904.3" font-size="24.5" text-anchor="middle" stroke-width="11.5">O</text>
<line x1="1171.7" y1="1900.2" x2="1184" y2="1925" stroke-width="15"/>
<text x="1181.8" y="1947" font-size="24.5" stroke-width="11.5">OH</text>
</g>
<line x1="1095.2" y1="1869.5" x2="1143.7" y2="1881.2" stroke="#000" stroke-width="2.7" stroke-linecap="round"/>
<line x1="1143.7" y1="1881.2" x2="1180.55" y2="1871.83" stroke="#000" stroke-width="2.7" stroke-linecap="round"/>
<line x1="1197.41" y1="1878.98" x2="1216.6" y2="1912.5" stroke="#000" stroke-width="2.7" stroke-linecap="round"/>
<path d="M1095.2 1869.5 L1114.07 1914.09 L1172.62 1904.5 L1216.77 1913.28 L1216.43 1911.72 L1170.78 1895.9 L1123.33 1908.91Z" fill="#000" stroke="#000" stroke-width="1" stroke-linejoin="round"/>
<line x1="1061.6" y1="1877.5" x2="1095.2" y2="1869.5" stroke="#000" stroke-width="2.7" stroke-linecap="round"/>
<text x="1018.9" y="1890" font-size="24.5" stroke="#000" stroke-width="0.45">HO</text>
<line x1="1084.7" y1="1912.8" x2="1118.7" y2="1911.5" stroke="#000" stroke-width="2.7" stroke-linecap="round"/>
<text x="1043" y="1920.7" font-size="24.5" stroke="#000" stroke-width="0.45">HO</text>
<text x="1191.7" y="1877.8" font-size="24.5" text-anchor="middle" stroke="#000" stroke-width="0.45">O</text>
<line x1="1216.6" y1="1912.5" x2="1255.43" y2="1899.35" stroke="#000" stroke-width="2.7" stroke-linecap="round"/>
<text x="1266.8" y="1904.3" font-size="24.5" text-anchor="middle" stroke="#000" stroke-width="0.45">O</text>
<line x1="1171.7" y1="1900.2" x2="1184" y2="1925" stroke="#000" stroke-width="2.7" stroke-linecap="round"/>
<text x="1181.8" y="1947" font-size="24.5" stroke="#000" stroke-width="0.45">OH</text>
<text x="1154.3" y="1936" font-size="23" stroke="#000" stroke-width="0.45">2</text>
<text x="1136.1" y="1858.1" font-size="23" stroke="#000" stroke-width="0.45">5</text>
<ellipse cx="1203.1" cy="1938.4" rx="32.3" ry="23.6" fill="none" stroke="#e0262a" stroke-width="3.6" stroke-dasharray="8.5 5.5"/>
<ellipse cx="1142.7" cy="1880.8" rx="16.5" ry="16.5" fill="none" stroke="#e0262a" stroke-width="3.6" stroke-dasharray="8.5 5.5"/>
<rect x="1182.4" y="1969.7" width="174.2" height="44.9" rx="13" ry="13" fill="none" stroke="#000" stroke-width="2.6"/>
<text x="1269.5" y="2000" font-size="24.7" text-anchor="middle" textLength="133.5" lengthAdjust="spacingAndGlyphs" stroke="#000" stroke-width="0.45">H2B(1–125)</text>
<line x1="1146.8" y1="1993.3" x2="1182.4" y2="1993.3" stroke="#000" stroke-width="2.6" stroke-linecap="round"/>
<text x="1097.9" y="2002.1" font-size="24.5" stroke="#000" stroke-width="0.45">H<tspan font-size="19" dy="5.5">2</tspan><tspan dy="-5.5">N</tspan></text>
<line x1="1356.6" y1="1990" x2="1399.4" y2="1990" stroke="#000" stroke-width="2.6" stroke-linecap="round"/>
<line x1="1399.4" y1="1990" x2="1415.66" y2="1964.26" stroke="#000" stroke-width="2.6" stroke-linecap="round"/>
<line x1="1397.58" y1="1983.53" x2="1410.63" y2="1962.86" stroke="#000" stroke-width="2.6" stroke-linecap="round"/>
<text x="1423.4" y="1960.8" font-size="24.5" text-anchor="middle" stroke="#000" stroke-width="0.45">O</text>
<line x1="1399.4" y1="1990" x2="1415.1" y2="2014.6" stroke="#000" stroke-width="2.6" stroke-linecap="round"/>
<text x="1414.2" y="2037.5" font-size="24.5" stroke="#000" stroke-width="0.45">NH<tspan font-size="19" dy="5.5">2</tspan></text>
<path d="M1225.1 2014.6 L1247 2054.3 L1278.3 2054.3" stroke="#000" stroke-width="2.6" fill="none" stroke-linejoin="round" stroke-linecap="round"/>
<path d="M1310.7 2014.6 L1333.7 2054.3 L1363.9 2054.3" stroke="#000" stroke-width="2.6" fill="none" stroke-linejoin="round" stroke-linecap="round"/>
<text x="1284.3" y="2062.6" font-size="24.5" stroke="#000" stroke-width="0.45">SH</text>
<text x="1369.9" y="2062.6" font-size="24.5" stroke="#000" stroke-width="0.45">SH</text>
<text x="1212.4" y="2096" font-size="28.6" textLength="72.5" lengthAdjust="spacingAndGlyphs" fill="#c4262b" stroke="#c4262b" stroke-width="0.45">A58C</text>
<text x="1338.7" y="2096" font-size="28.6" textLength="72.5" lengthAdjust="spacingAndGlyphs" fill="#c4262b" stroke="#c4262b" stroke-width="0.45">A97C</text>
<path d="M1279.3 1901 L1311.9 1924.6 L1311.9 1969.7" stroke="#000" stroke-width="2.6" fill="none" stroke-linejoin="round" stroke-linecap="round"/>
<text x="1335.9" y="1953.4" font-size="28.6" textLength="61" lengthAdjust="spacingAndGlyphs" fill="#3b8f77" stroke="#3b8f77" stroke-width="0.45">S112</text>
<path d="M474.5 2054.9 474.85 2054.59 475.2 2053.92 475.55 2052.57 475.9 2050.3 476.25 2047.85 476.6 2047.16 476.95 2048.87 477.3 2051.31 477.65 2053.05 478 2053.94 478.35 2054.31 478.7 2054.41 479.05 2054.42 479.4 2054.41 479.75 2054.35 480.1 2054.14 480.45 2053.66 480.8 2052.97 481.15 2052.4 481.5 2052.23 481.85 2052.35 482.2 2052.4 482.55 2052.23 482.9 2051.91 483.25 2051.56 483.6 2051.34 483.95 2051.44 484.3 2051.95 484.65 2052.8 485 2053.69 485.35 2054.34 485.7 2054.5 486.05 2053.94 486.4 2052.86 486.75 2052.3 487.1 2052.8 487.45 2053.12 487.8 2052.03 488.15 2050.51 488.5 2050.25 488.85 2050.94 489.2 2051.69 489.55 2052.4 489.9 2053.1 490.25 2053.72 490.6 2054.21 490.95 2054.54 491.3 2054.63 491.65 2054.49 492 2054.33 492.35 2054.4 492.7 2054.68 493.05 2054.93 493.4 2055.05 493.75 2055.06 494.1 2055.02 494.45 2054.91 494.8 2054.7 495.15 2054.36 495.5 2053.89 495.85 2053.35 496.2 2052.85 496.55 2052.55 496.9 2052.53 497.25 2052.82 497.6 2053.3 497.95 2053.84 498.3 2054.32 498.65 2054.67 499 2054.85 499.35 2054.85 499.7 2054.66 500.05 2054.44 500.4 2054.44 500.75 2054.67 501.1 2054.91 501.45 2054.92 501.8 2054.51 502.15 2053.36 502.5 2051.39 502.85 2049.37 503.2 2048.54 503.55 2048.97 503.9 2049.34 504.25 2048.69 504.6 2047.57 504.95 2047.2 505.3 2047.99 505.65 2049.44 506 2050.86 506.35 2051.99 506.7 2052.86 507.05 2053.58 507.4 2054.15 507.75 2054.56 508.1 2054.83 508.45 2054.98 508.8 2055.05 509.15 2055.08 509.5 2055.09 509.85 2055.1 510.2 2055.1 510.55 2055.1 510.9 2055.1 511.25 2055.09 511.6 2055.07 511.95 2055 512.3 2054.8 512.65 2054.46 513 2054.14 513.35 2054.01 513.7 2053.95 514.05 2053.78 514.4 2053.53 514.75 2053.32 515.1 2053.25 515.45 2053.35 515.8 2053.59 516.15 2053.91 516.5 2054.22 516.85 2054.46 517.2 2054.64 517.55 2054.8 517.9 2054.95 518.25 2055.04 518.6 2055.08 518.95 2055.09 519.3 2055.1 519.65 2055.09 520 2055.06 520.35 2054.98 520.7 2054.85 521.05 2054.67 521.4 2054.52 521.75 2054.39 522.1 2054.16 522.45 2053.65 522.8 2052.75 523.15 2051.58 523.5 2050.51 523.85 2050 524.2 2050.25 524.55 2051.06 524.9 2051.97 525.25 2052.52 525.6 2052.25 525.95 2050.71 526.3 2047.75 526.65 2044.12 527 2041.44 527.35 2041.03 527.7 2042.75 528.05 2045.33 528.4 2047.63 528.75 2049.36 529.1 2050.76 529.45 2052.08 529.8 2053.27 530.15 2054.12 530.5 2054.63 530.85 2054.89 531.2 2054.98 531.55 2054.95 531.9 2054.76 532.25 2054.38 532.6 2053.85 532.95 2053.31 533.3 2053.01 533.65 2053.11 534 2053.55 534.35 2054.12 534.7 2054.59 535.05 2054.89 535.4 2055.02 535.75 2055.07 536.1 2055.08 536.45 2055.08 536.8 2055.08 537.15 2055.09 537.5 2055.1 537.85 2055.1 538.2 2055.1 538.55 2055.09 538.9 2055.07 539.25 2055.03 539.6 2054.96 539.95 2054.84 540.3 2054.65 540.65 2054.45 541 2054.29 541.35 2054.24 541.7 2054.32 542.05 2054.48 542.4 2054.65 542.75 2054.74 543.1 2054.74 543.45 2054.71 543.8 2054.73 544.15 2054.82 544.5 2054.93 544.85 2054.99 545.2 2054.99 545.55 2054.92 545.9 2054.79 546.25 2054.63 546.6 2054.45 546.95 2054.3 547.3 2054.23 547.65 2054.25 548 2054.35 548.35 2054.51 548.7 2054.67 549.05 2054.8 549.4 2054.9 549.75 2054.97 550.1 2055.02 550.45 2055.05 550.8 2055.07 551.15 2055.08 551.5 2055.09 551.85 2055.1 552.2 2055.1 552.55 2055.1 552.9 2055.1 553.25 2055.1 553.6 2055.1 553.95 2055.1 554.3 2055.1 554.65 2055.09 555 2055.09 555.35 2055.08 555.7 2055.06 556.05 2055.05 556.4 2055.03 556.75 2055 557.1 2054.98 557.45 2054.95 557.8 2054.89 558.15 2054.77 558.5 2054.56 558.85 2054.24 559.2 2053.81 559.55 2053.31 559.9 2052.81 560.25 2052.37 560.6 2052.02 560.95 2051.63 561.3 2050.82 561.65 2049.1 562 2046.36 562.35 2043.45 562.7 2041.8 563.05 2042.28 563.4 2044.35 563.75 2046.78 564.1 2048.79 564.45 2050.34 564.8 2051.65 565.15 2052.79 565.5 2053.71 565.85 2054.35 566.2 2054.74 566.55 2054.94 566.9 2055.02 567.25 2055.03 567.6 2055 567.95 2054.93 568.3 2054.84 568.65 2054.72 569 2054.59 569.35 2054.47 569.7 2054.39 570.05 2054.38 570.4 2054.47 570.75 2054.62 571.1 2054.79 571.45 2054.93 571.8 2055.02 572.15 2055.07 572.5 2055.09 572.85 2055.09 573.2 2055.08 573.55 2055.05 573.9 2054.96 574.25 2054.77 574.6 2054.43 574.95 2053.92 575.3 2053.28 575.65 2052.64 576 2052.16 576.35 2051.98 576.7 2052.13 577.05 2052.53 577.4 2053.04 577.75 2053.56 578.1 2054.01 578.45 2054.37 578.8 2054.63 579.15 2054.8 579.5 2054.88 579.85 2054.89 580.2 2054.82 580.55 2054.68 580.9 2054.51 581.25 2054.33 581.6 2054.18 581.95 2054.11 582.3 2054.11 582.65 2054.19 583 2054.3 583.35 2054.41 583.7 2054.5 584.05 2054.57 584.4 2054.63 584.75 2054.69 585.1 2054.76 585.45 2054.83 585.8 2054.91 586.15 2054.97 586.5 2055.02 586.85 2055.05 587.2 2055.08 587.55 2055.09 587.9 2055.09 588.25 2055.1 588.6 2055.1 588.95 2055.1 589.3 2055.1 589.65 2055.1 590 2055.1 590.35 2055.1 590.7 2055.1 591.05 2055.1 591.4 2055.09 591.75 2055.09 592.1 2055.09 592.45 2055.09 592.8 2055.09 593.15 2055.07 593.5 2055.03 593.85 2054.96 594.2 2054.83 594.55 2054.65 594.9 2054.42 595.25 2054.19 595.6 2054.02 595.95 2053.97 596.3 2054.04 596.65 2054.22 597 2054.45 597.35 2054.68 597.7 2054.85 598.05 2054.97 598.4 2055.04 598.75 2055.08 599.1 2055.09 599.45 2055.1 599.8 2055.1 600.15 2055.1 600.5 2055.1 600.85 2055.1 601.2 2055.1 601.55 2055.1 601.9 2055.1 602.25 2055.1 602.6 2055.1 602.95 2055.1 603.3 2055.1 603.65 2055.1 604 2055.09 604.35 2055.07 604.7 2055.04 605.05 2055 605.4 2054.93 605.75 2054.85 606.1 2054.76 606.45 2054.66 606.8 2054.59 607.15 2054.55 607.5 2054.57 607.85 2054.64 608.2 2054.74 608.55 2054.85 608.9 2054.94 609.25 2055.01 609.6 2055.06 609.95 2055.08 610.3 2055.09 610.65 2055.1 611 2055.1 611.35 2055.1 611.7 2055.1 612.05 2055.1 612.4 2055.1 612.75 2055.1 613.1 2055.1 613.45 2055.1 613.8 2055.1 614.15 2055.1 614.5 2055.1 614.85 2055.1 615.2 2055.1 615.55 2055.09 615.9 2055.07 616.25 2055.04 616.6 2054.99 616.95 2054.91 617.3 2054.81 617.65 2054.7 618 2054.61 618.35 2054.56 618.7 2054.51 619.05 2054.42 619.4 2054.19 619.75 2053.72 620.1 2052.91 620.45 2051.6 620.8 2049.6 621.15 2046.99 621.5 2044.54 621.85 2043.38 622.2 2044.02 622.55 2045.88 622.9 2047.95 623.25 2049.67 623.6 2051.04 623.95 2052.2 624.3 2053.19 624.65 2053.97 625 2054.5 625.35 2054.81 625.7 2054.98 626.05 2055.05 626.4 2055.08 626.75 2055.09 627.1 2055.07 627.45 2055 627.8 2054.86 628.15 2054.63 628.5 2054.37 628.85 2054.2 629.2 2054.22 629.55 2054.42 629.9 2054.69 630.25 2054.9 630.6 2055.02 630.95 2055.08 631.3 2055.09 631.65 2055.09 632 2055.07 632.35 2055.03 632.7 2054.96 633.05 2054.84 633.4 2054.67 633.75 2054.46 634.1 2054.25 634.45 2054.08 634.8 2054.01 635.15 2054.06 635.5 2054.21 635.85 2054.42 636.2 2054.64 636.55 2054.82 636.9 2054.94 637.25 2055.02 637.6 2055.07 637.95 2055.09 638.3 2055.1 638.65 2055.1 639 2055.1 639.35 2055.1 639.7 2055.1 640.05 2055.1 640.4 2055.1 640.75 2055.1 641.1 2055.1 641.45 2055.1 641.8 2055.1 642.15 2055.1 642.5 2055.1 642.85 2055.1 643.2 2055.1 643.55 2055.08 643.9 2055.03 644.25 2054.92 644.6 2054.7 644.95 2054.4 645.3 2054.13 645.65 2054.04 646 2054.18 646.35 2054.47 646.7 2054.75 647.05 2054.93 647.4 2054.98 647.75 2054.91 648.1 2054.75 648.45 2054.51 648.8 2054.29 649.15 2054.17 649.5 2054.21 649.85 2054.38 650.2 2054.55 650.55 2054.53 650.9 2054.07 651.25 2053.17 651.6 2052.51 651.95 2052.73 652.3 2053.49 652.65 2054.11 653 2054.46 653.35 2054.66 653.7 2054.72 654.05 2054.6 654.4 2054.26 654.75 2053.72 655.1 2053.1 655.45 2052.6 655.8 2052.42 656.15 2052.57 656.5 2052.95 656.85 2053.33 657.2 2053.55 657.55 2053.59 657.9 2053.54 658.25 2053.51 658.6 2053.58 658.95 2053.72 659.3 2053.9 659.65 2054.05 660 2054.14 660.35 2054.18 660.7 2054.22 661.05 2054.28 661.4 2054.4 661.75 2054.55 662.1 2054.72 662.45 2054.86 662.8 2054.97 663.15 2055.03 663.5 2055.07 663.85 2055.09 664.2 2055.1 664.55 2055.1 664.9 2055.1 665.25 2055.1 665.6 2055.09 665.95 2055.07 666.3 2055.03 666.65 2054.92 667 2054.66 667.35 2054.22 667.7 2053.77 668.05 2053.56 668.4 2053.59 668.75 2053.63 669.1 2053.62 669.45 2053.6 669.8 2053.59 670.15 2053.61 670.5 2053.8 670.85 2054.18 671.2 2054.55 671.55 2054.8 671.9 2054.94 672.25 2055.03 672.6 2055.07 672.95 2055.09 673.3 2055.1 673.65 2055.1 674 2055.1 674.35 2055.1 674.7 2055.1 675.05 2055.1 675.4 2055.1 675.75 2055.1 676.1 2055.1 676.45 2055.09 676.8 2055.07 677.15 2055.02 677.5 2054.91 677.85 2054.68 678.2 2054.3 678.55 2053.74 678.9 2053.03 679.25 2052.3 679.6 2051.72 679.95 2051.46 680.3 2051.6 680.65 2052.08 681 2052.77 681.35 2053.45 681.7 2053.98 682.05 2054.3 682.4 2054.46 682.75 2054.59 683.1 2054.76 683.45 2054.92 683.8 2055.03 684.15 2055.08 684.5 2055.1 684.85 2055.1 685.2 2055.1 685.55 2055.1 685.9 2055.1 686.25 2055.1 686.6 2055.1 686.95 2055.09 687.3 2055.08 687.65 2055.06 688 2055.03 688.35 2054.97 688.7 2054.91 689.05 2054.84 689.4 2054.81 689.75 2054.8 690.1 2054.84 690.45 2054.9 690.8 2054.97 691.15 2055.03 691.5 2055.06 691.85 2055.08 692.2 2055.09 692.55 2055.1 692.9 2055.1 693.25 2055.1 693.6 2055.1 693.95 2055.1 694.3 2055.1 694.65 2055.1 695 2055.1 695.35 2055.1 695.7 2055.1 696.05 2055.1 696.4 2055.1 696.75 2055.1 697.1 2055.09 697.45 2055.08 697.8 2055.07 698.15 2055.05 698.5 2055.02 698.85 2055.01 699.2 2055.01 699.55 2055.02 699.9 2055.04 700.25 2055.06 700.6 2055.08 700.95 2055.08 701.3 2055.08 701.65 2055.06 702 2055.03 702.35 2054.99 702.7 2054.95 703.05 2054.93 703.4 2054.92 703.75 2054.88 704.1 2054.77 704.45 2054.52 704.8 2054.09 705.15 2053.55 705.5 2053.03 705.85 2052.68 706.2 2052.58 706.55 2052.72 706.9 2052.94 707.25 2053.12 707.6 2053.15 707.95 2052.87 708.3 2052.05 708.65 2051.23 709 2051.58 709.35 2052.8 709.7 2053.63 710.05 2053.92 710.4 2053.96 710.75 2053.96 711.1 2054.01 711.45 2054.18 711.8 2054.42 712.15 2054.67 712.5 2054.87 712.85 2055 713.2 2055.05 713.55 2055.06 713.9 2055.03 714.25 2054.97 714.6 2054.89 714.95 2054.81 715.3 2054.72 715.65 2054.64 716 2054.5 716.35 2054.26 716.7 2053.98 717.05 2053.82 717.4 2053.91 717.75 2054.13 718.1 2054.2 718.45 2054.04 718.8 2053.79 719.15 2053.63 719.5 2053.73 719.85 2054.02 720.2 2054.22 720.55 2054.34 720.9 2054.48 721.25 2054.63 721.6 2054.76 721.95 2054.84 722.3 2054.91 722.65 2054.98 723 2055.05 723.35 2055.08 723.7 2055.1 724.05 2055.1 724.4 2055.1 724.75 2055.1 725.1 2055.1 725.45 2055.1 725.8 2055.1 726.15 2055.1 726.5 2055.1 726.85 2055.1 727.2 2055.1 727.55 2055.1 727.9 2055.1 728.25 2055.1 728.6 2055.1 728.95 2055.1 729.3 2055.1 729.65 2055.1 730 2055.1 730.35 2055.1 730.7 2055.1 731.05 2055.1 731.4 2055.1 731.75 2055.1 732.1 2055.1 732.45 2055.1 732.8 2055.1 733.15 2055.1 733.5 2055.1 733.85 2055.1 734.2 2055.1 734.55 2055.1 734.9 2055.1 735.25 2055.08 735.6 2055 735.95 2054.8 736.3 2054.51 736.65 2054.37 737 2054.52 737.35 2054.78 737.7 2054.93 738.05 2054.88 738.4 2054.68 738.75 2054.34 739.1 2053.89 739.45 2053.3 739.8 2052.52 740.15 2051.47 740.5 2050.31 740.85 2049.48 741.2 2049.42 741.55 2050.13 741.9 2051.19 742.25 2052.16 742.6 2052.92 742.95 2053.52 743.3 2054.02 743.65 2054.43 744 2054.73 744.35 2054.91 744.7 2055.02 745.05 2055.07 745.4 2055.09 745.75 2055.09 746.1 2055.09 746.45 2055.08 746.8 2055.06 747.15 2055.04 747.5 2055.02 747.85 2055.02 748.2 2055.03 748.55 2055.05 748.9 2055.07 749.25 2055.08 749.6 2055.09 749.95 2055.1 750.3 2055.1 750.65 2055.1 751 2055.1 751.35 2055.1 751.7 2055.1 752.05 2055.1 752.4 2055.1 752.75 2055.1 753.1 2055.1 753.45 2055.1 753.8 2055.1 754.15 2055.1 754.5 2055.09 754.85 2055.07 755.2 2055 755.55 2054.78 755.9 2054.35 756.25 2053.77 756.6 2053.29 756.95 2053.02 757.3 2052.78 757.65 2052.47 758 2052.22 758.35 2052.2 758.7 2052.47 759.05 2052.96 759.4 2053.54 759.75 2054.08 760.1 2054.5 760.45 2054.78 760.8 2054.94 761.15 2055 761.5 2055 761.85 2054.98 762.2 2054.98 762.55 2055.02 762.9 2055.06 763.25 2055.09 763.6 2055.1 763.95 2055.1 764.3 2055.1 764.65 2055.1 765 2055.1 765.35 2055.1 765.7 2055.1 766.05 2055.1 766.4 2055.1 766.75 2055.1 767.1 2055.1 767.45 2055.1 767.8 2055.1 768.15 2055.1 768.5 2055.09 768.85 2055.08 769.2 2055.06 769.55 2055.03 769.9 2054.98 770.25 2054.92 770.6 2054.83 770.95 2054.75 771.3 2054.68 771.65 2054.63 772 2054.63 772.35 2054.66 772.7 2054.73 773.05 2054.81 773.4 2054.88 773.75 2054.9 774.1 2054.85 774.45 2054.7 774.8 2054.44 775.15 2054.14 775.5 2053.91 775.85 2053.86 776.2 2054.02 776.55 2054.31 776.9 2054.61 777.25 2054.85 777.6 2054.99 777.95 2055.06 778.3 2055.09 778.65 2055.1 779 2055.1 779.35 2055.1 779.7 2055.1 780.05 2055.1 780.4 2055.1 780.75 2055.1 781.1 2055.09 781.45 2055.08 781.8 2055.04 782.15 2055.01 782.5 2055 782.85 2055.03 783.2 2055.07 783.55 2055.09 783.9 2055.1 784.25 2055.1 784.6 2055.1 784.95 2055.1 785.3 2055.1 785.65 2055.1 786 2055.1 786.35 2055.1 786.7 2055.09 787.05 2055.07 787.4 2055.02 787.75 2054.92 788.1 2054.74 788.45 2054.5 788.8 2054.24 789.15 2054.06 789.5 2054.03 789.85 2054.16 790.2 2054.33 790.55 2054.41 790.9 2054.44 791.25 2054.61 791.6 2054.88 791.95 2055.04 792.3 2055.09 792.65 2055.1 793 2055.09 793.35 2055.08 793.7 2055.07 794.05 2055.03 794.4 2054.99 794.75 2054.93 795.1 2054.89 795.45 2054.86 795.8 2054.86 796.15 2054.88 796.5 2054.93 796.85 2054.97 797.2 2055.01 797.55 2055.04 797.9 2055.05 798.25 2055.06 798.6 2055.06 798.95 2055.06 799.3 2055.07 799.65 2055.08 800 2055.09 800.35 2055.09 800.7 2055.09 801.05 2055.09 801.4 2055.08 801.75 2055.07 802.1 2055.06 802.45 2055.04 802.8 2055.03 803.15 2055.02 803.5 2055.02 803.85 2055.03 804.2 2055.04 804.55 2055.06 804.9 2055.07 805.25 2055.09 805.6 2055.09 805.95 2055.1 806.3 2055.1 806.65 2055.1 807 2055.1 807.35 2055.1 807.7 2055.1 808.05 2055.1 808.4 2055.1 808.75 2055.09 809.1 2055.06 809.45 2055.01 809.8 2054.92 810.15 2054.76 810.5 2054.52 810.85 2054.21 811.2 2053.86 811.55 2053.54 811.9 2053.26 812.25 2053.04 812.6 2052.89 812.95 2052.93 813.3 2053.26 813.65 2053.81 814 2054.34 814.35 2054.72 814.7 2054.93 815.05 2055.02 815.4 2055.07 815.75 2055.09 816.1 2055.09 816.45 2055.1 816.8 2055.1 817.15 2055.1 817.5 2055.1 817.85 2055.1 818.2 2055.1 818.55 2055.1 818.9 2055.1 819.25 2055.1 819.6 2055.1 819.95 2055.1 820.3 2055.1 820.65 2055.1 821 2055.1 821.35 2055.1 821.7 2055.1 822.05 2055.1 822.4 2055.1 822.75 2055.1 823.1 2055.1 823.45 2055.1 823.8 2055.1 824.15 2055.1 824.5 2055.1 824.85 2055.1 825.2 2055.1 825.55 2055.1 825.9 2055.1 826.25 2055.1 826.6 2055.1 826.95 2055.1 827.3 2055.1 827.65 2055.1" fill="none" stroke="#000" stroke-width="2.4" stroke-linejoin="round"/>
<line x1="503.8" y1="2055.4" x2="503.8" y2="1952.7" stroke="#000" stroke-width="2.4" stroke-linecap="round"/>
<line x1="526.1" y1="2055.4" x2="526.1" y2="1818.8" stroke="#000" stroke-width="2.4" stroke-linecap="round"/>
<line x1="561.7" y1="2055.4" x2="561.7" y2="1835.5" stroke="#000" stroke-width="2.4" stroke-linecap="round"/>
<line x1="620.8" y1="2055.4" x2="620.8" y2="1873.5" stroke="#000" stroke-width="2.4" stroke-linecap="round"/>
<line x1="740" y1="2055.4" x2="740" y2="1975.2" stroke="#000" stroke-width="2.4" stroke-linecap="round"/>
<line x1="488" y1="2055.4" x2="488" y2="2038.1" stroke="#000" stroke-width="2.2" stroke-linecap="round"/>
<line x1="502.2" y1="2055.4" x2="502.2" y2="1994" stroke="#000" stroke-width="2.2" stroke-linecap="round"/>
<line x1="812.2" y1="2055.4" x2="812.2" y2="2049" stroke="#000" stroke-width="2.2" stroke-linecap="round"/>
<line x1="473.2" y1="2056.4" x2="828.5" y2="2056.4" stroke="#000" stroke-width="2.6" stroke-linecap="butt"/>
<line x1="473.2" y1="2055.2" x2="473.2" y2="2072.1" stroke="#000" stroke-width="2.6" stroke-linecap="round"/>
<text x="449.51" y="2106" font-size="28.6" stroke="#000" stroke-width="0.45">400</text>
<line x1="562.02" y1="2055.2" x2="562.02" y2="2072.1" stroke="#000" stroke-width="2.6" stroke-linecap="round"/>
<text x="538.02" y="2106" font-size="28.6" stroke="#000" stroke-width="0.45">800</text>
<line x1="650.85" y1="2055.2" x2="650.85" y2="2072.1" stroke="#000" stroke-width="2.6" stroke-linecap="round"/>
<text x="618.48" y="2106" font-size="28.6" stroke="#000" stroke-width="0.45">1200</text>
<line x1="739.67" y1="2055.2" x2="739.67" y2="2072.1" stroke="#000" stroke-width="2.6" stroke-linecap="round"/>
<text x="707.3" y="2106" font-size="28.6" stroke="#000" stroke-width="0.45">1600</text>
<line x1="828.5" y1="2055.2" x2="828.5" y2="2072.1" stroke="#000" stroke-width="2.6" stroke-linecap="round"/>
<text x="796.5" y="2106" font-size="28.6" stroke="#000" stroke-width="0.45">2000</text>
<text x="629.05" y="2151.1" font-size="28.6" stroke="#000" stroke-width="0.45">m/z</text>
<text x="482.02" y="1934.8" font-size="28.6" stroke="#000" stroke-width="0.45">+6</text>
<text x="501.02" y="1801.8" font-size="28.6" stroke="#000" stroke-width="0.45">+5</text>
<text x="544.83" y="1816.4" font-size="28.6" stroke="#000" stroke-width="0.45">+4</text>
<text x="604.23" y="1863.2" font-size="28.6" stroke="#000" stroke-width="0.45">+3</text>
<text x="723.12" y="1961.1" font-size="28.6" stroke="#000" stroke-width="0.45">+2</text>
<text x="670.6" y="1799.9" font-size="29"><tspan fill="#72e2f1">β-Xyl</tspan>-<tspan font-weight="bold">9</tspan></text>
<text x="670.23" y="1835.1" font-size="29" stroke="#000" stroke-width="0.45">M (Calc.): 3202.7 Da</text>
<text x="670.23" y="1870.3" font-size="29" stroke="#000" stroke-width="0.45">M (Obs.): 3202.4 Da</text>
<path d="M922.4 2050.5 922.7 2050.49 923 2050.47 923.3 2050.43 923.6 2050.34 923.9 2050.18 924.2 2049.92 924.5 2049.6 924.8 2049.28 925.1 2049.05 925.4 2048.98 925.7 2049.05 926 2049.23 926.3 2049.42 926.6 2049.6 926.9 2049.75 927.2 2049.88 927.5 2050.01 927.8 2050.13 928.1 2050.23 928.4 2050.32 928.7 2050.39 929 2050.43 929.3 2050.46 929.6 2050.48 929.9 2050.49 930.2 2050.49 930.5 2050.48 930.8 2050.45 931.1 2050.41 931.4 2050.34 931.7 2050.24 932 2050.1 932.3 2049.93 932.6 2049.74 932.9 2049.55 933.2 2049.41 933.5 2049.33 933.8 2049.34 934.1 2049.44 934.4 2049.59 934.7 2049.76 935 2049.89 935.3 2049.96 935.6 2049.93 935.9 2049.81 936.2 2049.61 936.5 2049.36 936.8 2049.11 937.1 2048.9 937.4 2048.77 937.7 2048.74 938 2048.83 938.3 2049.01 938.6 2049.25 938.9 2049.51 939.2 2049.74 939.5 2049.89 939.8 2049.92 940.1 2049.87 940.4 2049.85 940.7 2049.91 941 2049.94 941.3 2049.88 941.6 2049.72 941.9 2049.53 942.2 2049.38 942.5 2049.32 942.8 2049.38 943.1 2049.54 943.4 2049.74 943.7 2049.95 944 2050.14 944.3 2050.28 944.6 2050.38 944.9 2050.44 945.2 2050.48 945.5 2050.49 945.8 2050.5 946.1 2050.5 946.4 2050.5 946.7 2050.5 947 2050.5 947.3 2050.5 947.6 2050.5 947.9 2050.5 948.2 2050.5 948.5 2050.5 948.8 2050.5 949.1 2050.5 949.4 2050.5 949.7 2050.5 950 2050.5 950.3 2050.5 950.6 2050.5 950.9 2050.5 951.2 2050.5 951.5 2050.5 951.8 2050.5 952.1 2050.5 952.4 2050.5 952.7 2050.5 953 2050.5 953.3 2050.49 953.6 2050.47 953.9 2050.38 954.2 2050.23 954.5 2050.14 954.8 2050.21 955.1 2050.36 955.4 2050.46 955.7 2050.49 956 2050.5 956.3 2050.5 956.6 2050.5 956.9 2050.5 957.2 2050.5 957.5 2050.5 957.8 2050.49 958.1 2050.49 958.4 2050.47 958.7 2050.45 959 2050.42 959.3 2050.36 959.6 2050.29 959.9 2050.26 960.2 2050.3 960.5 2050.35 960.8 2050.36 961.1 2050.31 961.4 2050.2 961.7 2050 962 2049.7 962.3 2049.29 962.6 2048.73 962.9 2048.03 963.2 2047.27 963.5 2046.74 963.8 2046.68 964.1 2047.05 964.4 2047.61 964.7 2048.21 965 2048.7 965.3 2048.89 965.6 2048.73 965.9 2048.33 966.2 2048.02 966.5 2048.09 966.8 2048.56 967.1 2049.21 967.4 2049.76 967.7 2050.09 968 2050.21 968.3 2050.19 968.6 2050.07 968.9 2049.89 969.2 2049.69 969.5 2049.49 969.8 2049.31 970.1 2049.18 970.4 2049.15 970.7 2049.25 971 2049.48 971.3 2049.75 971.6 2049.99 971.9 2050.18 972.2 2050.31 972.5 2050.39 972.8 2050.44 973.1 2050.47 973.4 2050.49 973.7 2050.49 974 2050.47 974.3 2050.39 974.6 2050.17 974.9 2049.83 975.2 2049.57 975.5 2049.64 975.8 2049.93 976.1 2050.2 976.4 2050.31 976.7 2050.31 977 2050.29 977.3 2050.29 977.6 2050.32 977.9 2050.36 978.2 2050.37 978.5 2050.32 978.8 2050.18 979.1 2049.93 979.4 2049.6 979.7 2049.3 980 2049.13 980.3 2049.17 980.6 2049.4 980.9 2049.71 981.2 2050.01 981.5 2050.22 981.8 2050.35 982.1 2050.42 982.4 2050.46 982.7 2050.47 983 2050.48 983.3 2050.49 983.6 2050.49 983.9 2050.5 984.2 2050.5 984.5 2050.5 984.8 2050.5 985.1 2050.5 985.4 2050.5 985.7 2050.5 986 2050.5 986.3 2050.5 986.6 2050.5 986.9 2050.5 987.2 2050.5 987.5 2050.49 987.8 2050.48 988.1 2050.43 988.4 2050.33 988.7 2050.15 989 2049.9 989.3 2049.64 989.6 2049.46 989.9 2049.45 990.2 2049.58 990.5 2049.78 990.8 2049.98 991.1 2050.15 991.4 2050.28 991.7 2050.37 992 2050.43 992.3 2050.46 992.6 2050.48 992.9 2050.49 993.2 2050.5 993.5 2050.5 993.8 2050.5 994.1 2050.5 994.4 2050.5 994.7 2050.5 995 2050.5 995.3 2050.5 995.6 2050.5 995.9 2050.5 996.2 2050.5 996.5 2050.5 996.8 2050.5 997.1 2050.5 997.4 2050.5 997.7 2050.5 998 2050.5 998.3 2050.5 998.6 2050.5 998.9 2050.5 999.2 2050.5 999.5 2050.5 999.8 2050.5 1000.1 2050.5 1000.4 2050.5 1000.7 2050.5 1001 2050.5 1001.3 2050.5 1001.6 2050.5 1001.9 2050.5 1002.2 2050.5 1002.5 2050.5 1002.8 2050.5 1003.1 2050.5 1003.4 2050.5 1003.7 2050.5" fill="none" stroke="#000" stroke-width="2.2" stroke-linejoin="round"/>
<line x1="954.9" y1="2050.7" x2="954.9" y2="1931.4" stroke="#000" stroke-width="2.3" stroke-linecap="round"/>
<path d="M921.9 2059.2 L921.9 2051.7 L1004.3 2051.7 L1004.3 2059.2" stroke="#000" stroke-width="2.5" fill="none" stroke-linejoin="round" stroke-linecap="round"/>
<line x1="963.1" y1="2051.7" x2="963.1" y2="2056.3" stroke="#000" stroke-width="2.3" stroke-linecap="butt"/>
<text x="894.77" y="2088.2" font-size="24.2" stroke="#000" stroke-width="0.45">2000</text>
<text x="977.3" y="2088.2" font-size="24.2" stroke="#000" stroke-width="0.45">5000</text>
<text x="929.16" y="2130.6" font-size="22.8" stroke="#000" stroke-width="0.45">M (Da)</text>
<path d="M1514.5 2054.19 1514.75 2053.91 1515 2053.54 1515.25 2053.04 1515.5 2052.54 1515.75 2052.13 1516 2051.88 1516.25 2051.83 1516.5 2051.84 1516.75 2051.97 1517 2052.25 1517.25 2052.6 1517.5 2052.68 1517.75 2052.41 1518 2052.28 1518.25 2052.29 1518.5 2052.43 1518.75 2052.64 1519 2052.75 1519.25 2052.68 1519.5 2052.35 1519.75 2051.97 1520 2051.59 1520.25 2051.24 1520.5 2050.75 1520.75 2050.66 1521 2050.72 1521.25 2050.78 1521.5 2050.94 1521.75 2051.05 1522 2050.54 1522.25 2050.26 1522.5 2050.28 1522.75 2050.58 1523 2050.93 1523.25 2051.09 1523.5 2050.88 1523.75 2050.84 1524 2051.05 1524.25 2051.34 1524.5 2051.08 1524.75 2050.92 1525 2050.87 1525.25 2050.94 1525.5 2050.71 1525.75 2050.41 1526 2050.27 1526.25 2050.33 1526.5 2049.61 1526.75 2049.02 1527 2048.9 1527.25 2049.27 1527.5 2049.87 1527.75 2049.36 1528 2048.73 1528.25 2048.37 1528.5 2048.1 1528.75 2047.83 1529 2048.21 1529.25 2048.4 1529.5 2047.52 1529.75 2046.98 1530 2047.01 1530.25 2047.57 1530.5 2048.36 1530.75 2048.89 1531 2048.99 1531.25 2049.03 1531.5 2048.83 1531.75 2047.78 1532 2046.31 1532.25 2045.15 1532.5 2044.97 1532.75 2045.85 1533 2047.19 1533.25 2047.43 1533.5 2047.15 1533.75 2045.35 1534 2043.76 1534.25 2043.27 1534.5 2044.16 1534.75 2045.65 1535 2046.19 1535.25 2045.49 1535.5 2044.22 1535.75 2043.82 1536 2044.5 1536.25 2045.83 1536.5 2047.1 1536.75 2047.1 1537 2046.22 1537.25 2043.89 1537.5 2041.1 1537.75 2038.97 1538 2038.61 1538.25 2038.59 1538.5 2039.22 1538.75 2041.64 1539 2044.08 1539.25 2043.65 1539.5 2042.03 1539.75 2038.39 1540 2035.95 1540.25 2036.18 1540.5 2038.9 1540.75 2042.43 1541 2041.7 1541.25 2040.89 1541.5 2038.76 1541.75 2032.34 1542 2030.45 1542.25 2029.24 1542.5 2031.32 1542.75 2032.55 1543 2033.08 1543.25 2036.5 1543.5 2040.78 1543.75 2040.43 1544 2038.81 1544.25 2038.82 1544.5 2034.8 1544.75 2030.98 1545 2030.59 1545.25 2033.9 1545.5 2038.85 1545.75 2039.93 1546 2039.16 1546.25 2033.09 1546.5 2027.76 1546.75 2026.27 1547 2028.73 1547.25 2031.91 1547.5 2037.63 1547.75 2035.95 1548 2035.63 1548.25 2036.34 1548.5 2035.79 1548.75 2036.11 1549 2040.55 1549.25 2040.25 1549.5 2038.71 1549.75 2033.9 1550 2030.07 1550.25 2029.06 1550.5 2031.42 1550.75 2032.76 1551 2029.78 1551.25 2030.5 1551.5 2028.7 1551.75 2027.99 1552 2023.14 1552.25 2023.75 1552.5 2029.42 1552.75 2031.14 1553 2026.9 1553.25 2025.68 1553.5 2024.99 1553.75 2017.93 1554 2017.2 1554.25 2023.29 1554.5 2032.41 1554.75 2033.13 1555 2030.72 1555.25 2031.02 1555.5 2033.89 1555.75 2038.04 1556 2039.56 1556.25 2040.33 1556.5 2041.1 1556.75 2041.86 1557 2042.59 1557.25 2037.54 1557.5 2030.53 1557.75 2023.8 1558 2020.38 1558.25 2022.07 1558.5 2016.27 1558.75 2016.33 1559 2023.56 1559.25 2033.36 1559.5 2035.19 1559.75 2029.22 1560 2022.15 1560.25 2020.18 1560.5 2024.6 1560.75 2032.61 1561 2036.16 1561.25 2035.62 1561.5 2026.78 1561.75 2017.26 1562 2013.21 1562.25 2017.29 1562.5 2026.14 1562.75 2030.35 1563 2029.84 1563.25 2028.89 1563.5 2031.07 1563.75 2035.36 1564 2038.65 1564.25 2039.5 1564.5 2040.37 1564.75 2037.51 1565 2032.57 1565.25 2031.11 1565.5 2030.54 1565.75 2026.85 1566 2019.09 1566.25 2016.3 1566.5 2020.14 1566.75 2028.37 1567 2034.05 1567.25 2026.89 1567.5 2019.82 1567.75 2023.42 1568 2031.75 1568.25 2024.35 1568.5 2021.2 1568.75 2024.37 1569 2031.8 1569.25 2037 1569.5 2036.46 1569.75 2029.79 1570 2020.09 1570.25 2014.73 1570.5 2017.16 1570.75 2025.78 1571 2031.26 1571.25 2031.27 1571.5 2029.75 1571.75 2031.3 1572 2035.2 1572.25 2039.15 1572.5 2035.96 1572.75 2031.2 1573 2024.5 1573.25 2019.55 1573.5 2019.28 1573.75 2023.82 1574 2031.05 1574.25 2038.16 1574.5 2042.57 1574.75 2038.77 1575 2031.54 1575.25 2025.14 1575.5 2019.47 1575.75 2022.27 1576 2031.27 1576.25 2032.71 1576.5 2037.23 1576.75 2042.28 1577 2045.52 1577.25 2044.98 1577.5 2044.39 1577.75 2043.75 1578 2042.09 1578.25 2035.86 1578.5 2029.14 1578.75 2025.43 1579 2027.12 1579.25 2033.1 1579.5 2039.11 1579.75 2038.63 1580 2034.5 1580.25 2025.9 1580.5 2020.16 1580.75 2020.88 1581 2027.58 1581.25 2036.23 1581.5 2034.62 1581.75 2032.8 1582 2033.63 1582.25 2036.7 1582.5 2035.63 1582.75 2032.04 1583 2033.6 1583.25 2030.26 1583.5 2026.06 1583.75 2028.08 1584 2028.99 1584.25 2036.44 1584.5 2034.27 1584.75 2030.85 1585 2031.08 1585.25 2024.39 1585.5 2017 1585.75 2023.08 1586 2026.85 1586.25 2026.57 1586.5 2026.13 1586.75 2017.44 1587 2019.06 1587.25 2029.71 1587.5 2040.59 1587.75 2043 1588 2038.61 1588.25 2030.48 1588.5 2023.34 1588.75 2021.35 1589 2024.59 1589.25 2022.52 1589.5 2019.38 1589.75 2027.26 1590 2028.03 1590.25 2018.41 1590.5 2014.33 1590.75 2018.44 1591 2028.08 1591.25 2022.25 1591.5 2021.26 1591.75 2026.35 1592 2032.37 1592.25 2035.19 1592.5 2034.17 1592.75 2035.95 1593 2039.6 1593.25 2042.63 1593.5 2043.47 1593.75 2044.28 1594 2045.02 1594.25 2045.71 1594.5 2046.33 1594.75 2046.88 1595 2047.37 1595.25 2047.79 1595.5 2048.14 1595.75 2048.44 1596 2048.69 1596.25 2048.9 1596.5 2049.06 1596.75 2049.2 1597 2049.15 1597.25 2049.03 1597.5 2048.87 1597.75 2048.66 1598 2048.41 1598.25 2048.09 1598.5 2047.72 1598.75 2047.28 1599 2046.76 1599.25 2046.17 1599.5 2045.5 1599.75 2044.76 1600 2043.96 1600.25 2043.1 1600.5 2038.28 1600.75 2029.36 1601 2021.53 1601.25 2019.34 1601.5 2024.25 1601.75 2026.51 1602 2025.66 1602.25 2029.62 1602.5 2026.67 1602.75 2016.11 1603 2011.63 1603.25 2016.14 1603.5 2026.72 1603.75 2034.07 1604 2030.06 1604.25 2029.01 1604.5 2031.42 1604.75 2036.19 1605 2039.83 1605.25 2040.77 1605.5 2041.73 1605.75 2042.68 1606 2043.61 1606.25 2044.49 1606.5 2045.31 1606.75 2046.06 1607 2041.99 1607.25 2034.3 1607.5 2025.11 1607.75 2017.31 1608 2018.39 1608.25 2027.51 1608.5 2038.28 1608.75 2045.61 1609 2048.79 1609.25 2048.85 1609.5 2048.97 1609.75 2049.13 1610 2049.33 1610.25 2049.53 1610.5 2049.73 1610.75 2049.91 1611 2049.23 1611.25 2047.04 1611.5 2042.87 1611.75 2037.34 1612 2032.93 1612.25 2032.37 1612.5 2036.06 1612.75 2041.63 1613 2046.3 1613.25 2047.02 1613.5 2046.4 1613.75 2045.72 1614 2044.99 1614.25 2040.09 1614.5 2034.22 1614.75 2027.35 1615 2024.26 1615.25 2027.38 1615.5 2034.67 1615.75 2039.77 1616 2039.25 1616.25 2032.71 1616.5 2023.19 1616.75 2017.95 1617 2020.33 1617.25 2028.79 1617.5 2037.98 1617.75 2034.18 1618 2032.69 1618.25 2033.16 1618.5 2024.22 1618.75 2026.21 1619 2036.85 1619.25 2043.56 1619.5 2044.39 1619.75 2045.19 1620 2036.29 1620.25 2024.7 1620.5 2021.19 1620.75 2029.61 1621 2041.3 1621.25 2048.23 1621.5 2048.78 1621.75 2047 1622 2045.13 1622.25 2044 1622.5 2044.2 1622.75 2045.64 1623 2047.6 1623.25 2049.22 1623.5 2049.62 1623.75 2050.04 1624 2050.41 1624.25 2050.15 1624.5 2049.77 1624.75 2049.38 1625 2049.06 1625.25 2048.86 1625.5 2048.85 1625.75 2049.02 1626 2049.33 1626.25 2049.74 1626.5 2050.17 1626.75 2048.68 1627 2045.01 1627.25 2040.14 1627.5 2035.59 1627.75 2032.27 1628 2033.39 1628.25 2038.22 1628.5 2043.92 1628.75 2041.17 1629 2040.09 1629.25 2043.38 1629.5 2042.84 1629.75 2040.9 1630 2035.25 1630.25 2032.14 1630.5 2033.57 1630.75 2038.6 1631 2037.65 1631.25 2032.92 1631.5 2032.64 1631.75 2032.58 1632 2027.76 1632.25 2028.37 1632.5 2034.01 1632.75 2036.87 1633 2037.28 1633.25 2038.43 1633.5 2039.12 1633.75 2041.72 1634 2045.08 1634.25 2045.74 1634.5 2046.37 1634.75 2046.99 1635 2046.15 1635.25 2045.24 1635.5 2045.44 1635.75 2046.66 1636 2048.37 1636.25 2049.94 1636.5 2050.48 1636.75 2050.8 1637 2051.08 1637.25 2051.31 1637.5 2051.51 1637.75 2051.68 1638 2051.81 1638.25 2051.93 1638.5 2052.02 1638.75 2052.09 1639 2052.16 1639.25 2052.21 1639.5 2052.15 1639.75 2051.91 1640 2051.58 1640.25 2051.36 1640.5 2051.45 1640.75 2051.79 1641 2052.14 1641.25 2052.25 1641.5 2052.34 1641.75 2052.42 1642 2052.48 1642.25 2052.52 1642.5 2052.53 1642.75 2052.5 1643 2052.44 1643.25 2052.31 1643.5 2052.12 1643.75 2051.92 1644 2051.77 1644.25 2051.75 1644.5 2051.88 1644.75 2052.1 1645 2052.3 1645.25 2052.2 1645.5 2051.72 1645.75 2050.66 1646 2049.31 1646.25 2048.1 1646.5 2043.78 1646.75 2040.53 1647 2038.39 1647.25 2039.49 1647.5 2043.17 1647.75 2047.37 1648 2043.72 1648.25 2039.51 1648.5 2037.73 1648.75 2039.55 1649 2043.81 1649.25 2041.52 1649.5 2040.42 1649.75 2042.26 1650 2037.19 1650.25 2034.15 1650.5 2035.56 1650.75 2040.49 1651 2045.86 1651.25 2043.67 1651.5 2042.81 1651.75 2043.72 1652 2045.96 1652.25 2048.24 1652.5 2047 1652.75 2043.23 1653 2040.05 1653.25 2038.93 1653.5 2040.45 1653.75 2043.87 1654 2047.66 1654.25 2050.63 1654.5 2052.22 1654.75 2052.52 1655 2052.77 1655.25 2053 1655.5 2053.19 1655.75 2053.36 1656 2053.06 1656.25 2052.78 1656.5 2052.83 1656.75 2053.19 1657 2053.52 1657.25 2053.47 1657.5 2053.46 1657.75 2053.52 1658 2053.64 1658.25 2053.28 1658.5 2052.95 1658.75 2052.92 1659 2053.26 1659.25 2053.75 1659.5 2054 1659.75 2054.1 1660 2054.29 1660.25 2054.4 1660.5 2054.49 1660.75 2054.55 1661 2054.58 1661.25 2054.59 1661.5 2054.6 1661.75 2054.6 1662 2054.6 1662.25 2054.6 1662.5 2054.6 1662.75 2054.59 1663 2054.59 1663.25 2054.58 1663.5 2054.55 1663.75 2054.52 1664 2054.47 1664.25 2054.39 1664.5 2054.28 1664.75 2054.14 1665 2053.97 1665.25 2053.79 1665.5 2053.61 1665.75 2053.45 1666 2053.33 1666.25 2053.28 1666.5 2052.27 1666.75 2050.13 1667 2048.26 1667.25 2047.94 1667.5 2047.07 1667.75 2046.87 1668 2048.16 1668.25 2049.48 1668.5 2050.54 1668.75 2048.8 1669 2044.04 1669.25 2042.59 1669.5 2046.05 1669.75 2047.21 1670 2044.37 1670.25 2043.57 1670.5 2045.34 1670.75 2048.55 1671 2049.97 1671.25 2049.75 1671.5 2046.2 1671.75 2042.37 1672 2040.74 1672.25 2042.37 1672.5 2046.2 1672.75 2048.85 1673 2047.39 1673.25 2047.01 1673.5 2047.87 1673.75 2049.59 1674 2049.39 1674.25 2049.77 1674.5 2051.5 1674.75 2051.92 1675 2050.46 1675.25 2048.28 1675.5 2046.58 1675.75 2046.17 1676 2047.23 1676.25 2049.26 1676.5 2051.38 1676.75 2051.53 1677 2048 1677.25 2044.06 1677.5 2042.15 1677.75 2043.7 1678 2047.54 1678.25 2051.21 1678.5 2053.4 1678.75 2053.75 1679 2053.91 1679.25 2053.59 1679.5 2053.2 1679.75 2052.95 1680 2052.96 1680.25 2053.21 1680.5 2053.61 1680.75 2054 1681 2054.29 1681.25 2054.44 1681.5 2054.52 1681.75 2054.57 1682 2054.59 1682.25 2054.6 1682.5 2054.6 1682.75 2054.6 1683 2054.6 1683.25 2054.6 1683.5 2054.59 1683.75 2054.59 1684 2054.57 1684.25 2054.53 1684.5 2054.47 1684.75 2054.38 1685 2054.24 1685.25 2054.07 1685.5 2053.9 1685.75 2053.76 1686 2053.68 1686.25 2053.68 1686.5 2053.77 1686.75 2053.92 1687 2054.09 1687.25 2054.25 1687.5 2054.39 1687.75 2054.48 1688 2054.54 1688.25 2054.57 1688.5 2054.59 1688.75 2054.6 1689 2054.59 1689.25 2054.59 1689.5 2054.59 1689.75 2054.58 1690 2054.58 1690.25 2054.57 1690.5 2054.56 1690.75 2054.54 1691 2054.52 1691.25 2054.49 1691.5 2054.45 1691.75 2054.36 1692 2053.83 1692.25 2052.68 1692.5 2050.8 1692.75 2047.88 1693 2046.07 1693.25 2046.89 1693.5 2048.24 1693.75 2046.7 1694 2046.52 1694.25 2047.78 1694.5 2049.85 1694.75 2051.87 1695 2049.5 1695.25 2047.18 1695.5 2046.19 1695.75 2047.18 1696 2049.5 1696.25 2051.12 1696.5 2050.95 1696.75 2048.86 1697 2045.82 1697.25 2044.14 1697.5 2044.9 1697.75 2047.59 1698 2050.51 1698.25 2049.3 1698.5 2048.82 1698.75 2049.3 1699 2050.51 1699.25 2051.75 1699.5 2052 1699.75 2052.26 1700 2052.52 1700.25 2050.98 1700.5 2049.38 1700.75 2048.56 1701 2048.99 1701.25 2049.21 1701.5 2050.67 1701.75 2052.74 1702 2053.46 1702.25 2053.06 1702.5 2052.68 1702.75 2052.37 1703 2052.2 1703.25 2052.19 1703.5 2052.35 1703.75 2052.64 1704 2053.02 1704.25 2053.41 1704.5 2053.77 1704.75 2054.06 1705 2054.27 1705.25 2054.38 1705.5 2054.36 1705.75 2054.35 1706 2054.35 1706.25 2054.37 1706.5 2054.4 1706.75 2054.39 1707 2054.34 1707.25 2054.3 1707.5 2054.28 1707.75 2054.29 1708 2054.32 1708.25 2054.36 1708.5 2054.34 1708.75 2054.3 1709 2054.29 1709.25 2054.3 1709.5 2054.33 1709.75 2054.38 1710 2054.44 1710.25 2054.48 1710.5 2054.28 1710.75 2053.91 1711 2053.4 1711.25 2052.92 1711.5 2052.72 1711.75 2052.91 1712 2053.38 1712.25 2053.74 1712.5 2053.73 1712.75 2053.78 1713 2053.88 1713.25 2054 1713.5 2054.13 1713.75 2054.26 1714 2054.37 1714.25 2054.45 1714.5 2054.51 1714.75 2054.55 1715 2054.57 1715.25 2054.58 1715.5 2054.56 1715.75 2054.51 1716 2054.42 1716.25 2054.29 1716.5 2054.1 1716.75 2053.86 1717 2053.62 1717.25 2053.43 1717.5 2053.32 1717.75 2053.33 1718 2053.45 1718.25 2053.66 1718.5 2053.87 1718.75 2053.61 1719 2053.34 1719.25 2053.1 1719.5 2052.92 1719.75 2052.84 1720 2052.86 1720.25 2052.98 1720.5 2053.19 1720.75 2053.45 1721 2053.72 1721.25 2053.96 1721.5 2054.17 1721.75 2054.11 1722 2053.23 1722.25 2051.6 1722.5 2049.38 1722.75 2047.42 1723 2046.77 1723.25 2047.83 1723.5 2049.97 1723.75 2052.09 1724 2052.3 1724.25 2051.82 1724.5 2049.6 1724.75 2047.49 1725 2046.63 1725.25 2046.45 1725.5 2047.04 1725.75 2049.14 1726 2050.06 1726.25 2049.79 1726.5 2048.7 1726.75 2046.52 1727 2044.56 1727.25 2044.81 1727.5 2047.16 1727.75 2050.2 1728 2049.63 1728.25 2048.99 1728.5 2049.27 1728.75 2050.35 1729 2051.75 1729.25 2052.02 1729.5 2052.27 1729.75 2051.99 1730 2051.26 1730.25 2050.59 1730.5 2048.36 1730.75 2047.17 1731 2047.82 1731.25 2049.86 1731.5 2052.06 1731.75 2053.56 1732 2054.16 1732.25 2054.24 1732.5 2054.06 1732.75 2053.83 1733 2053.55 1733.25 2053.24 1733.5 2052.94 1733.75 2052.68 1734 2052.48 1734.25 2052.39 1734.5 2052.42 1734.75 2052.55 1735 2052.77 1735.25 2053.06 1735.5 2053.37 1735.75 2053.66 1736 2053.92 1736.25 2054.14 1736.5 2054.3 1736.75 2054.42 1737 2054.49 1737.25 2054.54 1737.5 2054.57 1737.75 2054.58 1738 2054.59 1738.25 2054.6 1738.5 2054.6 1738.75 2054.6 1739 2054.6 1739.25 2054.6 1739.5 2054.6 1739.75 2054.6 1740 2054.6 1740.25 2054.6 1740.5 2054.6 1740.75 2054.6 1741 2054.6 1741.25 2054.6 1741.5 2054.6 1741.75 2054.6 1742 2054.6 1742.25 2054.6 1742.5 2054.6 1742.75 2054.6 1743 2054.6 1743.25 2054.6 1743.5 2054.59 1743.75 2054.58 1744 2054.57 1744.25 2054.53 1744.5 2054.46 1744.75 2054.36 1745 2054.2 1745.25 2053.98 1745.5 2053.71 1745.75 2053.42 1746 2053.14 1746.25 2052.91 1746.5 2052.79 1746.75 2052.8 1747 2052.93 1747.25 2053.17 1747.5 2053.45 1747.75 2053.75 1748 2054.01 1748.25 2054.22 1748.5 2054.37 1748.75 2054.47 1749 2054.49 1749.25 2054.43 1749.5 2054.37 1749.75 2054.29 1750 2054.22 1750.25 2054.15 1750.5 2054.1 1750.75 2054.07 1751 2054.08 1751.25 2054.11 1751.5 2054.17 1751.75 2054.24 1752 2054.31 1752.25 2054.39 1752.5 2054.45 1752.75 2054.5 1753 2054.47 1753.25 2054.42 1753.5 2054.36 1753.75 2054.29 1754 2054.21 1754.25 2054.14 1754.5 2054.09 1754.75 2054.05 1755 2054.03 1755.25 2054.05 1755.5 2054.08 1755.75 2054.14 1756 2054.21 1756.25 2054.28 1756.5 2054.31 1756.75 2054.22 1757 2054.14 1757.25 2054 1757.5 2052.92 1757.75 2050.96 1758 2048.48 1758.25 2046.63 1758.5 2046.55 1758.75 2048.3 1759 2050.78 1759.25 2048.83 1759.5 2047.05 1759.75 2048.58 1760 2051.68 1760.25 2053.3 1760.5 2052.56 1760.75 2052.15 1761 2052.35 1761.25 2051.08 1761.5 2048.65 1761.75 2046.77 1762 2045.75 1762.25 2046.66 1762.5 2049.09 1762.75 2051.14 1763 2050.76 1763.25 2047.77 1763.5 2045.15 1763.75 2044.41 1764 2046.05 1764.25 2049.01 1764.5 2050.09 1764.75 2049.14 1765 2049.05 1765.25 2049.85 1765.5 2051.18 1765.75 2051.92 1766 2052.17 1766.25 2052.42 1766.5 2052.59 1766.75 2052.45 1767 2052.42 1767.25 2052.52 1767.5 2051.85 1767.75 2050.25 1768 2048.84 1768.25 2048.19 1768.5 2048.62 1768.75 2049.91 1769 2051.52 1769.25 2052.9 1769.5 2053.81 1769.75 2054.23 1770 2054.28 1770.25 2054.39 1770.5 2054.49 1770.75 2054.53 1771 2054.5 1771.25 2054.46 1771.5 2054.42 1771.75 2054.37 1772 2054.33 1772.25 2054.3 1772.5 2054.27 1772.75 2054.27 1773 2054.28 1773.25 2054.31 1773.5 2054.35 1773.75 2054.39 1774 2054.32 1774.25 2054.22 1774.5 2054.14 1774.75 2054.09 1775 2054.1 1775.25 2054.15 1775.5 2054.23 1775.75 2054.21 1776 2054.16 1776.25 2054.13 1776.5 2054.14 1776.75 2054.17 1777 2054.22 1777.25 2054.29 1777.5 2054.36 1777.75 2054.42 1778 2054.48 1778.25 2054.52 1778.5 2054.55 1778.75 2054.57 1779 2054.56 1779.25 2054.54 1779.5 2054.52 1779.75 2054.5 1780 2054.49 1780.25 2054.47 1780.5 2054.47 1780.75 2054.47 1781 2054.48 1781.25 2054.5 1781.5 2054.48 1781.75 2054.45 1782 2054.43 1782.25 2054.42 1782.5 2054.42 1782.75 2054.43 1783 2054.45 1783.25 2054.47 1783.5 2054.5 1783.75 2054.52 1784 2054.55 1784.25 2054.57 1784.5 2054.58 1784.75 2054.59 1785 2054.59 1785.25 2054.6 1785.5 2054.6 1785.75 2054.6 1786 2054.59 1786.25 2054.59 1786.5 2054.58 1786.75 2054.57 1787 2054.55 1787.25 2054.53 1787.5 2054.51 1787.75 2054.49 1788 2054.48 1788.25 2054.48 1788.5 2054.49 1788.75 2054.51 1789 2054.53 1789.25 2054.55 1789.5 2054.56 1789.75 2054.53 1790 2054.48 1790.25 2054.41 1790.5 2054.31 1790.75 2054.18 1791 2054.02 1791.25 2053.83 1791.5 2053.63 1791.75 2053.43 1792 2053.25 1792.25 2053.11 1792.5 2053.03 1792.75 2053.03 1793 2053.09 1793.25 2053.22 1793.5 2053.4 1793.75 2053.59 1794 2053.8 1794.25 2053.94 1794.5 2053.81 1794.75 2053.73 1795 2053.71 1795.25 2053.77 1795.5 2053.87 1795.75 2054.02 1796 2054.17 1796.25 2054.3 1796.5 2054.41 1796.75 2054.49 1797 2054.54 1797.25 2054.57 1797.5 2054.59 1797.75 2054.59 1798 2054.6 1798.25 2054.6 1798.5 2054.59 1798.75 2054.59 1799 2054.58 1799.25 2054.56 1799.5 2054.55 1799.75 2054.53 1800 2054.5 1800.25 2054.48 1800.5 2054.46 1800.75 2054.45 1801 2054.44 1801.25 2054.44 1801.5 2054.45 1801.75 2054.47 1802 2054.49 1802.25 2054.51 1802.5 2054.54 1802.75 2054.56 1803 2054.55 1803.25 2054.54 1803.5 2054.4 1803.75 2053.8 1804 2052.33 1804.25 2049.93 1804.5 2047.65 1804.75 2047.13 1805 2048.78 1805.25 2051.33 1805.5 2052.92 1805.75 2052.45 1806 2051.05 1806.25 2050.19 1806.5 2050.48 1806.75 2051.71 1807 2052.83 1807.25 2051.2 1807.5 2048.86 1807.75 2047.04 1808 2046.85 1808.25 2048.41 1808.5 2048.18 1808.75 2047.36 1809 2046.86 1809.25 2048 1809.5 2045.47 1809.75 2044.76 1810 2046.34 1810.25 2049.2 1810.5 2050.25 1810.75 2049.33 1811 2049.24 1811.25 2050.01 1811.5 2051.3 1811.75 2051.71 1812 2052.25 1812.25 2052.5 1812.5 2052.03 1812.75 2049.09 1813 2046.65 1813.25 2046.85 1813.5 2049.5 1813.75 2052.34 1814 2049.72 1814.25 2046.88 1814.5 2046.4 1814.75 2048.77 1815 2051.82 1815.25 2052.78 1815.5 2052.92 1815.75 2053.1 1816 2053.33 1816.25 2053.57 1816.5 2053.8 1816.75 2054 1817 2054.17 1817.25 2054.31 1817.5 2054.41 1817.75 2054.48 1818 2054.47 1818.25 2054.47 1818.5 2054.47 1818.75 2054.48 1819 2054.51 1819.25 2054.53 1819.5 2054.55 1819.75 2054.57 1820 2054.58 1820.25 2054.59 1820.5 2054.6 1820.75 2054.6 1821 2054.6 1821.25 2054.6 1821.5 2054.59 1821.75 2054.59 1822 2054.58 1822.25 2054.58 1822.5 2054.58 1822.75 2054.59 1823 2054.6 1823.25 2054.6 1823.5 2054.59 1823.75 2054.58 1824 2054.56 1824.25 2054.53 1824.5 2054.5 1824.75 2054.49 1825 2054.5 1825.25 2054.53 1825.5 2054.56 1825.75 2054.58 1826 2054.59 1826.25 2054.6 1826.5 2054.6 1826.75 2054.6 1827 2054.6 1827.25 2054.6 1827.5 2054.6 1827.75 2054.6 1828 2054.6 1828.25 2054.6 1828.5 2054.6 1828.75 2054.6 1829 2054.6 1829.25 2054.6 1829.5 2054.6 1829.75 2054.6 1830 2054.6 1830.25 2054.6 1830.5 2054.59 1830.75 2054.59 1831 2054.57 1831.25 2054.55 1831.5 2054.51 1831.75 2054.46 1832 2054.38 1832.25 2054.29 1832.5 2054.17 1832.75 2054.03 1833 2053.9 1833.25 2053.77 1833.5 2053.68 1833.75 2053.63 1834 2053.63 1834.25 2053.68 1834.5 2053.77 1834.75 2053.9 1835 2054.03 1835.25 2054.17 1835.5 2054.22 1835.75 2054.12 1836 2054.03 1836.25 2053.94 1836.5 2053.88 1836.75 2053.86 1837 2053.87 1837.25 2053.92 1837.5 2053.99 1837.75 2054.09 1838 2054.19 1838.25 2054.29 1838.5 2054.37 1838.75 2054.44 1839 2054.5 1839.25 2054.54 1839.5 2054.52 1839.75 2054.43 1840 2054.27 1840.25 2054.06 1840.5 2053.87 1840.75 2053.76 1841 2053.79 1841.25 2053.94 1841.5 2054.14 1841.75 2054.27 1842 2054.13 1842.25 2053.97 1842.5 2053.83 1842.75 2053.74 1843 2053.71 1843.25 2053.76 1843.5 2053.87 1843.75 2054.02 1844 2054.18 1844.25 2054.3 1844.5 2054.14 1844.75 2053.94 1845 2053.75 1845.25 2053.59 1845.5 2053.51 1845.75 2053.52 1846 2053.63 1846.25 2053.8 1846.5 2053.99 1846.75 2054.18 1847 2054.34 1847.25 2054.45 1847.5 2054.52 1847.75 2054.56 1848 2054.58 1848.25 2054.57 1848.5 2054.56 1848.75 2054.54 1849 2054.51 1849.25 2054.48 1849.5 2054.45 1849.75 2054.42 1850 2054.4 1850.25 2054.39 1850.5 2054.4 1850.75 2054.41 1851 2054.44 1851.25 2054.45 1851.5 2054.29 1851.75 2054.02 1852 2053.64 1852.25 2053.19 1852.5 2052.77 1852.75 2052.49 1853 2052.44 1853.25 2052.64 1853.5 2053.03 1853.75 2053.03 1854 2053.01 1854.25 2053.1 1854.5 2053.27 1854.75 2053.49 1855 2053.74 1855.25 2053.97 1855.5 2054.17 1855.75 2054.32 1856 2054.43 1856.25 2054.51 1856.5 2054.55 1856.75 2054.58 1857 2054.59 1857.25 2054.6 1857.5 2054.6 1857.75 2054.6 1858 2054.6 1858.25 2054.6 1858.5 2054.6 1858.75 2054.59 1859 2054.59 1859.25 2054.58 1859.5 2054.57 1859.75 2054.55 1860 2054.53 1860.25 2054.51 1860.5 2054.49 1860.75 2054.48 1861 2054.48 1861.25 2054.48 1861.5 2054.49 1861.75 2054.43 1862 2054.36 1862.25 2054.26 1862.5 2054.15 1862.75 2054.02 1863 2053.9 1863.25 2053.78 1863.5 2053.69 1863.75 2053.63 1864 2053.62 1864.25 2053.65 1864.5 2053.72 1864.75 2053.82 1865 2053.94 1865.25 2054.06 1865.5 2054.04 1865.75 2053.91 1866 2053.84 1866.25 2053.85 1866.5 2053.94 1866.75 2054.08 1867 2054.24 1867.25 2054.38 1867.5 2054.48 1867.75 2054.54 1868 2054.57 1868.25 2054.59 1868.5 2054.6" fill="none" stroke="#000" stroke-width="2.4" stroke-linejoin="round"/>
<path d="M1520.4 2052.6 L1521.1 2051.93 L1521.8 2051.44 L1522.9 2051.38 L1524 2051.57 L1524.9 2052.05 L1525.7 2052.6 Z" fill="#000"/>
<path d="M1525.5 2051.18 L1526.2 2049.64 L1526.9 2048.52 L1528 2048.38 L1529.1 2048.8 L1530 2049.92 L1530.8 2051.18 Z" fill="#000"/>
<path d="M1531 2049.73 L1531.7 2046.46 L1532.4 2044.08 L1533.5 2043.78 L1534.6 2044.67 L1535.5 2047.05 L1536.3 2049.73 Z" fill="#000"/>
<path d="M1536.9 2048.29 L1537.6 2041.64 L1538.3 2036.8 L1539.4 2036.19 L1540.5 2038.01 L1541.4 2042.85 L1542.2 2048.29 Z" fill="#000"/>
<path d="M1543.5 2047.29 L1544.2 2035.81 L1544.9 2027.46 L1546 2026.42 L1547.1 2029.55 L1548 2037.9 L1548.8 2047.29 Z" fill="#000"/>
<path d="M1550.7 2047.62 L1551.4 2030.69 L1552.1 2018.38 L1553.2 2016.84 L1554.3 2021.46 L1555.2 2033.77 L1556 2047.62 Z" fill="#000"/>
<path d="M1558.8 2048.01 L1559.5 2029.02 L1560.2 2015.2 L1561.3 2013.47 L1562.4 2018.65 L1563.3 2032.47 L1564.1 2048.01 Z" fill="#000"/>
<path d="M1567.1 2048.42 L1567.8 2029.94 L1568.5 2016.5 L1569.6 2014.82 L1570.7 2019.86 L1571.6 2033.3 L1572.4 2048.42 Z" fill="#000"/>
<path d="M1577.4 2048.95 L1578.1 2032.94 L1578.8 2021.3 L1579.9 2019.85 L1581 2024.21 L1581.9 2035.85 L1582.7 2048.95 Z" fill="#000"/>
<path d="M1587.3 2049.47 L1588 2030.28 L1588.7 2016.32 L1589.8 2014.58 L1590.9 2019.81 L1591.8 2033.77 L1592.6 2049.47 Z" fill="#000"/>
<path d="M1599.8 2050.17 L1600.5 2029.11 L1601.2 2013.79 L1602.3 2011.88 L1603.4 2017.62 L1604.3 2032.94 L1605.1 2050.17 Z" fill="#000"/>
<path d="M1613.6 2050.99 L1614.3 2032.86 L1615 2019.68 L1616.1 2018.03 L1617.2 2022.97 L1618.1 2036.16 L1618.9 2050.99 Z" fill="#000"/>
<path d="M1628.9 2052 L1629.6 2038.53 L1630.3 2028.74 L1631.4 2027.52 L1632.5 2031.19 L1633.4 2040.98 L1634.2 2052 Z" fill="#000"/>
<path d="M1647.1 2053.46 L1647.8 2042.91 L1648.5 2035.23 L1649.6 2034.27 L1650.7 2037.15 L1651.6 2044.83 L1652.4 2053.46 Z" fill="#000"/>
<path d="M1668.8 2054.9 L1669.5 2047.28 L1670.2 2041.74 L1671.3 2041.04 L1672.4 2043.12 L1673.3 2048.66 L1674.1 2054.9 Z" fill="#000"/>
<path d="M1694.1 2054.9 L1694.8 2049.12 L1695.5 2044.91 L1696.6 2044.39 L1697.7 2045.96 L1698.6 2050.17 L1699.4 2054.9 Z" fill="#000"/>
<path d="M1723.9 2054.9 L1724.6 2049.27 L1725.3 2045.17 L1726.4 2044.66 L1727.5 2046.2 L1728.4 2050.29 L1729.2 2054.9 Z" fill="#000"/>
<path d="M1760.5 2054.9 L1761.2 2049.27 L1761.9 2045.17 L1763 2044.66 L1764.1 2046.2 L1765 2050.29 L1765.8 2054.9 Z" fill="#000"/>
<path d="M1806.5 2054.9 L1807.2 2049.46 L1807.9 2045.51 L1809 2045.01 L1810.1 2046.5 L1811 2050.45 L1811.8 2054.9 Z" fill="#000"/>
<line x1="1522.7" y1="2054.9" x2="1522.7" y2="2049.3" stroke="#000" stroke-width="2.4" stroke-linecap="round"/>
<line x1="1527.8" y1="2054.9" x2="1527.8" y2="2039.4" stroke="#000" stroke-width="2.4" stroke-linecap="round"/>
<line x1="1533.3" y1="2054.9" x2="1533.3" y2="2019.7" stroke="#000" stroke-width="2.4" stroke-linecap="round"/>
<line x1="1539.2" y1="2054.9" x2="1539.2" y2="1981.3" stroke="#000" stroke-width="2.4" stroke-linecap="round"/>
<line x1="1545.8" y1="2054.9" x2="1545.8" y2="1926.5" stroke="#000" stroke-width="2.4" stroke-linecap="round"/>
<line x1="1553" y1="2054.9" x2="1553" y2="1864.5" stroke="#000" stroke-width="2.4" stroke-linecap="round"/>
<line x1="1561.1" y1="2054.9" x2="1561.1" y2="1841" stroke="#000" stroke-width="2.4" stroke-linecap="round"/>
<line x1="1569.4" y1="2054.9" x2="1569.4" y2="1846.9" stroke="#000" stroke-width="2.4" stroke-linecap="round"/>
<line x1="1579.7" y1="2054.9" x2="1579.7" y2="1875" stroke="#000" stroke-width="2.4" stroke-linecap="round"/>
<line x1="1589.6" y1="2054.9" x2="1589.6" y2="1838.8" stroke="#000" stroke-width="2.4" stroke-linecap="round"/>
<line x1="1602.1" y1="2054.9" x2="1602.1" y2="1817.6" stroke="#000" stroke-width="2.4" stroke-linecap="round"/>
<line x1="1615.9" y1="2054.9" x2="1615.9" y2="1850.9" stroke="#000" stroke-width="2.4" stroke-linecap="round"/>
<line x1="1631.2" y1="2054.9" x2="1631.2" y2="1903.9" stroke="#000" stroke-width="2.4" stroke-linecap="round"/>
<line x1="1649.4" y1="2054.9" x2="1649.4" y2="1937" stroke="#000" stroke-width="2.4" stroke-linecap="round"/>
<line x1="1671.1" y1="2054.9" x2="1671.1" y2="1970.3" stroke="#000" stroke-width="2.4" stroke-linecap="round"/>
<line x1="1696.4" y1="2054.9" x2="1696.4" y2="1991.2" stroke="#000" stroke-width="2.4" stroke-linecap="round"/>
<line x1="1726.2" y1="2054.9" x2="1726.2" y2="1992.9" stroke="#000" stroke-width="2.4" stroke-linecap="round"/>
<line x1="1762.8" y1="2054.9" x2="1762.8" y2="1992.9" stroke="#000" stroke-width="2.4" stroke-linecap="round"/>
<line x1="1808.8" y1="2054.9" x2="1808.8" y2="1995.1" stroke="#000" stroke-width="2.4" stroke-linecap="round"/>
<line x1="1513.3" y1="2055.9" x2="1869.1" y2="2055.9" stroke="#000" stroke-width="2.6" stroke-linecap="butt"/>
<line x1="1513.3" y1="2054.7" x2="1513.3" y2="2071.6" stroke="#000" stroke-width="2.6" stroke-linecap="round"/>
<text x="1489.36" y="2105.5" font-size="28.6" stroke="#000" stroke-width="0.45">500</text>
<line x1="1631.9" y1="2054.7" x2="1631.9" y2="2071.6" stroke="#000" stroke-width="2.6" stroke-linecap="round"/>
<text x="1599.52" y="2105.5" font-size="28.6" stroke="#000" stroke-width="0.45">1000</text>
<line x1="1750.5" y1="2054.7" x2="1750.5" y2="2071.6" stroke="#000" stroke-width="2.6" stroke-linecap="round"/>
<text x="1718.12" y="2105.5" font-size="28.6" stroke="#000" stroke-width="0.45">1500</text>
<line x1="1869.1" y1="2054.7" x2="1869.1" y2="2071.6" stroke="#000" stroke-width="2.6" stroke-linecap="round"/>
<text x="1837.1" y="2105.5" font-size="28.6" stroke="#000" stroke-width="0.45">2000</text>
<line x1="1869.1" y1="2036.6" x2="1869.1" y2="2055.9" stroke="#000" stroke-width="2.6" stroke-linecap="round"/>
<text x="1668.75" y="2151.3" font-size="28.6" stroke="#000" stroke-width="0.45">m/z</text>
<text x="1490.72" y="1916.7" font-size="28.6" stroke="#000" stroke-width="0.45">+22</text>
<text x="1523.53" y="1824.7" font-size="28.6" stroke="#000" stroke-width="0.45">+20</text>
<text x="1585.42" y="1803.8" font-size="28.6" stroke="#000" stroke-width="0.45">+16</text>
<text x="1622.22" y="1888.9" font-size="28.6" stroke="#000" stroke-width="0.45">+14</text>
<text x="1654.42" y="1952.9" font-size="28.6" stroke="#000" stroke-width="0.45">+12</text>
<text x="1705.53" y="1975.9" font-size="28.6" stroke="#000" stroke-width="0.45">+10</text>
<text x="1793.83" y="1981.4" font-size="28.6" stroke="#000" stroke-width="0.45">+8</text>
<text x="1750.5" y="1793.4" font-size="29"><tspan fill="#72e2f1">β-Xyl</tspan>-<tspan font-weight="bold">10</tspan></text>
<text x="1750.12" y="1828.6" font-size="29" stroke="#000" stroke-width="0.45">M (Calc.): 13954.2 Da</text>
<text x="1750.12" y="1863.8" font-size="29" stroke="#000" stroke-width="0.45">M (Obs.): 13953.1 Da</text>
<path d="M1995.4 2049.7 1995.7 2049.69 1996 2049.67 1996.3 2049.63 1996.6 2049.54 1996.9 2049.37 1997.2 2049.11 1997.5 2048.79 1997.8 2048.47 1998.1 2048.24 1998.4 2048.17 1998.7 2048.26 1999 2048.43 1999.3 2048.63 1999.6 2048.8 1999.9 2048.95 2000.2 2049.09 2000.5 2049.22 2000.8 2049.33 2001.1 2049.44 2001.4 2049.52 2001.7 2049.59 2002 2049.63 2002.3 2049.66 2002.6 2049.68 2002.9 2049.69 2003.2 2049.68 2003.5 2049.67 2003.8 2049.65 2004.1 2049.6 2004.4 2049.53 2004.7 2049.43 2005 2049.28 2005.3 2049.11 2005.6 2048.91 2005.9 2048.73 2006.2 2048.59 2006.5 2048.53 2006.8 2048.55 2007.1 2048.65 2007.4 2048.81 2007.7 2048.98 2008 2049.1 2008.3 2049.16 2008.6 2049.11 2008.9 2048.98 2009.2 2048.76 2009.5 2048.51 2009.8 2048.26 2010.1 2048.06 2010.4 2047.95 2010.7 2047.95 2011 2048.05 2011.3 2048.25 2011.6 2048.5 2011.9 2048.76 2012.2 2048.98 2012.5 2049.11 2012.8 2049.11 2013.1 2049.06 2013.4 2049.05 2013.7 2049.12 2014 2049.13 2014.3 2049.05 2014.6 2048.88 2014.9 2048.69 2015.2 2048.55 2015.5 2048.52 2015.8 2048.61 2016.1 2048.78 2016.4 2049 2016.7 2049.2 2017 2049.38 2017.3 2049.51 2017.6 2049.6 2017.9 2049.65 2018.2 2049.68 2018.5 2049.69 2018.8 2049.7 2019.1 2049.7 2019.4 2049.7 2019.7 2049.7 2020 2049.7 2020.3 2049.7 2020.6 2049.7 2020.9 2049.7 2021.2 2049.7 2021.5 2049.7 2021.8 2049.7 2022.1 2049.7 2022.4 2049.7 2022.7 2049.7 2023 2049.7 2023.3 2049.7 2023.6 2049.7 2023.9 2049.7 2024.2 2049.7 2024.5 2049.7 2024.8 2049.7 2025.1 2049.7 2025.4 2049.7 2025.7 2049.7 2026 2049.7 2026.3 2049.69 2026.6 2049.64 2026.9 2049.52 2027.2 2049.38 2027.5 2049.35 2027.8 2049.47 2028.1 2049.61 2028.4 2049.68 2028.7 2049.7 2029 2049.7 2029.3 2049.7 2029.6 2049.7 2029.9 2049.7 2030.2 2049.7 2030.5 2049.7 2030.8 2049.69 2031.1 2049.68 2031.4 2049.66 2031.7 2049.64 2032 2049.59 2032.3 2049.52 2032.6 2049.47 2032.9 2049.47 2033.2 2049.52 2033.5 2049.56 2033.8 2049.54 2034.1 2049.47 2034.4 2049.31 2034.7 2049.07 2035 2048.71 2035.3 2048.22 2035.6 2047.59 2035.9 2046.84 2036.2 2046.15 2036.5 2045.84 2036.8 2046.03 2037.1 2046.52 2037.4 2047.12 2037.7 2047.68 2038 2048.03 2038.3 2048.03 2038.6 2047.71 2038.9 2047.32 2039.2 2047.2 2039.5 2047.51 2039.8 2048.11 2040.1 2048.73 2040.4 2049.16 2040.7 2049.37 2041 2049.41 2041.3 2049.32 2041.6 2049.17 2041.9 2048.98 2042.2 2048.77 2042.5 2048.58 2042.8 2048.42 2043.1 2048.35 2043.4 2048.39 2043.7 2048.57 2044 2048.84 2044.3 2049.1 2044.6 2049.31 2044.9 2049.46 2045.2 2049.56 2045.5 2049.63 2045.8 2049.66 2046.1 2049.68 2046.4 2049.69 2046.7 2049.68 2047 2049.63 2047.3 2049.47 2047.6 2049.15 2047.9 2048.83 2048.2 2048.78 2048.5 2049.02 2048.8 2049.32 2049.1 2049.49 2049.4 2049.51 2049.7 2049.5 2050 2049.49 2050.3 2049.51 2050.6 2049.55 2050.9 2049.57 2051.2 2049.54 2051.5 2049.43 2051.8 2049.21 2052.1 2048.9 2052.4 2048.58 2052.7 2048.36 2053 2048.34 2053.3 2048.52 2053.6 2048.82 2053.9 2049.13 2054.2 2049.37 2054.5 2049.53 2054.8 2049.61 2055.1 2049.65 2055.4 2049.67 2055.7 2049.68 2056 2049.69 2056.3 2049.69 2056.6 2049.7 2056.9 2049.7 2057.2 2049.7 2057.5 2049.7 2057.8 2049.7 2058.1 2049.7 2058.4 2049.7 2058.7 2049.7 2059 2049.7 2059.3 2049.7 2059.6 2049.7 2059.9 2049.7 2060.2 2049.69 2060.5 2049.68 2060.8 2049.64 2061.1 2049.55 2061.4 2049.39 2061.7 2049.15 2062 2048.88 2062.3 2048.68 2062.6 2048.64 2062.9 2048.75 2063.2 2048.95 2063.5 2049.15 2063.8 2049.33 2064.1 2049.46 2064.4 2049.55 2064.7 2049.62 2065 2049.66 2065.3 2049.68 2065.6 2049.69 2065.9 2049.7 2066.2 2049.7 2066.5 2049.7 2066.8 2049.7 2067.1 2049.7 2067.4 2049.7 2067.7 2049.7 2068 2049.7 2068.3 2049.7 2068.6 2049.7 2068.9 2049.7 2069.2 2049.7 2069.5 2049.7 2069.8 2049.7 2070.1 2049.7 2070.4 2049.7 2070.7 2049.7 2071 2049.7 2071.3 2049.7 2071.6 2049.7 2071.9 2049.7 2072.2 2049.7 2072.5 2049.7 2072.8 2049.7 2073.1 2049.7 2073.4 2049.7 2073.7 2049.7 2074 2049.7 2074.3 2049.7 2074.6 2049.7 2074.9 2049.7 2075.2 2049.7 2075.5 2049.7 2075.8 2049.7 2076.1 2049.7 2076.4 2049.7" fill="none" stroke="#000" stroke-width="2.2" stroke-linejoin="round"/>
<line x1="2029.2" y1="2049.9" x2="2029.2" y2="1917.9" stroke="#000" stroke-width="2.3" stroke-linecap="round"/>
<line x1="2023.7" y1="2049.9" x2="2023.7" y2="2044.5" stroke="#000" stroke-width="2.1" stroke-linecap="round"/>
<path d="M1994.9 2058.4 L1994.9 2050.9 L2077 2050.9 L2077 2058.4" stroke="#000" stroke-width="2.5" fill="none" stroke-linejoin="round" stroke-linecap="round"/>
<line x1="2035.95" y1="2050.9" x2="2035.95" y2="2055.5" stroke="#000" stroke-width="2.3" stroke-linecap="butt"/>
<text x="1967.78" y="2088.5" font-size="24.2" stroke="#000" stroke-width="0.45">2000</text>
<text x="2050" y="2088.5" font-size="24.2" stroke="#000" stroke-width="0.45">5000</text>
<text x="2002.01" y="2129.6" font-size="22.8" stroke="#000" stroke-width="0.45">M (Da)</text>
</svg>
</body></html>
